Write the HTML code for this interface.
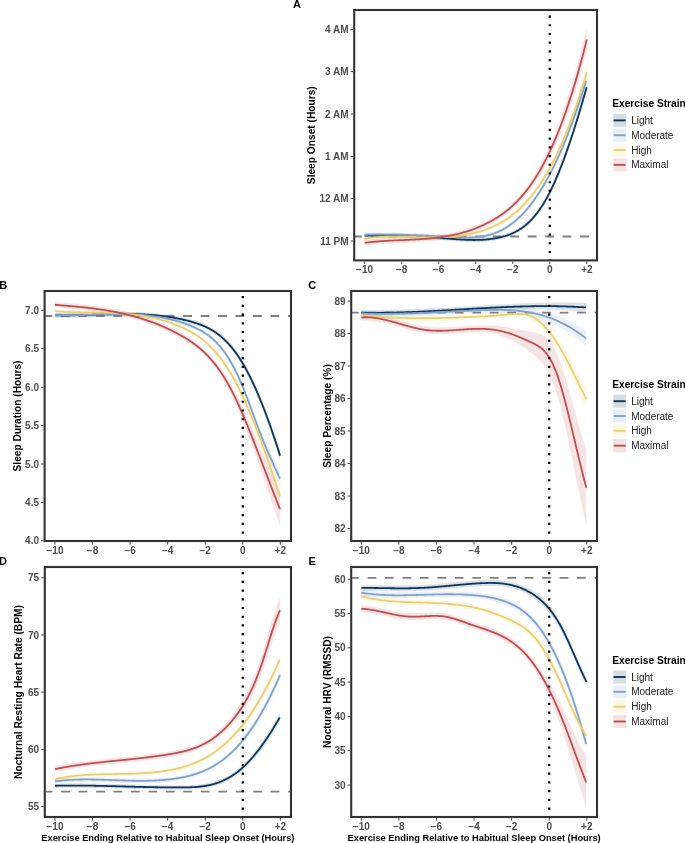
<!DOCTYPE html>
<html><head><meta charset="utf-8"><style>
html,body{margin:0;padding:0;background:#fff;}
body{width:685px;height:843px;overflow:hidden;}
svg{display:block;will-change:transform;}
text{font-family:"Liberation Sans",sans-serif;}
</style></head><body>
<svg width="685" height="843" viewBox="0 0 685 843" font-family="Liberation Sans, sans-serif">
<rect width="685" height="843" fill="#fff"/>
<text x="293.00" y="8.00" font-size="11.00" font-weight="bold" fill="#000" text-anchor="start" >A</text>
<text x="-0.80" y="288.70" font-size="11.00" font-weight="bold" fill="#000" text-anchor="start" >B</text>
<text x="308.20" y="289.00" font-size="11.00" font-weight="bold" fill="#000" text-anchor="start" >C</text>
<text x="-0.90" y="564.60" font-size="11.00" font-weight="bold" fill="#000" text-anchor="start" >D</text>
<text x="308.50" y="564.90" font-size="11.00" font-weight="bold" fill="#000" text-anchor="start" >E</text>
<clipPath id="c354_10"><rect x="354.20" y="10.00" width="242.80" height="250.40"/></clipPath>
<g clip-path="url(#c354_10)">
<path d="M364.60,233.45 L365.34,233.42 L366.09,233.39 L366.83,233.37 L367.57,233.34 L368.31,233.31 L369.06,233.29 L369.80,233.27 L370.54,233.25 L371.29,233.23 L372.03,233.21 L372.77,233.19 L373.51,233.18 L374.26,233.16 L375.00,233.15 L375.74,233.14 L376.48,233.13 L377.23,233.12 L377.97,233.11 L378.71,233.11 L379.46,233.10 L380.20,233.10 L380.94,233.09 L381.68,233.09 L382.43,233.09 L383.17,233.09 L383.91,233.09 L384.66,233.10 L385.40,233.10 L386.14,233.11 L386.88,233.11 L387.63,233.12 L388.37,233.13 L389.11,233.14 L389.86,233.15 L390.60,233.16 L391.34,233.18 L392.08,233.19 L392.83,233.20 L393.57,233.22 L394.31,233.24 L395.06,233.26 L395.80,233.27 L396.54,233.29 L397.28,233.32 L398.03,233.34 L398.77,233.36 L399.51,233.38 L400.25,233.41 L401.00,233.44 L401.74,233.46 L402.48,233.49 L403.23,233.52 L403.97,233.55 L404.71,233.58 L405.45,233.61 L406.20,233.64 L406.94,233.67 L407.68,233.71 L408.43,233.74 L409.17,233.78 L409.91,233.81 L410.65,233.85 L411.40,233.88 L412.14,233.92 L412.88,233.96 L413.63,234.00 L414.37,234.04 L415.11,234.08 L415.85,234.12 L416.60,234.17 L417.34,234.21 L418.08,234.25 L418.83,234.30 L419.57,234.34 L420.31,234.39 L421.05,234.43 L421.80,234.48 L422.54,234.53 L423.28,234.57 L424.02,234.62 L424.77,234.67 L425.51,234.72 L426.25,234.77 L427.00,234.82 L427.74,234.87 L428.48,234.92 L429.22,234.97 L429.97,235.03 L430.71,235.08 L431.45,235.13 L432.20,235.19 L432.94,235.24 L433.68,235.29 L434.42,235.35 L435.17,235.40 L435.91,235.46 L436.65,235.52 L437.40,235.57 L438.14,235.63 L438.88,235.69 L439.62,235.74 L440.37,235.80 L441.11,235.86 L441.85,235.92 L442.59,235.97 L443.34,236.03 L444.08,236.09 L444.82,236.15 L445.57,236.21 L446.31,236.27 L447.05,236.33 L447.79,236.39 L448.54,236.45 L449.28,236.51 L450.02,236.57 L450.77,236.63 L451.51,236.68 L452.25,236.74 L452.99,236.80 L453.74,236.86 L454.48,236.91 L455.22,236.97 L455.97,237.02 L456.71,237.07 L457.45,237.12 L458.19,237.17 L458.94,237.22 L459.68,237.27 L460.42,237.32 L461.17,237.36 L461.91,237.40 L462.65,237.44 L463.39,237.48 L464.14,237.52 L464.88,237.55 L465.62,237.59 L466.36,237.62 L467.11,237.65 L467.85,237.67 L468.59,237.69 L469.34,237.71 L470.08,237.73 L470.82,237.75 L471.56,237.76 L472.31,237.77 L473.05,237.78 L473.79,237.78 L474.54,237.78 L475.28,237.77 L476.02,237.77 L476.76,237.76 L477.51,237.74 L478.25,237.73 L478.99,237.70 L479.74,237.68 L480.48,237.65 L481.22,237.62 L481.96,237.58 L482.71,237.54 L483.45,237.49 L484.19,237.44 L484.94,237.39 L485.68,237.33 L486.42,237.26 L487.16,237.19 L487.91,237.12 L488.65,237.04 L489.39,236.96 L490.13,236.87 L490.88,236.77 L491.62,236.68 L492.36,236.57 L493.11,236.46 L493.85,236.34 L494.59,236.22 L495.33,236.10 L496.08,235.96 L496.82,235.82 L497.56,235.68 L498.31,235.53 L499.05,235.37 L499.79,235.21 L500.53,235.04 L501.28,234.86 L502.02,234.68 L502.76,234.49 L503.51,234.29 L504.25,234.08 L504.99,233.87 L505.73,233.64 L506.48,233.41 L507.22,233.16 L507.96,232.91 L508.71,232.65 L509.45,232.37 L510.19,232.09 L510.93,231.79 L511.68,231.48 L512.42,231.15 L513.16,230.82 L513.90,230.46 L514.65,230.10 L515.39,229.72 L516.13,229.33 L516.88,228.92 L517.62,228.49 L518.36,228.05 L519.10,227.59 L519.85,227.12 L520.59,226.63 L521.33,226.12 L522.08,225.59 L522.82,225.04 L523.56,224.48 L524.30,223.89 L525.05,223.29 L525.79,222.67 L526.53,222.02 L527.28,221.36 L528.02,220.67 L528.76,219.96 L529.50,219.23 L530.25,218.48 L530.99,217.71 L531.73,216.91 L532.47,216.09 L533.22,215.25 L533.96,214.38 L534.70,213.48 L535.45,212.57 L536.19,211.62 L536.93,210.65 L537.67,209.66 L538.42,208.63 L539.16,207.58 L539.90,206.51 L540.65,205.40 L541.39,204.27 L542.13,203.11 L542.87,201.92 L543.62,200.70 L544.36,199.45 L545.10,198.17 L545.85,196.86 L546.59,195.52 L547.33,194.15 L548.07,192.75 L548.82,191.31 L549.56,189.84 L550.30,188.34 L551.05,186.81 L551.79,185.24 L552.53,183.65 L553.27,182.02 L554.02,180.36 L554.76,178.67 L555.50,176.95 L556.24,175.21 L556.99,173.43 L557.73,171.62 L558.47,169.78 L559.22,167.92 L559.96,166.03 L560.70,164.11 L561.44,162.16 L562.19,160.18 L562.93,158.18 L563.67,156.15 L564.42,154.10 L565.16,152.02 L565.90,149.92 L566.64,147.79 L567.39,145.63 L568.13,143.45 L568.87,141.25 L569.62,139.02 L570.36,136.78 L571.10,134.50 L571.84,132.21 L572.59,129.89 L573.33,127.56 L574.07,125.20 L574.82,122.82 L575.56,120.41 L576.30,117.99 L577.04,115.55 L577.79,113.09 L578.53,110.61 L579.27,108.11 L580.01,105.59 L580.76,103.06 L581.50,100.50 L582.24,97.93 L582.99,95.34 L583.73,92.74 L584.47,90.11 L585.21,87.48 L585.96,84.82 L586.70,82.15 L586.70,92.15 L585.96,94.71 L585.21,97.26 L584.47,99.79 L583.73,102.31 L582.99,104.81 L582.24,107.30 L581.50,109.77 L580.76,112.22 L580.01,114.66 L579.27,117.08 L578.53,119.48 L577.79,121.86 L577.04,124.23 L576.30,126.58 L575.56,128.91 L574.82,131.21 L574.07,133.50 L573.33,135.77 L572.59,138.02 L571.84,140.25 L571.10,142.46 L570.36,144.64 L569.62,146.81 L568.87,148.95 L568.13,151.07 L567.39,153.17 L566.64,155.24 L565.90,157.29 L565.16,159.32 L564.42,161.32 L563.67,163.30 L562.93,165.25 L562.19,167.18 L561.44,169.08 L560.70,170.95 L559.96,172.80 L559.22,174.62 L558.47,176.42 L557.73,178.19 L556.99,179.93 L556.24,181.64 L555.50,183.33 L554.76,184.98 L554.02,186.61 L553.27,188.20 L552.53,189.77 L551.79,191.31 L551.05,192.81 L550.30,194.29 L549.56,195.73 L548.82,197.14 L548.07,198.53 L547.33,199.88 L546.59,201.20 L545.85,202.48 L545.10,203.74 L544.36,204.97 L543.62,206.18 L542.87,207.35 L542.13,208.49 L541.39,209.61 L540.65,210.70 L539.90,211.76 L539.16,212.79 L538.42,213.80 L537.67,214.79 L536.93,215.74 L536.19,216.67 L535.45,217.58 L534.70,218.47 L533.96,219.32 L533.22,220.16 L532.47,220.97 L531.73,221.76 L530.99,222.53 L530.25,223.27 L529.50,224.00 L528.76,224.70 L528.02,225.38 L527.28,226.04 L526.53,226.68 L525.79,227.30 L525.05,227.90 L524.30,228.49 L523.56,229.05 L522.82,229.60 L522.08,230.13 L521.33,230.64 L520.59,231.13 L519.85,231.61 L519.10,232.07 L518.36,232.52 L517.62,232.95 L516.88,233.36 L516.13,233.76 L515.39,234.15 L514.65,234.52 L513.90,234.88 L513.16,235.23 L512.42,235.56 L511.68,235.88 L510.93,236.19 L510.19,236.49 L509.45,236.77 L508.71,237.05 L507.96,237.31 L507.22,237.56 L506.48,237.81 L505.73,238.04 L504.99,238.27 L504.25,238.48 L503.51,238.69 L502.76,238.89 L502.02,239.08 L501.28,239.26 L500.53,239.44 L499.79,239.61 L499.05,239.77 L498.31,239.93 L497.56,240.08 L496.82,240.22 L496.08,240.36 L495.33,240.50 L494.59,240.62 L493.85,240.74 L493.11,240.86 L492.36,240.97 L491.62,241.08 L490.88,241.17 L490.13,241.27 L489.39,241.36 L488.65,241.44 L487.91,241.52 L487.16,241.59 L486.42,241.66 L485.68,241.73 L484.94,241.79 L484.19,241.84 L483.45,241.89 L482.71,241.94 L481.96,241.98 L481.22,242.02 L480.48,242.05 L479.74,242.08 L478.99,242.10 L478.25,242.13 L477.51,242.14 L476.76,242.16 L476.02,242.17 L475.28,242.17 L474.54,242.18 L473.79,242.18 L473.05,242.18 L472.31,242.17 L471.56,242.16 L470.82,242.15 L470.08,242.13 L469.34,242.11 L468.59,242.09 L467.85,242.07 L467.11,242.05 L466.36,242.02 L465.62,241.99 L464.88,241.95 L464.14,241.92 L463.39,241.88 L462.65,241.84 L461.91,241.80 L461.17,241.76 L460.42,241.72 L459.68,241.67 L458.94,241.62 L458.19,241.57 L457.45,241.52 L456.71,241.47 L455.97,241.42 L455.22,241.37 L454.48,241.31 L453.74,241.26 L452.99,241.20 L452.25,241.14 L451.51,241.08 L450.77,241.03 L450.02,240.97 L449.28,240.91 L448.54,240.85 L447.79,240.79 L447.05,240.73 L446.31,240.67 L445.57,240.61 L444.82,240.55 L444.08,240.49 L443.34,240.43 L442.59,240.37 L441.85,240.32 L441.11,240.26 L440.37,240.20 L439.62,240.14 L438.88,240.09 L438.14,240.03 L437.40,239.97 L436.65,239.92 L435.91,239.86 L435.17,239.80 L434.42,239.75 L433.68,239.69 L432.94,239.64 L432.20,239.59 L431.45,239.53 L430.71,239.48 L429.97,239.43 L429.22,239.37 L428.48,239.32 L427.74,239.27 L427.00,239.22 L426.25,239.17 L425.51,239.12 L424.77,239.07 L424.02,239.02 L423.28,238.97 L422.54,238.93 L421.80,238.88 L421.05,238.83 L420.31,238.79 L419.57,238.74 L418.83,238.70 L418.08,238.65 L417.34,238.61 L416.60,238.57 L415.85,238.52 L415.11,238.48 L414.37,238.44 L413.63,238.40 L412.88,238.36 L412.14,238.32 L411.40,238.28 L410.65,238.25 L409.91,238.21 L409.17,238.18 L408.43,238.14 L407.68,238.11 L406.94,238.07 L406.20,238.04 L405.45,238.01 L404.71,237.98 L403.97,237.95 L403.23,237.92 L402.48,237.89 L401.74,237.86 L401.00,237.84 L400.25,237.81 L399.51,237.78 L398.77,237.76 L398.03,237.74 L397.28,237.72 L396.54,237.69 L395.80,237.67 L395.06,237.66 L394.31,237.64 L393.57,237.62 L392.83,237.60 L392.08,237.59 L391.34,237.58 L390.60,237.56 L389.86,237.55 L389.11,237.54 L388.37,237.53 L387.63,237.52 L386.88,237.51 L386.14,237.51 L385.40,237.50 L384.66,237.50 L383.91,237.49 L383.17,237.49 L382.43,237.49 L381.68,237.49 L380.94,237.49 L380.20,237.50 L379.46,237.50 L378.71,237.51 L377.97,237.51 L377.23,237.52 L376.48,237.53 L375.74,237.54 L375.00,237.55 L374.26,237.56 L373.51,237.58 L372.77,237.59 L372.03,237.61 L371.29,237.63 L370.54,237.65 L369.80,237.67 L369.06,237.69 L368.31,237.71 L367.57,237.74 L366.83,237.77 L366.09,237.79 L365.34,237.82 L364.60,237.85 Z" fill="#0c365a" fill-opacity="0.15" stroke="none"/>
<path d="M364.60,232.58 L365.34,232.56 L366.08,232.55 L366.82,232.53 L367.57,232.51 L368.31,232.50 L369.05,232.48 L369.79,232.47 L370.53,232.46 L371.27,232.45 L372.01,232.44 L372.76,232.43 L373.50,232.42 L374.24,232.41 L374.98,232.40 L375.72,232.39 L376.46,232.39 L377.21,232.38 L377.95,232.38 L378.69,232.37 L379.43,232.37 L380.17,232.37 L380.91,232.37 L381.65,232.37 L382.40,232.37 L383.14,232.37 L383.88,232.37 L384.62,232.37 L385.36,232.37 L386.10,232.38 L386.84,232.38 L387.59,232.39 L388.33,232.39 L389.07,232.40 L389.81,232.41 L390.55,232.42 L391.29,232.42 L392.03,232.43 L392.78,232.44 L393.52,232.45 L394.26,232.46 L395.00,232.48 L395.74,232.49 L396.48,232.50 L397.22,232.52 L397.97,232.53 L398.71,232.54 L399.45,232.56 L400.19,232.58 L400.93,232.59 L401.67,232.61 L402.42,232.63 L403.16,232.65 L403.90,232.67 L404.64,232.68 L405.38,232.70 L406.12,232.73 L406.86,232.75 L407.61,232.77 L408.35,232.79 L409.09,232.81 L409.83,232.84 L410.57,232.86 L411.31,232.88 L412.05,232.91 L412.80,232.93 L413.54,232.96 L414.28,232.99 L415.02,233.01 L415.76,233.04 L416.50,233.07 L417.24,233.10 L417.99,233.12 L418.73,233.15 L419.47,233.18 L420.21,233.21 L420.95,233.24 L421.69,233.27 L422.43,233.30 L423.18,233.33 L423.92,233.37 L424.66,233.40 L425.40,233.43 L426.14,233.46 L426.88,233.50 L427.63,233.53 L428.37,233.57 L429.11,233.60 L429.85,233.63 L430.59,233.67 L431.33,233.70 L432.07,233.74 L432.82,233.78 L433.56,233.81 L434.30,233.85 L435.04,233.89 L435.78,233.92 L436.52,233.96 L437.26,234.00 L438.01,234.04 L438.75,234.08 L439.49,234.11 L440.23,234.15 L440.97,234.19 L441.71,234.23 L442.45,234.27 L443.20,234.31 L443.94,234.35 L444.68,234.39 L445.42,234.43 L446.16,234.47 L446.90,234.51 L447.64,234.55 L448.39,234.60 L449.13,234.64 L449.87,234.68 L450.61,234.72 L451.35,234.76 L452.09,234.81 L452.84,234.85 L453.58,234.89 L454.32,234.93 L455.06,234.97 L455.80,235.01 L456.54,235.04 L457.28,235.08 L458.03,235.12 L458.77,235.15 L459.51,235.18 L460.25,235.21 L460.99,235.24 L461.73,235.26 L462.47,235.28 L463.22,235.30 L463.96,235.32 L464.70,235.33 L465.44,235.34 L466.18,235.35 L466.92,235.35 L467.66,235.35 L468.41,235.34 L469.15,235.33 L469.89,235.32 L470.63,235.30 L471.37,235.27 L472.11,235.24 L472.85,235.21 L473.60,235.17 L474.34,235.12 L475.08,235.07 L475.82,235.02 L476.56,234.95 L477.30,234.88 L478.05,234.81 L478.79,234.73 L479.53,234.64 L480.27,234.54 L481.01,234.44 L481.75,234.33 L482.49,234.21 L483.24,234.08 L483.98,233.95 L484.72,233.81 L485.46,233.65 L486.20,233.50 L486.94,233.33 L487.68,233.15 L488.43,232.97 L489.17,232.77 L489.91,232.57 L490.65,232.35 L491.39,232.13 L492.13,231.90 L492.87,231.65 L493.62,231.40 L494.36,231.14 L495.10,230.86 L495.84,230.57 L496.58,230.28 L497.32,229.97 L498.06,229.65 L498.81,229.32 L499.55,228.98 L500.29,228.62 L501.03,228.25 L501.77,227.88 L502.51,227.48 L503.26,227.08 L504.00,226.66 L504.74,226.23 L505.48,225.79 L506.22,225.34 L506.96,224.87 L507.70,224.39 L508.45,223.89 L509.19,223.39 L509.93,222.86 L510.67,222.33 L511.41,221.78 L512.15,221.22 L512.89,220.64 L513.64,220.05 L514.38,219.44 L515.12,218.82 L515.86,218.18 L516.60,217.53 L517.34,216.86 L518.08,216.18 L518.83,215.49 L519.57,214.77 L520.31,214.05 L521.05,213.30 L521.79,212.54 L522.53,211.77 L523.27,210.98 L524.02,210.17 L524.76,209.35 L525.50,208.51 L526.24,207.65 L526.98,206.78 L527.72,205.89 L528.47,204.99 L529.21,204.06 L529.95,203.12 L530.69,202.17 L531.43,201.20 L532.17,200.20 L532.91,199.20 L533.66,198.17 L534.40,197.13 L535.14,196.07 L535.88,194.99 L536.62,193.89 L537.36,192.78 L538.10,191.65 L538.85,190.50 L539.59,189.33 L540.33,188.14 L541.07,186.93 L541.81,185.71 L542.55,184.46 L543.29,183.20 L544.04,181.92 L544.78,180.62 L545.52,179.30 L546.26,177.96 L547.00,176.60 L547.74,175.23 L548.48,173.83 L549.23,172.41 L549.97,170.98 L550.71,169.52 L551.45,168.04 L552.19,166.55 L552.93,165.03 L553.68,163.50 L554.42,161.94 L555.16,160.37 L555.90,158.77 L556.64,157.16 L557.38,155.52 L558.12,153.87 L558.87,152.19 L559.61,150.50 L560.35,148.78 L561.09,147.04 L561.83,145.29 L562.57,143.51 L563.31,141.72 L564.06,139.90 L564.80,138.06 L565.54,136.20 L566.28,134.32 L567.02,132.43 L567.76,130.51 L568.50,128.57 L569.25,126.60 L569.99,124.62 L570.73,122.62 L571.47,120.60 L572.21,118.55 L572.95,116.49 L573.69,114.40 L574.44,112.30 L575.18,110.17 L575.92,108.02 L576.66,105.85 L577.40,103.66 L578.14,101.44 L578.89,99.21 L579.63,96.96 L580.37,94.68 L581.11,92.38 L581.85,90.06 L582.59,87.72 L583.33,85.36 L584.08,82.98 L584.82,80.57 L585.56,78.15 L586.30,75.70 L586.30,85.70 L585.56,88.04 L584.82,90.36 L584.08,92.66 L583.33,94.93 L582.59,97.19 L581.85,99.43 L581.11,101.65 L580.37,103.84 L579.63,106.02 L578.89,108.18 L578.14,110.31 L577.40,112.43 L576.66,114.52 L575.92,116.60 L575.18,118.65 L574.44,120.69 L573.69,122.70 L572.95,124.70 L572.21,126.68 L571.47,128.63 L570.73,130.57 L569.99,132.48 L569.25,134.38 L568.50,136.26 L567.76,138.12 L567.02,139.95 L566.28,141.77 L565.54,143.57 L564.80,145.35 L564.06,147.11 L563.31,148.85 L562.57,150.57 L561.83,152.27 L561.09,153.96 L560.35,155.62 L559.61,157.26 L558.87,158.89 L558.12,160.49 L557.38,162.08 L556.64,163.65 L555.90,165.20 L555.16,166.73 L554.42,168.24 L553.68,169.73 L552.93,171.21 L552.19,172.66 L551.45,174.10 L550.71,175.51 L549.97,176.91 L549.23,178.29 L548.48,179.65 L547.74,181.00 L547.00,182.32 L546.26,183.63 L545.52,184.91 L544.78,186.18 L544.04,187.44 L543.29,188.67 L542.55,189.88 L541.81,191.08 L541.07,192.26 L540.33,193.42 L539.59,194.57 L538.85,195.70 L538.10,196.81 L537.36,197.90 L536.62,198.97 L535.88,200.03 L535.14,201.08 L534.40,202.10 L533.66,203.11 L532.91,204.10 L532.17,205.08 L531.43,206.04 L530.69,206.98 L529.95,207.91 L529.21,208.82 L528.47,209.71 L527.72,210.59 L526.98,211.46 L526.24,212.31 L525.50,213.14 L524.76,213.96 L524.02,214.76 L523.27,215.55 L522.53,216.32 L521.79,217.08 L521.05,217.82 L520.31,218.55 L519.57,219.26 L518.83,219.96 L518.08,220.65 L517.34,221.32 L516.60,221.97 L515.86,222.62 L515.12,223.24 L514.38,223.86 L513.64,224.46 L512.89,225.05 L512.15,225.62 L511.41,226.18 L510.67,226.73 L509.93,227.26 L509.19,227.79 L508.45,228.29 L507.70,228.79 L506.96,229.27 L506.22,229.74 L505.48,230.19 L504.74,230.63 L504.00,231.06 L503.26,231.48 L502.51,231.88 L501.77,232.28 L501.03,232.65 L500.29,233.02 L499.55,233.38 L498.81,233.72 L498.06,234.05 L497.32,234.37 L496.58,234.68 L495.84,234.97 L495.10,235.26 L494.36,235.54 L493.62,235.80 L492.87,236.05 L492.13,236.30 L491.39,236.53 L490.65,236.75 L489.91,236.97 L489.17,237.17 L488.43,237.37 L487.68,237.55 L486.94,237.73 L486.20,237.90 L485.46,238.05 L484.72,238.21 L483.98,238.35 L483.24,238.48 L482.49,238.61 L481.75,238.73 L481.01,238.84 L480.27,238.94 L479.53,239.04 L478.79,239.13 L478.05,239.21 L477.30,239.28 L476.56,239.35 L475.82,239.42 L475.08,239.47 L474.34,239.52 L473.60,239.57 L472.85,239.61 L472.11,239.64 L471.37,239.67 L470.63,239.70 L469.89,239.72 L469.15,239.73 L468.41,239.74 L467.66,239.75 L466.92,239.75 L466.18,239.75 L465.44,239.74 L464.70,239.73 L463.96,239.72 L463.22,239.70 L462.47,239.68 L461.73,239.66 L460.99,239.64 L460.25,239.61 L459.51,239.58 L458.77,239.55 L458.03,239.52 L457.28,239.48 L456.54,239.44 L455.80,239.41 L455.06,239.37 L454.32,239.33 L453.58,239.29 L452.84,239.25 L452.09,239.21 L451.35,239.16 L450.61,239.12 L449.87,239.08 L449.13,239.04 L448.39,239.00 L447.64,238.95 L446.90,238.91 L446.16,238.87 L445.42,238.83 L444.68,238.79 L443.94,238.75 L443.20,238.71 L442.45,238.67 L441.71,238.63 L440.97,238.59 L440.23,238.55 L439.49,238.51 L438.75,238.48 L438.01,238.44 L437.26,238.40 L436.52,238.36 L435.78,238.32 L435.04,238.29 L434.30,238.25 L433.56,238.21 L432.82,238.18 L432.07,238.14 L431.33,238.10 L430.59,238.07 L429.85,238.03 L429.11,238.00 L428.37,237.97 L427.63,237.93 L426.88,237.90 L426.14,237.86 L425.40,237.83 L424.66,237.80 L423.92,237.77 L423.18,237.73 L422.43,237.70 L421.69,237.67 L420.95,237.64 L420.21,237.61 L419.47,237.58 L418.73,237.55 L417.99,237.52 L417.24,237.50 L416.50,237.47 L415.76,237.44 L415.02,237.41 L414.28,237.39 L413.54,237.36 L412.80,237.33 L412.05,237.31 L411.31,237.28 L410.57,237.26 L409.83,237.24 L409.09,237.21 L408.35,237.19 L407.61,237.17 L406.86,237.15 L406.12,237.13 L405.38,237.10 L404.64,237.08 L403.90,237.07 L403.16,237.05 L402.42,237.03 L401.67,237.01 L400.93,236.99 L400.19,236.98 L399.45,236.96 L398.71,236.94 L397.97,236.93 L397.22,236.92 L396.48,236.90 L395.74,236.89 L395.00,236.88 L394.26,236.86 L393.52,236.85 L392.78,236.84 L392.03,236.83 L391.29,236.82 L390.55,236.82 L389.81,236.81 L389.07,236.80 L388.33,236.79 L387.59,236.79 L386.84,236.78 L386.10,236.78 L385.36,236.77 L384.62,236.77 L383.88,236.77 L383.14,236.77 L382.40,236.77 L381.65,236.77 L380.91,236.77 L380.17,236.77 L379.43,236.77 L378.69,236.77 L377.95,236.78 L377.21,236.78 L376.46,236.79 L375.72,236.79 L374.98,236.80 L374.24,236.81 L373.50,236.82 L372.76,236.83 L372.01,236.84 L371.27,236.85 L370.53,236.86 L369.79,236.87 L369.05,236.88 L368.31,236.90 L367.57,236.91 L366.82,236.93 L366.08,236.95 L365.34,236.96 L364.60,236.98 Z" fill="#7da2cf" fill-opacity="0.15" stroke="none"/>
<path d="M364.60,236.50 L365.34,236.38 L366.09,236.27 L366.83,236.16 L367.57,236.06 L368.32,235.96 L369.06,235.86 L369.80,235.76 L370.55,235.67 L371.29,235.59 L372.03,235.51 L372.77,235.43 L373.52,235.35 L374.26,235.28 L375.00,235.21 L375.75,235.15 L376.49,235.08 L377.23,235.03 L377.98,234.97 L378.72,234.92 L379.46,234.87 L380.21,234.82 L380.95,234.78 L381.69,234.74 L382.44,234.70 L383.18,234.66 L383.92,234.63 L384.66,234.60 L385.41,234.57 L386.15,234.55 L386.89,234.53 L387.64,234.51 L388.38,234.49 L389.12,234.47 L389.87,234.46 L390.61,234.45 L391.35,234.44 L392.10,234.43 L392.84,234.42 L393.58,234.42 L394.33,234.42 L395.07,234.41 L395.81,234.42 L396.56,234.42 L397.30,234.42 L398.04,234.43 L398.78,234.43 L399.53,234.44 L400.27,234.45 L401.01,234.46 L401.76,234.47 L402.50,234.49 L403.24,234.50 L403.99,234.51 L404.73,234.53 L405.47,234.55 L406.22,234.56 L406.96,234.58 L407.70,234.60 L408.45,234.62 L409.19,234.64 L409.93,234.66 L410.67,234.68 L411.42,234.70 L412.16,234.72 L412.90,234.74 L413.65,234.76 L414.39,234.78 L415.13,234.80 L415.88,234.82 L416.62,234.84 L417.36,234.86 L418.11,234.89 L418.85,234.90 L419.59,234.92 L420.34,234.94 L421.08,234.96 L421.82,234.98 L422.57,235.00 L423.31,235.01 L424.05,235.03 L424.79,235.04 L425.54,235.06 L426.28,235.07 L427.02,235.08 L427.77,235.09 L428.51,235.10 L429.25,235.11 L430.00,235.12 L430.74,235.13 L431.48,235.13 L432.23,235.13 L432.97,235.13 L433.71,235.13 L434.46,235.13 L435.20,235.13 L435.94,235.12 L436.68,235.12 L437.43,235.11 L438.17,235.10 L438.91,235.08 L439.66,235.07 L440.40,235.05 L441.14,235.03 L441.89,235.01 L442.63,234.98 L443.37,234.96 L444.12,234.93 L444.86,234.90 L445.60,234.86 L446.35,234.82 L447.09,234.78 L447.83,234.74 L448.58,234.70 L449.32,234.65 L450.06,234.60 L450.80,234.54 L451.55,234.48 L452.29,234.42 L453.03,234.36 L453.78,234.29 L454.52,234.22 L455.26,234.15 L456.01,234.07 L456.75,233.99 L457.49,233.90 L458.24,233.81 L458.98,233.72 L459.72,233.62 L460.47,233.52 L461.21,233.42 L461.95,233.31 L462.69,233.20 L463.44,233.08 L464.18,232.96 L464.92,232.84 L465.67,232.71 L466.41,232.57 L467.15,232.44 L467.90,232.29 L468.64,232.15 L469.38,232.00 L470.13,231.84 L470.87,231.68 L471.61,231.51 L472.36,231.34 L473.10,231.16 L473.84,230.98 L474.59,230.80 L475.33,230.61 L476.07,230.41 L476.81,230.21 L477.56,230.00 L478.30,229.79 L479.04,229.57 L479.79,229.35 L480.53,229.12 L481.27,228.88 L482.02,228.64 L482.76,228.40 L483.50,228.14 L484.25,227.89 L484.99,227.62 L485.73,227.35 L486.48,227.08 L487.22,226.79 L487.96,226.51 L488.71,226.21 L489.45,225.91 L490.19,225.60 L490.93,225.29 L491.68,224.97 L492.42,224.64 L493.16,224.31 L493.91,223.97 L494.65,223.62 L495.39,223.26 L496.14,222.90 L496.88,222.53 L497.62,222.15 L498.37,221.76 L499.11,221.37 L499.85,220.96 L500.60,220.55 L501.34,220.13 L502.08,219.70 L502.82,219.26 L503.57,218.82 L504.31,218.36 L505.05,217.89 L505.80,217.42 L506.54,216.93 L507.28,216.44 L508.03,215.93 L508.77,215.41 L509.51,214.89 L510.26,214.35 L511.00,213.80 L511.74,213.24 L512.49,212.66 L513.23,212.08 L513.97,211.48 L514.72,210.87 L515.46,210.25 L516.20,209.61 L516.94,208.97 L517.69,208.30 L518.43,207.63 L519.17,206.94 L519.92,206.24 L520.66,205.52 L521.40,204.79 L522.15,204.05 L522.89,203.29 L523.63,202.52 L524.38,201.73 L525.12,200.93 L525.86,200.11 L526.61,199.28 L527.35,198.44 L528.09,197.57 L528.83,196.69 L529.58,195.80 L530.32,194.89 L531.06,193.96 L531.81,193.02 L532.55,192.06 L533.29,191.08 L534.04,190.09 L534.78,189.08 L535.52,188.05 L536.27,187.01 L537.01,185.95 L537.75,184.87 L538.50,183.77 L539.24,182.66 L539.98,181.52 L540.73,180.37 L541.47,179.20 L542.21,178.01 L542.95,176.80 L543.70,175.58 L544.44,174.33 L545.18,173.06 L545.93,171.78 L546.67,170.47 L547.41,169.15 L548.16,167.80 L548.90,166.44 L549.64,165.05 L550.39,163.65 L551.13,162.22 L551.87,160.77 L552.62,159.30 L553.36,157.81 L554.10,156.30 L554.84,154.77 L555.59,153.21 L556.33,151.64 L557.07,150.04 L557.82,148.42 L558.56,146.77 L559.30,145.11 L560.05,143.42 L560.79,141.71 L561.53,139.97 L562.28,138.22 L563.02,136.43 L563.76,134.63 L564.51,132.80 L565.25,130.95 L565.99,129.07 L566.74,127.17 L567.48,125.24 L568.22,123.29 L568.96,121.32 L569.71,119.32 L570.45,117.29 L571.19,115.24 L571.94,113.17 L572.68,111.07 L573.42,108.94 L574.17,106.79 L574.91,104.61 L575.65,102.40 L576.40,100.17 L577.14,97.91 L577.88,95.62 L578.63,93.31 L579.37,90.97 L580.11,88.60 L580.85,86.21 L581.60,83.79 L582.34,81.34 L583.08,78.86 L583.83,76.35 L584.57,73.82 L585.31,71.26 L586.06,68.66 L586.80,66.04 L586.80,78.04 L586.06,80.52 L585.31,82.96 L584.57,85.38 L583.83,87.78 L583.08,90.14 L582.34,92.48 L581.60,94.79 L580.85,97.08 L580.11,99.34 L579.37,101.57 L578.63,103.78 L577.88,105.96 L577.14,108.12 L576.40,110.25 L575.65,112.35 L574.91,114.43 L574.17,116.49 L573.42,118.52 L572.68,120.53 L571.94,122.51 L571.19,124.47 L570.45,126.40 L569.71,128.31 L568.96,130.20 L568.22,132.06 L567.48,133.90 L566.74,135.72 L565.99,137.51 L565.25,139.28 L564.51,141.03 L563.76,142.75 L563.02,144.46 L562.28,146.14 L561.53,147.80 L560.79,149.43 L560.05,151.05 L559.30,152.64 L558.56,154.21 L557.82,155.76 L557.07,157.29 L556.33,158.80 L555.59,160.29 L554.84,161.76 L554.10,163.21 L553.36,164.64 L552.62,166.04 L551.87,167.43 L551.13,168.80 L550.39,170.15 L549.64,171.48 L548.90,172.79 L548.16,174.08 L547.41,175.35 L546.67,176.61 L545.93,177.84 L545.18,179.06 L544.44,180.26 L543.70,181.44 L542.95,182.60 L542.21,183.75 L541.47,184.88 L540.73,185.99 L539.98,187.08 L539.24,188.16 L538.50,189.22 L537.75,190.26 L537.01,191.29 L536.27,192.30 L535.52,193.29 L534.78,194.27 L534.04,195.24 L533.29,196.18 L532.55,197.12 L531.81,198.03 L531.06,198.93 L530.32,199.82 L529.58,200.69 L528.83,201.55 L528.09,202.39 L527.35,203.22 L526.61,204.04 L525.86,204.84 L525.12,205.63 L524.38,206.40 L523.63,207.16 L522.89,207.91 L522.15,208.64 L521.40,209.36 L520.66,210.07 L519.92,210.77 L519.17,211.45 L518.43,212.12 L517.69,212.78 L516.94,213.43 L516.20,214.06 L515.46,214.69 L514.72,215.30 L513.97,215.90 L513.23,216.49 L512.49,217.07 L511.74,217.64 L511.00,218.20 L510.26,218.75 L509.51,219.29 L508.77,219.81 L508.03,220.33 L507.28,220.84 L506.54,221.33 L505.80,221.82 L505.05,222.29 L504.31,222.76 L503.57,223.22 L502.82,223.66 L502.08,224.10 L501.34,224.53 L500.60,224.95 L499.85,225.36 L499.11,225.77 L498.37,226.16 L497.62,226.55 L496.88,226.93 L496.14,227.30 L495.39,227.66 L494.65,228.02 L493.91,228.37 L493.16,228.71 L492.42,229.04 L491.68,229.37 L490.93,229.69 L490.19,230.00 L489.45,230.31 L488.71,230.61 L487.96,230.91 L487.22,231.19 L486.48,231.48 L485.73,231.75 L484.99,232.02 L484.25,232.29 L483.50,232.54 L482.76,232.80 L482.02,233.04 L481.27,233.28 L480.53,233.52 L479.79,233.75 L479.04,233.97 L478.30,234.19 L477.56,234.40 L476.81,234.61 L476.07,234.81 L475.33,235.01 L474.59,235.20 L473.84,235.38 L473.10,235.56 L472.36,235.74 L471.61,235.91 L470.87,236.08 L470.13,236.24 L469.38,236.40 L468.64,236.55 L467.90,236.69 L467.15,236.84 L466.41,236.97 L465.67,237.11 L464.92,237.24 L464.18,237.36 L463.44,237.48 L462.69,237.60 L461.95,237.71 L461.21,237.82 L460.47,237.92 L459.72,238.02 L458.98,238.12 L458.24,238.21 L457.49,238.30 L456.75,238.39 L456.01,238.47 L455.26,238.55 L454.52,238.62 L453.78,238.69 L453.03,238.76 L452.29,238.82 L451.55,238.88 L450.80,238.94 L450.06,239.00 L449.32,239.05 L448.58,239.10 L447.83,239.14 L447.09,239.18 L446.35,239.22 L445.60,239.26 L444.86,239.30 L444.12,239.33 L443.37,239.36 L442.63,239.38 L441.89,239.41 L441.14,239.43 L440.40,239.45 L439.66,239.47 L438.91,239.48 L438.17,239.50 L437.43,239.51 L436.68,239.52 L435.94,239.52 L435.20,239.53 L434.46,239.53 L433.71,239.53 L432.97,239.53 L432.23,239.53 L431.48,239.53 L430.74,239.53 L430.00,239.52 L429.25,239.51 L428.51,239.50 L427.77,239.49 L427.02,239.48 L426.28,239.47 L425.54,239.46 L424.79,239.44 L424.05,239.43 L423.31,239.41 L422.57,239.40 L421.82,239.38 L421.08,239.36 L420.34,239.34 L419.59,239.32 L418.85,239.30 L418.11,239.29 L417.36,239.26 L416.62,239.24 L415.88,239.22 L415.13,239.20 L414.39,239.18 L413.65,239.16 L412.90,239.14 L412.16,239.12 L411.42,239.10 L410.67,239.08 L409.93,239.06 L409.19,239.04 L408.45,239.02 L407.70,239.00 L406.96,238.98 L406.22,238.96 L405.47,238.95 L404.73,238.93 L403.99,238.91 L403.24,238.90 L402.50,238.89 L401.76,238.87 L401.01,238.86 L400.27,238.85 L399.53,238.84 L398.78,238.83 L398.04,238.83 L397.30,238.82 L396.56,238.82 L395.81,238.82 L395.07,238.81 L394.33,238.82 L393.58,238.82 L392.84,238.82 L392.10,238.83 L391.35,238.84 L390.61,238.85 L389.87,238.86 L389.12,238.87 L388.38,238.89 L387.64,238.91 L386.89,238.93 L386.15,238.95 L385.41,238.97 L384.66,239.00 L383.92,239.03 L383.18,239.06 L382.44,239.10 L381.69,239.14 L380.95,239.18 L380.21,239.22 L379.46,239.27 L378.72,239.32 L377.98,239.37 L377.23,239.43 L376.49,239.48 L375.75,239.55 L375.00,239.61 L374.26,239.68 L373.52,239.75 L372.77,239.83 L372.03,239.91 L371.29,239.99 L370.55,240.07 L369.80,240.16 L369.06,240.26 L368.32,240.36 L367.57,240.46 L366.83,240.56 L366.09,240.67 L365.34,240.78 L364.60,240.90 Z" fill="#eccf6c" fill-opacity="0.15" stroke="none"/>
<path d="M364.60,240.02 L365.34,239.92 L366.09,239.83 L366.83,239.74 L367.57,239.65 L368.32,239.56 L369.06,239.48 L369.80,239.40 L370.55,239.32 L371.29,239.24 L372.03,239.17 L372.77,239.10 L373.52,239.03 L374.26,238.96 L375.00,238.89 L375.75,238.82 L376.49,238.76 L377.23,238.70 L377.98,238.64 L378.72,238.58 L379.46,238.53 L380.21,238.47 L380.95,238.42 L381.69,238.37 L382.44,238.32 L383.18,238.27 L383.92,238.22 L384.66,238.17 L385.41,238.13 L386.15,238.08 L386.89,238.04 L387.64,238.00 L388.38,237.96 L389.12,237.92 L389.87,237.88 L390.61,237.84 L391.35,237.80 L392.10,237.77 L392.84,237.73 L393.58,237.69 L394.33,237.66 L395.07,237.62 L395.81,237.59 L396.56,237.56 L397.30,237.52 L398.04,237.49 L398.78,237.46 L399.53,237.42 L400.27,237.39 L401.01,237.36 L401.76,237.33 L402.50,237.29 L403.24,237.26 L403.99,237.23 L404.73,237.20 L405.47,237.16 L406.22,237.13 L406.96,237.10 L407.70,237.06 L408.45,237.03 L409.19,236.99 L409.93,236.96 L410.67,236.92 L411.42,236.89 L412.16,236.85 L412.90,236.81 L413.65,236.77 L414.39,236.73 L415.13,236.69 L415.88,236.65 L416.62,236.61 L417.36,236.57 L418.11,236.52 L418.85,236.48 L419.59,236.43 L420.34,236.38 L421.08,236.33 L421.82,236.28 L422.57,236.23 L423.31,236.17 L424.05,236.12 L424.79,236.06 L425.54,236.00 L426.28,235.94 L427.02,235.88 L427.77,235.82 L428.51,235.75 L429.25,235.68 L430.00,235.62 L430.74,235.54 L431.48,235.47 L432.23,235.40 L432.97,235.32 L433.71,235.24 L434.46,235.16 L435.20,235.07 L435.94,234.98 L436.68,234.90 L437.43,234.80 L438.17,234.71 L438.91,234.61 L439.66,234.51 L440.40,234.41 L441.14,234.31 L441.89,234.20 L442.63,234.09 L443.37,233.98 L444.12,233.86 L444.86,233.74 L445.60,233.62 L446.35,233.49 L447.09,233.37 L447.83,233.23 L448.58,233.10 L449.32,232.96 L450.06,232.82 L450.80,232.68 L451.55,232.53 L452.29,232.38 L453.03,232.22 L453.78,232.06 L454.52,231.90 L455.26,231.73 L456.01,231.56 L456.75,231.39 L457.49,231.21 L458.24,231.03 L458.98,230.84 L459.72,230.65 L460.47,230.46 L461.21,230.26 L461.95,230.06 L462.69,229.85 L463.44,229.64 L464.18,229.43 L464.92,229.21 L465.67,228.99 L466.41,228.76 L467.15,228.53 L467.90,228.29 L468.64,228.05 L469.38,227.80 L470.13,227.55 L470.87,227.29 L471.61,227.03 L472.36,226.77 L473.10,226.49 L473.84,226.22 L474.59,225.94 L475.33,225.65 L476.07,225.36 L476.81,225.06 L477.56,224.76 L478.30,224.45 L479.04,224.14 L479.79,223.82 L480.53,223.50 L481.27,223.17 L482.02,222.84 L482.76,222.50 L483.50,222.15 L484.25,221.80 L484.99,221.44 L485.73,221.08 L486.48,220.71 L487.22,220.33 L487.96,219.95 L488.71,219.57 L489.45,219.17 L490.19,218.77 L490.93,218.37 L491.68,217.96 L492.42,217.54 L493.16,217.11 L493.91,216.68 L494.65,216.24 L495.39,215.80 L496.14,215.34 L496.88,214.88 L497.62,214.41 L498.37,213.93 L499.11,213.45 L499.85,212.95 L500.60,212.45 L501.34,211.94 L502.08,211.41 L502.82,210.88 L503.57,210.33 L504.31,209.77 L505.05,209.21 L505.80,208.62 L506.54,208.03 L507.28,207.43 L508.03,206.81 L508.77,206.18 L509.51,205.54 L510.26,204.89 L511.00,204.22 L511.74,203.54 L512.49,202.84 L513.23,202.13 L513.97,201.41 L514.72,200.67 L515.46,199.92 L516.20,199.15 L516.94,198.37 L517.69,197.58 L518.43,196.76 L519.17,195.94 L519.92,195.09 L520.66,194.24 L521.40,193.36 L522.15,192.47 L522.89,191.56 L523.63,190.64 L524.38,189.69 L525.12,188.73 L525.86,187.76 L526.61,186.76 L527.35,185.75 L528.09,184.72 L528.83,183.67 L529.58,182.60 L530.32,181.52 L531.06,180.41 L531.81,179.29 L532.55,178.14 L533.29,176.98 L534.04,175.79 L534.78,174.59 L535.52,173.37 L536.27,172.12 L537.01,170.86 L537.75,169.57 L538.50,168.26 L539.24,166.93 L539.98,165.58 L540.73,164.21 L541.47,162.82 L542.21,161.40 L542.95,159.96 L543.70,158.50 L544.44,157.01 L545.18,155.51 L545.93,153.97 L546.67,152.42 L547.41,150.84 L548.16,149.24 L548.90,147.61 L549.64,145.96 L550.39,144.28 L551.13,142.58 L551.87,140.86 L552.62,139.11 L553.36,137.33 L554.10,135.53 L554.84,133.70 L555.59,131.84 L556.33,129.96 L557.07,128.06 L557.82,126.12 L558.56,124.16 L559.30,122.17 L560.05,120.16 L560.79,118.11 L561.53,116.04 L562.28,113.94 L563.02,111.81 L563.76,109.66 L564.51,107.47 L565.25,105.26 L565.99,103.01 L566.74,100.74 L567.48,98.44 L568.22,96.10 L568.96,93.74 L569.71,91.35 L570.45,88.93 L571.19,86.47 L571.94,83.99 L572.68,81.47 L573.42,78.92 L574.17,76.34 L574.91,73.73 L575.65,71.09 L576.40,68.41 L577.14,65.71 L577.88,62.97 L578.63,60.19 L579.37,57.39 L580.11,54.55 L580.85,51.67 L581.60,48.77 L582.34,45.83 L583.08,42.85 L583.83,39.84 L584.57,36.80 L585.31,33.72 L586.06,30.61 L586.80,27.46 L586.80,51.46 L586.06,54.29 L585.31,57.10 L584.57,59.87 L583.83,62.60 L583.08,65.31 L582.34,67.99 L581.60,70.63 L580.85,73.24 L580.11,75.82 L579.37,78.37 L578.63,80.89 L577.88,83.38 L577.14,85.84 L576.40,88.27 L575.65,90.67 L574.91,93.04 L574.17,95.38 L573.42,97.69 L572.68,99.97 L571.94,102.22 L571.19,104.45 L570.45,106.65 L569.71,108.82 L568.96,110.96 L568.22,113.07 L567.48,115.16 L566.74,117.22 L565.99,119.25 L565.25,121.25 L564.51,123.23 L563.76,125.19 L563.02,127.11 L562.28,129.01 L561.53,130.89 L560.79,132.74 L560.05,134.56 L559.30,136.36 L558.56,138.14 L557.82,139.89 L557.07,141.61 L556.33,143.31 L555.59,144.99 L554.84,146.65 L554.10,148.28 L553.36,149.88 L552.62,151.47 L551.87,153.03 L551.13,154.57 L550.39,156.08 L549.64,157.58 L548.90,159.05 L548.16,160.50 L547.41,161.93 L546.67,163.34 L545.93,164.73 L545.18,166.09 L544.44,167.44 L543.70,168.76 L542.95,170.07 L542.21,171.35 L541.47,172.62 L540.73,173.86 L539.98,175.09 L539.24,176.29 L538.50,177.48 L537.75,178.65 L537.01,179.80 L536.27,180.93 L535.52,182.05 L534.78,183.14 L534.04,184.22 L533.29,185.29 L532.55,186.33 L531.81,187.36 L531.06,188.37 L530.32,189.36 L529.58,190.34 L528.83,191.30 L528.09,192.25 L527.35,193.18 L526.61,194.09 L525.86,194.99 L525.12,195.88 L524.38,196.74 L523.63,197.60 L522.89,198.44 L522.15,199.27 L521.40,200.08 L520.66,200.88 L519.92,201.66 L519.17,202.44 L518.43,203.19 L517.69,203.94 L516.94,204.67 L516.20,205.39 L515.46,206.10 L514.72,206.80 L513.97,207.49 L513.23,208.16 L512.49,208.82 L511.74,209.47 L511.00,210.11 L510.26,210.74 L509.51,211.36 L508.77,211.97 L508.03,212.57 L507.28,213.16 L506.54,213.74 L505.80,214.31 L505.05,214.87 L504.31,215.42 L503.57,215.96 L502.82,216.50 L502.08,217.02 L501.34,217.54 L500.60,218.05 L499.85,218.55 L499.11,219.05 L498.37,219.53 L497.62,220.01 L496.88,220.48 L496.14,220.94 L495.39,221.40 L494.65,221.84 L493.91,222.28 L493.16,222.71 L492.42,223.14 L491.68,223.56 L490.93,223.97 L490.19,224.37 L489.45,224.77 L488.71,225.17 L487.96,225.55 L487.22,225.93 L486.48,226.31 L485.73,226.68 L484.99,227.04 L484.25,227.40 L483.50,227.75 L482.76,228.10 L482.02,228.44 L481.27,228.77 L480.53,229.10 L479.79,229.42 L479.04,229.74 L478.30,230.05 L477.56,230.36 L476.81,230.66 L476.07,230.96 L475.33,231.25 L474.59,231.54 L473.84,231.82 L473.10,232.09 L472.36,232.37 L471.61,232.63 L470.87,232.89 L470.13,233.15 L469.38,233.40 L468.64,233.65 L467.90,233.89 L467.15,234.13 L466.41,234.36 L465.67,234.59 L464.92,234.81 L464.18,235.03 L463.44,235.24 L462.69,235.45 L461.95,235.66 L461.21,235.86 L460.47,236.06 L459.72,236.25 L458.98,236.44 L458.24,236.63 L457.49,236.81 L456.75,236.99 L456.01,237.16 L455.26,237.33 L454.52,237.50 L453.78,237.66 L453.03,237.82 L452.29,237.98 L451.55,238.13 L450.80,238.28 L450.06,238.42 L449.32,238.56 L448.58,238.70 L447.83,238.83 L447.09,238.97 L446.35,239.09 L445.60,239.22 L444.86,239.34 L444.12,239.46 L443.37,239.58 L442.63,239.69 L441.89,239.80 L441.14,239.91 L440.40,240.01 L439.66,240.11 L438.91,240.21 L438.17,240.31 L437.43,240.40 L436.68,240.50 L435.94,240.58 L435.20,240.67 L434.46,240.76 L433.71,240.84 L432.97,240.92 L432.23,241.00 L431.48,241.07 L430.74,241.14 L430.00,241.22 L429.25,241.28 L428.51,241.35 L427.77,241.42 L427.02,241.48 L426.28,241.54 L425.54,241.60 L424.79,241.66 L424.05,241.72 L423.31,241.77 L422.57,241.83 L421.82,241.88 L421.08,241.93 L420.34,241.98 L419.59,242.03 L418.85,242.08 L418.11,242.12 L417.36,242.17 L416.62,242.21 L415.88,242.25 L415.13,242.29 L414.39,242.33 L413.65,242.37 L412.90,242.41 L412.16,242.45 L411.42,242.49 L410.67,242.52 L409.93,242.56 L409.19,242.59 L408.45,242.63 L407.70,242.66 L406.96,242.70 L406.22,242.73 L405.47,242.76 L404.73,242.80 L403.99,242.83 L403.24,242.86 L402.50,242.89 L401.76,242.93 L401.01,242.96 L400.27,242.99 L399.53,243.02 L398.78,243.06 L398.04,243.09 L397.30,243.12 L396.56,243.16 L395.81,243.19 L395.07,243.22 L394.33,243.26 L393.58,243.29 L392.84,243.33 L392.10,243.37 L391.35,243.40 L390.61,243.44 L389.87,243.48 L389.12,243.52 L388.38,243.56 L387.64,243.60 L386.89,243.64 L386.15,243.68 L385.41,243.73 L384.66,243.77 L383.92,243.82 L383.18,243.87 L382.44,243.92 L381.69,243.97 L380.95,244.02 L380.21,244.07 L379.46,244.13 L378.72,244.18 L377.98,244.24 L377.23,244.30 L376.49,244.36 L375.75,244.42 L375.00,244.49 L374.26,244.56 L373.52,244.63 L372.77,244.70 L372.03,244.77 L371.29,244.84 L370.55,244.92 L369.80,245.00 L369.06,245.08 L368.32,245.16 L367.57,245.25 L366.83,245.34 L366.09,245.43 L365.34,245.52 L364.60,245.62 Z" fill="#c24d4e" fill-opacity="0.15" stroke="none"/>
<line x1="353.10" y1="236.50" x2="599.00" y2="236.50" stroke="#808080" stroke-width="1.9" stroke-dasharray="8.75 8.71"/>
<path d="M364.60,235.65 L365.34,235.62 L366.09,235.59 L366.83,235.57 L367.57,235.54 L368.31,235.51 L369.06,235.49 L369.80,235.47 L370.54,235.45 L371.29,235.43 L372.03,235.41 L372.77,235.39 L373.51,235.38 L374.26,235.36 L375.00,235.35 L375.74,235.34 L376.48,235.33 L377.23,235.32 L377.97,235.31 L378.71,235.31 L379.46,235.30 L380.20,235.30 L380.94,235.29 L381.68,235.29 L382.43,235.29 L383.17,235.29 L383.91,235.29 L384.66,235.30 L385.40,235.30 L386.14,235.31 L386.88,235.31 L387.63,235.32 L388.37,235.33 L389.11,235.34 L389.86,235.35 L390.60,235.36 L391.34,235.38 L392.08,235.39 L392.83,235.40 L393.57,235.42 L394.31,235.44 L395.06,235.46 L395.80,235.47 L396.54,235.49 L397.28,235.52 L398.03,235.54 L398.77,235.56 L399.51,235.58 L400.25,235.61 L401.00,235.64 L401.74,235.66 L402.48,235.69 L403.23,235.72 L403.97,235.75 L404.71,235.78 L405.45,235.81 L406.20,235.84 L406.94,235.87 L407.68,235.91 L408.43,235.94 L409.17,235.98 L409.91,236.01 L410.65,236.05 L411.40,236.08 L412.14,236.12 L412.88,236.16 L413.63,236.20 L414.37,236.24 L415.11,236.28 L415.85,236.32 L416.60,236.37 L417.34,236.41 L418.08,236.45 L418.83,236.50 L419.57,236.54 L420.31,236.59 L421.05,236.63 L421.80,236.68 L422.54,236.73 L423.28,236.77 L424.02,236.82 L424.77,236.87 L425.51,236.92 L426.25,236.97 L427.00,237.02 L427.74,237.07 L428.48,237.12 L429.22,237.17 L429.97,237.23 L430.71,237.28 L431.45,237.33 L432.20,237.39 L432.94,237.44 L433.68,237.49 L434.42,237.55 L435.17,237.60 L435.91,237.66 L436.65,237.72 L437.40,237.77 L438.14,237.83 L438.88,237.89 L439.62,237.94 L440.37,238.00 L441.11,238.06 L441.85,238.12 L442.59,238.17 L443.34,238.23 L444.08,238.29 L444.82,238.35 L445.57,238.41 L446.31,238.47 L447.05,238.53 L447.79,238.59 L448.54,238.65 L449.28,238.71 L450.02,238.77 L450.77,238.83 L451.51,238.88 L452.25,238.94 L452.99,239.00 L453.74,239.06 L454.48,239.11 L455.22,239.17 L455.97,239.22 L456.71,239.27 L457.45,239.32 L458.19,239.37 L458.94,239.42 L459.68,239.47 L460.42,239.52 L461.17,239.56 L461.91,239.60 L462.65,239.64 L463.39,239.68 L464.14,239.72 L464.88,239.75 L465.62,239.79 L466.36,239.82 L467.11,239.85 L467.85,239.87 L468.59,239.89 L469.34,239.91 L470.08,239.93 L470.82,239.95 L471.56,239.96 L472.31,239.97 L473.05,239.98 L473.79,239.98 L474.54,239.98 L475.28,239.97 L476.02,239.97 L476.76,239.96 L477.51,239.94 L478.25,239.93 L478.99,239.90 L479.74,239.88 L480.48,239.85 L481.22,239.82 L481.96,239.78 L482.71,239.74 L483.45,239.69 L484.19,239.64 L484.94,239.59 L485.68,239.53 L486.42,239.46 L487.16,239.39 L487.91,239.32 L488.65,239.24 L489.39,239.16 L490.13,239.07 L490.88,238.97 L491.62,238.88 L492.36,238.77 L493.11,238.66 L493.85,238.54 L494.59,238.42 L495.33,238.30 L496.08,238.16 L496.82,238.02 L497.56,237.88 L498.31,237.73 L499.05,237.57 L499.79,237.41 L500.53,237.24 L501.28,237.06 L502.02,236.88 L502.76,236.69 L503.51,236.49 L504.25,236.28 L504.99,236.07 L505.73,235.84 L506.48,235.61 L507.22,235.36 L507.96,235.11 L508.71,234.85 L509.45,234.57 L510.19,234.29 L510.93,233.99 L511.68,233.68 L512.42,233.36 L513.16,233.02 L513.90,232.67 L514.65,232.31 L515.39,231.93 L516.13,231.54 L516.88,231.14 L517.62,230.72 L518.36,230.28 L519.10,229.83 L519.85,229.36 L520.59,228.88 L521.33,228.38 L522.08,227.86 L522.82,227.32 L523.56,226.76 L524.30,226.19 L525.05,225.60 L525.79,224.98 L526.53,224.35 L527.28,223.70 L528.02,223.03 L528.76,222.33 L529.50,221.62 L530.25,220.88 L530.99,220.12 L531.73,219.34 L532.47,218.53 L533.22,217.70 L533.96,216.85 L534.70,215.97 L535.45,215.07 L536.19,214.15 L536.93,213.20 L537.67,212.22 L538.42,211.22 L539.16,210.19 L539.90,209.13 L540.65,208.05 L541.39,206.94 L542.13,205.80 L542.87,204.63 L543.62,203.44 L544.36,202.21 L545.10,200.96 L545.85,199.67 L546.59,198.36 L547.33,197.01 L548.07,195.64 L548.82,194.23 L549.56,192.79 L550.30,191.32 L551.05,189.81 L551.79,188.28 L552.53,186.71 L553.27,185.11 L554.02,183.48 L554.76,181.83 L555.50,180.14 L556.24,178.42 L556.99,176.68 L557.73,174.90 L558.47,173.10 L559.22,171.27 L559.96,169.41 L560.70,167.53 L561.44,165.62 L562.19,163.68 L562.93,161.71 L563.67,159.72 L564.42,157.71 L565.16,155.67 L565.90,153.60 L566.64,151.51 L567.39,149.40 L568.13,147.26 L568.87,145.10 L569.62,142.92 L570.36,140.71 L571.10,138.48 L571.84,136.23 L572.59,133.96 L573.33,131.66 L574.07,129.35 L574.82,127.02 L575.56,124.66 L576.30,122.29 L577.04,119.89 L577.79,117.48 L578.53,115.04 L579.27,112.59 L580.01,110.13 L580.76,107.64 L581.50,105.14 L582.24,102.61 L582.99,100.08 L583.73,97.52 L584.47,94.95 L585.21,92.37 L585.96,89.77 L586.70,87.15" fill="none" stroke="#0c365a" stroke-width="1.80" stroke-linecap="butt" stroke-linejoin="round"/>
<path d="M364.60,234.78 L365.34,234.76 L366.08,234.75 L366.82,234.73 L367.57,234.71 L368.31,234.70 L369.05,234.68 L369.79,234.67 L370.53,234.66 L371.27,234.65 L372.01,234.64 L372.76,234.63 L373.50,234.62 L374.24,234.61 L374.98,234.60 L375.72,234.59 L376.46,234.59 L377.21,234.58 L377.95,234.58 L378.69,234.57 L379.43,234.57 L380.17,234.57 L380.91,234.57 L381.65,234.57 L382.40,234.57 L383.14,234.57 L383.88,234.57 L384.62,234.57 L385.36,234.57 L386.10,234.58 L386.84,234.58 L387.59,234.59 L388.33,234.59 L389.07,234.60 L389.81,234.61 L390.55,234.62 L391.29,234.62 L392.03,234.63 L392.78,234.64 L393.52,234.65 L394.26,234.66 L395.00,234.68 L395.74,234.69 L396.48,234.70 L397.22,234.72 L397.97,234.73 L398.71,234.74 L399.45,234.76 L400.19,234.78 L400.93,234.79 L401.67,234.81 L402.42,234.83 L403.16,234.85 L403.90,234.87 L404.64,234.88 L405.38,234.90 L406.12,234.93 L406.86,234.95 L407.61,234.97 L408.35,234.99 L409.09,235.01 L409.83,235.04 L410.57,235.06 L411.31,235.08 L412.05,235.11 L412.80,235.13 L413.54,235.16 L414.28,235.19 L415.02,235.21 L415.76,235.24 L416.50,235.27 L417.24,235.30 L417.99,235.32 L418.73,235.35 L419.47,235.38 L420.21,235.41 L420.95,235.44 L421.69,235.47 L422.43,235.50 L423.18,235.53 L423.92,235.57 L424.66,235.60 L425.40,235.63 L426.14,235.66 L426.88,235.70 L427.63,235.73 L428.37,235.77 L429.11,235.80 L429.85,235.83 L430.59,235.87 L431.33,235.90 L432.07,235.94 L432.82,235.98 L433.56,236.01 L434.30,236.05 L435.04,236.09 L435.78,236.12 L436.52,236.16 L437.26,236.20 L438.01,236.24 L438.75,236.28 L439.49,236.31 L440.23,236.35 L440.97,236.39 L441.71,236.43 L442.45,236.47 L443.20,236.51 L443.94,236.55 L444.68,236.59 L445.42,236.63 L446.16,236.67 L446.90,236.71 L447.64,236.75 L448.39,236.80 L449.13,236.84 L449.87,236.88 L450.61,236.92 L451.35,236.96 L452.09,237.01 L452.84,237.05 L453.58,237.09 L454.32,237.13 L455.06,237.17 L455.80,237.21 L456.54,237.24 L457.28,237.28 L458.03,237.32 L458.77,237.35 L459.51,237.38 L460.25,237.41 L460.99,237.44 L461.73,237.46 L462.47,237.48 L463.22,237.50 L463.96,237.52 L464.70,237.53 L465.44,237.54 L466.18,237.55 L466.92,237.55 L467.66,237.55 L468.41,237.54 L469.15,237.53 L469.89,237.52 L470.63,237.50 L471.37,237.47 L472.11,237.44 L472.85,237.41 L473.60,237.37 L474.34,237.32 L475.08,237.27 L475.82,237.22 L476.56,237.15 L477.30,237.08 L478.05,237.01 L478.79,236.93 L479.53,236.84 L480.27,236.74 L481.01,236.64 L481.75,236.53 L482.49,236.41 L483.24,236.28 L483.98,236.15 L484.72,236.01 L485.46,235.85 L486.20,235.70 L486.94,235.53 L487.68,235.35 L488.43,235.17 L489.17,234.97 L489.91,234.77 L490.65,234.55 L491.39,234.33 L492.13,234.10 L492.87,233.85 L493.62,233.60 L494.36,233.34 L495.10,233.06 L495.84,232.77 L496.58,232.48 L497.32,232.17 L498.06,231.85 L498.81,231.52 L499.55,231.18 L500.29,230.82 L501.03,230.45 L501.77,230.08 L502.51,229.68 L503.26,229.28 L504.00,228.86 L504.74,228.43 L505.48,227.99 L506.22,227.54 L506.96,227.07 L507.70,226.59 L508.45,226.09 L509.19,225.59 L509.93,225.06 L510.67,224.53 L511.41,223.98 L512.15,223.42 L512.89,222.84 L513.64,222.25 L514.38,221.65 L515.12,221.03 L515.86,220.40 L516.60,219.75 L517.34,219.09 L518.08,218.41 L518.83,217.72 L519.57,217.02 L520.31,216.30 L521.05,215.56 L521.79,214.81 L522.53,214.04 L523.27,213.26 L524.02,212.47 L524.76,211.65 L525.50,210.82 L526.24,209.98 L526.98,209.12 L527.72,208.24 L528.47,207.35 L529.21,206.44 L529.95,205.52 L530.69,204.57 L531.43,203.62 L532.17,202.64 L532.91,201.65 L533.66,200.64 L534.40,199.61 L535.14,198.57 L535.88,197.51 L536.62,196.43 L537.36,195.34 L538.10,194.23 L538.85,193.10 L539.59,191.95 L540.33,190.78 L541.07,189.60 L541.81,188.40 L542.55,187.17 L543.29,185.94 L544.04,184.68 L544.78,183.40 L545.52,182.11 L546.26,180.79 L547.00,179.46 L547.74,178.11 L548.48,176.74 L549.23,175.35 L549.97,173.94 L550.71,172.52 L551.45,171.07 L552.19,169.60 L552.93,168.12 L553.68,166.61 L554.42,165.09 L555.16,163.55 L555.90,161.98 L556.64,160.40 L557.38,158.80 L558.12,157.18 L558.87,155.54 L559.61,153.88 L560.35,152.20 L561.09,150.50 L561.83,148.78 L562.57,147.04 L563.31,145.28 L564.06,143.50 L564.80,141.71 L565.54,139.89 L566.28,138.05 L567.02,136.19 L567.76,134.31 L568.50,132.41 L569.25,130.49 L569.99,128.55 L570.73,126.59 L571.47,124.61 L572.21,122.61 L572.95,120.59 L573.69,118.55 L574.44,116.49 L575.18,114.41 L575.92,112.31 L576.66,110.19 L577.40,108.04 L578.14,105.88 L578.89,103.69 L579.63,101.49 L580.37,99.26 L581.11,97.01 L581.85,94.75 L582.59,92.46 L583.33,90.15 L584.08,87.82 L584.82,85.46 L585.56,83.09 L586.30,80.70" fill="none" stroke="#7da2cf" stroke-width="1.80" stroke-linecap="butt" stroke-linejoin="round"/>
<path d="M364.60,238.70 L365.34,238.58 L366.09,238.47 L366.83,238.36 L367.57,238.26 L368.32,238.16 L369.06,238.06 L369.80,237.96 L370.55,237.87 L371.29,237.79 L372.03,237.71 L372.77,237.63 L373.52,237.55 L374.26,237.48 L375.00,237.41 L375.75,237.35 L376.49,237.28 L377.23,237.23 L377.98,237.17 L378.72,237.12 L379.46,237.07 L380.21,237.02 L380.95,236.98 L381.69,236.94 L382.44,236.90 L383.18,236.86 L383.92,236.83 L384.66,236.80 L385.41,236.77 L386.15,236.75 L386.89,236.73 L387.64,236.71 L388.38,236.69 L389.12,236.67 L389.87,236.66 L390.61,236.65 L391.35,236.64 L392.10,236.63 L392.84,236.62 L393.58,236.62 L394.33,236.62 L395.07,236.61 L395.81,236.62 L396.56,236.62 L397.30,236.62 L398.04,236.63 L398.78,236.63 L399.53,236.64 L400.27,236.65 L401.01,236.66 L401.76,236.67 L402.50,236.69 L403.24,236.70 L403.99,236.71 L404.73,236.73 L405.47,236.75 L406.22,236.76 L406.96,236.78 L407.70,236.80 L408.45,236.82 L409.19,236.84 L409.93,236.86 L410.67,236.88 L411.42,236.90 L412.16,236.92 L412.90,236.94 L413.65,236.96 L414.39,236.98 L415.13,237.00 L415.88,237.02 L416.62,237.04 L417.36,237.06 L418.11,237.09 L418.85,237.10 L419.59,237.12 L420.34,237.14 L421.08,237.16 L421.82,237.18 L422.57,237.20 L423.31,237.21 L424.05,237.23 L424.79,237.24 L425.54,237.26 L426.28,237.27 L427.02,237.28 L427.77,237.29 L428.51,237.30 L429.25,237.31 L430.00,237.32 L430.74,237.33 L431.48,237.33 L432.23,237.33 L432.97,237.33 L433.71,237.33 L434.46,237.33 L435.20,237.33 L435.94,237.32 L436.68,237.32 L437.43,237.31 L438.17,237.30 L438.91,237.28 L439.66,237.27 L440.40,237.25 L441.14,237.23 L441.89,237.21 L442.63,237.18 L443.37,237.16 L444.12,237.13 L444.86,237.10 L445.60,237.06 L446.35,237.02 L447.09,236.98 L447.83,236.94 L448.58,236.90 L449.32,236.85 L450.06,236.80 L450.80,236.74 L451.55,236.68 L452.29,236.62 L453.03,236.56 L453.78,236.49 L454.52,236.42 L455.26,236.35 L456.01,236.27 L456.75,236.19 L457.49,236.10 L458.24,236.01 L458.98,235.92 L459.72,235.82 L460.47,235.72 L461.21,235.62 L461.95,235.51 L462.69,235.40 L463.44,235.28 L464.18,235.16 L464.92,235.04 L465.67,234.91 L466.41,234.77 L467.15,234.64 L467.90,234.49 L468.64,234.35 L469.38,234.20 L470.13,234.04 L470.87,233.88 L471.61,233.71 L472.36,233.54 L473.10,233.36 L473.84,233.18 L474.59,233.00 L475.33,232.81 L476.07,232.61 L476.81,232.41 L477.56,232.20 L478.30,231.99 L479.04,231.77 L479.79,231.55 L480.53,231.32 L481.27,231.08 L482.02,230.84 L482.76,230.60 L483.50,230.34 L484.25,230.09 L484.99,229.82 L485.73,229.55 L486.48,229.28 L487.22,228.99 L487.96,228.71 L488.71,228.41 L489.45,228.11 L490.19,227.80 L490.93,227.49 L491.68,227.17 L492.42,226.84 L493.16,226.51 L493.91,226.17 L494.65,225.82 L495.39,225.46 L496.14,225.10 L496.88,224.73 L497.62,224.35 L498.37,223.96 L499.11,223.57 L499.85,223.16 L500.60,222.75 L501.34,222.33 L502.08,221.90 L502.82,221.46 L503.57,221.02 L504.31,220.56 L505.05,220.09 L505.80,219.62 L506.54,219.13 L507.28,218.64 L508.03,218.13 L508.77,217.61 L509.51,217.09 L510.26,216.55 L511.00,216.00 L511.74,215.44 L512.49,214.87 L513.23,214.29 L513.97,213.69 L514.72,213.09 L515.46,212.47 L516.20,211.84 L516.94,211.20 L517.69,210.54 L518.43,209.88 L519.17,209.20 L519.92,208.50 L520.66,207.80 L521.40,207.08 L522.15,206.35 L522.89,205.60 L523.63,204.84 L524.38,204.07 L525.12,203.28 L525.86,202.48 L526.61,201.66 L527.35,200.83 L528.09,199.98 L528.83,199.12 L529.58,198.25 L530.32,197.36 L531.06,196.45 L531.81,195.53 L532.55,194.59 L533.29,193.63 L534.04,192.66 L534.78,191.68 L535.52,190.67 L536.27,189.65 L537.01,188.62 L537.75,187.57 L538.50,186.49 L539.24,185.41 L539.98,184.30 L540.73,183.18 L541.47,182.04 L542.21,180.88 L542.95,179.70 L543.70,178.51 L544.44,177.29 L545.18,176.06 L545.93,174.81 L546.67,173.54 L547.41,172.25 L548.16,170.94 L548.90,169.61 L549.64,168.27 L550.39,166.90 L551.13,165.51 L551.87,164.10 L552.62,162.67 L553.36,161.22 L554.10,159.75 L554.84,158.26 L555.59,156.75 L556.33,155.22 L557.07,153.67 L557.82,152.09 L558.56,150.49 L559.30,148.87 L560.05,147.23 L560.79,145.57 L561.53,143.88 L562.28,142.18 L563.02,140.44 L563.76,138.69 L564.51,136.91 L565.25,135.11 L565.99,133.29 L566.74,131.44 L567.48,129.57 L568.22,127.68 L568.96,125.76 L569.71,123.82 L570.45,121.85 L571.19,119.86 L571.94,117.84 L572.68,115.80 L573.42,113.73 L574.17,111.64 L574.91,109.52 L575.65,107.38 L576.40,105.21 L577.14,103.01 L577.88,100.79 L578.63,98.55 L579.37,96.27 L580.11,93.97 L580.85,91.64 L581.60,89.29 L582.34,86.91 L583.08,84.50 L583.83,82.06 L584.57,79.60 L585.31,77.11 L586.06,74.59 L586.80,72.04" fill="none" stroke="#eccf6c" stroke-width="1.80" stroke-linecap="butt" stroke-linejoin="round"/>
<path d="M364.60,242.82 L365.34,242.72 L366.09,242.63 L366.83,242.54 L367.57,242.45 L368.32,242.36 L369.06,242.28 L369.80,242.20 L370.55,242.12 L371.29,242.04 L372.03,241.97 L372.77,241.90 L373.52,241.83 L374.26,241.76 L375.00,241.69 L375.75,241.62 L376.49,241.56 L377.23,241.50 L377.98,241.44 L378.72,241.38 L379.46,241.33 L380.21,241.27 L380.95,241.22 L381.69,241.17 L382.44,241.12 L383.18,241.07 L383.92,241.02 L384.66,240.97 L385.41,240.93 L386.15,240.88 L386.89,240.84 L387.64,240.80 L388.38,240.76 L389.12,240.72 L389.87,240.68 L390.61,240.64 L391.35,240.60 L392.10,240.57 L392.84,240.53 L393.58,240.49 L394.33,240.46 L395.07,240.42 L395.81,240.39 L396.56,240.36 L397.30,240.32 L398.04,240.29 L398.78,240.26 L399.53,240.22 L400.27,240.19 L401.01,240.16 L401.76,240.13 L402.50,240.09 L403.24,240.06 L403.99,240.03 L404.73,240.00 L405.47,239.96 L406.22,239.93 L406.96,239.90 L407.70,239.86 L408.45,239.83 L409.19,239.79 L409.93,239.76 L410.67,239.72 L411.42,239.69 L412.16,239.65 L412.90,239.61 L413.65,239.57 L414.39,239.53 L415.13,239.49 L415.88,239.45 L416.62,239.41 L417.36,239.37 L418.11,239.32 L418.85,239.28 L419.59,239.23 L420.34,239.18 L421.08,239.13 L421.82,239.08 L422.57,239.03 L423.31,238.97 L424.05,238.92 L424.79,238.86 L425.54,238.80 L426.28,238.74 L427.02,238.68 L427.77,238.62 L428.51,238.55 L429.25,238.48 L430.00,238.42 L430.74,238.34 L431.48,238.27 L432.23,238.20 L432.97,238.12 L433.71,238.04 L434.46,237.96 L435.20,237.87 L435.94,237.78 L436.68,237.70 L437.43,237.60 L438.17,237.51 L438.91,237.41 L439.66,237.31 L440.40,237.21 L441.14,237.11 L441.89,237.00 L442.63,236.89 L443.37,236.78 L444.12,236.66 L444.86,236.54 L445.60,236.42 L446.35,236.29 L447.09,236.17 L447.83,236.03 L448.58,235.90 L449.32,235.76 L450.06,235.62 L450.80,235.48 L451.55,235.33 L452.29,235.18 L453.03,235.02 L453.78,234.86 L454.52,234.70 L455.26,234.53 L456.01,234.36 L456.75,234.19 L457.49,234.01 L458.24,233.83 L458.98,233.64 L459.72,233.45 L460.47,233.26 L461.21,233.06 L461.95,232.86 L462.69,232.65 L463.44,232.44 L464.18,232.23 L464.92,232.01 L465.67,231.79 L466.41,231.56 L467.15,231.33 L467.90,231.09 L468.64,230.85 L469.38,230.60 L470.13,230.35 L470.87,230.09 L471.61,229.83 L472.36,229.57 L473.10,229.29 L473.84,229.02 L474.59,228.74 L475.33,228.45 L476.07,228.16 L476.81,227.86 L477.56,227.56 L478.30,227.25 L479.04,226.94 L479.79,226.62 L480.53,226.30 L481.27,225.97 L482.02,225.64 L482.76,225.30 L483.50,224.95 L484.25,224.60 L484.99,224.24 L485.73,223.88 L486.48,223.51 L487.22,223.13 L487.96,222.75 L488.71,222.37 L489.45,221.97 L490.19,221.57 L490.93,221.17 L491.68,220.76 L492.42,220.34 L493.16,219.91 L493.91,219.48 L494.65,219.04 L495.39,218.60 L496.14,218.14 L496.88,217.68 L497.62,217.21 L498.37,216.73 L499.11,216.25 L499.85,215.75 L500.60,215.25 L501.34,214.74 L502.08,214.22 L502.82,213.69 L503.57,213.15 L504.31,212.60 L505.05,212.04 L505.80,211.47 L506.54,210.88 L507.28,210.29 L508.03,209.69 L508.77,209.08 L509.51,208.45 L510.26,207.81 L511.00,207.16 L511.74,206.50 L512.49,205.83 L513.23,205.15 L513.97,204.45 L514.72,203.74 L515.46,203.01 L516.20,202.27 L516.94,201.52 L517.69,200.76 L518.43,199.98 L519.17,199.19 L519.92,198.38 L520.66,197.56 L521.40,196.72 L522.15,195.87 L522.89,195.00 L523.63,194.12 L524.38,193.22 L525.12,192.30 L525.86,191.37 L526.61,190.43 L527.35,189.46 L528.09,188.48 L528.83,187.49 L529.58,186.47 L530.32,185.44 L531.06,184.39 L531.81,183.32 L532.55,182.24 L533.29,181.13 L534.04,180.01 L534.78,178.87 L535.52,177.71 L536.27,176.53 L537.01,175.33 L537.75,174.11 L538.50,172.87 L539.24,171.61 L539.98,170.34 L540.73,169.04 L541.47,167.72 L542.21,166.38 L542.95,165.01 L543.70,163.63 L544.44,162.23 L545.18,160.80 L545.93,159.35 L546.67,157.88 L547.41,156.39 L548.16,154.87 L548.90,153.33 L549.64,151.77 L550.39,150.18 L551.13,148.58 L551.87,146.94 L552.62,145.29 L553.36,143.61 L554.10,141.90 L554.84,140.17 L555.59,138.42 L556.33,136.64 L557.07,134.83 L557.82,133.00 L558.56,131.15 L559.30,129.27 L560.05,127.36 L560.79,125.42 L561.53,123.46 L562.28,121.48 L563.02,119.46 L563.76,117.42 L564.51,115.35 L565.25,113.25 L565.99,111.13 L566.74,108.98 L567.48,106.80 L568.22,104.59 L568.96,102.35 L569.71,100.08 L570.45,97.79 L571.19,95.46 L571.94,93.11 L572.68,90.72 L573.42,88.31 L574.17,85.86 L574.91,83.38 L575.65,80.88 L576.40,78.34 L577.14,75.77 L577.88,73.17 L578.63,70.54 L579.37,67.88 L580.11,65.18 L580.85,62.46 L581.60,59.70 L582.34,56.91 L583.08,54.08 L583.83,51.22 L584.57,48.33 L585.31,45.41 L586.06,42.45 L586.80,39.46" fill="none" stroke="#c24d4e" stroke-width="1.80" stroke-linecap="butt" stroke-linejoin="round"/>
<line x1="549.80" y1="261.79" x2="549.80" y2="5.00" stroke="#000" stroke-width="2.3" stroke-dasharray="2.18 6.54"/>
</g>
<rect x="354.20" y="10.00" width="242.80" height="250.40" fill="none" stroke="#333333" stroke-width="2.1"/>
<line x1="350.60" y1="29.50" x2="353.20" y2="29.50" stroke="#4d4d4d" stroke-width="1.0"/>
<text x="348.60" y="33.10" font-size="10.00" font-weight="bold" fill="#4d4d4d" text-anchor="end" >4 AM</text>
<line x1="350.60" y1="71.60" x2="353.20" y2="71.60" stroke="#4d4d4d" stroke-width="1.0"/>
<text x="348.60" y="75.20" font-size="10.00" font-weight="bold" fill="#4d4d4d" text-anchor="end" >3 AM</text>
<line x1="350.60" y1="114.00" x2="353.20" y2="114.00" stroke="#4d4d4d" stroke-width="1.0"/>
<text x="348.60" y="117.60" font-size="10.00" font-weight="bold" fill="#4d4d4d" text-anchor="end" >2 AM</text>
<line x1="350.60" y1="156.30" x2="353.20" y2="156.30" stroke="#4d4d4d" stroke-width="1.0"/>
<text x="348.60" y="159.90" font-size="10.00" font-weight="bold" fill="#4d4d4d" text-anchor="end" >1 AM</text>
<line x1="350.60" y1="198.70" x2="353.20" y2="198.70" stroke="#4d4d4d" stroke-width="1.0"/>
<text x="348.60" y="202.30" font-size="10.00" font-weight="bold" fill="#4d4d4d" text-anchor="end" >12 AM</text>
<line x1="350.60" y1="241.00" x2="353.20" y2="241.00" stroke="#4d4d4d" stroke-width="1.0"/>
<text x="348.60" y="244.60" font-size="10.00" font-weight="bold" fill="#4d4d4d" text-anchor="end" >11 PM</text>
<line x1="364.60" y1="261.40" x2="364.60" y2="264.10" stroke="#4d4d4d" stroke-width="1.0"/>
<text x="364.60" y="273.30" font-size="10.00" font-weight="bold" fill="#4d4d4d" text-anchor="middle" >−10</text>
<line x1="401.64" y1="261.40" x2="401.64" y2="264.10" stroke="#4d4d4d" stroke-width="1.0"/>
<text x="401.64" y="273.30" font-size="10.00" font-weight="bold" fill="#4d4d4d" text-anchor="middle" >−8</text>
<line x1="438.68" y1="261.40" x2="438.68" y2="264.10" stroke="#4d4d4d" stroke-width="1.0"/>
<text x="438.68" y="273.30" font-size="10.00" font-weight="bold" fill="#4d4d4d" text-anchor="middle" >−6</text>
<line x1="475.72" y1="261.40" x2="475.72" y2="264.10" stroke="#4d4d4d" stroke-width="1.0"/>
<text x="475.72" y="273.30" font-size="10.00" font-weight="bold" fill="#4d4d4d" text-anchor="middle" >−4</text>
<line x1="512.76" y1="261.40" x2="512.76" y2="264.10" stroke="#4d4d4d" stroke-width="1.0"/>
<text x="512.76" y="273.30" font-size="10.00" font-weight="bold" fill="#4d4d4d" text-anchor="middle" >−2</text>
<line x1="549.80" y1="261.40" x2="549.80" y2="264.10" stroke="#4d4d4d" stroke-width="1.0"/>
<text x="549.80" y="273.30" font-size="10.00" font-weight="bold" fill="#4d4d4d" text-anchor="middle" >0</text>
<line x1="586.84" y1="261.40" x2="586.84" y2="264.10" stroke="#4d4d4d" stroke-width="1.0"/>
<text x="586.84" y="273.30" font-size="10.00" font-weight="bold" fill="#4d4d4d" text-anchor="middle" >+2</text>
<text x="0" y="0" font-size="10.2" font-weight="bold" fill="#000" text-anchor="middle" transform="translate(315.00,135.20) rotate(-90)">Sleep Onset (Hours)</text>
<text x="612.20" y="107.40" font-size="10.20" font-weight="bold" fill="#000" text-anchor="start" >Exercise Strain</text>
<rect x="613.2" y="113.90" width="13" height="13" fill="#0c365a" fill-opacity="0.17"/>
<line x1="613.6" y1="120.40" x2="625.6" y2="120.40" stroke="#0c365a" stroke-width="1.9"/>
<text x="631.20" y="124.00" font-size="10.00" font-weight="normal" fill="#1a1a1a" text-anchor="start" >Light</text>
<rect x="613.2" y="128.72" width="13" height="13" fill="#7da2cf" fill-opacity="0.17"/>
<line x1="613.6" y1="135.22" x2="625.6" y2="135.22" stroke="#7da2cf" stroke-width="1.9"/>
<text x="631.20" y="138.82" font-size="10.00" font-weight="normal" fill="#1a1a1a" text-anchor="start" >Moderate</text>
<rect x="613.2" y="143.54" width="13" height="13" fill="#eccf6c" fill-opacity="0.17"/>
<line x1="613.6" y1="150.04" x2="625.6" y2="150.04" stroke="#eccf6c" stroke-width="1.9"/>
<text x="631.20" y="153.64" font-size="10.00" font-weight="normal" fill="#1a1a1a" text-anchor="start" >High</text>
<rect x="613.2" y="158.36" width="13" height="13" fill="#c24d4e" fill-opacity="0.17"/>
<line x1="613.6" y1="164.86" x2="625.6" y2="164.86" stroke="#c24d4e" stroke-width="1.9"/>
<text x="631.20" y="168.46" font-size="10.00" font-weight="normal" fill="#1a1a1a" text-anchor="start" >Maximal</text>
<clipPath id="c44_291"><rect x="44.60" y="291.00" width="246.40" height="250.00"/></clipPath>
<g clip-path="url(#c44_291)">
<path d="M55.00,313.04 L55.75,313.06 L56.51,313.07 L57.26,313.08 L58.01,313.09 L58.76,313.10 L59.52,313.11 L60.27,313.12 L61.02,313.12 L61.78,313.13 L62.53,313.13 L63.28,313.13 L64.03,313.13 L64.79,313.13 L65.54,313.13 L66.29,313.13 L67.05,313.13 L67.80,313.12 L68.55,313.12 L69.30,313.11 L70.06,313.10 L70.81,313.09 L71.56,313.08 L72.32,313.07 L73.07,313.06 L73.82,313.05 L74.57,313.04 L75.33,313.02 L76.08,313.01 L76.83,312.99 L77.59,312.98 L78.34,312.96 L79.09,312.94 L79.84,312.93 L80.60,312.91 L81.35,312.89 L82.10,312.87 L82.86,312.85 L83.61,312.83 L84.36,312.81 L85.11,312.79 L85.87,312.77 L86.62,312.75 L87.37,312.72 L88.13,312.70 L88.88,312.68 L89.63,312.66 L90.38,312.63 L91.14,312.61 L91.89,312.59 L92.64,312.56 L93.39,312.54 L94.15,312.52 L94.90,312.49 L95.65,312.47 L96.41,312.45 L97.16,312.42 L97.91,312.40 L98.66,312.38 L99.42,312.35 L100.17,312.33 L100.92,312.31 L101.68,312.28 L102.43,312.26 L103.18,312.24 L103.93,312.22 L104.69,312.20 L105.44,312.18 L106.19,312.16 L106.95,312.14 L107.70,312.12 L108.45,312.10 L109.20,312.08 L109.96,312.06 L110.71,312.04 L111.46,312.03 L112.22,312.01 L112.97,312.00 L113.72,311.98 L114.47,311.97 L115.23,311.95 L115.98,311.94 L116.73,311.93 L117.49,311.92 L118.24,311.91 L118.99,311.90 L119.74,311.89 L120.50,311.88 L121.25,311.88 L122.00,311.87 L122.76,311.87 L123.51,311.86 L124.26,311.86 L125.01,311.86 L125.77,311.86 L126.52,311.86 L127.27,311.86 L128.03,311.87 L128.78,311.87 L129.53,311.88 L130.28,311.89 L131.04,311.89 L131.79,311.90 L132.54,311.92 L133.30,311.93 L134.05,311.94 L134.80,311.96 L135.55,311.98 L136.31,312.00 L137.06,312.02 L137.81,312.04 L138.57,312.06 L139.32,312.09 L140.07,312.12 L140.82,312.14 L141.58,312.18 L142.33,312.21 L143.08,312.24 L143.84,312.28 L144.59,312.32 L145.34,312.36 L146.09,312.40 L146.85,312.44 L147.60,312.49 L148.35,312.53 L149.11,312.58 L149.86,312.64 L150.61,312.69 L151.36,312.74 L152.12,312.80 L152.87,312.86 L153.62,312.93 L154.38,312.99 L155.13,313.06 L155.88,313.13 L156.63,313.20 L157.39,313.27 L158.14,313.35 L158.89,313.43 L159.65,313.51 L160.40,313.59 L161.15,313.68 L161.90,313.76 L162.66,313.86 L163.41,313.95 L164.16,314.05 L164.92,314.14 L165.67,314.25 L166.42,314.35 L167.17,314.46 L167.93,314.57 L168.68,314.68 L169.43,314.79 L170.18,314.91 L170.94,315.03 L171.69,315.16 L172.44,315.28 L173.20,315.41 L173.95,315.54 L174.70,315.68 L175.45,315.82 L176.21,315.96 L176.96,316.10 L177.71,316.25 L178.47,316.40 L179.22,316.56 L179.97,316.71 L180.72,316.87 L181.48,317.04 L182.23,317.20 L182.98,317.38 L183.74,317.55 L184.49,317.73 L185.24,317.91 L185.99,318.09 L186.75,318.28 L187.50,318.47 L188.25,318.66 L189.01,318.86 L189.76,319.06 L190.51,319.27 L191.26,319.47 L192.02,319.69 L192.77,319.90 L193.52,320.13 L194.28,320.35 L195.03,320.59 L195.78,320.82 L196.53,321.07 L197.29,321.32 L198.04,321.58 L198.79,321.84 L199.55,322.11 L200.30,322.39 L201.05,322.68 L201.80,322.98 L202.56,323.28 L203.31,323.59 L204.06,323.91 L204.82,324.24 L205.57,324.58 L206.32,324.93 L207.07,325.29 L207.83,325.66 L208.58,326.04 L209.33,326.44 L210.09,326.84 L210.84,327.26 L211.59,327.69 L212.34,328.13 L213.10,328.58 L213.85,329.05 L214.60,329.53 L215.36,330.02 L216.11,330.53 L216.86,331.06 L217.61,331.59 L218.37,332.15 L219.12,332.72 L219.87,333.30 L220.63,333.90 L221.38,334.52 L222.13,335.16 L222.88,335.81 L223.64,336.48 L224.39,337.17 L225.14,337.87 L225.90,338.60 L226.65,339.34 L227.40,340.10 L228.15,340.89 L228.91,341.69 L229.66,342.51 L230.41,343.35 L231.17,344.22 L231.92,345.10 L232.67,346.01 L233.42,346.94 L234.18,347.89 L234.93,348.86 L235.68,349.86 L236.44,350.88 L237.19,351.92 L237.94,352.99 L238.69,354.08 L239.45,355.20 L240.20,356.34 L240.95,357.50 L241.71,358.70 L242.46,359.91 L243.21,361.16 L243.96,362.42 L244.72,363.72 L245.47,365.04 L246.22,366.38 L246.97,367.75 L247.73,369.14 L248.48,370.56 L249.23,372.00 L249.99,373.47 L250.74,374.96 L251.49,376.48 L252.24,378.02 L253.00,379.58 L253.75,381.17 L254.50,382.78 L255.26,384.41 L256.01,386.07 L256.76,387.75 L257.51,389.45 L258.27,391.18 L259.02,392.93 L259.77,394.70 L260.53,396.49 L261.28,398.31 L262.03,400.15 L262.78,402.01 L263.54,403.89 L264.29,405.80 L265.04,407.72 L265.80,409.67 L266.55,411.64 L267.30,413.63 L268.05,415.64 L268.81,417.68 L269.56,419.73 L270.31,421.81 L271.07,423.90 L271.82,426.02 L272.57,428.16 L273.32,430.31 L274.08,432.49 L274.83,434.69 L275.58,436.91 L276.34,439.14 L277.09,441.40 L277.84,443.68 L278.59,445.97 L279.35,448.29 L280.10,450.62 L280.10,460.62 L279.35,458.18 L278.59,455.76 L277.84,453.37 L277.09,450.99 L276.34,448.63 L275.58,446.29 L274.83,443.98 L274.08,441.68 L273.32,439.41 L272.57,437.15 L271.82,434.92 L271.07,432.71 L270.31,430.52 L269.56,428.36 L268.81,426.21 L268.05,424.09 L267.30,421.99 L266.55,419.91 L265.80,417.85 L265.04,415.82 L264.29,413.80 L263.54,411.82 L262.78,409.85 L262.03,407.91 L261.28,405.99 L260.53,404.09 L259.77,402.22 L259.02,400.37 L258.27,398.54 L257.51,396.74 L256.76,394.96 L256.01,393.21 L255.26,391.48 L254.50,389.77 L253.75,388.09 L253.00,386.43 L252.24,384.80 L251.49,383.19 L250.74,381.61 L249.99,380.05 L249.23,378.52 L248.48,377.01 L247.73,375.53 L246.97,374.08 L246.22,372.65 L245.47,371.24 L244.72,369.86 L243.96,368.51 L243.21,367.19 L242.46,365.89 L241.71,364.61 L240.95,363.37 L240.20,362.15 L239.45,360.96 L238.69,359.79 L237.94,358.65 L237.19,357.53 L236.44,356.44 L235.68,355.37 L234.93,354.33 L234.18,353.31 L233.42,352.31 L232.67,351.34 L231.92,350.39 L231.17,349.47 L230.41,348.56 L229.66,347.68 L228.91,346.82 L228.15,345.98 L227.40,345.16 L226.65,344.36 L225.90,343.58 L225.14,342.82 L224.39,342.09 L223.64,341.37 L222.88,340.67 L222.13,339.98 L221.38,339.32 L220.63,338.67 L219.87,338.05 L219.12,337.44 L218.37,336.84 L217.61,336.26 L216.86,335.70 L216.11,335.16 L215.36,334.63 L214.60,334.11 L213.85,333.61 L213.10,333.13 L212.34,332.66 L211.59,332.20 L210.84,331.76 L210.09,331.33 L209.33,330.91 L208.58,330.51 L207.83,330.12 L207.07,329.74 L206.32,329.37 L205.57,329.01 L204.82,328.66 L204.06,328.33 L203.31,328.00 L202.56,327.68 L201.80,327.38 L201.05,327.08 L200.30,326.79 L199.55,326.51 L198.79,326.24 L198.04,325.98 L197.29,325.72 L196.53,325.47 L195.78,325.22 L195.03,324.99 L194.28,324.75 L193.52,324.53 L192.77,324.30 L192.02,324.09 L191.26,323.87 L190.51,323.67 L189.76,323.46 L189.01,323.26 L188.25,323.06 L187.50,322.87 L186.75,322.68 L185.99,322.49 L185.24,322.31 L184.49,322.13 L183.74,321.95 L182.98,321.78 L182.23,321.60 L181.48,321.44 L180.72,321.27 L179.97,321.11 L179.22,320.96 L178.47,320.80 L177.71,320.65 L176.96,320.50 L176.21,320.36 L175.45,320.22 L174.70,320.08 L173.95,319.94 L173.20,319.81 L172.44,319.68 L171.69,319.56 L170.94,319.43 L170.18,319.31 L169.43,319.19 L168.68,319.08 L167.93,318.97 L167.17,318.86 L166.42,318.75 L165.67,318.65 L164.92,318.54 L164.16,318.45 L163.41,318.35 L162.66,318.26 L161.90,318.16 L161.15,318.08 L160.40,317.99 L159.65,317.91 L158.89,317.83 L158.14,317.75 L157.39,317.67 L156.63,317.60 L155.88,317.53 L155.13,317.46 L154.38,317.39 L153.62,317.33 L152.87,317.26 L152.12,317.20 L151.36,317.14 L150.61,317.09 L149.86,317.04 L149.11,316.98 L148.35,316.93 L147.60,316.89 L146.85,316.84 L146.09,316.80 L145.34,316.76 L144.59,316.72 L143.84,316.68 L143.08,316.64 L142.33,316.61 L141.58,316.58 L140.82,316.54 L140.07,316.52 L139.32,316.49 L138.57,316.46 L137.81,316.44 L137.06,316.42 L136.31,316.40 L135.55,316.38 L134.80,316.36 L134.05,316.34 L133.30,316.33 L132.54,316.32 L131.79,316.30 L131.04,316.29 L130.28,316.29 L129.53,316.28 L128.78,316.27 L128.03,316.27 L127.27,316.26 L126.52,316.26 L125.77,316.26 L125.01,316.26 L124.26,316.26 L123.51,316.26 L122.76,316.27 L122.00,316.27 L121.25,316.28 L120.50,316.28 L119.74,316.29 L118.99,316.30 L118.24,316.31 L117.49,316.32 L116.73,316.33 L115.98,316.34 L115.23,316.35 L114.47,316.37 L113.72,316.38 L112.97,316.40 L112.22,316.41 L111.46,316.43 L110.71,316.44 L109.96,316.46 L109.20,316.48 L108.45,316.50 L107.70,316.52 L106.95,316.54 L106.19,316.56 L105.44,316.58 L104.69,316.60 L103.93,316.62 L103.18,316.64 L102.43,316.66 L101.68,316.68 L100.92,316.71 L100.17,316.73 L99.42,316.75 L98.66,316.78 L97.91,316.80 L97.16,316.82 L96.41,316.85 L95.65,316.87 L94.90,316.89 L94.15,316.92 L93.39,316.94 L92.64,316.96 L91.89,316.99 L91.14,317.01 L90.38,317.03 L89.63,317.06 L88.88,317.08 L88.13,317.10 L87.37,317.12 L86.62,317.15 L85.87,317.17 L85.11,317.19 L84.36,317.21 L83.61,317.23 L82.86,317.25 L82.10,317.27 L81.35,317.29 L80.60,317.31 L79.84,317.33 L79.09,317.34 L78.34,317.36 L77.59,317.38 L76.83,317.39 L76.08,317.41 L75.33,317.42 L74.57,317.44 L73.82,317.45 L73.07,317.46 L72.32,317.47 L71.56,317.48 L70.81,317.49 L70.06,317.50 L69.30,317.51 L68.55,317.52 L67.80,317.52 L67.05,317.53 L66.29,317.53 L65.54,317.53 L64.79,317.53 L64.03,317.53 L63.28,317.53 L62.53,317.53 L61.78,317.53 L61.02,317.52 L60.27,317.52 L59.52,317.51 L58.76,317.50 L58.01,317.49 L57.26,317.48 L56.51,317.47 L55.75,317.46 L55.00,317.44 Z" fill="#0c365a" fill-opacity="0.15" stroke="none"/>
<path d="M55.00,312.83 L55.75,312.85 L56.51,312.88 L57.26,312.90 L58.01,312.92 L58.76,312.94 L59.52,312.96 L60.27,312.97 L61.02,312.99 L61.78,313.00 L62.53,313.01 L63.28,313.02 L64.03,313.03 L64.79,313.03 L65.54,313.04 L66.29,313.04 L67.05,313.04 L67.80,313.04 L68.55,313.04 L69.30,313.04 L70.06,313.03 L70.81,313.03 L71.56,313.02 L72.32,313.01 L73.07,313.01 L73.82,313.00 L74.57,312.99 L75.33,312.97 L76.08,312.96 L76.83,312.95 L77.59,312.93 L78.34,312.92 L79.09,312.90 L79.84,312.89 L80.60,312.87 L81.35,312.85 L82.10,312.83 L82.86,312.82 L83.61,312.80 L84.36,312.78 L85.11,312.76 L85.87,312.74 L86.62,312.71 L87.37,312.69 L88.13,312.67 L88.88,312.65 L89.63,312.63 L90.38,312.60 L91.14,312.58 L91.89,312.56 L92.64,312.54 L93.39,312.51 L94.15,312.49 L94.90,312.47 L95.65,312.44 L96.41,312.42 L97.16,312.40 L97.91,312.38 L98.66,312.36 L99.42,312.33 L100.17,312.31 L100.92,312.29 L101.68,312.27 L102.43,312.25 L103.18,312.23 L103.93,312.21 L104.69,312.19 L105.44,312.17 L106.19,312.16 L106.95,312.14 L107.70,312.12 L108.45,312.11 L109.20,312.09 L109.96,312.08 L110.71,312.07 L111.46,312.06 L112.22,312.04 L112.97,312.03 L113.72,312.03 L114.47,312.02 L115.23,312.01 L115.98,312.00 L116.73,312.00 L117.49,312.00 L118.24,311.99 L118.99,311.99 L119.74,311.99 L120.50,312.00 L121.25,312.00 L122.00,312.00 L122.76,312.01 L123.51,312.02 L124.26,312.03 L125.01,312.04 L125.77,312.05 L126.52,312.06 L127.27,312.08 L128.03,312.10 L128.78,312.12 L129.53,312.14 L130.28,312.16 L131.04,312.19 L131.79,312.21 L132.54,312.24 L133.30,312.27 L134.05,312.31 L134.80,312.34 L135.55,312.38 L136.31,312.42 L137.06,312.46 L137.81,312.50 L138.57,312.55 L139.32,312.60 L140.07,312.65 L140.82,312.70 L141.58,312.76 L142.33,312.82 L143.08,312.88 L143.84,312.94 L144.59,313.01 L145.34,313.07 L146.09,313.14 L146.85,313.22 L147.60,313.30 L148.35,313.38 L149.11,313.46 L149.86,313.54 L150.61,313.63 L151.36,313.72 L152.12,313.82 L152.87,313.91 L153.62,314.01 L154.38,314.12 L155.13,314.22 L155.88,314.33 L156.63,314.45 L157.39,314.56 L158.14,314.68 L158.89,314.80 L159.65,314.93 L160.40,315.06 L161.15,315.19 L161.90,315.33 L162.66,315.47 L163.41,315.61 L164.16,315.76 L164.92,315.91 L165.67,316.07 L166.42,316.22 L167.17,316.39 L167.93,316.55 L168.68,316.72 L169.43,316.90 L170.18,317.07 L170.94,317.26 L171.69,317.44 L172.44,317.63 L173.20,317.82 L173.95,318.02 L174.70,318.22 L175.45,318.43 L176.21,318.64 L176.96,318.86 L177.71,319.07 L178.47,319.30 L179.22,319.53 L179.97,319.76 L180.72,319.99 L181.48,320.24 L182.23,320.48 L182.98,320.73 L183.74,320.99 L184.49,321.25 L185.24,321.51 L185.99,321.78 L186.75,322.05 L187.50,322.33 L188.25,322.61 L189.01,322.90 L189.76,323.20 L190.51,323.49 L191.26,323.80 L192.02,324.11 L192.77,324.42 L193.52,324.74 L194.28,325.07 L195.03,325.41 L195.78,325.76 L196.53,326.11 L197.29,326.47 L198.04,326.85 L198.79,327.23 L199.55,327.62 L200.30,328.03 L201.05,328.44 L201.80,328.87 L202.56,329.31 L203.31,329.76 L204.06,330.22 L204.82,330.70 L205.57,331.19 L206.32,331.70 L207.07,332.22 L207.83,332.75 L208.58,333.30 L209.33,333.87 L210.09,334.46 L210.84,335.06 L211.59,335.68 L212.34,336.32 L213.10,336.97 L213.85,337.65 L214.60,338.34 L215.36,339.06 L216.11,339.80 L216.86,340.56 L217.61,341.34 L218.37,342.14 L219.12,342.96 L219.87,343.81 L220.63,344.68 L221.38,345.58 L222.13,346.50 L222.88,347.45 L223.64,348.42 L224.39,349.42 L225.14,350.44 L225.90,351.50 L226.65,352.58 L227.40,353.69 L228.15,354.82 L228.91,355.99 L229.66,357.19 L230.41,358.41 L231.17,359.67 L231.92,360.96 L232.67,362.28 L233.42,363.63 L234.18,365.02 L234.93,366.44 L235.68,367.89 L236.44,369.38 L237.19,370.90 L237.94,372.45 L238.69,374.05 L239.45,375.68 L240.20,377.34 L240.95,379.04 L241.71,380.78 L242.46,382.55 L243.21,384.36 L243.96,386.19 L244.72,388.04 L245.47,389.93 L246.22,391.83 L246.97,393.75 L247.73,395.69 L248.48,397.64 L249.23,399.61 L249.99,401.59 L250.74,403.57 L251.49,405.56 L252.24,407.55 L253.00,409.54 L253.75,411.53 L254.50,413.52 L255.26,415.50 L256.01,417.47 L256.76,419.43 L257.51,421.38 L258.27,423.31 L259.02,425.22 L259.77,427.11 L260.53,428.98 L261.28,430.83 L262.03,432.66 L262.78,434.47 L263.54,436.26 L264.29,438.04 L265.04,439.79 L265.80,441.53 L266.55,443.24 L267.30,444.95 L268.05,446.63 L268.81,448.30 L269.56,449.95 L270.31,451.59 L271.07,453.21 L271.82,454.82 L272.57,456.41 L273.32,457.99 L274.08,459.56 L274.83,461.11 L275.58,462.65 L276.34,464.18 L277.09,465.70 L277.84,467.21 L278.59,468.70 L279.35,470.19 L280.10,471.67 L280.10,485.67 L279.35,484.01 L278.59,482.35 L277.84,480.67 L277.09,478.99 L276.34,477.30 L275.58,475.60 L274.83,473.89 L274.08,472.17 L273.32,470.43 L272.57,468.69 L271.82,466.93 L271.07,465.17 L270.31,463.38 L269.56,461.59 L268.81,459.78 L268.05,457.96 L267.30,456.12 L266.55,454.27 L265.80,452.40 L265.04,450.52 L264.29,448.62 L263.54,446.71 L262.78,444.77 L262.03,442.82 L261.28,440.85 L260.53,438.86 L259.77,436.86 L259.02,434.83 L258.27,432.79 L257.51,430.73 L256.76,428.65 L256.01,426.56 L255.26,424.47 L254.50,422.36 L253.75,420.26 L253.00,418.14 L252.24,416.03 L251.49,413.93 L250.74,411.82 L249.99,409.72 L249.23,407.64 L248.48,405.56 L247.73,403.50 L246.97,401.45 L246.22,399.43 L245.47,397.42 L244.72,395.44 L243.96,393.48 L243.21,391.55 L242.46,389.65 L241.71,387.78 L240.95,385.95 L240.20,384.16 L239.45,382.40 L238.69,380.69 L237.94,379.01 L237.19,377.37 L236.44,375.76 L235.68,374.19 L234.93,372.66 L234.18,371.17 L233.42,369.70 L232.67,368.28 L231.92,366.88 L231.17,365.52 L230.41,364.20 L229.66,362.90 L228.91,361.64 L228.15,360.41 L227.40,359.21 L226.65,358.04 L225.90,356.90 L225.14,355.79 L224.39,354.71 L223.64,353.66 L222.88,352.63 L222.13,351.63 L221.38,350.66 L220.63,349.72 L219.87,348.80 L219.12,347.91 L218.37,347.04 L217.61,346.20 L216.86,345.38 L216.11,344.59 L215.36,343.81 L214.60,343.06 L213.85,342.34 L213.10,341.63 L212.34,340.94 L211.59,340.28 L210.84,339.63 L210.09,339.01 L209.33,338.40 L208.58,337.81 L207.83,337.24 L207.07,336.69 L206.32,336.16 L205.57,335.64 L204.82,335.14 L204.06,334.65 L203.31,334.18 L202.56,333.72 L201.80,333.27 L201.05,332.84 L200.30,332.43 L199.55,332.02 L198.79,331.63 L198.04,331.25 L197.29,330.87 L196.53,330.51 L195.78,330.16 L195.03,329.81 L194.28,329.47 L193.52,329.14 L192.77,328.82 L192.02,328.51 L191.26,328.20 L190.51,327.89 L189.76,327.60 L189.01,327.30 L188.25,327.01 L187.50,326.73 L186.75,326.45 L185.99,326.18 L185.24,325.91 L184.49,325.65 L183.74,325.39 L182.98,325.13 L182.23,324.88 L181.48,324.64 L180.72,324.39 L179.97,324.16 L179.22,323.93 L178.47,323.70 L177.71,323.47 L176.96,323.26 L176.21,323.04 L175.45,322.83 L174.70,322.62 L173.95,322.42 L173.20,322.22 L172.44,322.03 L171.69,321.84 L170.94,321.66 L170.18,321.47 L169.43,321.30 L168.68,321.12 L167.93,320.95 L167.17,320.79 L166.42,320.62 L165.67,320.47 L164.92,320.31 L164.16,320.16 L163.41,320.01 L162.66,319.87 L161.90,319.73 L161.15,319.59 L160.40,319.46 L159.65,319.33 L158.89,319.20 L158.14,319.08 L157.39,318.96 L156.63,318.85 L155.88,318.73 L155.13,318.62 L154.38,318.52 L153.62,318.41 L152.87,318.31 L152.12,318.22 L151.36,318.12 L150.61,318.03 L149.86,317.94 L149.11,317.86 L148.35,317.78 L147.60,317.70 L146.85,317.62 L146.09,317.54 L145.34,317.47 L144.59,317.41 L143.84,317.34 L143.08,317.28 L142.33,317.22 L141.58,317.16 L140.82,317.10 L140.07,317.05 L139.32,317.00 L138.57,316.95 L137.81,316.90 L137.06,316.86 L136.31,316.82 L135.55,316.78 L134.80,316.74 L134.05,316.71 L133.30,316.67 L132.54,316.64 L131.79,316.61 L131.04,316.59 L130.28,316.56 L129.53,316.54 L128.78,316.52 L128.03,316.50 L127.27,316.48 L126.52,316.46 L125.77,316.45 L125.01,316.44 L124.26,316.43 L123.51,316.42 L122.76,316.41 L122.00,316.40 L121.25,316.40 L120.50,316.40 L119.74,316.39 L118.99,316.39 L118.24,316.39 L117.49,316.40 L116.73,316.40 L115.98,316.40 L115.23,316.41 L114.47,316.42 L113.72,316.43 L112.97,316.43 L112.22,316.44 L111.46,316.46 L110.71,316.47 L109.96,316.48 L109.20,316.49 L108.45,316.51 L107.70,316.52 L106.95,316.54 L106.19,316.56 L105.44,316.57 L104.69,316.59 L103.93,316.61 L103.18,316.63 L102.43,316.65 L101.68,316.67 L100.92,316.69 L100.17,316.71 L99.42,316.73 L98.66,316.76 L97.91,316.78 L97.16,316.80 L96.41,316.82 L95.65,316.84 L94.90,316.87 L94.15,316.89 L93.39,316.91 L92.64,316.94 L91.89,316.96 L91.14,316.98 L90.38,317.00 L89.63,317.03 L88.88,317.05 L88.13,317.07 L87.37,317.09 L86.62,317.11 L85.87,317.14 L85.11,317.16 L84.36,317.18 L83.61,317.20 L82.86,317.22 L82.10,317.23 L81.35,317.25 L80.60,317.27 L79.84,317.29 L79.09,317.30 L78.34,317.32 L77.59,317.33 L76.83,317.35 L76.08,317.36 L75.33,317.37 L74.57,317.39 L73.82,317.40 L73.07,317.41 L72.32,317.41 L71.56,317.42 L70.81,317.43 L70.06,317.43 L69.30,317.44 L68.55,317.44 L67.80,317.44 L67.05,317.44 L66.29,317.44 L65.54,317.44 L64.79,317.43 L64.03,317.43 L63.28,317.42 L62.53,317.41 L61.78,317.40 L61.02,317.39 L60.27,317.37 L59.52,317.36 L58.76,317.34 L58.01,317.32 L57.26,317.30 L56.51,317.28 L55.75,317.25 L55.00,317.23 Z" fill="#7da2cf" fill-opacity="0.15" stroke="none"/>
<path d="M55.00,309.02 L55.75,309.07 L56.51,309.13 L57.26,309.18 L58.01,309.23 L58.76,309.27 L59.52,309.32 L60.27,309.36 L61.02,309.40 L61.78,309.45 L62.53,309.48 L63.28,309.52 L64.03,309.56 L64.79,309.59 L65.54,309.63 L66.29,309.66 L67.05,309.69 L67.80,309.72 L68.55,309.75 L69.30,309.78 L70.06,309.80 L70.81,309.83 L71.56,309.85 L72.32,309.87 L73.07,309.90 L73.82,309.92 L74.57,309.94 L75.33,309.96 L76.08,309.98 L76.83,310.00 L77.59,310.01 L78.34,310.03 L79.09,310.05 L79.84,310.06 L80.60,310.08 L81.35,310.09 L82.10,310.11 L82.86,310.12 L83.61,310.14 L84.36,310.15 L85.11,310.16 L85.87,310.18 L86.62,310.19 L87.37,310.20 L88.13,310.21 L88.88,310.23 L89.63,310.24 L90.38,310.25 L91.14,310.26 L91.89,310.28 L92.64,310.29 L93.39,310.30 L94.15,310.32 L94.90,310.33 L95.65,310.34 L96.41,310.36 L97.16,310.37 L97.91,310.39 L98.66,310.41 L99.42,310.42 L100.17,310.44 L100.92,310.46 L101.68,310.48 L102.43,310.49 L103.18,310.51 L103.93,310.54 L104.69,310.56 L105.44,310.58 L106.19,310.60 L106.95,310.63 L107.70,310.65 L108.45,310.68 L109.20,310.71 L109.96,310.73 L110.71,310.76 L111.46,310.80 L112.22,310.83 L112.97,310.86 L113.72,310.90 L114.47,310.93 L115.23,310.97 L115.98,311.01 L116.73,311.05 L117.49,311.09 L118.24,311.14 L118.99,311.18 L119.74,311.23 L120.50,311.28 L121.25,311.33 L122.00,311.38 L122.76,311.44 L123.51,311.49 L124.26,311.55 L125.01,311.61 L125.77,311.68 L126.52,311.74 L127.27,311.81 L128.03,311.88 L128.78,311.95 L129.53,312.02 L130.28,312.09 L131.04,312.17 L131.79,312.25 L132.54,312.34 L133.30,312.42 L134.05,312.51 L134.80,312.60 L135.55,312.69 L136.31,312.79 L137.06,312.88 L137.81,312.98 L138.57,313.09 L139.32,313.19 L140.07,313.30 L140.82,313.41 L141.58,313.53 L142.33,313.65 L143.08,313.77 L143.84,313.89 L144.59,314.02 L145.34,314.15 L146.09,314.28 L146.85,314.42 L147.60,314.56 L148.35,314.70 L149.11,314.85 L149.86,315.00 L150.61,315.15 L151.36,315.31 L152.12,315.47 L152.87,315.63 L153.62,315.80 L154.38,315.97 L155.13,316.14 L155.88,316.32 L156.63,316.50 L157.39,316.69 L158.14,316.88 L158.89,317.07 L159.65,317.27 L160.40,317.47 L161.15,317.68 L161.90,317.89 L162.66,318.10 L163.41,318.32 L164.16,318.54 L164.92,318.76 L165.67,319.00 L166.42,319.23 L167.17,319.47 L167.93,319.71 L168.68,319.96 L169.43,320.21 L170.18,320.47 L170.94,320.73 L171.69,321.00 L172.44,321.27 L173.20,321.54 L173.95,321.82 L174.70,322.11 L175.45,322.40 L176.21,322.69 L176.96,322.99 L177.71,323.30 L178.47,323.61 L179.22,323.92 L179.97,324.24 L180.72,324.56 L181.48,324.89 L182.23,325.23 L182.98,325.57 L183.74,325.92 L184.49,326.27 L185.24,326.63 L185.99,327.00 L186.75,327.38 L187.50,327.76 L188.25,328.15 L189.01,328.55 L189.76,328.96 L190.51,329.37 L191.26,329.79 L192.02,330.23 L192.77,330.67 L193.52,331.12 L194.28,331.59 L195.03,332.06 L195.78,332.54 L196.53,333.03 L197.29,333.54 L198.04,334.05 L198.79,334.58 L199.55,335.12 L200.30,335.67 L201.05,336.23 L201.80,336.81 L202.56,337.39 L203.31,337.99 L204.06,338.60 L204.82,339.22 L205.57,339.86 L206.32,340.50 L207.07,341.16 L207.83,341.84 L208.58,342.53 L209.33,343.23 L210.09,343.94 L210.84,344.68 L211.59,345.42 L212.34,346.18 L213.10,346.96 L213.85,347.75 L214.60,348.56 L215.36,349.38 L216.11,350.22 L216.86,351.08 L217.61,351.95 L218.37,352.85 L219.12,353.76 L219.87,354.68 L220.63,355.63 L221.38,356.59 L222.13,357.57 L222.88,358.57 L223.64,359.59 L224.39,360.63 L225.14,361.69 L225.90,362.77 L226.65,363.87 L227.40,364.99 L228.15,366.13 L228.91,367.29 L229.66,368.47 L230.41,369.67 L231.17,370.90 L231.92,372.15 L232.67,373.42 L233.42,374.71 L234.18,376.02 L234.93,377.36 L235.68,378.72 L236.44,380.09 L237.19,381.49 L237.94,382.91 L238.69,384.35 L239.45,385.81 L240.20,387.29 L240.95,388.79 L241.71,390.31 L242.46,391.85 L243.21,393.40 L243.96,394.98 L244.72,396.57 L245.47,398.18 L246.22,399.81 L246.97,401.46 L247.73,403.12 L248.48,404.80 L249.23,406.50 L249.99,408.22 L250.74,409.95 L251.49,411.69 L252.24,413.46 L253.00,415.23 L253.75,417.03 L254.50,418.83 L255.26,420.66 L256.01,422.49 L256.76,424.35 L257.51,426.21 L258.27,428.09 L259.02,429.98 L259.77,431.89 L260.53,433.81 L261.28,435.74 L262.03,437.68 L262.78,439.64 L263.54,441.61 L264.29,443.59 L265.04,445.58 L265.80,447.58 L266.55,449.59 L267.30,451.62 L268.05,453.65 L268.81,455.70 L269.56,457.75 L270.31,459.82 L271.07,461.89 L271.82,463.97 L272.57,466.06 L273.32,468.16 L274.08,470.27 L274.83,472.39 L275.58,474.51 L276.34,476.64 L277.09,478.78 L277.84,480.93 L278.59,483.08 L279.35,485.24 L280.10,487.41 L280.10,505.41 L279.35,502.99 L278.59,500.58 L277.84,498.17 L277.09,495.78 L276.34,493.40 L275.58,491.02 L274.83,488.66 L274.08,486.30 L273.32,483.96 L272.57,481.63 L271.82,479.30 L271.07,476.99 L270.31,474.70 L269.56,472.41 L268.81,470.13 L268.05,467.87 L267.30,465.62 L266.55,463.38 L265.80,461.16 L265.04,458.95 L264.29,456.75 L263.54,454.57 L262.78,452.40 L262.03,450.24 L261.28,448.10 L260.53,445.97 L259.77,443.86 L259.02,441.77 L258.27,439.69 L257.51,437.62 L256.76,435.58 L256.01,433.54 L255.26,431.53 L254.50,429.53 L253.75,427.55 L253.00,425.59 L252.24,423.64 L251.49,421.71 L250.74,419.80 L249.99,417.91 L249.23,416.04 L248.48,414.19 L247.73,412.35 L246.97,410.54 L246.22,408.74 L245.47,406.97 L244.72,405.21 L243.96,403.48 L243.21,401.76 L242.46,400.07 L241.71,398.40 L240.95,396.75 L240.20,395.12 L239.45,393.51 L238.69,391.93 L237.94,390.36 L237.19,388.82 L236.44,387.31 L235.68,385.81 L234.93,384.35 L234.18,382.90 L233.42,381.48 L232.67,380.08 L231.92,378.71 L231.17,377.36 L230.41,376.03 L229.66,374.74 L228.91,373.46 L228.15,372.21 L227.40,370.98 L226.65,369.77 L225.90,368.59 L225.14,367.43 L224.39,366.29 L223.64,365.18 L222.88,364.08 L222.13,363.01 L221.38,361.96 L220.63,360.93 L219.87,359.92 L219.12,358.93 L218.37,357.96 L217.61,357.01 L216.86,356.08 L216.11,355.17 L215.36,354.28 L214.60,353.41 L213.85,352.56 L213.10,351.72 L212.34,350.91 L211.59,350.11 L210.84,349.32 L210.09,348.56 L209.33,347.81 L208.58,347.08 L207.83,346.37 L207.07,345.67 L206.32,344.99 L205.57,344.32 L204.82,343.67 L204.06,343.03 L203.31,342.41 L202.56,341.81 L201.80,341.21 L201.05,340.64 L200.30,340.07 L199.55,339.52 L198.79,338.98 L198.04,338.45 L197.29,337.94 L196.53,337.43 L195.78,336.94 L195.03,336.46 L194.28,335.99 L193.52,335.52 L192.77,335.07 L192.02,334.63 L191.26,334.19 L190.51,333.77 L189.76,333.36 L189.01,332.95 L188.25,332.55 L187.50,332.16 L186.75,331.78 L185.99,331.40 L185.24,331.03 L184.49,330.67 L183.74,330.32 L182.98,329.97 L182.23,329.63 L181.48,329.29 L180.72,328.96 L179.97,328.64 L179.22,328.32 L178.47,328.01 L177.71,327.70 L176.96,327.39 L176.21,327.09 L175.45,326.80 L174.70,326.51 L173.95,326.22 L173.20,325.94 L172.44,325.67 L171.69,325.40 L170.94,325.13 L170.18,324.87 L169.43,324.61 L168.68,324.36 L167.93,324.11 L167.17,323.87 L166.42,323.63 L165.67,323.40 L164.92,323.16 L164.16,322.94 L163.41,322.72 L162.66,322.50 L161.90,322.29 L161.15,322.08 L160.40,321.87 L159.65,321.67 L158.89,321.47 L158.14,321.28 L157.39,321.09 L156.63,320.90 L155.88,320.72 L155.13,320.54 L154.38,320.37 L153.62,320.20 L152.87,320.03 L152.12,319.87 L151.36,319.71 L150.61,319.55 L149.86,319.40 L149.11,319.25 L148.35,319.10 L147.60,318.96 L146.85,318.82 L146.09,318.68 L145.34,318.55 L144.59,318.42 L143.84,318.29 L143.08,318.17 L142.33,318.05 L141.58,317.93 L140.82,317.81 L140.07,317.70 L139.32,317.59 L138.57,317.49 L137.81,317.38 L137.06,317.28 L136.31,317.19 L135.55,317.09 L134.80,317.00 L134.05,316.91 L133.30,316.82 L132.54,316.74 L131.79,316.65 L131.04,316.57 L130.28,316.49 L129.53,316.42 L128.78,316.35 L128.03,316.28 L127.27,316.21 L126.52,316.14 L125.77,316.08 L125.01,316.01 L124.26,315.95 L123.51,315.89 L122.76,315.84 L122.00,315.78 L121.25,315.73 L120.50,315.68 L119.74,315.63 L118.99,315.58 L118.24,315.54 L117.49,315.49 L116.73,315.45 L115.98,315.41 L115.23,315.37 L114.47,315.33 L113.72,315.30 L112.97,315.26 L112.22,315.23 L111.46,315.20 L110.71,315.16 L109.96,315.13 L109.20,315.11 L108.45,315.08 L107.70,315.05 L106.95,315.03 L106.19,315.00 L105.44,314.98 L104.69,314.96 L103.93,314.94 L103.18,314.91 L102.43,314.89 L101.68,314.88 L100.92,314.86 L100.17,314.84 L99.42,314.82 L98.66,314.81 L97.91,314.79 L97.16,314.77 L96.41,314.76 L95.65,314.74 L94.90,314.73 L94.15,314.72 L93.39,314.70 L92.64,314.69 L91.89,314.68 L91.14,314.66 L90.38,314.65 L89.63,314.64 L88.88,314.63 L88.13,314.61 L87.37,314.60 L86.62,314.59 L85.87,314.58 L85.11,314.56 L84.36,314.55 L83.61,314.54 L82.86,314.52 L82.10,314.51 L81.35,314.49 L80.60,314.48 L79.84,314.46 L79.09,314.45 L78.34,314.43 L77.59,314.41 L76.83,314.40 L76.08,314.38 L75.33,314.36 L74.57,314.34 L73.82,314.32 L73.07,314.30 L72.32,314.27 L71.56,314.25 L70.81,314.23 L70.06,314.20 L69.30,314.18 L68.55,314.15 L67.80,314.12 L67.05,314.09 L66.29,314.06 L65.54,314.03 L64.79,313.99 L64.03,313.96 L63.28,313.92 L62.53,313.88 L61.78,313.85 L61.02,313.80 L60.27,313.76 L59.52,313.72 L58.76,313.67 L58.01,313.63 L57.26,313.58 L56.51,313.53 L55.75,313.47 L55.00,313.42 Z" fill="#eccf6c" fill-opacity="0.15" stroke="none"/>
<path d="M55.00,302.03 L55.75,302.09 L56.51,302.14 L57.26,302.20 L58.01,302.26 L58.76,302.32 L59.52,302.38 L60.27,302.44 L61.02,302.50 L61.78,302.56 L62.53,302.62 L63.28,302.68 L64.03,302.74 L64.79,302.80 L65.54,302.86 L66.29,302.92 L67.05,302.98 L67.80,303.05 L68.55,303.11 L69.30,303.18 L70.06,303.24 L70.81,303.31 L71.56,303.37 L72.32,303.44 L73.07,303.51 L73.82,303.58 L74.57,303.64 L75.33,303.71 L76.08,303.79 L76.83,303.86 L77.59,303.93 L78.34,304.00 L79.09,304.08 L79.84,304.15 L80.60,304.23 L81.35,304.30 L82.10,304.38 L82.86,304.46 L83.61,304.54 L84.36,304.62 L85.11,304.70 L85.87,304.79 L86.62,304.87 L87.37,304.96 L88.13,305.04 L88.88,305.13 L89.63,305.22 L90.38,305.31 L91.14,305.40 L91.89,305.50 L92.64,305.59 L93.39,305.69 L94.15,305.78 L94.90,305.88 L95.65,305.98 L96.41,306.08 L97.16,306.19 L97.91,306.29 L98.66,306.40 L99.42,306.51 L100.17,306.61 L100.92,306.73 L101.68,306.84 L102.43,306.95 L103.18,307.07 L103.93,307.18 L104.69,307.30 L105.44,307.42 L106.19,307.55 L106.95,307.67 L107.70,307.80 L108.45,307.93 L109.20,308.06 L109.96,308.19 L110.71,308.32 L111.46,308.46 L112.22,308.60 L112.97,308.74 L113.72,308.88 L114.47,309.02 L115.23,309.17 L115.98,309.31 L116.73,309.46 L117.49,309.62 L118.24,309.77 L118.99,309.93 L119.74,310.09 L120.50,310.25 L121.25,310.41 L122.00,310.58 L122.76,310.74 L123.51,310.91 L124.26,311.09 L125.01,311.26 L125.77,311.44 L126.52,311.62 L127.27,311.80 L128.03,311.99 L128.78,312.17 L129.53,312.36 L130.28,312.56 L131.04,312.75 L131.79,312.95 L132.54,313.15 L133.30,313.35 L134.05,313.56 L134.80,313.77 L135.55,313.98 L136.31,314.19 L137.06,314.41 L137.81,314.63 L138.57,314.85 L139.32,315.07 L140.07,315.30 L140.82,315.53 L141.58,315.77 L142.33,316.00 L143.08,316.24 L143.84,316.48 L144.59,316.73 L145.34,316.98 L146.09,317.23 L146.85,317.48 L147.60,317.74 L148.35,318.00 L149.11,318.27 L149.86,318.54 L150.61,318.81 L151.36,319.08 L152.12,319.36 L152.87,319.64 L153.62,319.92 L154.38,320.21 L155.13,320.50 L155.88,320.79 L156.63,321.09 L157.39,321.39 L158.14,321.69 L158.89,322.00 L159.65,322.31 L160.40,322.63 L161.15,322.95 L161.90,323.27 L162.66,323.59 L163.41,323.92 L164.16,324.25 L164.92,324.59 L165.67,324.93 L166.42,325.27 L167.17,325.62 L167.93,325.97 L168.68,326.33 L169.43,326.69 L170.18,327.05 L170.94,327.42 L171.69,327.79 L172.44,328.16 L173.20,328.54 L173.95,328.92 L174.70,329.31 L175.45,329.70 L176.21,330.09 L176.96,330.49 L177.71,330.90 L178.47,331.30 L179.22,331.71 L179.97,332.13 L180.72,332.55 L181.48,332.97 L182.23,333.40 L182.98,333.83 L183.74,334.27 L184.49,334.72 L185.24,335.17 L185.99,335.63 L186.75,336.09 L187.50,336.56 L188.25,337.04 L189.01,337.53 L189.76,338.02 L190.51,338.52 L191.26,339.04 L192.02,339.56 L192.77,340.09 L193.52,340.63 L194.28,341.17 L195.03,341.73 L195.78,342.30 L196.53,342.88 L197.29,343.48 L198.04,344.08 L198.79,344.70 L199.55,345.32 L200.30,345.96 L201.05,346.61 L201.80,347.27 L202.56,347.95 L203.31,348.63 L204.06,349.32 L204.82,350.03 L205.57,350.75 L206.32,351.48 L207.07,352.23 L207.83,352.98 L208.58,353.75 L209.33,354.54 L210.09,355.34 L210.84,356.15 L211.59,356.98 L212.34,357.82 L213.10,358.68 L213.85,359.55 L214.60,360.44 L215.36,361.35 L216.11,362.27 L216.86,363.21 L217.61,364.17 L218.37,365.15 L219.12,366.14 L219.87,367.15 L220.63,368.18 L221.38,369.23 L222.13,370.30 L222.88,371.38 L223.64,372.49 L224.39,373.62 L225.14,374.77 L225.90,375.93 L226.65,377.12 L227.40,378.34 L228.15,379.57 L228.91,380.82 L229.66,382.10 L230.41,383.40 L231.17,384.72 L231.92,386.07 L232.67,387.44 L233.42,388.82 L234.18,390.23 L234.93,391.66 L235.68,393.11 L236.44,394.57 L237.19,396.06 L237.94,397.56 L238.69,399.08 L239.45,400.62 L240.20,402.17 L240.95,403.74 L241.71,405.32 L242.46,406.91 L243.21,408.52 L243.96,410.15 L244.72,411.78 L245.47,413.43 L246.22,415.09 L246.97,416.76 L247.73,418.44 L248.48,420.13 L249.23,421.83 L249.99,423.53 L250.74,425.25 L251.49,426.97 L252.24,428.70 L253.00,430.44 L253.75,432.18 L254.50,433.92 L255.26,435.67 L256.01,437.43 L256.76,439.19 L257.51,440.95 L258.27,442.71 L259.02,444.48 L259.77,446.24 L260.53,448.01 L261.28,449.78 L262.03,451.54 L262.78,453.31 L263.54,455.07 L264.29,456.83 L265.04,458.59 L265.80,460.34 L266.55,462.09 L267.30,463.84 L268.05,465.58 L268.81,467.31 L269.56,469.04 L270.31,470.76 L271.07,472.48 L271.82,474.18 L272.57,475.88 L273.32,477.57 L274.08,479.25 L274.83,480.92 L275.58,482.57 L276.34,484.22 L277.09,485.85 L277.84,487.48 L278.59,489.08 L279.35,490.68 L280.10,492.26 L280.10,526.26 L279.35,524.15 L278.59,522.03 L277.84,519.90 L277.09,517.76 L276.34,515.61 L275.58,513.46 L274.83,511.30 L274.08,509.14 L273.32,506.97 L272.57,504.79 L271.82,502.62 L271.07,500.43 L270.31,498.25 L269.56,496.06 L268.81,493.87 L268.05,491.68 L267.30,489.49 L266.55,487.30 L265.80,485.11 L265.04,482.91 L264.29,480.73 L263.54,478.54 L262.78,476.36 L262.03,474.17 L261.28,472.00 L260.53,469.83 L259.77,467.66 L259.02,465.50 L258.27,463.34 L257.51,461.19 L256.76,459.05 L256.01,456.92 L255.26,454.79 L254.50,452.67 L253.75,450.57 L253.00,448.47 L252.24,446.38 L251.49,444.31 L250.74,442.24 L249.99,440.19 L249.23,438.16 L248.48,436.13 L247.73,434.12 L246.97,432.13 L246.22,430.15 L245.47,428.18 L244.72,426.23 L243.96,424.30 L243.21,422.39 L242.46,420.49 L241.71,418.62 L240.95,416.76 L240.20,414.92 L239.45,413.10 L238.69,411.31 L237.94,409.53 L237.19,407.78 L236.44,406.05 L235.68,404.34 L234.93,402.66 L234.18,401.00 L233.42,399.37 L232.67,397.76 L231.92,396.18 L231.17,394.62 L230.41,393.10 L229.66,391.59 L228.91,390.12 L228.15,388.68 L227.40,387.26 L226.65,385.87 L225.90,384.50 L225.14,383.16 L224.39,381.85 L223.64,380.56 L222.88,379.30 L222.13,378.06 L221.38,376.85 L220.63,375.66 L219.87,374.50 L219.12,373.36 L218.37,372.24 L217.61,371.14 L216.86,370.07 L216.11,369.02 L215.36,367.99 L214.60,366.99 L213.85,366.00 L213.10,365.04 L212.34,364.10 L211.59,363.17 L210.84,362.27 L210.09,361.39 L209.33,360.52 L208.58,359.68 L207.83,358.85 L207.07,358.05 L206.32,357.26 L205.57,356.49 L204.82,355.73 L204.06,355.00 L203.31,354.28 L202.56,353.57 L201.80,352.89 L201.05,352.22 L200.30,351.56 L199.55,350.92 L198.79,350.30 L198.04,349.68 L197.29,349.08 L196.53,348.48 L195.78,347.90 L195.03,347.33 L194.28,346.77 L193.52,346.23 L192.77,345.69 L192.02,345.16 L191.26,344.64 L190.51,344.12 L189.76,343.62 L189.01,343.13 L188.25,342.64 L187.50,342.16 L186.75,341.69 L185.99,341.23 L185.24,340.77 L184.49,340.32 L183.74,339.87 L182.98,339.43 L182.23,339.00 L181.48,338.57 L180.72,338.15 L179.97,337.73 L179.22,337.31 L178.47,336.90 L177.71,336.50 L176.96,336.09 L176.21,335.69 L175.45,335.30 L174.70,334.91 L173.95,334.52 L173.20,334.14 L172.44,333.76 L171.69,333.39 L170.94,333.02 L170.18,332.65 L169.43,332.29 L168.68,331.93 L167.93,331.57 L167.17,331.22 L166.42,330.87 L165.67,330.53 L164.92,330.19 L164.16,329.85 L163.41,329.52 L162.66,329.19 L161.90,328.87 L161.15,328.55 L160.40,328.23 L159.65,327.91 L158.89,327.60 L158.14,327.29 L157.39,326.99 L156.63,326.69 L155.88,326.39 L155.13,326.10 L154.38,325.81 L153.62,325.52 L152.87,325.24 L152.12,324.96 L151.36,324.68 L150.61,324.41 L149.86,324.14 L149.11,323.87 L148.35,323.60 L147.60,323.34 L146.85,323.08 L146.09,322.83 L145.34,322.58 L144.59,322.33 L143.84,322.08 L143.08,321.84 L142.33,321.60 L141.58,321.37 L140.82,321.13 L140.07,320.90 L139.32,320.67 L138.57,320.45 L137.81,320.23 L137.06,320.01 L136.31,319.79 L135.55,319.58 L134.80,319.37 L134.05,319.16 L133.30,318.95 L132.54,318.75 L131.79,318.55 L131.04,318.35 L130.28,318.16 L129.53,317.96 L128.78,317.77 L128.03,317.59 L127.27,317.40 L126.52,317.22 L125.77,317.04 L125.01,316.86 L124.26,316.69 L123.51,316.51 L122.76,316.34 L122.00,316.18 L121.25,316.01 L120.50,315.85 L119.74,315.69 L118.99,315.53 L118.24,315.37 L117.49,315.22 L116.73,315.06 L115.98,314.91 L115.23,314.77 L114.47,314.62 L113.72,314.48 L112.97,314.34 L112.22,314.20 L111.46,314.06 L110.71,313.92 L109.96,313.79 L109.20,313.66 L108.45,313.53 L107.70,313.40 L106.95,313.27 L106.19,313.15 L105.44,313.02 L104.69,312.90 L103.93,312.78 L103.18,312.67 L102.43,312.55 L101.68,312.44 L100.92,312.33 L100.17,312.21 L99.42,312.11 L98.66,312.00 L97.91,311.89 L97.16,311.79 L96.41,311.68 L95.65,311.58 L94.90,311.48 L94.15,311.38 L93.39,311.29 L92.64,311.19 L91.89,311.10 L91.14,311.00 L90.38,310.91 L89.63,310.82 L88.88,310.73 L88.13,310.64 L87.37,310.56 L86.62,310.47 L85.87,310.39 L85.11,310.30 L84.36,310.22 L83.61,310.14 L82.86,310.06 L82.10,309.98 L81.35,309.90 L80.60,309.83 L79.84,309.75 L79.09,309.68 L78.34,309.60 L77.59,309.53 L76.83,309.46 L76.08,309.39 L75.33,309.31 L74.57,309.24 L73.82,309.18 L73.07,309.11 L72.32,309.04 L71.56,308.97 L70.81,308.91 L70.06,308.84 L69.30,308.78 L68.55,308.71 L67.80,308.65 L67.05,308.58 L66.29,308.52 L65.54,308.46 L64.79,308.40 L64.03,308.34 L63.28,308.28 L62.53,308.22 L61.78,308.16 L61.02,308.10 L60.27,308.04 L59.52,307.98 L58.76,307.92 L58.01,307.86 L57.26,307.80 L56.51,307.74 L55.75,307.69 L55.00,307.63 Z" fill="#c24d4e" fill-opacity="0.15" stroke="none"/>
<line x1="43.50" y1="316.00" x2="293.00" y2="316.00" stroke="#808080" stroke-width="1.9" stroke-dasharray="8.75 8.71"/>
<path d="M55.00,315.24 L55.75,315.26 L56.51,315.27 L57.26,315.28 L58.01,315.29 L58.76,315.30 L59.52,315.31 L60.27,315.32 L61.02,315.32 L61.78,315.33 L62.53,315.33 L63.28,315.33 L64.03,315.33 L64.79,315.33 L65.54,315.33 L66.29,315.33 L67.05,315.33 L67.80,315.32 L68.55,315.32 L69.30,315.31 L70.06,315.30 L70.81,315.29 L71.56,315.28 L72.32,315.27 L73.07,315.26 L73.82,315.25 L74.57,315.24 L75.33,315.22 L76.08,315.21 L76.83,315.19 L77.59,315.18 L78.34,315.16 L79.09,315.14 L79.84,315.13 L80.60,315.11 L81.35,315.09 L82.10,315.07 L82.86,315.05 L83.61,315.03 L84.36,315.01 L85.11,314.99 L85.87,314.97 L86.62,314.95 L87.37,314.92 L88.13,314.90 L88.88,314.88 L89.63,314.86 L90.38,314.83 L91.14,314.81 L91.89,314.79 L92.64,314.76 L93.39,314.74 L94.15,314.72 L94.90,314.69 L95.65,314.67 L96.41,314.65 L97.16,314.62 L97.91,314.60 L98.66,314.58 L99.42,314.55 L100.17,314.53 L100.92,314.51 L101.68,314.48 L102.43,314.46 L103.18,314.44 L103.93,314.42 L104.69,314.40 L105.44,314.38 L106.19,314.36 L106.95,314.34 L107.70,314.32 L108.45,314.30 L109.20,314.28 L109.96,314.26 L110.71,314.24 L111.46,314.23 L112.22,314.21 L112.97,314.20 L113.72,314.18 L114.47,314.17 L115.23,314.15 L115.98,314.14 L116.73,314.13 L117.49,314.12 L118.24,314.11 L118.99,314.10 L119.74,314.09 L120.50,314.08 L121.25,314.08 L122.00,314.07 L122.76,314.07 L123.51,314.06 L124.26,314.06 L125.01,314.06 L125.77,314.06 L126.52,314.06 L127.27,314.06 L128.03,314.07 L128.78,314.07 L129.53,314.08 L130.28,314.09 L131.04,314.09 L131.79,314.10 L132.54,314.12 L133.30,314.13 L134.05,314.14 L134.80,314.16 L135.55,314.18 L136.31,314.20 L137.06,314.22 L137.81,314.24 L138.57,314.26 L139.32,314.29 L140.07,314.32 L140.82,314.34 L141.58,314.38 L142.33,314.41 L143.08,314.44 L143.84,314.48 L144.59,314.52 L145.34,314.56 L146.09,314.60 L146.85,314.64 L147.60,314.69 L148.35,314.73 L149.11,314.78 L149.86,314.84 L150.61,314.89 L151.36,314.94 L152.12,315.00 L152.87,315.06 L153.62,315.13 L154.38,315.19 L155.13,315.26 L155.88,315.33 L156.63,315.40 L157.39,315.47 L158.14,315.55 L158.89,315.63 L159.65,315.71 L160.40,315.79 L161.15,315.88 L161.90,315.96 L162.66,316.06 L163.41,316.15 L164.16,316.25 L164.92,316.34 L165.67,316.45 L166.42,316.55 L167.17,316.66 L167.93,316.77 L168.68,316.88 L169.43,316.99 L170.18,317.11 L170.94,317.23 L171.69,317.36 L172.44,317.48 L173.20,317.61 L173.95,317.74 L174.70,317.88 L175.45,318.02 L176.21,318.16 L176.96,318.30 L177.71,318.45 L178.47,318.60 L179.22,318.76 L179.97,318.91 L180.72,319.07 L181.48,319.24 L182.23,319.40 L182.98,319.58 L183.74,319.75 L184.49,319.93 L185.24,320.11 L185.99,320.29 L186.75,320.48 L187.50,320.67 L188.25,320.86 L189.01,321.06 L189.76,321.26 L190.51,321.47 L191.26,321.67 L192.02,321.89 L192.77,322.10 L193.52,322.33 L194.28,322.55 L195.03,322.79 L195.78,323.02 L196.53,323.27 L197.29,323.52 L198.04,323.78 L198.79,324.04 L199.55,324.31 L200.30,324.59 L201.05,324.88 L201.80,325.18 L202.56,325.48 L203.31,325.80 L204.06,326.12 L204.82,326.45 L205.57,326.80 L206.32,327.15 L207.07,327.51 L207.83,327.89 L208.58,328.28 L209.33,328.67 L210.09,329.08 L210.84,329.51 L211.59,329.94 L212.34,330.39 L213.10,330.85 L213.85,331.33 L214.60,331.82 L215.36,332.33 L216.11,332.85 L216.86,333.38 L217.61,333.93 L218.37,334.49 L219.12,335.08 L219.87,335.67 L220.63,336.29 L221.38,336.92 L222.13,337.57 L222.88,338.24 L223.64,338.92 L224.39,339.63 L225.14,340.35 L225.90,341.09 L226.65,341.85 L227.40,342.63 L228.15,343.43 L228.91,344.25 L229.66,345.09 L230.41,345.96 L231.17,346.84 L231.92,347.75 L232.67,348.68 L233.42,349.63 L234.18,350.60 L234.93,351.60 L235.68,352.61 L236.44,353.66 L237.19,354.73 L237.94,355.82 L238.69,356.93 L239.45,358.08 L240.20,359.24 L240.95,360.44 L241.71,361.66 L242.46,362.90 L243.21,364.17 L243.96,365.47 L244.72,366.79 L245.47,368.14 L246.22,369.51 L246.97,370.91 L247.73,372.34 L248.48,373.79 L249.23,375.26 L249.99,376.76 L250.74,378.29 L251.49,379.83 L252.24,381.41 L253.00,383.01 L253.75,384.63 L254.50,386.27 L255.26,387.94 L256.01,389.64 L256.76,391.35 L257.51,393.09 L258.27,394.86 L259.02,396.65 L259.77,398.46 L260.53,400.29 L261.28,402.15 L262.03,404.03 L262.78,405.93 L263.54,407.85 L264.29,409.80 L265.04,411.77 L265.80,413.76 L266.55,415.77 L267.30,417.81 L268.05,419.87 L268.81,421.94 L269.56,424.04 L270.31,426.17 L271.07,428.31 L271.82,430.47 L272.57,432.66 L273.32,434.86 L274.08,437.09 L274.83,439.33 L275.58,441.60 L276.34,443.89 L277.09,446.19 L277.84,448.52 L278.59,450.87 L279.35,453.23 L280.10,455.62" fill="none" stroke="#0c365a" stroke-width="1.80" stroke-linecap="butt" stroke-linejoin="round"/>
<path d="M55.00,315.03 L55.75,315.05 L56.51,315.08 L57.26,315.10 L58.01,315.12 L58.76,315.14 L59.52,315.16 L60.27,315.17 L61.02,315.19 L61.78,315.20 L62.53,315.21 L63.28,315.22 L64.03,315.23 L64.79,315.23 L65.54,315.24 L66.29,315.24 L67.05,315.24 L67.80,315.24 L68.55,315.24 L69.30,315.24 L70.06,315.23 L70.81,315.23 L71.56,315.22 L72.32,315.21 L73.07,315.21 L73.82,315.20 L74.57,315.19 L75.33,315.17 L76.08,315.16 L76.83,315.15 L77.59,315.13 L78.34,315.12 L79.09,315.10 L79.84,315.09 L80.60,315.07 L81.35,315.05 L82.10,315.03 L82.86,315.02 L83.61,315.00 L84.36,314.98 L85.11,314.96 L85.87,314.94 L86.62,314.91 L87.37,314.89 L88.13,314.87 L88.88,314.85 L89.63,314.83 L90.38,314.80 L91.14,314.78 L91.89,314.76 L92.64,314.74 L93.39,314.71 L94.15,314.69 L94.90,314.67 L95.65,314.64 L96.41,314.62 L97.16,314.60 L97.91,314.58 L98.66,314.56 L99.42,314.53 L100.17,314.51 L100.92,314.49 L101.68,314.47 L102.43,314.45 L103.18,314.43 L103.93,314.41 L104.69,314.39 L105.44,314.37 L106.19,314.36 L106.95,314.34 L107.70,314.32 L108.45,314.31 L109.20,314.29 L109.96,314.28 L110.71,314.27 L111.46,314.26 L112.22,314.24 L112.97,314.23 L113.72,314.23 L114.47,314.22 L115.23,314.21 L115.98,314.20 L116.73,314.20 L117.49,314.20 L118.24,314.19 L118.99,314.19 L119.74,314.19 L120.50,314.20 L121.25,314.20 L122.00,314.20 L122.76,314.21 L123.51,314.22 L124.26,314.23 L125.01,314.24 L125.77,314.25 L126.52,314.26 L127.27,314.28 L128.03,314.30 L128.78,314.32 L129.53,314.34 L130.28,314.36 L131.04,314.39 L131.79,314.41 L132.54,314.44 L133.30,314.47 L134.05,314.51 L134.80,314.54 L135.55,314.58 L136.31,314.62 L137.06,314.66 L137.81,314.70 L138.57,314.75 L139.32,314.80 L140.07,314.85 L140.82,314.90 L141.58,314.96 L142.33,315.02 L143.08,315.08 L143.84,315.14 L144.59,315.21 L145.34,315.27 L146.09,315.34 L146.85,315.42 L147.60,315.50 L148.35,315.58 L149.11,315.66 L149.86,315.74 L150.61,315.83 L151.36,315.92 L152.12,316.02 L152.87,316.11 L153.62,316.21 L154.38,316.32 L155.13,316.42 L155.88,316.53 L156.63,316.65 L157.39,316.76 L158.14,316.88 L158.89,317.00 L159.65,317.13 L160.40,317.26 L161.15,317.39 L161.90,317.53 L162.66,317.67 L163.41,317.81 L164.16,317.96 L164.92,318.11 L165.67,318.27 L166.42,318.42 L167.17,318.59 L167.93,318.75 L168.68,318.92 L169.43,319.10 L170.18,319.27 L170.94,319.46 L171.69,319.64 L172.44,319.83 L173.20,320.02 L173.95,320.22 L174.70,320.42 L175.45,320.63 L176.21,320.84 L176.96,321.06 L177.71,321.27 L178.47,321.50 L179.22,321.73 L179.97,321.96 L180.72,322.19 L181.48,322.44 L182.23,322.68 L182.98,322.93 L183.74,323.19 L184.49,323.45 L185.24,323.71 L185.99,323.98 L186.75,324.25 L187.50,324.53 L188.25,324.81 L189.01,325.10 L189.76,325.40 L190.51,325.69 L191.26,326.00 L192.02,326.31 L192.77,326.62 L193.52,326.94 L194.28,327.27 L195.03,327.61 L195.78,327.96 L196.53,328.31 L197.29,328.67 L198.04,329.05 L198.79,329.43 L199.55,329.82 L200.30,330.23 L201.05,330.64 L201.80,331.07 L202.56,331.51 L203.31,331.97 L204.06,332.44 L204.82,332.92 L205.57,333.41 L206.32,333.93 L207.07,334.45 L207.83,335.00 L208.58,335.56 L209.33,336.14 L210.09,336.73 L210.84,337.35 L211.59,337.98 L212.34,338.63 L213.10,339.30 L213.85,339.99 L214.60,340.70 L215.36,341.44 L216.11,342.19 L216.86,342.97 L217.61,343.77 L218.37,344.59 L219.12,345.44 L219.87,346.31 L220.63,347.20 L221.38,348.12 L222.13,349.07 L222.88,350.04 L223.64,351.04 L224.39,352.06 L225.14,353.12 L225.90,354.20 L226.65,355.31 L227.40,356.45 L228.15,357.62 L228.91,358.82 L229.66,360.04 L230.41,361.31 L231.17,362.60 L231.92,363.92 L232.67,365.28 L233.42,366.67 L234.18,368.09 L234.93,369.55 L235.68,371.04 L236.44,372.57 L237.19,374.13 L237.94,375.73 L238.69,377.37 L239.45,379.04 L240.20,380.75 L240.95,382.50 L241.71,384.28 L242.46,386.10 L243.21,387.95 L243.96,389.83 L244.72,391.74 L245.47,393.67 L246.22,395.63 L246.97,397.60 L247.73,399.59 L248.48,401.60 L249.23,403.62 L249.99,405.66 L250.74,407.70 L251.49,409.74 L252.24,411.79 L253.00,413.84 L253.75,415.89 L254.50,417.94 L255.26,419.98 L256.01,422.02 L256.76,424.04 L257.51,426.05 L258.27,428.05 L259.02,430.03 L259.77,431.98 L260.53,433.92 L261.28,435.84 L262.03,437.74 L262.78,439.62 L263.54,441.49 L264.29,443.33 L265.04,445.16 L265.80,446.97 L266.55,448.76 L267.30,450.53 L268.05,452.29 L268.81,454.04 L269.56,455.77 L270.31,457.49 L271.07,459.19 L271.82,460.88 L272.57,462.55 L273.32,464.21 L274.08,465.86 L274.83,467.50 L275.58,469.13 L276.34,470.74 L277.09,472.35 L277.84,473.94 L278.59,475.52 L279.35,477.10 L280.10,478.67" fill="none" stroke="#7da2cf" stroke-width="1.80" stroke-linecap="butt" stroke-linejoin="round"/>
<path d="M55.00,311.22 L55.75,311.27 L56.51,311.33 L57.26,311.38 L58.01,311.43 L58.76,311.47 L59.52,311.52 L60.27,311.56 L61.02,311.60 L61.78,311.65 L62.53,311.68 L63.28,311.72 L64.03,311.76 L64.79,311.79 L65.54,311.83 L66.29,311.86 L67.05,311.89 L67.80,311.92 L68.55,311.95 L69.30,311.98 L70.06,312.00 L70.81,312.03 L71.56,312.05 L72.32,312.07 L73.07,312.10 L73.82,312.12 L74.57,312.14 L75.33,312.16 L76.08,312.18 L76.83,312.20 L77.59,312.21 L78.34,312.23 L79.09,312.25 L79.84,312.26 L80.60,312.28 L81.35,312.29 L82.10,312.31 L82.86,312.32 L83.61,312.34 L84.36,312.35 L85.11,312.36 L85.87,312.38 L86.62,312.39 L87.37,312.40 L88.13,312.41 L88.88,312.43 L89.63,312.44 L90.38,312.45 L91.14,312.46 L91.89,312.48 L92.64,312.49 L93.39,312.50 L94.15,312.52 L94.90,312.53 L95.65,312.54 L96.41,312.56 L97.16,312.57 L97.91,312.59 L98.66,312.61 L99.42,312.62 L100.17,312.64 L100.92,312.66 L101.68,312.68 L102.43,312.69 L103.18,312.71 L103.93,312.74 L104.69,312.76 L105.44,312.78 L106.19,312.80 L106.95,312.83 L107.70,312.85 L108.45,312.88 L109.20,312.91 L109.96,312.93 L110.71,312.96 L111.46,313.00 L112.22,313.03 L112.97,313.06 L113.72,313.10 L114.47,313.13 L115.23,313.17 L115.98,313.21 L116.73,313.25 L117.49,313.29 L118.24,313.34 L118.99,313.38 L119.74,313.43 L120.50,313.48 L121.25,313.53 L122.00,313.58 L122.76,313.64 L123.51,313.69 L124.26,313.75 L125.01,313.81 L125.77,313.88 L126.52,313.94 L127.27,314.01 L128.03,314.08 L128.78,314.15 L129.53,314.22 L130.28,314.29 L131.04,314.37 L131.79,314.45 L132.54,314.54 L133.30,314.62 L134.05,314.71 L134.80,314.80 L135.55,314.89 L136.31,314.99 L137.06,315.08 L137.81,315.18 L138.57,315.29 L139.32,315.39 L140.07,315.50 L140.82,315.61 L141.58,315.73 L142.33,315.85 L143.08,315.97 L143.84,316.09 L144.59,316.22 L145.34,316.35 L146.09,316.48 L146.85,316.62 L147.60,316.76 L148.35,316.90 L149.11,317.05 L149.86,317.20 L150.61,317.35 L151.36,317.51 L152.12,317.67 L152.87,317.83 L153.62,318.00 L154.38,318.17 L155.13,318.34 L155.88,318.52 L156.63,318.70 L157.39,318.89 L158.14,319.08 L158.89,319.27 L159.65,319.47 L160.40,319.67 L161.15,319.88 L161.90,320.09 L162.66,320.30 L163.41,320.52 L164.16,320.74 L164.92,320.96 L165.67,321.20 L166.42,321.43 L167.17,321.67 L167.93,321.91 L168.68,322.16 L169.43,322.41 L170.18,322.67 L170.94,322.93 L171.69,323.20 L172.44,323.47 L173.20,323.74 L173.95,324.02 L174.70,324.31 L175.45,324.60 L176.21,324.89 L176.96,325.19 L177.71,325.50 L178.47,325.81 L179.22,326.12 L179.97,326.44 L180.72,326.76 L181.48,327.09 L182.23,327.43 L182.98,327.77 L183.74,328.12 L184.49,328.47 L185.24,328.83 L185.99,329.20 L186.75,329.58 L187.50,329.96 L188.25,330.35 L189.01,330.75 L189.76,331.16 L190.51,331.57 L191.26,331.99 L192.02,332.43 L192.77,332.87 L193.52,333.32 L194.28,333.79 L195.03,334.26 L195.78,334.74 L196.53,335.23 L197.29,335.74 L198.04,336.25 L198.79,336.78 L199.55,337.32 L200.30,337.87 L201.05,338.43 L201.80,339.01 L202.56,339.60 L203.31,340.20 L204.06,340.82 L204.82,341.45 L205.57,342.09 L206.32,342.75 L207.07,343.42 L207.83,344.10 L208.58,344.80 L209.33,345.52 L210.09,346.25 L210.84,347.00 L211.59,347.76 L212.34,348.54 L213.10,349.34 L213.85,350.15 L214.60,350.98 L215.36,351.83 L216.11,352.70 L216.86,353.58 L217.61,354.48 L218.37,355.40 L219.12,356.34 L219.87,357.30 L220.63,358.28 L221.38,359.27 L222.13,360.29 L222.88,361.33 L223.64,362.38 L224.39,363.46 L225.14,364.56 L225.90,365.68 L226.65,366.82 L227.40,367.98 L228.15,369.17 L228.91,370.37 L229.66,371.60 L230.41,372.85 L231.17,374.13 L231.92,375.43 L232.67,376.75 L233.42,378.09 L234.18,379.46 L234.93,380.85 L235.68,382.27 L236.44,383.70 L237.19,385.16 L237.94,386.64 L238.69,388.14 L239.45,389.66 L240.20,391.20 L240.95,392.77 L241.71,394.35 L242.46,395.96 L243.21,397.58 L243.96,399.23 L244.72,400.89 L245.47,402.57 L246.22,404.28 L246.97,406.00 L247.73,407.74 L248.48,409.50 L249.23,411.27 L249.99,413.06 L250.74,414.88 L251.49,416.70 L252.24,418.55 L253.00,420.41 L253.75,422.29 L254.50,424.18 L255.26,426.09 L256.01,428.02 L256.76,429.96 L257.51,431.92 L258.27,433.89 L259.02,435.88 L259.77,437.88 L260.53,439.89 L261.28,441.92 L262.03,443.96 L262.78,446.02 L263.54,448.09 L264.29,450.17 L265.04,452.26 L265.80,454.37 L266.55,456.49 L267.30,458.62 L268.05,460.76 L268.81,462.91 L269.56,465.08 L270.31,467.26 L271.07,469.44 L271.82,471.64 L272.57,473.84 L273.32,476.06 L274.08,478.29 L274.83,480.52 L275.58,482.77 L276.34,485.02 L277.09,487.28 L277.84,489.55 L278.59,491.83 L279.35,494.11 L280.10,496.41" fill="none" stroke="#eccf6c" stroke-width="1.80" stroke-linecap="butt" stroke-linejoin="round"/>
<path d="M55.00,304.83 L55.75,304.89 L56.51,304.94 L57.26,305.00 L58.01,305.06 L58.76,305.12 L59.52,305.18 L60.27,305.24 L61.02,305.30 L61.78,305.36 L62.53,305.42 L63.28,305.48 L64.03,305.54 L64.79,305.60 L65.54,305.66 L66.29,305.72 L67.05,305.78 L67.80,305.85 L68.55,305.91 L69.30,305.98 L70.06,306.04 L70.81,306.11 L71.56,306.17 L72.32,306.24 L73.07,306.31 L73.82,306.38 L74.57,306.44 L75.33,306.51 L76.08,306.59 L76.83,306.66 L77.59,306.73 L78.34,306.80 L79.09,306.88 L79.84,306.95 L80.60,307.03 L81.35,307.10 L82.10,307.18 L82.86,307.26 L83.61,307.34 L84.36,307.42 L85.11,307.50 L85.87,307.59 L86.62,307.67 L87.37,307.76 L88.13,307.84 L88.88,307.93 L89.63,308.02 L90.38,308.11 L91.14,308.20 L91.89,308.30 L92.64,308.39 L93.39,308.49 L94.15,308.58 L94.90,308.68 L95.65,308.78 L96.41,308.88 L97.16,308.99 L97.91,309.09 L98.66,309.20 L99.42,309.31 L100.17,309.41 L100.92,309.53 L101.68,309.64 L102.43,309.75 L103.18,309.87 L103.93,309.98 L104.69,310.10 L105.44,310.22 L106.19,310.35 L106.95,310.47 L107.70,310.60 L108.45,310.73 L109.20,310.86 L109.96,310.99 L110.71,311.12 L111.46,311.26 L112.22,311.40 L112.97,311.54 L113.72,311.68 L114.47,311.82 L115.23,311.97 L115.98,312.11 L116.73,312.26 L117.49,312.42 L118.24,312.57 L118.99,312.73 L119.74,312.89 L120.50,313.05 L121.25,313.21 L122.00,313.38 L122.76,313.54 L123.51,313.71 L124.26,313.89 L125.01,314.06 L125.77,314.24 L126.52,314.42 L127.27,314.60 L128.03,314.79 L128.78,314.97 L129.53,315.16 L130.28,315.36 L131.04,315.55 L131.79,315.75 L132.54,315.95 L133.30,316.15 L134.05,316.36 L134.80,316.57 L135.55,316.78 L136.31,316.99 L137.06,317.21 L137.81,317.43 L138.57,317.65 L139.32,317.87 L140.07,318.10 L140.82,318.33 L141.58,318.57 L142.33,318.80 L143.08,319.04 L143.84,319.28 L144.59,319.53 L145.34,319.78 L146.09,320.03 L146.85,320.28 L147.60,320.54 L148.35,320.80 L149.11,321.07 L149.86,321.34 L150.61,321.61 L151.36,321.88 L152.12,322.16 L152.87,322.44 L153.62,322.72 L154.38,323.01 L155.13,323.30 L155.88,323.59 L156.63,323.89 L157.39,324.19 L158.14,324.49 L158.89,324.80 L159.65,325.11 L160.40,325.43 L161.15,325.75 L161.90,326.07 L162.66,326.39 L163.41,326.72 L164.16,327.05 L164.92,327.39 L165.67,327.73 L166.42,328.07 L167.17,328.42 L167.93,328.77 L168.68,329.13 L169.43,329.49 L170.18,329.85 L170.94,330.22 L171.69,330.59 L172.44,330.96 L173.20,331.34 L173.95,331.72 L174.70,332.11 L175.45,332.50 L176.21,332.89 L176.96,333.29 L177.71,333.70 L178.47,334.10 L179.22,334.51 L179.97,334.93 L180.72,335.35 L181.48,335.77 L182.23,336.20 L182.98,336.63 L183.74,337.07 L184.49,337.52 L185.24,337.97 L185.99,338.43 L186.75,338.89 L187.50,339.36 L188.25,339.84 L189.01,340.33 L189.76,340.82 L190.51,341.32 L191.26,341.84 L192.02,342.36 L192.77,342.89 L193.52,343.43 L194.28,343.97 L195.03,344.53 L195.78,345.10 L196.53,345.68 L197.29,346.28 L198.04,346.88 L198.79,347.50 L199.55,348.12 L200.30,348.76 L201.05,349.42 L201.80,350.08 L202.56,350.76 L203.31,351.45 L204.06,352.16 L204.82,352.88 L205.57,353.62 L206.32,354.37 L207.07,355.14 L207.83,355.92 L208.58,356.72 L209.33,357.53 L210.09,358.36 L210.84,359.21 L211.59,360.08 L212.34,360.96 L213.10,361.86 L213.85,362.78 L214.60,363.72 L215.36,364.67 L216.11,365.65 L216.86,366.64 L217.61,367.66 L218.37,368.69 L219.12,369.75 L219.87,370.82 L220.63,371.92 L221.38,373.04 L222.13,374.18 L222.88,375.34 L223.64,376.53 L224.39,377.73 L225.14,378.96 L225.90,380.22 L226.65,381.50 L227.40,382.80 L228.15,384.12 L228.91,385.47 L229.66,386.85 L230.41,388.25 L231.17,389.67 L231.92,391.12 L232.67,392.60 L233.42,394.10 L234.18,395.62 L234.93,397.16 L235.68,398.73 L236.44,400.31 L237.19,401.92 L237.94,403.55 L238.69,405.19 L239.45,406.86 L240.20,408.55 L240.95,410.25 L241.71,411.97 L242.46,413.70 L243.21,415.46 L243.96,417.22 L244.72,419.01 L245.47,420.81 L246.22,422.62 L246.97,424.44 L247.73,426.28 L248.48,428.13 L249.23,429.99 L249.99,431.86 L250.74,433.75 L251.49,435.64 L252.24,437.54 L253.00,439.45 L253.75,441.37 L254.50,443.30 L255.26,445.23 L256.01,447.17 L256.76,449.12 L257.51,451.07 L258.27,453.03 L259.02,454.99 L259.77,456.95 L260.53,458.92 L261.28,460.89 L262.03,462.86 L262.78,464.83 L263.54,466.80 L264.29,468.78 L265.04,470.75 L265.80,472.72 L266.55,474.69 L267.30,476.66 L268.05,478.63 L268.81,480.59 L269.56,482.55 L270.31,484.51 L271.07,486.46 L271.82,488.40 L272.57,490.34 L273.32,492.27 L274.08,494.19 L274.83,496.11 L275.58,498.02 L276.34,499.92 L277.09,501.81 L277.84,503.69 L278.59,505.56 L279.35,507.41 L280.10,509.26" fill="none" stroke="#c24d4e" stroke-width="1.80" stroke-linecap="butt" stroke-linejoin="round"/>
<line x1="242.80" y1="542.39" x2="242.80" y2="286.00" stroke="#000" stroke-width="2.3" stroke-dasharray="2.18 6.54"/>
</g>
<rect x="44.60" y="291.00" width="246.40" height="250.00" fill="none" stroke="#333333" stroke-width="2.1"/>
<line x1="41.00" y1="310.30" x2="43.60" y2="310.30" stroke="#4d4d4d" stroke-width="1.0"/>
<text x="39.00" y="313.90" font-size="10.00" font-weight="bold" fill="#4d4d4d" text-anchor="end" >7.0</text>
<line x1="41.00" y1="348.70" x2="43.60" y2="348.70" stroke="#4d4d4d" stroke-width="1.0"/>
<text x="39.00" y="352.30" font-size="10.00" font-weight="bold" fill="#4d4d4d" text-anchor="end" >6.5</text>
<line x1="41.00" y1="387.20" x2="43.60" y2="387.20" stroke="#4d4d4d" stroke-width="1.0"/>
<text x="39.00" y="390.80" font-size="10.00" font-weight="bold" fill="#4d4d4d" text-anchor="end" >6.0</text>
<line x1="41.00" y1="425.60" x2="43.60" y2="425.60" stroke="#4d4d4d" stroke-width="1.0"/>
<text x="39.00" y="429.20" font-size="10.00" font-weight="bold" fill="#4d4d4d" text-anchor="end" >5.5</text>
<line x1="41.00" y1="464.00" x2="43.60" y2="464.00" stroke="#4d4d4d" stroke-width="1.0"/>
<text x="39.00" y="467.60" font-size="10.00" font-weight="bold" fill="#4d4d4d" text-anchor="end" >5.0</text>
<line x1="41.00" y1="502.40" x2="43.60" y2="502.40" stroke="#4d4d4d" stroke-width="1.0"/>
<text x="39.00" y="506.00" font-size="10.00" font-weight="bold" fill="#4d4d4d" text-anchor="end" >4.5</text>
<line x1="41.00" y1="540.80" x2="43.60" y2="540.80" stroke="#4d4d4d" stroke-width="1.0"/>
<text x="39.00" y="544.40" font-size="10.00" font-weight="bold" fill="#4d4d4d" text-anchor="end" >4.0</text>
<line x1="55.00" y1="542.00" x2="55.00" y2="544.70" stroke="#4d4d4d" stroke-width="1.0"/>
<text x="55.00" y="553.90" font-size="10.00" font-weight="bold" fill="#4d4d4d" text-anchor="middle" >−10</text>
<line x1="92.56" y1="542.00" x2="92.56" y2="544.70" stroke="#4d4d4d" stroke-width="1.0"/>
<text x="92.56" y="553.90" font-size="10.00" font-weight="bold" fill="#4d4d4d" text-anchor="middle" >−8</text>
<line x1="130.12" y1="542.00" x2="130.12" y2="544.70" stroke="#4d4d4d" stroke-width="1.0"/>
<text x="130.12" y="553.90" font-size="10.00" font-weight="bold" fill="#4d4d4d" text-anchor="middle" >−6</text>
<line x1="167.68" y1="542.00" x2="167.68" y2="544.70" stroke="#4d4d4d" stroke-width="1.0"/>
<text x="167.68" y="553.90" font-size="10.00" font-weight="bold" fill="#4d4d4d" text-anchor="middle" >−4</text>
<line x1="205.24" y1="542.00" x2="205.24" y2="544.70" stroke="#4d4d4d" stroke-width="1.0"/>
<text x="205.24" y="553.90" font-size="10.00" font-weight="bold" fill="#4d4d4d" text-anchor="middle" >−2</text>
<line x1="242.80" y1="542.00" x2="242.80" y2="544.70" stroke="#4d4d4d" stroke-width="1.0"/>
<text x="242.80" y="553.90" font-size="10.00" font-weight="bold" fill="#4d4d4d" text-anchor="middle" >0</text>
<line x1="280.36" y1="542.00" x2="280.36" y2="544.70" stroke="#4d4d4d" stroke-width="1.0"/>
<text x="280.36" y="553.90" font-size="10.00" font-weight="bold" fill="#4d4d4d" text-anchor="middle" >+2</text>
<text x="0" y="0" font-size="10.2" font-weight="bold" fill="#000" text-anchor="middle" transform="translate(21.20,416.00) rotate(-90)">Sleep Duration (Hours)</text>
<clipPath id="c351_291"><rect x="351.20" y="291.00" width="245.80" height="250.00"/></clipPath>
<g clip-path="url(#c351_291)">
<path d="M361.30,309.89 L362.05,309.90 L362.80,309.92 L363.55,309.93 L364.30,309.94 L365.06,309.95 L365.81,309.96 L366.56,309.97 L367.31,309.98 L368.06,309.99 L368.81,310.00 L369.56,310.00 L370.31,310.01 L371.07,310.01 L371.82,310.02 L372.57,310.02 L373.32,310.02 L374.07,310.02 L374.82,310.02 L375.57,310.02 L376.32,310.02 L377.07,310.02 L377.83,310.02 L378.58,310.02 L379.33,310.01 L380.08,310.01 L380.83,310.00 L381.58,310.00 L382.33,309.99 L383.08,309.98 L383.84,309.97 L384.59,309.96 L385.34,309.95 L386.09,309.94 L386.84,309.93 L387.59,309.92 L388.34,309.91 L389.09,309.90 L389.84,309.88 L390.60,309.87 L391.35,309.85 L392.10,309.84 L392.85,309.82 L393.60,309.80 L394.35,309.79 L395.10,309.77 L395.85,309.75 L396.61,309.73 L397.36,309.71 L398.11,309.69 L398.86,309.67 L399.61,309.65 L400.36,309.63 L401.11,309.60 L401.86,309.58 L402.61,309.56 L403.37,309.53 L404.12,309.51 L404.87,309.48 L405.62,309.46 L406.37,309.43 L407.12,309.40 L407.87,309.37 L408.62,309.35 L409.37,309.32 L410.13,309.29 L410.88,309.26 L411.63,309.23 L412.38,309.20 L413.13,309.17 L413.88,309.14 L414.63,309.11 L415.38,309.08 L416.14,309.04 L416.89,309.01 L417.64,308.98 L418.39,308.95 L419.14,308.91 L419.89,308.88 L420.64,308.84 L421.39,308.81 L422.14,308.77 L422.90,308.74 L423.65,308.70 L424.40,308.67 L425.15,308.63 L425.90,308.59 L426.65,308.55 L427.40,308.52 L428.15,308.48 L428.91,308.44 L429.66,308.40 L430.41,308.36 L431.16,308.32 L431.91,308.29 L432.66,308.25 L433.41,308.21 L434.16,308.17 L434.91,308.13 L435.67,308.09 L436.42,308.04 L437.17,308.00 L437.92,307.96 L438.67,307.92 L439.42,307.88 L440.17,307.84 L440.92,307.80 L441.68,307.75 L442.43,307.71 L443.18,307.67 L443.93,307.63 L444.68,307.58 L445.43,307.54 L446.18,307.50 L446.93,307.46 L447.68,307.41 L448.44,307.37 L449.19,307.33 L449.94,307.28 L450.69,307.24 L451.44,307.19 L452.19,307.15 L452.94,307.11 L453.69,307.06 L454.45,307.02 L455.20,306.97 L455.95,306.93 L456.70,306.89 L457.45,306.84 L458.20,306.80 L458.95,306.75 L459.70,306.71 L460.45,306.67 L461.21,306.62 L461.96,306.58 L462.71,306.53 L463.46,306.49 L464.21,306.44 L464.96,306.40 L465.71,306.36 L466.46,306.31 L467.22,306.27 L467.97,306.22 L468.72,306.18 L469.47,306.14 L470.22,306.09 L470.97,306.05 L471.72,306.01 L472.47,305.96 L473.22,305.92 L473.98,305.88 L474.73,305.83 L475.48,305.79 L476.23,305.75 L476.98,305.71 L477.73,305.66 L478.48,305.62 L479.23,305.58 L479.98,305.54 L480.74,305.49 L481.49,305.45 L482.24,305.41 L482.99,305.37 L483.74,305.33 L484.49,305.29 L485.24,305.24 L485.99,305.20 L486.75,305.16 L487.50,305.12 L488.25,305.08 L489.00,305.04 L489.75,305.00 L490.50,304.96 L491.25,304.91 L492.00,304.87 L492.75,304.83 L493.51,304.79 L494.26,304.75 L495.01,304.71 L495.76,304.67 L496.51,304.63 L497.26,304.59 L498.01,304.55 L498.76,304.51 L499.52,304.47 L500.27,304.43 L501.02,304.39 L501.77,304.36 L502.52,304.32 L503.27,304.28 L504.02,304.24 L504.77,304.20 L505.52,304.17 L506.28,304.13 L507.03,304.09 L507.78,304.05 L508.53,304.02 L509.28,303.98 L510.03,303.95 L510.78,303.91 L511.53,303.87 L512.29,303.84 L513.04,303.80 L513.79,303.77 L514.54,303.74 L515.29,303.70 L516.04,303.67 L516.79,303.64 L517.54,303.60 L518.29,303.57 L519.05,303.54 L519.80,303.51 L520.55,303.47 L521.30,303.44 L522.05,303.41 L522.80,303.38 L523.55,303.35 L524.30,303.32 L525.06,303.29 L525.81,303.27 L526.56,303.24 L527.31,303.21 L528.06,303.18 L528.81,303.16 L529.56,303.13 L530.31,303.10 L531.06,303.08 L531.82,303.05 L532.57,303.03 L533.32,303.01 L534.07,302.98 L534.82,302.96 L535.57,302.94 L536.32,302.91 L537.07,302.89 L537.83,302.87 L538.58,302.85 L539.33,302.83 L540.08,302.81 L540.83,302.79 L541.58,302.78 L542.33,302.76 L543.08,302.74 L543.83,302.73 L544.59,302.71 L545.34,302.70 L546.09,302.68 L546.84,302.67 L547.59,302.65 L548.34,302.64 L549.09,302.63 L549.84,302.62 L550.59,302.61 L551.35,302.60 L552.10,302.59 L552.85,302.58 L553.60,302.57 L554.35,302.56 L555.10,302.56 L555.85,302.55 L556.60,302.55 L557.36,302.54 L558.11,302.54 L558.86,302.53 L559.61,302.53 L560.36,302.53 L561.11,302.53 L561.86,302.53 L562.61,302.53 L563.36,302.53 L564.12,302.53 L564.87,302.54 L565.62,302.54 L566.37,302.55 L567.12,302.55 L567.87,302.56 L568.62,302.56 L569.37,302.57 L570.13,302.58 L570.88,302.59 L571.63,302.60 L572.38,302.61 L573.13,302.62 L573.88,302.64 L574.63,302.65 L575.38,302.67 L576.13,302.68 L576.89,302.70 L577.64,302.72 L578.39,302.73 L579.14,302.75 L579.89,302.77 L580.64,302.79 L581.39,302.82 L582.14,302.84 L582.90,302.86 L583.65,302.89 L584.40,302.91 L585.15,302.94 L585.90,302.97 L585.90,311.97 L585.15,311.89 L584.40,311.82 L583.65,311.74 L582.90,311.67 L582.14,311.60 L581.39,311.53 L580.64,311.46 L579.89,311.40 L579.14,311.33 L578.39,311.27 L577.64,311.21 L576.89,311.14 L576.13,311.08 L575.38,311.02 L574.63,310.97 L573.88,310.91 L573.13,310.85 L572.38,310.80 L571.63,310.75 L570.88,310.69 L570.13,310.64 L569.37,310.59 L568.62,310.55 L567.87,310.50 L567.12,310.45 L566.37,310.41 L565.62,310.36 L564.87,310.32 L564.12,310.28 L563.36,310.24 L562.61,310.20 L561.86,310.16 L561.11,310.12 L560.36,310.09 L559.61,310.05 L558.86,310.02 L558.11,309.99 L557.36,309.96 L556.60,309.93 L555.85,309.90 L555.10,309.87 L554.35,309.84 L553.60,309.81 L552.85,309.79 L552.10,309.76 L551.35,309.74 L550.59,309.72 L549.84,309.70 L549.09,309.68 L548.34,309.66 L547.59,309.64 L546.84,309.62 L546.09,309.60 L545.34,309.59 L544.59,309.57 L543.83,309.56 L543.08,309.55 L542.33,309.54 L541.58,309.53 L540.83,309.52 L540.08,309.51 L539.33,309.50 L538.58,309.49 L537.83,309.49 L537.07,309.48 L536.32,309.48 L535.57,309.47 L534.82,309.47 L534.07,309.47 L533.32,309.47 L532.57,309.47 L531.82,309.47 L531.06,309.47 L530.31,309.47 L529.56,309.47 L528.81,309.48 L528.06,309.48 L527.31,309.49 L526.56,309.50 L525.81,309.50 L525.06,309.51 L524.30,309.52 L523.55,309.53 L522.80,309.54 L522.05,309.55 L521.30,309.56 L520.55,309.57 L519.80,309.59 L519.05,309.60 L518.29,309.61 L517.54,309.63 L516.79,309.65 L516.04,309.66 L515.29,309.68 L514.54,309.70 L513.79,309.72 L513.04,309.74 L512.29,309.76 L511.53,309.78 L510.78,309.80 L510.03,309.82 L509.28,309.84 L508.53,309.86 L507.78,309.89 L507.03,309.91 L506.28,309.94 L505.52,309.96 L504.77,309.99 L504.02,310.02 L503.27,310.04 L502.52,310.07 L501.77,310.10 L501.02,310.13 L500.27,310.16 L499.52,310.19 L498.76,310.22 L498.01,310.25 L497.26,310.28 L496.51,310.31 L495.76,310.35 L495.01,310.38 L494.26,310.41 L493.51,310.45 L492.75,310.48 L492.00,310.52 L491.25,310.55 L490.50,310.59 L489.75,310.63 L489.00,310.66 L488.25,310.70 L487.50,310.74 L486.75,310.78 L485.99,310.81 L485.24,310.85 L484.49,310.89 L483.74,310.93 L482.99,310.97 L482.24,311.01 L481.49,311.05 L480.74,311.09 L479.98,311.14 L479.23,311.18 L478.48,311.22 L477.73,311.26 L476.98,311.31 L476.23,311.35 L475.48,311.39 L474.73,311.43 L473.98,311.48 L473.22,311.52 L472.47,311.56 L471.72,311.61 L470.97,311.65 L470.22,311.69 L469.47,311.74 L468.72,311.78 L467.97,311.82 L467.22,311.87 L466.46,311.91 L465.71,311.96 L464.96,312.00 L464.21,312.04 L463.46,312.09 L462.71,312.13 L461.96,312.18 L461.21,312.22 L460.45,312.27 L459.70,312.31 L458.95,312.35 L458.20,312.40 L457.45,312.44 L456.70,312.49 L455.95,312.53 L455.20,312.57 L454.45,312.62 L453.69,312.66 L452.94,312.71 L452.19,312.75 L451.44,312.79 L450.69,312.84 L449.94,312.88 L449.19,312.93 L448.44,312.97 L447.68,313.01 L446.93,313.06 L446.18,313.10 L445.43,313.14 L444.68,313.18 L443.93,313.23 L443.18,313.27 L442.43,313.31 L441.68,313.35 L440.92,313.40 L440.17,313.44 L439.42,313.48 L438.67,313.52 L437.92,313.56 L437.17,313.60 L436.42,313.64 L435.67,313.69 L434.91,313.73 L434.16,313.77 L433.41,313.81 L432.66,313.85 L431.91,313.89 L431.16,313.92 L430.41,313.96 L429.66,314.00 L428.91,314.04 L428.15,314.08 L427.40,314.12 L426.65,314.15 L425.90,314.19 L425.15,314.23 L424.40,314.27 L423.65,314.30 L422.90,314.34 L422.14,314.37 L421.39,314.41 L420.64,314.44 L419.89,314.48 L419.14,314.51 L418.39,314.55 L417.64,314.58 L416.89,314.61 L416.14,314.64 L415.38,314.68 L414.63,314.71 L413.88,314.74 L413.13,314.77 L412.38,314.80 L411.63,314.83 L410.88,314.86 L410.13,314.89 L409.37,314.92 L408.62,314.95 L407.87,314.97 L407.12,315.00 L406.37,315.03 L405.62,315.06 L404.87,315.08 L404.12,315.11 L403.37,315.13 L402.61,315.16 L401.86,315.18 L401.11,315.20 L400.36,315.23 L399.61,315.25 L398.86,315.27 L398.11,315.29 L397.36,315.31 L396.61,315.33 L395.85,315.35 L395.10,315.37 L394.35,315.39 L393.60,315.40 L392.85,315.42 L392.10,315.44 L391.35,315.45 L390.60,315.47 L389.84,315.48 L389.09,315.50 L388.34,315.51 L387.59,315.52 L386.84,315.53 L386.09,315.54 L385.34,315.55 L384.59,315.56 L383.84,315.57 L383.08,315.58 L382.33,315.59 L381.58,315.60 L380.83,315.60 L380.08,315.61 L379.33,315.61 L378.58,315.62 L377.83,315.62 L377.07,315.62 L376.32,315.62 L375.57,315.62 L374.82,315.62 L374.07,315.62 L373.32,315.62 L372.57,315.62 L371.82,315.62 L371.07,315.61 L370.31,315.61 L369.56,315.60 L368.81,315.60 L368.06,315.59 L367.31,315.58 L366.56,315.57 L365.81,315.56 L365.06,315.55 L364.30,315.54 L363.55,315.53 L362.80,315.52 L362.05,315.50 L361.30,315.49 Z" fill="#0c365a" fill-opacity="0.15" stroke="none"/>
<path d="M361.30,310.60 L362.05,310.63 L362.80,310.66 L363.55,310.68 L364.30,310.71 L365.06,310.73 L365.81,310.75 L366.56,310.78 L367.31,310.80 L368.06,310.82 L368.81,310.83 L369.56,310.85 L370.31,310.87 L371.07,310.88 L371.82,310.90 L372.57,310.91 L373.32,310.92 L374.07,310.94 L374.82,310.95 L375.57,310.96 L376.32,310.96 L377.07,310.97 L377.83,310.98 L378.58,310.98 L379.33,310.99 L380.08,310.99 L380.83,311.00 L381.58,311.00 L382.33,311.00 L383.08,311.00 L383.84,311.00 L384.59,311.00 L385.34,311.00 L386.09,311.00 L386.84,310.99 L387.59,310.99 L388.34,310.98 L389.09,310.98 L389.84,310.97 L390.60,310.96 L391.35,310.95 L392.10,310.95 L392.85,310.94 L393.60,310.93 L394.35,310.91 L395.10,310.90 L395.85,310.89 L396.61,310.88 L397.36,310.86 L398.11,310.85 L398.86,310.83 L399.61,310.82 L400.36,310.80 L401.11,310.79 L401.86,310.77 L402.61,310.75 L403.37,310.73 L404.12,310.71 L404.87,310.69 L405.62,310.67 L406.37,310.65 L407.12,310.63 L407.87,310.61 L408.62,310.58 L409.37,310.56 L410.13,310.54 L410.88,310.51 L411.63,310.49 L412.38,310.46 L413.13,310.44 L413.88,310.41 L414.63,310.39 L415.38,310.36 L416.14,310.33 L416.89,310.30 L417.64,310.28 L418.39,310.25 L419.14,310.22 L419.89,310.19 L420.64,310.16 L421.39,310.13 L422.14,310.10 L422.90,310.07 L423.65,310.04 L424.40,310.01 L425.15,309.97 L425.90,309.94 L426.65,309.91 L427.40,309.88 L428.15,309.84 L428.91,309.81 L429.66,309.78 L430.41,309.74 L431.16,309.71 L431.91,309.68 L432.66,309.64 L433.41,309.61 L434.16,309.57 L434.91,309.54 L435.67,309.50 L436.42,309.47 L437.17,309.43 L437.92,309.40 L438.67,309.36 L439.42,309.33 L440.17,309.29 L440.92,309.26 L441.68,309.22 L442.43,309.18 L443.18,309.15 L443.93,309.11 L444.68,309.08 L445.43,309.04 L446.18,309.00 L446.93,308.97 L447.68,308.93 L448.44,308.89 L449.19,308.86 L449.94,308.82 L450.69,308.78 L451.44,308.75 L452.19,308.71 L452.94,308.68 L453.69,308.64 L454.45,308.60 L455.20,308.57 L455.95,308.53 L456.70,308.50 L457.45,308.46 L458.20,308.42 L458.95,308.39 L459.70,308.35 L460.45,308.32 L461.21,308.28 L461.96,308.25 L462.71,308.21 L463.46,308.18 L464.21,308.15 L464.96,308.11 L465.71,308.08 L466.46,308.04 L467.22,308.01 L467.97,307.98 L468.72,307.94 L469.47,307.91 L470.22,307.88 L470.97,307.85 L471.72,307.82 L472.47,307.78 L473.22,307.75 L473.98,307.72 L474.73,307.69 L475.48,307.66 L476.23,307.63 L476.98,307.60 L477.73,307.57 L478.48,307.54 L479.23,307.52 L479.98,307.49 L480.74,307.46 L481.49,307.43 L482.24,307.41 L482.99,307.38 L483.74,307.35 L484.49,307.32 L485.24,307.30 L485.99,307.27 L486.75,307.25 L487.50,307.22 L488.25,307.20 L489.00,307.17 L489.75,307.15 L490.50,307.13 L491.25,307.11 L492.00,307.09 L492.75,307.07 L493.51,307.05 L494.26,307.03 L495.01,307.02 L495.76,307.00 L496.51,306.99 L497.26,306.97 L498.01,306.96 L498.76,306.95 L499.52,306.95 L500.27,306.94 L501.02,306.94 L501.77,306.93 L502.52,306.93 L503.27,306.93 L504.02,306.93 L504.77,306.94 L505.52,306.95 L506.28,306.95 L507.03,306.96 L507.78,306.98 L508.53,306.99 L509.28,307.01 L510.03,307.03 L510.78,307.05 L511.53,307.08 L512.29,307.10 L513.04,307.13 L513.79,307.17 L514.54,307.20 L515.29,307.24 L516.04,307.28 L516.79,307.32 L517.54,307.37 L518.29,307.42 L519.05,307.47 L519.80,307.53 L520.55,307.59 L521.30,307.65 L522.05,307.72 L522.80,307.79 L523.55,307.86 L524.30,307.94 L525.06,308.02 L525.81,308.10 L526.56,308.19 L527.31,308.28 L528.06,308.37 L528.81,308.47 L529.56,308.57 L530.31,308.68 L531.06,308.79 L531.82,308.91 L532.57,309.02 L533.32,309.15 L534.07,309.27 L534.82,309.40 L535.57,309.54 L536.32,309.68 L537.07,309.82 L537.83,309.97 L538.58,310.12 L539.33,310.28 L540.08,310.44 L540.83,310.61 L541.58,310.78 L542.33,310.96 L543.08,311.14 L543.83,311.32 L544.59,311.51 L545.34,311.71 L546.09,311.91 L546.84,312.11 L547.59,312.32 L548.34,312.54 L549.09,312.76 L549.84,312.98 L550.59,313.22 L551.35,313.45 L552.10,313.69 L552.85,313.94 L553.60,314.19 L554.35,314.45 L555.10,314.71 L555.85,314.98 L556.60,315.25 L557.36,315.53 L558.11,315.82 L558.86,316.11 L559.61,316.41 L560.36,316.71 L561.11,317.02 L561.86,317.33 L562.61,317.65 L563.36,317.98 L564.12,318.31 L564.87,318.65 L565.62,319.00 L566.37,319.35 L567.12,319.71 L567.87,320.07 L568.62,320.44 L569.37,320.82 L570.13,321.20 L570.88,321.59 L571.63,321.99 L572.38,322.39 L573.13,322.80 L573.88,323.21 L574.63,323.64 L575.38,324.07 L576.13,324.50 L576.89,324.95 L577.64,325.40 L578.39,325.85 L579.14,326.32 L579.89,326.79 L580.64,327.27 L581.39,327.75 L582.14,328.25 L582.90,328.75 L583.65,329.25 L584.40,329.77 L585.15,330.29 L585.90,330.82 L585.90,345.82 L585.15,345.16 L584.40,344.50 L583.65,343.86 L582.90,343.22 L582.14,342.59 L581.39,341.97 L580.64,341.36 L579.89,340.75 L579.14,340.16 L578.39,339.57 L577.64,338.99 L576.89,338.41 L576.13,337.85 L575.38,337.29 L574.63,336.74 L573.88,336.20 L573.13,335.67 L572.38,335.14 L571.63,334.62 L570.88,334.11 L570.13,333.61 L569.37,333.11 L568.62,332.62 L567.87,332.14 L567.12,331.67 L566.37,331.20 L565.62,330.74 L564.87,330.29 L564.12,329.84 L563.36,329.41 L562.61,328.97 L561.86,328.55 L561.11,328.13 L560.36,327.72 L559.61,327.32 L558.86,326.92 L558.11,326.53 L557.36,326.15 L556.60,325.77 L555.85,325.40 L555.10,325.04 L554.35,324.68 L553.60,324.33 L552.85,323.99 L552.10,323.65 L551.35,323.32 L550.59,322.99 L549.84,322.67 L549.09,322.36 L548.34,322.05 L547.59,321.75 L546.84,321.46 L546.09,321.17 L545.34,320.89 L544.59,320.61 L543.83,320.34 L543.08,320.07 L542.33,319.81 L541.58,319.56 L540.83,319.31 L540.08,319.07 L539.33,318.83 L538.58,318.60 L537.83,318.37 L537.07,318.15 L536.32,317.94 L535.57,317.73 L534.82,317.52 L534.07,317.32 L533.32,317.13 L532.57,316.94 L531.82,316.76 L531.06,316.58 L530.31,316.40 L529.56,316.23 L528.81,316.07 L528.06,315.91 L527.31,315.75 L526.56,315.60 L525.81,315.46 L525.06,315.32 L524.30,315.18 L523.55,315.05 L522.80,314.92 L522.05,314.80 L521.30,314.68 L520.55,314.57 L519.80,314.46 L519.05,314.35 L518.29,314.25 L517.54,314.15 L516.79,314.06 L516.04,313.97 L515.29,313.88 L514.54,313.80 L513.79,313.72 L513.04,313.65 L512.29,313.58 L511.53,313.51 L510.78,313.45 L510.03,313.39 L509.28,313.33 L508.53,313.27 L507.78,313.22 L507.03,313.18 L506.28,313.13 L505.52,313.09 L504.77,313.05 L504.02,313.02 L503.27,312.99 L502.52,312.96 L501.77,312.93 L501.02,312.91 L500.27,312.88 L499.52,312.87 L498.76,312.85 L498.01,312.84 L497.26,312.82 L496.51,312.82 L495.76,312.81 L495.01,312.80 L494.26,312.80 L493.51,312.80 L492.75,312.80 L492.00,312.81 L491.25,312.81 L490.50,312.82 L489.75,312.83 L489.00,312.84 L488.25,312.85 L487.50,312.87 L486.75,312.88 L485.99,312.90 L485.24,312.92 L484.49,312.94 L483.74,312.96 L482.99,312.99 L482.24,313.01 L481.49,313.03 L480.74,313.06 L479.98,313.09 L479.23,313.12 L478.48,313.14 L477.73,313.17 L476.98,313.20 L476.23,313.23 L475.48,313.26 L474.73,313.29 L473.98,313.32 L473.22,313.35 L472.47,313.38 L471.72,313.42 L470.97,313.45 L470.22,313.48 L469.47,313.51 L468.72,313.54 L467.97,313.58 L467.22,313.61 L466.46,313.64 L465.71,313.68 L464.96,313.71 L464.21,313.75 L463.46,313.78 L462.71,313.81 L461.96,313.85 L461.21,313.88 L460.45,313.92 L459.70,313.95 L458.95,313.99 L458.20,314.02 L457.45,314.06 L456.70,314.10 L455.95,314.13 L455.20,314.17 L454.45,314.20 L453.69,314.24 L452.94,314.28 L452.19,314.31 L451.44,314.35 L450.69,314.38 L449.94,314.42 L449.19,314.46 L448.44,314.49 L447.68,314.53 L446.93,314.57 L446.18,314.60 L445.43,314.64 L444.68,314.68 L443.93,314.71 L443.18,314.75 L442.43,314.78 L441.68,314.82 L440.92,314.86 L440.17,314.89 L439.42,314.93 L438.67,314.96 L437.92,315.00 L437.17,315.03 L436.42,315.07 L435.67,315.10 L434.91,315.14 L434.16,315.17 L433.41,315.21 L432.66,315.24 L431.91,315.28 L431.16,315.31 L430.41,315.34 L429.66,315.38 L428.91,315.41 L428.15,315.44 L427.40,315.48 L426.65,315.51 L425.90,315.54 L425.15,315.57 L424.40,315.61 L423.65,315.64 L422.90,315.67 L422.14,315.70 L421.39,315.73 L420.64,315.76 L419.89,315.79 L419.14,315.82 L418.39,315.85 L417.64,315.88 L416.89,315.90 L416.14,315.93 L415.38,315.96 L414.63,315.99 L413.88,316.01 L413.13,316.04 L412.38,316.06 L411.63,316.09 L410.88,316.11 L410.13,316.14 L409.37,316.16 L408.62,316.18 L407.87,316.21 L407.12,316.23 L406.37,316.25 L405.62,316.27 L404.87,316.29 L404.12,316.31 L403.37,316.33 L402.61,316.35 L401.86,316.37 L401.11,316.39 L400.36,316.40 L399.61,316.42 L398.86,316.43 L398.11,316.45 L397.36,316.46 L396.61,316.48 L395.85,316.49 L395.10,316.50 L394.35,316.51 L393.60,316.53 L392.85,316.54 L392.10,316.55 L391.35,316.55 L390.60,316.56 L389.84,316.57 L389.09,316.58 L388.34,316.58 L387.59,316.59 L386.84,316.59 L386.09,316.60 L385.34,316.60 L384.59,316.60 L383.84,316.60 L383.08,316.60 L382.33,316.60 L381.58,316.60 L380.83,316.60 L380.08,316.59 L379.33,316.59 L378.58,316.58 L377.83,316.58 L377.07,316.57 L376.32,316.56 L375.57,316.56 L374.82,316.55 L374.07,316.54 L373.32,316.52 L372.57,316.51 L371.82,316.50 L371.07,316.48 L370.31,316.47 L369.56,316.45 L368.81,316.43 L368.06,316.42 L367.31,316.40 L366.56,316.38 L365.81,316.35 L365.06,316.33 L364.30,316.31 L363.55,316.28 L362.80,316.26 L362.05,316.23 L361.30,316.20 Z" fill="#7da2cf" fill-opacity="0.15" stroke="none"/>
<path d="M361.30,312.40 L362.05,312.48 L362.81,312.55 L363.56,312.63 L364.31,312.70 L365.06,312.78 L365.82,312.85 L366.57,312.92 L367.32,312.99 L368.08,313.06 L368.83,313.12 L369.58,313.19 L370.33,313.26 L371.09,313.32 L371.84,313.38 L372.59,313.44 L373.35,313.51 L374.10,313.57 L374.85,313.62 L375.60,313.68 L376.36,313.74 L377.11,313.79 L377.86,313.85 L378.62,313.90 L379.37,313.95 L380.12,314.00 L380.87,314.05 L381.63,314.10 L382.38,314.15 L383.13,314.20 L383.89,314.25 L384.64,314.29 L385.39,314.33 L386.14,314.38 L386.90,314.42 L387.65,314.46 L388.40,314.50 L389.16,314.54 L389.91,314.58 L390.66,314.62 L391.41,314.65 L392.17,314.69 L392.92,314.72 L393.67,314.76 L394.43,314.79 L395.18,314.82 L395.93,314.85 L396.68,314.88 L397.44,314.91 L398.19,314.94 L398.94,314.96 L399.69,314.99 L400.45,315.01 L401.20,315.04 L401.95,315.06 L402.71,315.08 L403.46,315.11 L404.21,315.13 L404.96,315.15 L405.72,315.17 L406.47,315.18 L407.22,315.20 L407.98,315.22 L408.73,315.23 L409.48,315.25 L410.23,315.26 L410.99,315.28 L411.74,315.29 L412.49,315.30 L413.25,315.31 L414.00,315.32 L414.75,315.33 L415.50,315.34 L416.26,315.35 L417.01,315.35 L417.76,315.36 L418.52,315.36 L419.27,315.37 L420.02,315.37 L420.77,315.38 L421.53,315.38 L422.28,315.38 L423.03,315.38 L423.79,315.38 L424.54,315.38 L425.29,315.38 L426.04,315.38 L426.80,315.37 L427.55,315.37 L428.30,315.37 L429.06,315.36 L429.81,315.36 L430.56,315.35 L431.31,315.34 L432.07,315.33 L432.82,315.33 L433.57,315.32 L434.33,315.31 L435.08,315.30 L435.83,315.29 L436.58,315.28 L437.34,315.26 L438.09,315.25 L438.84,315.24 L439.60,315.22 L440.35,315.21 L441.10,315.19 L441.85,315.18 L442.61,315.16 L443.36,315.15 L444.11,315.13 L444.87,315.11 L445.62,315.09 L446.37,315.07 L447.12,315.05 L447.88,315.03 L448.63,315.01 L449.38,314.99 L450.14,314.97 L450.89,314.95 L451.64,314.92 L452.39,314.90 L453.15,314.88 L453.90,314.85 L454.65,314.83 L455.41,314.80 L456.16,314.77 L456.91,314.75 L457.66,314.72 L458.42,314.69 L459.17,314.67 L459.92,314.64 L460.68,314.61 L461.43,314.58 L462.18,314.55 L462.93,314.52 L463.69,314.49 L464.44,314.46 L465.19,314.43 L465.95,314.39 L466.70,314.36 L467.45,314.33 L468.20,314.29 L468.96,314.26 L469.71,314.23 L470.46,314.19 L471.22,314.16 L471.97,314.12 L472.72,314.09 L473.47,314.05 L474.23,314.02 L474.98,313.98 L475.73,313.94 L476.48,313.90 L477.24,313.87 L477.99,313.83 L478.74,313.79 L479.50,313.75 L480.25,313.71 L481.00,313.67 L481.75,313.63 L482.51,313.59 L483.26,313.55 L484.01,313.50 L484.77,313.45 L485.52,313.41 L486.27,313.36 L487.02,313.31 L487.78,313.26 L488.53,313.20 L489.28,313.15 L490.04,313.09 L490.79,313.04 L491.54,312.98 L492.29,312.92 L493.05,312.85 L493.80,312.79 L494.55,312.72 L495.31,312.65 L496.06,312.58 L496.81,312.51 L497.56,312.44 L498.32,312.36 L499.07,312.28 L499.82,312.21 L500.58,312.12 L501.33,312.04 L502.08,311.95 L502.83,311.86 L503.59,311.77 L504.34,311.68 L505.09,311.59 L505.85,311.49 L506.60,311.39 L507.35,311.29 L508.10,311.18 L508.86,311.08 L509.61,310.98 L510.36,310.87 L511.12,310.77 L511.87,310.67 L512.62,310.58 L513.37,310.49 L514.13,310.41 L514.88,310.33 L515.63,310.26 L516.39,310.19 L517.14,310.14 L517.89,310.09 L518.64,310.06 L519.40,310.04 L520.15,310.03 L520.90,310.03 L521.66,310.04 L522.41,310.08 L523.16,310.12 L523.91,310.19 L524.67,310.27 L525.42,310.36 L526.17,310.48 L526.93,310.62 L527.68,310.78 L528.43,310.96 L529.18,311.16 L529.94,311.38 L530.69,311.63 L531.44,311.91 L532.20,312.21 L532.95,312.53 L533.70,312.89 L534.45,313.27 L535.21,313.68 L535.96,314.12 L536.71,314.58 L537.47,315.07 L538.22,315.58 L538.97,316.12 L539.72,316.69 L540.48,317.28 L541.23,317.90 L541.98,318.54 L542.74,319.21 L543.49,319.91 L544.24,320.62 L544.99,321.36 L545.75,322.13 L546.50,322.92 L547.25,323.73 L548.01,324.57 L548.76,325.43 L549.51,326.31 L550.26,327.22 L551.02,328.14 L551.77,329.09 L552.52,330.07 L553.27,331.06 L554.03,332.07 L554.78,333.11 L555.53,334.17 L556.29,335.25 L557.04,336.35 L557.79,337.47 L558.54,338.61 L559.30,339.77 L560.05,340.95 L560.80,342.15 L561.56,343.36 L562.31,344.60 L563.06,345.86 L563.81,347.13 L564.57,348.42 L565.32,349.73 L566.07,351.05 L566.83,352.38 L567.58,353.73 L568.33,355.09 L569.08,356.46 L569.84,357.84 L570.59,359.24 L571.34,360.64 L572.10,362.05 L572.85,363.46 L573.60,364.89 L574.35,366.31 L575.11,367.75 L575.86,369.19 L576.61,370.63 L577.37,372.07 L578.12,373.51 L578.87,374.96 L579.62,376.40 L580.38,377.85 L581.13,379.29 L581.88,380.73 L582.64,382.16 L583.39,383.60 L584.14,385.02 L584.89,386.44 L585.65,387.85 L586.40,389.26 L586.40,409.26 L585.65,407.65 L584.89,406.04 L584.14,404.42 L583.39,402.79 L582.64,401.16 L581.88,399.53 L581.13,397.90 L580.38,396.26 L579.62,394.63 L578.87,392.99 L578.12,391.36 L577.37,389.73 L576.61,388.10 L575.86,386.47 L575.11,384.85 L574.35,383.24 L573.60,381.63 L572.85,380.03 L572.10,378.43 L571.34,376.85 L570.59,375.27 L569.84,373.71 L569.08,372.16 L568.33,370.61 L567.58,369.09 L566.83,367.57 L566.07,366.07 L565.32,364.59 L564.57,363.12 L563.81,361.67 L563.06,360.23 L562.31,358.82 L561.56,357.42 L560.80,356.05 L560.05,354.70 L559.30,353.36 L558.54,352.05 L557.79,350.76 L557.04,349.50 L556.29,348.25 L555.53,347.03 L554.78,345.82 L554.03,344.64 L553.27,343.49 L552.52,342.36 L551.77,341.25 L551.02,340.16 L550.26,339.10 L549.51,338.06 L548.76,337.04 L548.01,336.05 L547.25,335.09 L546.50,334.14 L545.75,333.23 L544.99,332.34 L544.24,331.47 L543.49,330.63 L542.74,329.82 L541.98,329.03 L541.23,328.27 L540.48,327.54 L539.72,326.83 L538.97,326.15 L538.22,325.49 L537.47,324.87 L536.71,324.27 L535.96,323.70 L535.21,323.16 L534.45,322.64 L533.70,322.16 L532.95,321.70 L532.20,321.27 L531.44,320.87 L530.69,320.50 L529.94,320.16 L529.18,319.84 L528.43,319.54 L527.68,319.27 L526.93,319.02 L526.17,318.79 L525.42,318.59 L524.67,318.40 L523.91,318.24 L523.16,318.09 L522.41,317.96 L521.66,317.85 L520.90,317.76 L520.15,317.68 L519.40,317.61 L518.64,317.56 L517.89,317.52 L517.14,317.49 L516.39,317.48 L515.63,317.47 L514.88,317.48 L514.13,317.49 L513.37,317.51 L512.62,317.53 L511.87,317.57 L511.12,317.60 L510.36,317.65 L509.61,317.69 L508.86,317.74 L508.10,317.79 L507.35,317.84 L506.60,317.89 L505.85,317.94 L505.09,317.99 L504.34,318.04 L503.59,318.08 L502.83,318.13 L502.08,318.17 L501.33,318.22 L500.58,318.26 L499.82,318.30 L499.07,318.35 L498.32,318.39 L497.56,318.43 L496.81,318.47 L496.06,318.51 L495.31,318.55 L494.55,318.59 L493.80,318.63 L493.05,318.67 L492.29,318.71 L491.54,318.75 L490.79,318.78 L490.04,318.82 L489.28,318.86 L488.53,318.90 L487.78,318.93 L487.02,318.97 L486.27,319.01 L485.52,319.05 L484.77,319.08 L484.01,319.12 L483.26,319.16 L482.51,319.20 L481.75,319.24 L481.00,319.27 L480.25,319.31 L479.50,319.35 L478.74,319.39 L477.99,319.43 L477.24,319.47 L476.48,319.50 L475.73,319.54 L474.98,319.58 L474.23,319.62 L473.47,319.65 L472.72,319.69 L471.97,319.72 L471.22,319.76 L470.46,319.79 L469.71,319.83 L468.96,319.86 L468.20,319.89 L467.45,319.93 L466.70,319.96 L465.95,319.99 L465.19,320.03 L464.44,320.06 L463.69,320.09 L462.93,320.12 L462.18,320.15 L461.43,320.18 L460.68,320.21 L459.92,320.24 L459.17,320.27 L458.42,320.29 L457.66,320.32 L456.91,320.35 L456.16,320.37 L455.41,320.40 L454.65,320.43 L453.90,320.45 L453.15,320.48 L452.39,320.50 L451.64,320.52 L450.89,320.55 L450.14,320.57 L449.38,320.59 L448.63,320.61 L447.88,320.63 L447.12,320.65 L446.37,320.67 L445.62,320.69 L444.87,320.71 L444.11,320.73 L443.36,320.75 L442.61,320.76 L441.85,320.78 L441.10,320.79 L440.35,320.81 L439.60,320.82 L438.84,320.84 L438.09,320.85 L437.34,320.86 L436.58,320.88 L435.83,320.89 L435.08,320.90 L434.33,320.91 L433.57,320.92 L432.82,320.93 L432.07,320.93 L431.31,320.94 L430.56,320.95 L429.81,320.96 L429.06,320.96 L428.30,320.97 L427.55,320.97 L426.80,320.97 L426.04,320.98 L425.29,320.98 L424.54,320.98 L423.79,320.98 L423.03,320.98 L422.28,320.98 L421.53,320.98 L420.77,320.98 L420.02,320.97 L419.27,320.97 L418.52,320.96 L417.76,320.96 L417.01,320.95 L416.26,320.95 L415.50,320.94 L414.75,320.93 L414.00,320.92 L413.25,320.91 L412.49,320.90 L411.74,320.89 L410.99,320.88 L410.23,320.86 L409.48,320.85 L408.73,320.83 L407.98,320.82 L407.22,320.80 L406.47,320.78 L405.72,320.77 L404.96,320.75 L404.21,320.73 L403.46,320.71 L402.71,320.68 L401.95,320.66 L401.20,320.64 L400.45,320.61 L399.69,320.59 L398.94,320.56 L398.19,320.54 L397.44,320.51 L396.68,320.48 L395.93,320.45 L395.18,320.42 L394.43,320.39 L393.67,320.36 L392.92,320.32 L392.17,320.29 L391.41,320.25 L390.66,320.22 L389.91,320.18 L389.16,320.14 L388.40,320.10 L387.65,320.06 L386.90,320.02 L386.14,319.98 L385.39,319.93 L384.64,319.89 L383.89,319.85 L383.13,319.80 L382.38,319.75 L381.63,319.70 L380.87,319.65 L380.12,319.60 L379.37,319.55 L378.62,319.50 L377.86,319.45 L377.11,319.39 L376.36,319.34 L375.60,319.28 L374.85,319.22 L374.10,319.17 L373.35,319.11 L372.59,319.04 L371.84,318.98 L371.09,318.92 L370.33,318.86 L369.58,318.79 L368.83,318.72 L368.08,318.66 L367.32,318.59 L366.57,318.52 L365.82,318.45 L365.06,318.38 L364.31,318.30 L363.56,318.23 L362.81,318.15 L362.05,318.08 L361.30,318.00 Z" fill="#eccf6c" fill-opacity="0.15" stroke="none"/>
<path d="M361.30,313.93 L362.05,313.88 L362.81,313.83 L363.56,313.80 L364.31,313.77 L365.06,313.76 L365.82,313.75 L366.57,313.75 L367.32,313.77 L368.07,313.79 L368.83,313.82 L369.58,313.86 L370.33,313.91 L371.08,313.97 L371.84,314.04 L372.59,314.11 L373.34,314.19 L374.09,314.28 L374.85,314.37 L375.60,314.48 L376.35,314.59 L377.10,314.70 L377.86,314.83 L378.61,314.96 L379.36,315.09 L380.11,315.23 L380.87,315.38 L381.62,315.53 L382.37,315.69 L383.12,315.85 L383.88,316.02 L384.63,316.19 L385.38,316.37 L386.13,316.55 L386.89,316.73 L387.64,316.92 L388.39,317.11 L389.14,317.31 L389.90,317.50 L390.65,317.70 L391.40,317.91 L392.15,318.11 L392.91,318.32 L393.66,318.53 L394.41,318.74 L395.16,318.96 L395.92,319.17 L396.67,319.39 L397.42,319.60 L398.17,319.82 L398.93,320.04 L399.68,320.26 L400.43,320.48 L401.18,320.70 L401.94,320.91 L402.69,321.13 L403.44,321.35 L404.19,321.57 L404.95,321.78 L405.70,322.00 L406.45,322.21 L407.20,322.42 L407.96,322.63 L408.71,322.83 L409.46,323.04 L410.21,323.24 L410.97,323.44 L411.72,323.63 L412.47,323.83 L413.22,324.01 L413.98,324.20 L414.73,324.38 L415.48,324.56 L416.23,324.73 L416.99,324.90 L417.74,325.06 L418.49,325.22 L419.24,325.38 L420.00,325.53 L420.75,325.67 L421.50,325.81 L422.25,325.94 L423.01,326.06 L423.76,326.18 L424.51,326.29 L425.26,326.40 L426.02,326.50 L426.77,326.59 L427.52,326.67 L428.27,326.75 L429.03,326.82 L429.78,326.89 L430.53,326.95 L431.28,327.01 L432.04,327.05 L432.79,327.10 L433.54,327.14 L434.29,327.17 L435.05,327.20 L435.80,327.22 L436.55,327.24 L437.30,327.25 L438.06,327.26 L438.81,327.26 L439.56,327.26 L440.31,327.26 L441.07,327.25 L441.82,327.24 L442.57,327.23 L443.32,327.21 L444.08,327.19 L444.83,327.16 L445.58,327.14 L446.33,327.11 L447.09,327.07 L447.84,327.04 L448.59,327.00 L449.34,326.96 L450.10,326.92 L450.85,326.87 L451.60,326.83 L452.35,326.78 L453.11,326.73 L453.86,326.68 L454.61,326.63 L455.36,326.58 L456.12,326.53 L456.87,326.47 L457.62,326.42 L458.37,326.37 L459.13,326.31 L459.88,326.26 L460.63,326.20 L461.38,326.15 L462.14,326.10 L462.89,326.04 L463.64,325.99 L464.39,325.94 L465.15,325.89 L465.90,325.84 L466.65,325.79 L467.40,325.74 L468.16,325.70 L468.91,325.66 L469.66,325.61 L470.41,325.57 L471.17,325.54 L471.92,325.50 L472.67,325.47 L473.42,325.44 L474.18,325.41 L474.93,325.38 L475.68,325.35 L476.43,325.33 L477.19,325.31 L477.94,325.29 L478.69,325.27 L479.44,325.26 L480.20,325.24 L480.95,325.23 L481.70,325.23 L482.45,325.22 L483.21,325.22 L483.96,325.22 L484.71,325.23 L485.46,325.24 L486.22,325.25 L486.97,325.26 L487.72,325.28 L488.47,325.30 L489.23,325.33 L489.98,325.36 L490.73,325.39 L491.48,325.43 L492.24,325.47 L492.99,325.51 L493.74,325.56 L494.49,325.62 L495.25,325.68 L496.00,325.74 L496.75,325.81 L497.50,325.88 L498.26,325.96 L499.01,326.04 L499.76,326.13 L500.51,326.23 L501.27,326.32 L502.02,326.42 L502.77,326.53 L503.52,326.64 L504.28,326.75 L505.03,326.87 L505.78,326.99 L506.53,327.11 L507.29,327.23 L508.04,327.36 L508.79,327.49 L509.54,327.63 L510.30,327.77 L511.05,327.90 L511.80,328.05 L512.55,328.19 L513.31,328.33 L514.06,328.48 L514.81,328.63 L515.56,328.78 L516.32,328.93 L517.07,329.08 L517.82,329.23 L518.57,329.39 L519.33,329.54 L520.08,329.69 L520.83,329.85 L521.58,330.00 L522.34,330.16 L523.09,330.31 L523.84,330.47 L524.59,330.62 L525.35,330.77 L526.10,330.92 L526.85,331.08 L527.60,331.23 L528.36,331.37 L529.11,331.52 L529.86,331.67 L530.61,331.81 L531.37,331.95 L532.12,332.09 L532.87,332.23 L533.62,332.37 L534.38,332.52 L535.13,332.67 L535.88,332.84 L536.63,333.02 L537.39,333.21 L538.14,333.43 L538.89,333.66 L539.64,333.93 L540.40,334.22 L541.15,334.55 L541.90,334.91 L542.65,335.30 L543.41,335.74 L544.16,336.23 L544.91,336.76 L545.66,337.34 L546.42,337.97 L547.17,338.66 L547.92,339.41 L548.67,340.22 L549.43,341.09 L550.18,342.04 L550.93,343.05 L551.68,344.14 L552.44,345.31 L553.19,346.56 L553.94,347.89 L554.69,349.31 L555.45,350.81 L556.20,352.41 L556.95,354.10 L557.70,355.87 L558.46,357.73 L559.21,359.67 L559.96,361.68 L560.71,363.76 L561.47,365.91 L562.22,368.12 L562.97,370.39 L563.72,372.72 L564.48,375.10 L565.23,377.53 L565.98,380.00 L566.73,382.51 L567.49,385.07 L568.24,387.65 L568.99,390.26 L569.74,392.90 L570.50,395.56 L571.25,398.24 L572.00,400.93 L572.75,403.64 L573.51,406.35 L574.26,409.06 L575.01,411.77 L575.76,414.48 L576.52,417.18 L577.27,419.87 L578.02,422.54 L578.77,425.19 L579.53,427.82 L580.28,430.42 L581.03,432.99 L581.78,435.52 L582.54,438.02 L583.29,440.47 L584.04,442.88 L584.79,445.23 L585.55,447.53 L586.30,449.78 L586.30,525.78 L585.55,522.42 L584.79,519.02 L584.04,515.58 L583.29,512.09 L582.54,508.57 L581.78,505.02 L581.03,501.44 L580.28,497.83 L579.53,494.21 L578.77,490.56 L578.02,486.91 L577.27,483.24 L576.52,479.57 L575.76,475.90 L575.01,472.23 L574.26,468.57 L573.51,464.91 L572.75,461.27 L572.00,457.64 L571.25,454.04 L570.50,450.46 L569.74,446.90 L568.99,443.38 L568.24,439.90 L567.49,436.45 L566.73,433.05 L565.98,429.70 L565.23,426.39 L564.48,423.14 L563.72,419.95 L562.97,416.82 L562.22,413.75 L561.47,410.76 L560.71,407.83 L559.96,404.99 L559.21,402.22 L558.46,399.54 L557.70,396.95 L556.95,394.45 L556.20,392.04 L555.45,389.74 L554.69,387.53 L553.94,385.43 L553.19,383.42 L552.44,381.50 L551.68,379.67 L550.93,377.93 L550.18,376.27 L549.43,374.69 L548.67,373.19 L547.92,371.76 L547.17,370.41 L546.42,369.12 L545.66,367.89 L544.91,366.73 L544.16,365.63 L543.41,364.58 L542.65,363.59 L541.90,362.64 L541.15,361.75 L540.40,360.89 L539.64,360.08 L538.89,359.30 L538.14,358.56 L537.39,357.85 L536.63,357.16 L535.88,356.50 L535.13,355.87 L534.38,355.25 L533.62,354.65 L532.87,354.06 L532.12,353.48 L531.37,352.91 L530.61,352.34 L529.86,351.78 L529.11,351.23 L528.36,350.68 L527.60,350.14 L526.85,349.60 L526.10,349.07 L525.35,348.55 L524.59,348.04 L523.84,347.53 L523.09,347.03 L522.34,346.53 L521.58,346.04 L520.83,345.56 L520.08,345.09 L519.33,344.62 L518.57,344.16 L517.82,343.71 L517.07,343.27 L516.32,342.83 L515.56,342.41 L514.81,341.99 L514.06,341.58 L513.31,341.17 L512.55,340.78 L511.80,340.39 L511.05,340.01 L510.30,339.64 L509.54,339.28 L508.79,338.93 L508.04,338.58 L507.29,338.25 L506.53,337.92 L505.78,337.61 L505.03,337.30 L504.28,337.00 L503.52,336.72 L502.77,336.44 L502.02,336.17 L501.27,335.91 L500.51,335.66 L499.76,335.42 L499.01,335.19 L498.26,334.97 L497.50,334.76 L496.75,334.56 L496.00,334.37 L495.25,334.19 L494.49,334.02 L493.74,333.86 L492.99,333.71 L492.24,333.57 L491.48,333.44 L490.73,333.31 L489.98,333.20 L489.23,333.09 L488.47,333.00 L487.72,332.91 L486.97,332.82 L486.22,332.75 L485.46,332.68 L484.71,332.62 L483.96,332.57 L483.21,332.52 L482.45,332.48 L481.70,332.45 L480.95,332.42 L480.20,332.40 L479.44,332.39 L478.69,332.38 L477.94,332.37 L477.19,332.37 L476.43,332.38 L475.68,332.39 L474.93,332.40 L474.18,332.42 L473.42,332.45 L472.67,332.47 L471.92,332.50 L471.17,332.54 L470.41,332.57 L469.66,332.61 L468.91,332.66 L468.16,332.70 L467.40,332.74 L466.65,332.79 L465.90,332.84 L465.15,332.89 L464.39,332.94 L463.64,332.99 L462.89,333.04 L462.14,333.10 L461.38,333.15 L460.63,333.20 L459.88,333.26 L459.13,333.31 L458.37,333.37 L457.62,333.42 L456.87,333.47 L456.12,333.53 L455.36,333.58 L454.61,333.63 L453.86,333.68 L453.11,333.73 L452.35,333.78 L451.60,333.83 L450.85,333.87 L450.10,333.92 L449.34,333.96 L448.59,334.00 L447.84,334.04 L447.09,334.07 L446.33,334.11 L445.58,334.14 L444.83,334.16 L444.08,334.19 L443.32,334.21 L442.57,334.23 L441.82,334.24 L441.07,334.25 L440.31,334.26 L439.56,334.26 L438.81,334.26 L438.06,334.26 L437.30,334.25 L436.55,334.24 L435.80,334.22 L435.05,334.20 L434.29,334.17 L433.54,334.14 L432.79,334.10 L432.04,334.05 L431.28,334.01 L430.53,333.95 L429.78,333.89 L429.03,333.82 L428.27,333.75 L427.52,333.67 L426.77,333.59 L426.02,333.50 L425.26,333.40 L424.51,333.29 L423.76,333.18 L423.01,333.06 L422.25,332.94 L421.50,332.81 L420.75,332.67 L420.00,332.53 L419.24,332.38 L418.49,332.22 L417.74,332.06 L416.99,331.90 L416.23,331.73 L415.48,331.56 L414.73,331.38 L413.98,331.20 L413.22,331.01 L412.47,330.83 L411.72,330.63 L410.97,330.44 L410.21,330.24 L409.46,330.04 L408.71,329.83 L407.96,329.63 L407.20,329.42 L406.45,329.21 L405.70,329.00 L404.95,328.78 L404.19,328.57 L403.44,328.35 L402.69,328.13 L401.94,327.91 L401.18,327.70 L400.43,327.48 L399.68,327.26 L398.93,327.04 L398.17,326.82 L397.42,326.60 L396.67,326.39 L395.92,326.17 L395.16,325.96 L394.41,325.74 L393.66,325.53 L392.91,325.32 L392.15,325.11 L391.40,324.91 L390.65,324.70 L389.90,324.50 L389.14,324.31 L388.39,324.11 L387.64,323.92 L386.89,323.73 L386.13,323.55 L385.38,323.37 L384.63,323.19 L383.88,323.02 L383.12,322.85 L382.37,322.69 L381.62,322.53 L380.87,322.38 L380.11,322.23 L379.36,322.09 L378.61,321.96 L377.86,321.83 L377.10,321.70 L376.35,321.59 L375.60,321.48 L374.85,321.37 L374.09,321.28 L373.34,321.19 L372.59,321.11 L371.84,321.04 L371.08,320.97 L370.33,320.91 L369.58,320.86 L368.83,320.82 L368.07,320.79 L367.32,320.77 L366.57,320.75 L365.82,320.75 L365.06,320.76 L364.31,320.77 L363.56,320.80 L362.81,320.83 L362.05,320.88 L361.30,320.93 Z" fill="#c24d4e" fill-opacity="0.15" stroke="none"/>
<line x1="350.10" y1="312.60" x2="599.00" y2="312.60" stroke="#808080" stroke-width="1.9" stroke-dasharray="8.75 8.71"/>
<path d="M361.30,312.69 L362.05,312.70 L362.80,312.72 L363.55,312.73 L364.30,312.74 L365.06,312.75 L365.81,312.76 L366.56,312.77 L367.31,312.78 L368.06,312.79 L368.81,312.80 L369.56,312.80 L370.31,312.81 L371.07,312.81 L371.82,312.82 L372.57,312.82 L373.32,312.82 L374.07,312.82 L374.82,312.82 L375.57,312.82 L376.32,312.82 L377.07,312.82 L377.83,312.82 L378.58,312.82 L379.33,312.81 L380.08,312.81 L380.83,312.80 L381.58,312.80 L382.33,312.79 L383.08,312.78 L383.84,312.77 L384.59,312.76 L385.34,312.75 L386.09,312.74 L386.84,312.73 L387.59,312.72 L388.34,312.71 L389.09,312.70 L389.84,312.68 L390.60,312.67 L391.35,312.65 L392.10,312.64 L392.85,312.62 L393.60,312.60 L394.35,312.59 L395.10,312.57 L395.85,312.55 L396.61,312.53 L397.36,312.51 L398.11,312.49 L398.86,312.47 L399.61,312.45 L400.36,312.43 L401.11,312.40 L401.86,312.38 L402.61,312.36 L403.37,312.33 L404.12,312.31 L404.87,312.28 L405.62,312.26 L406.37,312.23 L407.12,312.20 L407.87,312.17 L408.62,312.15 L409.37,312.12 L410.13,312.09 L410.88,312.06 L411.63,312.03 L412.38,312.00 L413.13,311.97 L413.88,311.94 L414.63,311.91 L415.38,311.88 L416.14,311.84 L416.89,311.81 L417.64,311.78 L418.39,311.75 L419.14,311.71 L419.89,311.68 L420.64,311.64 L421.39,311.61 L422.14,311.57 L422.90,311.54 L423.65,311.50 L424.40,311.47 L425.15,311.43 L425.90,311.39 L426.65,311.35 L427.40,311.32 L428.15,311.28 L428.91,311.24 L429.66,311.20 L430.41,311.16 L431.16,311.12 L431.91,311.09 L432.66,311.05 L433.41,311.01 L434.16,310.97 L434.91,310.93 L435.67,310.89 L436.42,310.84 L437.17,310.80 L437.92,310.76 L438.67,310.72 L439.42,310.68 L440.17,310.64 L440.92,310.60 L441.68,310.55 L442.43,310.51 L443.18,310.47 L443.93,310.43 L444.68,310.38 L445.43,310.34 L446.18,310.30 L446.93,310.26 L447.68,310.21 L448.44,310.17 L449.19,310.13 L449.94,310.08 L450.69,310.04 L451.44,309.99 L452.19,309.95 L452.94,309.91 L453.69,309.86 L454.45,309.82 L455.20,309.77 L455.95,309.73 L456.70,309.69 L457.45,309.64 L458.20,309.60 L458.95,309.55 L459.70,309.51 L460.45,309.47 L461.21,309.42 L461.96,309.38 L462.71,309.33 L463.46,309.29 L464.21,309.24 L464.96,309.20 L465.71,309.16 L466.46,309.11 L467.22,309.07 L467.97,309.02 L468.72,308.98 L469.47,308.94 L470.22,308.89 L470.97,308.85 L471.72,308.81 L472.47,308.76 L473.22,308.72 L473.98,308.68 L474.73,308.63 L475.48,308.59 L476.23,308.55 L476.98,308.51 L477.73,308.46 L478.48,308.42 L479.23,308.38 L479.98,308.34 L480.74,308.29 L481.49,308.25 L482.24,308.21 L482.99,308.17 L483.74,308.13 L484.49,308.09 L485.24,308.05 L485.99,308.01 L486.75,307.97 L487.50,307.93 L488.25,307.89 L489.00,307.85 L489.75,307.81 L490.50,307.77 L491.25,307.73 L492.00,307.70 L492.75,307.66 L493.51,307.62 L494.26,307.58 L495.01,307.55 L495.76,307.51 L496.51,307.47 L497.26,307.44 L498.01,307.40 L498.76,307.37 L499.52,307.33 L500.27,307.30 L501.02,307.26 L501.77,307.23 L502.52,307.19 L503.27,307.16 L504.02,307.13 L504.77,307.10 L505.52,307.06 L506.28,307.03 L507.03,307.00 L507.78,306.97 L508.53,306.94 L509.28,306.91 L510.03,306.88 L510.78,306.85 L511.53,306.83 L512.29,306.80 L513.04,306.77 L513.79,306.74 L514.54,306.72 L515.29,306.69 L516.04,306.67 L516.79,306.64 L517.54,306.62 L518.29,306.59 L519.05,306.57 L519.80,306.55 L520.55,306.52 L521.30,306.50 L522.05,306.48 L522.80,306.46 L523.55,306.44 L524.30,306.42 L525.06,306.40 L525.81,306.38 L526.56,306.37 L527.31,306.35 L528.06,306.33 L528.81,306.32 L529.56,306.30 L530.31,306.29 L531.06,306.27 L531.82,306.26 L532.57,306.25 L533.32,306.24 L534.07,306.23 L534.82,306.21 L535.57,306.20 L536.32,306.20 L537.07,306.19 L537.83,306.18 L538.58,306.17 L539.33,306.17 L540.08,306.16 L540.83,306.16 L541.58,306.15 L542.33,306.15 L543.08,306.15 L543.83,306.14 L544.59,306.14 L545.34,306.14 L546.09,306.14 L546.84,306.14 L547.59,306.15 L548.34,306.15 L549.09,306.15 L549.84,306.16 L550.59,306.16 L551.35,306.17 L552.10,306.18 L552.85,306.18 L553.60,306.19 L554.35,306.20 L555.10,306.21 L555.85,306.22 L556.60,306.24 L557.36,306.25 L558.11,306.26 L558.86,306.28 L559.61,306.29 L560.36,306.31 L561.11,306.33 L561.86,306.35 L562.61,306.37 L563.36,306.39 L564.12,306.41 L564.87,306.43 L565.62,306.45 L566.37,306.48 L567.12,306.50 L567.87,306.53 L568.62,306.56 L569.37,306.58 L570.13,306.61 L570.88,306.64 L571.63,306.67 L572.38,306.71 L573.13,306.74 L573.88,306.77 L574.63,306.81 L575.38,306.85 L576.13,306.88 L576.89,306.92 L577.64,306.96 L578.39,307.00 L579.14,307.04 L579.89,307.09 L580.64,307.13 L581.39,307.17 L582.14,307.22 L582.90,307.27 L583.65,307.32 L584.40,307.37 L585.15,307.42 L585.90,307.47" fill="none" stroke="#0c365a" stroke-width="1.80" stroke-linecap="butt" stroke-linejoin="round"/>
<path d="M361.30,313.40 L362.05,313.43 L362.80,313.46 L363.55,313.48 L364.30,313.51 L365.06,313.53 L365.81,313.55 L366.56,313.58 L367.31,313.60 L368.06,313.62 L368.81,313.63 L369.56,313.65 L370.31,313.67 L371.07,313.68 L371.82,313.70 L372.57,313.71 L373.32,313.72 L374.07,313.74 L374.82,313.75 L375.57,313.76 L376.32,313.76 L377.07,313.77 L377.83,313.78 L378.58,313.78 L379.33,313.79 L380.08,313.79 L380.83,313.80 L381.58,313.80 L382.33,313.80 L383.08,313.80 L383.84,313.80 L384.59,313.80 L385.34,313.80 L386.09,313.80 L386.84,313.79 L387.59,313.79 L388.34,313.78 L389.09,313.78 L389.84,313.77 L390.60,313.76 L391.35,313.75 L392.10,313.75 L392.85,313.74 L393.60,313.73 L394.35,313.71 L395.10,313.70 L395.85,313.69 L396.61,313.68 L397.36,313.66 L398.11,313.65 L398.86,313.63 L399.61,313.62 L400.36,313.60 L401.11,313.59 L401.86,313.57 L402.61,313.55 L403.37,313.53 L404.12,313.51 L404.87,313.49 L405.62,313.47 L406.37,313.45 L407.12,313.43 L407.87,313.41 L408.62,313.38 L409.37,313.36 L410.13,313.34 L410.88,313.31 L411.63,313.29 L412.38,313.26 L413.13,313.24 L413.88,313.21 L414.63,313.19 L415.38,313.16 L416.14,313.13 L416.89,313.10 L417.64,313.08 L418.39,313.05 L419.14,313.02 L419.89,312.99 L420.64,312.96 L421.39,312.93 L422.14,312.90 L422.90,312.87 L423.65,312.84 L424.40,312.81 L425.15,312.77 L425.90,312.74 L426.65,312.71 L427.40,312.68 L428.15,312.64 L428.91,312.61 L429.66,312.58 L430.41,312.54 L431.16,312.51 L431.91,312.48 L432.66,312.44 L433.41,312.41 L434.16,312.37 L434.91,312.34 L435.67,312.30 L436.42,312.27 L437.17,312.23 L437.92,312.20 L438.67,312.16 L439.42,312.13 L440.17,312.09 L440.92,312.06 L441.68,312.02 L442.43,311.98 L443.18,311.95 L443.93,311.91 L444.68,311.88 L445.43,311.84 L446.18,311.80 L446.93,311.77 L447.68,311.73 L448.44,311.69 L449.19,311.66 L449.94,311.62 L450.69,311.58 L451.44,311.55 L452.19,311.51 L452.94,311.48 L453.69,311.44 L454.45,311.40 L455.20,311.37 L455.95,311.33 L456.70,311.30 L457.45,311.26 L458.20,311.22 L458.95,311.19 L459.70,311.15 L460.45,311.12 L461.21,311.08 L461.96,311.05 L462.71,311.01 L463.46,310.98 L464.21,310.95 L464.96,310.91 L465.71,310.88 L466.46,310.84 L467.22,310.81 L467.97,310.78 L468.72,310.74 L469.47,310.71 L470.22,310.68 L470.97,310.65 L471.72,310.62 L472.47,310.58 L473.22,310.55 L473.98,310.52 L474.73,310.49 L475.48,310.46 L476.23,310.43 L476.98,310.40 L477.73,310.37 L478.48,310.34 L479.23,310.32 L479.98,310.29 L480.74,310.26 L481.49,310.23 L482.24,310.21 L482.99,310.18 L483.74,310.16 L484.49,310.13 L485.24,310.11 L485.99,310.09 L486.75,310.07 L487.50,310.05 L488.25,310.03 L489.00,310.01 L489.75,309.99 L490.50,309.97 L491.25,309.96 L492.00,309.95 L492.75,309.94 L493.51,309.93 L494.26,309.92 L495.01,309.91 L495.76,309.90 L496.51,309.90 L497.26,309.90 L498.01,309.90 L498.76,309.90 L499.52,309.91 L500.27,309.91 L501.02,309.92 L501.77,309.93 L502.52,309.94 L503.27,309.96 L504.02,309.98 L504.77,310.00 L505.52,310.02 L506.28,310.04 L507.03,310.07 L507.78,310.10 L508.53,310.13 L509.28,310.17 L510.03,310.21 L510.78,310.25 L511.53,310.29 L512.29,310.34 L513.04,310.39 L513.79,310.44 L514.54,310.50 L515.29,310.56 L516.04,310.62 L516.79,310.69 L517.54,310.76 L518.29,310.84 L519.05,310.91 L519.80,310.99 L520.55,311.08 L521.30,311.17 L522.05,311.26 L522.80,311.35 L523.55,311.45 L524.30,311.56 L525.06,311.67 L525.81,311.78 L526.56,311.90 L527.31,312.02 L528.06,312.14 L528.81,312.27 L529.56,312.40 L530.31,312.54 L531.06,312.68 L531.82,312.83 L532.57,312.98 L533.32,313.14 L534.07,313.30 L534.82,313.46 L535.57,313.63 L536.32,313.81 L537.07,313.99 L537.83,314.17 L538.58,314.36 L539.33,314.56 L540.08,314.76 L540.83,314.96 L541.58,315.17 L542.33,315.39 L543.08,315.61 L543.83,315.83 L544.59,316.06 L545.34,316.30 L546.09,316.54 L546.84,316.79 L547.59,317.04 L548.34,317.30 L549.09,317.56 L549.84,317.83 L550.59,318.10 L551.35,318.38 L552.10,318.67 L552.85,318.96 L553.60,319.26 L554.35,319.57 L555.10,319.88 L555.85,320.19 L556.60,320.51 L557.36,320.84 L558.11,321.18 L558.86,321.52 L559.61,321.86 L560.36,322.22 L561.11,322.58 L561.86,322.94 L562.61,323.31 L563.36,323.69 L564.12,324.08 L564.87,324.47 L565.62,324.87 L566.37,325.27 L567.12,325.69 L567.87,326.11 L568.62,326.53 L569.37,326.96 L570.13,327.40 L570.88,327.85 L571.63,328.30 L572.38,328.76 L573.13,329.23 L573.88,329.71 L574.63,330.19 L575.38,330.68 L576.13,331.18 L576.89,331.68 L577.64,332.19 L578.39,332.71 L579.14,333.24 L579.89,333.77 L580.64,334.31 L581.39,334.86 L582.14,335.42 L582.90,335.98 L583.65,336.56 L584.40,337.14 L585.15,337.72 L585.90,338.32" fill="none" stroke="#7da2cf" stroke-width="1.80" stroke-linecap="butt" stroke-linejoin="round"/>
<path d="M361.30,315.20 L362.05,315.28 L362.81,315.35 L363.56,315.43 L364.31,315.50 L365.06,315.58 L365.82,315.65 L366.57,315.72 L367.32,315.79 L368.08,315.86 L368.83,315.92 L369.58,315.99 L370.33,316.06 L371.09,316.12 L371.84,316.18 L372.59,316.24 L373.35,316.31 L374.10,316.37 L374.85,316.42 L375.60,316.48 L376.36,316.54 L377.11,316.59 L377.86,316.65 L378.62,316.70 L379.37,316.75 L380.12,316.80 L380.87,316.85 L381.63,316.90 L382.38,316.95 L383.13,317.00 L383.89,317.05 L384.64,317.09 L385.39,317.13 L386.14,317.18 L386.90,317.22 L387.65,317.26 L388.40,317.30 L389.16,317.34 L389.91,317.38 L390.66,317.42 L391.41,317.45 L392.17,317.49 L392.92,317.52 L393.67,317.56 L394.43,317.59 L395.18,317.62 L395.93,317.65 L396.68,317.68 L397.44,317.71 L398.19,317.74 L398.94,317.76 L399.69,317.79 L400.45,317.81 L401.20,317.84 L401.95,317.86 L402.71,317.88 L403.46,317.91 L404.21,317.93 L404.96,317.95 L405.72,317.97 L406.47,317.98 L407.22,318.00 L407.98,318.02 L408.73,318.03 L409.48,318.05 L410.23,318.06 L410.99,318.08 L411.74,318.09 L412.49,318.10 L413.25,318.11 L414.00,318.12 L414.75,318.13 L415.50,318.14 L416.26,318.15 L417.01,318.15 L417.76,318.16 L418.52,318.16 L419.27,318.17 L420.02,318.17 L420.77,318.18 L421.53,318.18 L422.28,318.18 L423.03,318.18 L423.79,318.18 L424.54,318.18 L425.29,318.18 L426.04,318.18 L426.80,318.17 L427.55,318.17 L428.30,318.17 L429.06,318.16 L429.81,318.16 L430.56,318.15 L431.31,318.14 L432.07,318.13 L432.82,318.13 L433.57,318.12 L434.33,318.11 L435.08,318.10 L435.83,318.09 L436.58,318.08 L437.34,318.06 L438.09,318.05 L438.84,318.04 L439.60,318.02 L440.35,318.01 L441.10,317.99 L441.85,317.98 L442.61,317.96 L443.36,317.95 L444.11,317.93 L444.87,317.91 L445.62,317.89 L446.37,317.87 L447.12,317.85 L447.88,317.83 L448.63,317.81 L449.38,317.79 L450.14,317.77 L450.89,317.75 L451.64,317.72 L452.39,317.70 L453.15,317.68 L453.90,317.65 L454.65,317.63 L455.41,317.60 L456.16,317.57 L456.91,317.55 L457.66,317.52 L458.42,317.49 L459.17,317.47 L459.92,317.44 L460.68,317.41 L461.43,317.38 L462.18,317.35 L462.93,317.32 L463.69,317.29 L464.44,317.26 L465.19,317.23 L465.95,317.19 L466.70,317.16 L467.45,317.13 L468.20,317.09 L468.96,317.06 L469.71,317.03 L470.46,316.99 L471.22,316.96 L471.97,316.92 L472.72,316.89 L473.47,316.85 L474.23,316.82 L474.98,316.78 L475.73,316.74 L476.48,316.70 L477.24,316.67 L477.99,316.63 L478.74,316.59 L479.50,316.55 L480.25,316.51 L481.00,316.47 L481.75,316.43 L482.51,316.39 L483.26,316.35 L484.01,316.31 L484.77,316.27 L485.52,316.23 L486.27,316.18 L487.02,316.14 L487.78,316.10 L488.53,316.05 L489.28,316.00 L490.04,315.96 L490.79,315.91 L491.54,315.86 L492.29,315.81 L493.05,315.76 L493.80,315.71 L494.55,315.66 L495.31,315.60 L496.06,315.55 L496.81,315.49 L497.56,315.43 L498.32,315.38 L499.07,315.32 L499.82,315.26 L500.58,315.19 L501.33,315.13 L502.08,315.06 L502.83,315.00 L503.59,314.93 L504.34,314.86 L505.09,314.79 L505.85,314.71 L506.60,314.64 L507.35,314.56 L508.10,314.49 L508.86,314.41 L509.61,314.33 L510.36,314.26 L511.12,314.19 L511.87,314.12 L512.62,314.06 L513.37,314.00 L514.13,313.95 L514.88,313.90 L515.63,313.86 L516.39,313.84 L517.14,313.82 L517.89,313.81 L518.64,313.81 L519.40,313.82 L520.15,313.85 L520.90,313.89 L521.66,313.95 L522.41,314.02 L523.16,314.11 L523.91,314.21 L524.67,314.33 L525.42,314.48 L526.17,314.64 L526.93,314.82 L527.68,315.02 L528.43,315.25 L529.18,315.50 L529.94,315.77 L530.69,316.07 L531.44,316.39 L532.20,316.74 L532.95,317.12 L533.70,317.52 L534.45,317.96 L535.21,318.42 L535.96,318.91 L536.71,319.42 L537.47,319.97 L538.22,320.54 L538.97,321.13 L539.72,321.76 L540.48,322.41 L541.23,323.09 L541.98,323.79 L542.74,324.52 L543.49,325.27 L544.24,326.05 L544.99,326.85 L545.75,327.68 L546.50,328.53 L547.25,329.41 L548.01,330.31 L548.76,331.24 L549.51,332.18 L550.26,333.16 L551.02,334.15 L551.77,335.17 L552.52,336.21 L553.27,337.27 L554.03,338.36 L554.78,339.47 L555.53,340.60 L556.29,341.75 L557.04,342.92 L557.79,344.11 L558.54,345.33 L559.30,346.57 L560.05,347.82 L560.80,349.10 L561.56,350.39 L562.31,351.71 L563.06,353.05 L563.81,354.40 L564.57,355.77 L565.32,357.16 L566.07,358.56 L566.83,359.98 L567.58,361.41 L568.33,362.85 L569.08,364.31 L569.84,365.78 L570.59,367.25 L571.34,368.74 L572.10,370.24 L572.85,371.75 L573.60,373.26 L574.35,374.78 L575.11,376.30 L575.86,377.83 L576.61,379.36 L577.37,380.90 L578.12,382.44 L578.87,383.98 L579.62,385.52 L580.38,387.06 L581.13,388.59 L581.88,390.13 L582.64,391.66 L583.39,393.19 L584.14,394.72 L584.89,396.24 L585.65,397.75 L586.40,399.26" fill="none" stroke="#eccf6c" stroke-width="1.80" stroke-linecap="butt" stroke-linejoin="round"/>
<path d="M361.30,317.43 L362.05,317.38 L362.81,317.33 L363.56,317.30 L364.31,317.27 L365.06,317.26 L365.82,317.25 L366.57,317.25 L367.32,317.27 L368.07,317.29 L368.83,317.32 L369.58,317.36 L370.33,317.41 L371.08,317.47 L371.84,317.54 L372.59,317.61 L373.34,317.69 L374.09,317.78 L374.85,317.87 L375.60,317.98 L376.35,318.09 L377.10,318.20 L377.86,318.33 L378.61,318.46 L379.36,318.59 L380.11,318.73 L380.87,318.88 L381.62,319.03 L382.37,319.19 L383.12,319.35 L383.88,319.52 L384.63,319.69 L385.38,319.87 L386.13,320.05 L386.89,320.23 L387.64,320.42 L388.39,320.61 L389.14,320.81 L389.90,321.00 L390.65,321.20 L391.40,321.41 L392.15,321.61 L392.91,321.82 L393.66,322.03 L394.41,322.24 L395.16,322.46 L395.92,322.67 L396.67,322.89 L397.42,323.10 L398.17,323.32 L398.93,323.54 L399.68,323.76 L400.43,323.98 L401.18,324.20 L401.94,324.41 L402.69,324.63 L403.44,324.85 L404.19,325.07 L404.95,325.28 L405.70,325.50 L406.45,325.71 L407.20,325.92 L407.96,326.13 L408.71,326.33 L409.46,326.54 L410.21,326.74 L410.97,326.94 L411.72,327.13 L412.47,327.33 L413.22,327.51 L413.98,327.70 L414.73,327.88 L415.48,328.06 L416.23,328.23 L416.99,328.40 L417.74,328.56 L418.49,328.72 L419.24,328.88 L420.00,329.03 L420.75,329.17 L421.50,329.31 L422.25,329.44 L423.01,329.56 L423.76,329.68 L424.51,329.79 L425.26,329.90 L426.02,330.00 L426.77,330.09 L427.52,330.17 L428.27,330.25 L429.03,330.32 L429.78,330.39 L430.53,330.45 L431.28,330.51 L432.04,330.55 L432.79,330.60 L433.54,330.64 L434.29,330.67 L435.05,330.70 L435.80,330.72 L436.55,330.74 L437.30,330.75 L438.06,330.76 L438.81,330.76 L439.56,330.76 L440.31,330.76 L441.07,330.75 L441.82,330.74 L442.57,330.73 L443.32,330.71 L444.08,330.69 L444.83,330.66 L445.58,330.64 L446.33,330.61 L447.09,330.57 L447.84,330.54 L448.59,330.50 L449.34,330.46 L450.10,330.42 L450.85,330.37 L451.60,330.33 L452.35,330.28 L453.11,330.23 L453.86,330.18 L454.61,330.13 L455.36,330.08 L456.12,330.03 L456.87,329.97 L457.62,329.92 L458.37,329.87 L459.13,329.81 L459.88,329.76 L460.63,329.70 L461.38,329.65 L462.14,329.60 L462.89,329.54 L463.64,329.49 L464.39,329.44 L465.15,329.39 L465.90,329.34 L466.65,329.29 L467.40,329.24 L468.16,329.20 L468.91,329.16 L469.66,329.11 L470.41,329.07 L471.17,329.04 L471.92,329.00 L472.67,328.97 L473.42,328.94 L474.18,328.91 L474.93,328.89 L475.68,328.87 L476.43,328.85 L477.19,328.84 L477.94,328.83 L478.69,328.82 L479.44,328.82 L480.20,328.82 L480.95,328.83 L481.70,328.84 L482.45,328.85 L483.21,328.87 L483.96,328.90 L484.71,328.92 L485.46,328.96 L486.22,329.00 L486.97,329.04 L487.72,329.09 L488.47,329.15 L489.23,329.21 L489.98,329.28 L490.73,329.35 L491.48,329.43 L492.24,329.52 L492.99,329.61 L493.74,329.71 L494.49,329.82 L495.25,329.93 L496.00,330.06 L496.75,330.18 L497.50,330.32 L498.26,330.47 L499.01,330.62 L499.76,330.78 L500.51,330.94 L501.27,331.12 L502.02,331.30 L502.77,331.48 L503.52,331.68 L504.28,331.88 L505.03,332.08 L505.78,332.30 L506.53,332.52 L507.29,332.74 L508.04,332.97 L508.79,333.21 L509.54,333.45 L510.30,333.70 L511.05,333.96 L511.80,334.22 L512.55,334.48 L513.31,334.75 L514.06,335.03 L514.81,335.31 L515.56,335.59 L516.32,335.88 L517.07,336.17 L517.82,336.47 L518.57,336.77 L519.33,337.08 L520.08,337.39 L520.83,337.71 L521.58,338.02 L522.34,338.34 L523.09,338.67 L523.84,339.00 L524.59,339.33 L525.35,339.66 L526.10,340.00 L526.85,340.34 L527.60,340.68 L528.36,341.03 L529.11,341.37 L529.86,341.72 L530.61,342.08 L531.37,342.43 L532.12,342.79 L532.87,343.15 L533.62,343.51 L534.38,343.88 L535.13,344.27 L535.88,344.67 L536.63,345.09 L537.39,345.53 L538.14,345.99 L538.89,346.48 L539.64,347.00 L540.40,347.56 L541.15,348.15 L541.90,348.77 L542.65,349.45 L543.41,350.16 L544.16,350.93 L544.91,351.74 L545.66,352.61 L546.42,353.54 L547.17,354.53 L547.92,355.58 L548.67,356.70 L549.43,357.89 L550.18,359.15 L550.93,360.49 L551.68,361.91 L552.44,363.40 L553.19,364.99 L553.94,366.66 L554.69,368.42 L555.45,370.28 L556.20,372.23 L556.95,374.27 L557.70,376.41 L558.46,378.64 L559.21,380.95 L559.96,383.33 L560.71,385.80 L561.47,388.33 L562.22,390.94 L562.97,393.60 L563.72,396.33 L564.48,399.12 L565.23,401.96 L565.98,404.85 L566.73,407.78 L567.49,410.76 L568.24,413.77 L568.99,416.82 L569.74,419.90 L570.50,423.01 L571.25,426.14 L572.00,429.29 L572.75,432.45 L573.51,435.63 L574.26,438.81 L575.01,442.00 L575.76,445.19 L576.52,448.38 L577.27,451.56 L578.02,454.72 L578.77,457.88 L579.53,461.01 L580.28,464.12 L581.03,467.21 L581.78,470.27 L582.54,473.29 L583.29,476.28 L584.04,479.23 L584.79,482.13 L585.55,484.98 L586.30,487.78" fill="none" stroke="#c24d4e" stroke-width="1.80" stroke-linecap="butt" stroke-linejoin="round"/>
<line x1="549.20" y1="542.39" x2="549.20" y2="286.00" stroke="#000" stroke-width="2.3" stroke-dasharray="2.18 6.54"/>
</g>
<rect x="351.20" y="291.00" width="245.80" height="250.00" fill="none" stroke="#333333" stroke-width="2.1"/>
<line x1="347.60" y1="301.00" x2="350.20" y2="301.00" stroke="#4d4d4d" stroke-width="1.0"/>
<text x="345.60" y="304.60" font-size="10.00" font-weight="bold" fill="#4d4d4d" text-anchor="end" >89</text>
<line x1="347.60" y1="333.50" x2="350.20" y2="333.50" stroke="#4d4d4d" stroke-width="1.0"/>
<text x="345.60" y="337.10" font-size="10.00" font-weight="bold" fill="#4d4d4d" text-anchor="end" >88</text>
<line x1="347.60" y1="366.00" x2="350.20" y2="366.00" stroke="#4d4d4d" stroke-width="1.0"/>
<text x="345.60" y="369.60" font-size="10.00" font-weight="bold" fill="#4d4d4d" text-anchor="end" >87</text>
<line x1="347.60" y1="398.50" x2="350.20" y2="398.50" stroke="#4d4d4d" stroke-width="1.0"/>
<text x="345.60" y="402.10" font-size="10.00" font-weight="bold" fill="#4d4d4d" text-anchor="end" >86</text>
<line x1="347.60" y1="431.00" x2="350.20" y2="431.00" stroke="#4d4d4d" stroke-width="1.0"/>
<text x="345.60" y="434.60" font-size="10.00" font-weight="bold" fill="#4d4d4d" text-anchor="end" >85</text>
<line x1="347.60" y1="463.50" x2="350.20" y2="463.50" stroke="#4d4d4d" stroke-width="1.0"/>
<text x="345.60" y="467.10" font-size="10.00" font-weight="bold" fill="#4d4d4d" text-anchor="end" >84</text>
<line x1="347.60" y1="496.00" x2="350.20" y2="496.00" stroke="#4d4d4d" stroke-width="1.0"/>
<text x="345.60" y="499.60" font-size="10.00" font-weight="bold" fill="#4d4d4d" text-anchor="end" >83</text>
<line x1="347.60" y1="528.50" x2="350.20" y2="528.50" stroke="#4d4d4d" stroke-width="1.0"/>
<text x="345.60" y="532.10" font-size="10.00" font-weight="bold" fill="#4d4d4d" text-anchor="end" >82</text>
<line x1="361.30" y1="542.00" x2="361.30" y2="544.70" stroke="#4d4d4d" stroke-width="1.0"/>
<text x="361.30" y="553.90" font-size="10.00" font-weight="bold" fill="#4d4d4d" text-anchor="middle" >−10</text>
<line x1="398.88" y1="542.00" x2="398.88" y2="544.70" stroke="#4d4d4d" stroke-width="1.0"/>
<text x="398.88" y="553.90" font-size="10.00" font-weight="bold" fill="#4d4d4d" text-anchor="middle" >−8</text>
<line x1="436.46" y1="542.00" x2="436.46" y2="544.70" stroke="#4d4d4d" stroke-width="1.0"/>
<text x="436.46" y="553.90" font-size="10.00" font-weight="bold" fill="#4d4d4d" text-anchor="middle" >−6</text>
<line x1="474.04" y1="542.00" x2="474.04" y2="544.70" stroke="#4d4d4d" stroke-width="1.0"/>
<text x="474.04" y="553.90" font-size="10.00" font-weight="bold" fill="#4d4d4d" text-anchor="middle" >−4</text>
<line x1="511.62" y1="542.00" x2="511.62" y2="544.70" stroke="#4d4d4d" stroke-width="1.0"/>
<text x="511.62" y="553.90" font-size="10.00" font-weight="bold" fill="#4d4d4d" text-anchor="middle" >−2</text>
<line x1="549.20" y1="542.00" x2="549.20" y2="544.70" stroke="#4d4d4d" stroke-width="1.0"/>
<text x="549.20" y="553.90" font-size="10.00" font-weight="bold" fill="#4d4d4d" text-anchor="middle" >0</text>
<line x1="586.78" y1="542.00" x2="586.78" y2="544.70" stroke="#4d4d4d" stroke-width="1.0"/>
<text x="586.78" y="553.90" font-size="10.00" font-weight="bold" fill="#4d4d4d" text-anchor="middle" >+2</text>
<text x="0" y="0" font-size="10.2" font-weight="bold" fill="#000" text-anchor="middle" transform="translate(331.20,416.00) rotate(-90)">Sleep Percentage (%)</text>
<text x="612.20" y="388.20" font-size="10.20" font-weight="bold" fill="#000" text-anchor="start" >Exercise Strain</text>
<rect x="613.2" y="394.70" width="13" height="13" fill="#0c365a" fill-opacity="0.17"/>
<line x1="613.6" y1="401.20" x2="625.6" y2="401.20" stroke="#0c365a" stroke-width="1.9"/>
<text x="631.20" y="404.80" font-size="10.00" font-weight="normal" fill="#1a1a1a" text-anchor="start" >Light</text>
<rect x="613.2" y="409.52" width="13" height="13" fill="#7da2cf" fill-opacity="0.17"/>
<line x1="613.6" y1="416.02" x2="625.6" y2="416.02" stroke="#7da2cf" stroke-width="1.9"/>
<text x="631.20" y="419.62" font-size="10.00" font-weight="normal" fill="#1a1a1a" text-anchor="start" >Moderate</text>
<rect x="613.2" y="424.34" width="13" height="13" fill="#eccf6c" fill-opacity="0.17"/>
<line x1="613.6" y1="430.84" x2="625.6" y2="430.84" stroke="#eccf6c" stroke-width="1.9"/>
<text x="631.20" y="434.44" font-size="10.00" font-weight="normal" fill="#1a1a1a" text-anchor="start" >High</text>
<rect x="613.2" y="439.16" width="13" height="13" fill="#c24d4e" fill-opacity="0.17"/>
<line x1="613.6" y1="445.66" x2="625.6" y2="445.66" stroke="#c24d4e" stroke-width="1.9"/>
<text x="631.20" y="449.26" font-size="10.00" font-weight="normal" fill="#1a1a1a" text-anchor="start" >Maximal</text>
<clipPath id="c44_567"><rect x="44.80" y="567.00" width="246.20" height="250.00"/></clipPath>
<g clip-path="url(#c44_567)">
<path d="M55.00,783.56 L55.75,783.54 L56.50,783.53 L57.26,783.51 L58.01,783.50 L58.76,783.48 L59.51,783.47 L60.26,783.46 L61.01,783.44 L61.77,783.43 L62.52,783.42 L63.27,783.41 L64.02,783.40 L64.77,783.39 L65.53,783.39 L66.28,783.38 L67.03,783.37 L67.78,783.37 L68.53,783.36 L69.28,783.36 L70.04,783.35 L70.79,783.35 L71.54,783.35 L72.29,783.35 L73.04,783.35 L73.80,783.35 L74.55,783.35 L75.30,783.35 L76.05,783.35 L76.80,783.35 L77.56,783.35 L78.31,783.36 L79.06,783.36 L79.81,783.36 L80.56,783.37 L81.31,783.37 L82.07,783.38 L82.82,783.39 L83.57,783.39 L84.32,783.40 L85.07,783.41 L85.83,783.42 L86.58,783.43 L87.33,783.43 L88.08,783.44 L88.83,783.45 L89.58,783.47 L90.34,783.48 L91.09,783.49 L91.84,783.50 L92.59,783.51 L93.34,783.52 L94.10,783.54 L94.85,783.55 L95.60,783.56 L96.35,783.58 L97.10,783.59 L97.85,783.61 L98.61,783.62 L99.36,783.64 L100.11,783.65 L100.86,783.67 L101.61,783.69 L102.37,783.70 L103.12,783.72 L103.87,783.74 L104.62,783.75 L105.37,783.77 L106.13,783.79 L106.88,783.81 L107.63,783.83 L108.38,783.84 L109.13,783.86 L109.88,783.88 L110.64,783.90 L111.39,783.92 L112.14,783.94 L112.89,783.96 L113.64,783.98 L114.40,784.00 L115.15,784.02 L115.90,784.04 L116.65,784.06 L117.40,784.08 L118.15,784.10 L118.91,784.12 L119.66,784.14 L120.41,784.16 L121.16,784.18 L121.91,784.20 L122.67,784.22 L123.42,784.25 L124.17,784.27 L124.92,784.29 L125.67,784.31 L126.42,784.33 L127.18,784.35 L127.93,784.37 L128.68,784.39 L129.43,784.41 L130.18,784.43 L130.94,784.45 L131.69,784.47 L132.44,784.50 L133.19,784.52 L133.94,784.54 L134.69,784.56 L135.45,784.58 L136.20,784.60 L136.95,784.62 L137.70,784.64 L138.45,784.66 L139.21,784.68 L139.96,784.69 L140.71,784.71 L141.46,784.73 L142.21,784.75 L142.97,784.77 L143.72,784.79 L144.47,784.81 L145.22,784.82 L145.97,784.84 L146.72,784.86 L147.48,784.88 L148.23,784.89 L148.98,784.91 L149.73,784.93 L150.48,784.94 L151.24,784.96 L151.99,784.97 L152.74,784.99 L153.49,785.00 L154.24,785.02 L154.99,785.03 L155.75,785.05 L156.50,785.06 L157.25,785.07 L158.00,785.08 L158.75,785.10 L159.51,785.11 L160.26,785.12 L161.01,785.13 L161.76,785.14 L162.51,785.15 L163.26,785.16 L164.02,785.17 L164.77,785.18 L165.52,785.19 L166.27,785.20 L167.02,785.20 L167.78,785.21 L168.53,785.22 L169.28,785.22 L170.03,785.23 L170.78,785.23 L171.54,785.24 L172.29,785.24 L173.04,785.24 L173.79,785.25 L174.54,785.25 L175.29,785.25 L176.05,785.25 L176.80,785.25 L177.55,785.25 L178.30,785.25 L179.05,785.25 L179.81,785.25 L180.56,785.24 L181.31,785.24 L182.06,785.23 L182.81,785.23 L183.56,785.22 L184.32,785.21 L185.07,785.20 L185.82,785.19 L186.57,785.18 L187.32,785.16 L188.08,785.15 L188.83,785.13 L189.58,785.10 L190.33,785.08 L191.08,785.05 L191.83,785.02 L192.59,784.98 L193.34,784.94 L194.09,784.90 L194.84,784.85 L195.59,784.80 L196.35,784.75 L197.10,784.69 L197.85,784.62 L198.60,784.55 L199.35,784.48 L200.11,784.40 L200.86,784.31 L201.61,784.22 L202.36,784.12 L203.11,784.02 L203.86,783.91 L204.62,783.79 L205.37,783.67 L206.12,783.53 L206.87,783.40 L207.62,783.25 L208.38,783.09 L209.13,782.93 L209.88,782.76 L210.63,782.58 L211.38,782.40 L212.13,782.20 L212.89,782.00 L213.64,781.78 L214.39,781.56 L215.14,781.33 L215.89,781.08 L216.65,780.83 L217.40,780.57 L218.15,780.30 L218.90,780.02 L219.65,779.72 L220.40,779.42 L221.16,779.11 L221.91,778.78 L222.66,778.44 L223.41,778.10 L224.16,777.74 L224.92,777.37 L225.67,776.98 L226.42,776.59 L227.17,776.18 L227.92,775.76 L228.67,775.33 L229.43,774.88 L230.18,774.42 L230.93,773.95 L231.68,773.46 L232.43,772.96 L233.19,772.45 L233.94,771.92 L234.69,771.38 L235.44,770.82 L236.19,770.25 L236.95,769.67 L237.70,769.07 L238.45,768.45 L239.20,767.82 L239.95,767.17 L240.70,766.51 L241.46,765.83 L242.21,765.14 L242.96,764.43 L243.71,763.71 L244.46,762.98 L245.22,762.22 L245.97,761.46 L246.72,760.68 L247.47,759.88 L248.22,759.07 L248.97,758.24 L249.73,757.41 L250.48,756.55 L251.23,755.68 L251.98,754.80 L252.73,753.91 L253.49,753.00 L254.24,752.07 L254.99,751.13 L255.74,750.18 L256.49,749.22 L257.24,748.24 L258.00,747.24 L258.75,746.24 L259.50,745.22 L260.25,744.18 L261.00,743.14 L261.76,742.08 L262.51,741.01 L263.26,739.92 L264.01,738.82 L264.76,737.71 L265.52,736.58 L266.27,735.45 L267.02,734.30 L267.77,733.13 L268.52,731.96 L269.27,730.77 L270.03,729.57 L270.78,728.36 L271.53,727.13 L272.28,725.90 L273.03,724.65 L273.79,723.38 L274.54,722.11 L275.29,720.83 L276.04,719.53 L276.79,718.22 L277.54,716.90 L278.30,715.57 L279.05,714.22 L279.80,712.87 L279.80,721.87 L279.05,723.14 L278.30,724.40 L277.54,725.64 L276.79,726.88 L276.04,728.11 L275.29,729.32 L274.54,730.52 L273.79,731.72 L273.03,732.90 L272.28,734.07 L271.53,735.23 L270.78,736.38 L270.03,737.51 L269.27,738.64 L268.52,739.75 L267.77,740.85 L267.02,741.94 L266.27,743.02 L265.52,744.08 L264.76,745.14 L264.01,746.18 L263.26,747.21 L262.51,748.23 L261.76,749.23 L261.00,750.23 L260.25,751.21 L259.50,752.18 L258.75,753.13 L258.00,754.07 L257.24,755.00 L256.49,755.92 L255.74,756.83 L254.99,757.72 L254.24,758.60 L253.49,759.46 L252.73,760.31 L251.98,761.15 L251.23,761.98 L250.48,762.79 L249.73,763.59 L248.97,764.38 L248.22,765.15 L247.47,765.91 L246.72,766.65 L245.97,767.38 L245.22,768.10 L244.46,768.80 L243.71,769.49 L242.96,770.17 L242.21,770.83 L241.46,771.47 L240.70,772.11 L239.95,772.73 L239.20,773.33 L238.45,773.92 L237.70,774.49 L236.95,775.05 L236.19,775.60 L235.44,776.13 L234.69,776.65 L233.94,777.15 L233.19,777.64 L232.43,778.12 L231.68,778.59 L230.93,779.04 L230.18,779.48 L229.43,779.90 L228.67,780.32 L227.92,780.72 L227.17,781.11 L226.42,781.49 L225.67,781.86 L224.92,782.21 L224.16,782.56 L223.41,782.89 L222.66,783.22 L221.91,783.53 L221.16,783.83 L220.40,784.12 L219.65,784.40 L218.90,784.67 L218.15,784.94 L217.40,785.19 L216.65,785.43 L215.89,785.67 L215.14,785.89 L214.39,786.11 L213.64,786.32 L212.89,786.52 L212.13,786.71 L211.38,786.89 L210.63,787.06 L209.88,787.23 L209.13,787.39 L208.38,787.55 L207.62,787.69 L206.87,787.83 L206.12,787.96 L205.37,788.09 L204.62,788.21 L203.86,788.32 L203.11,788.43 L202.36,788.53 L201.61,788.62 L200.86,788.71 L200.11,788.80 L199.35,788.88 L198.60,788.95 L197.85,789.02 L197.10,789.09 L196.35,789.15 L195.59,789.20 L194.84,789.25 L194.09,789.30 L193.34,789.34 L192.59,789.38 L191.83,789.42 L191.08,789.45 L190.33,789.48 L189.58,789.50 L188.83,789.53 L188.08,789.55 L187.32,789.56 L186.57,789.58 L185.82,789.59 L185.07,789.60 L184.32,789.61 L183.56,789.62 L182.81,789.63 L182.06,789.63 L181.31,789.64 L180.56,789.64 L179.81,789.65 L179.05,789.65 L178.30,789.65 L177.55,789.65 L176.80,789.65 L176.05,789.65 L175.29,789.65 L174.54,789.65 L173.79,789.65 L173.04,789.64 L172.29,789.64 L171.54,789.64 L170.78,789.63 L170.03,789.63 L169.28,789.62 L168.53,789.62 L167.78,789.61 L167.02,789.60 L166.27,789.60 L165.52,789.59 L164.77,789.58 L164.02,789.57 L163.26,789.56 L162.51,789.55 L161.76,789.54 L161.01,789.53 L160.26,789.52 L159.51,789.51 L158.75,789.50 L158.00,789.48 L157.25,789.47 L156.50,789.46 L155.75,789.45 L154.99,789.43 L154.24,789.42 L153.49,789.40 L152.74,789.39 L151.99,789.37 L151.24,789.36 L150.48,789.34 L149.73,789.33 L148.98,789.31 L148.23,789.29 L147.48,789.28 L146.72,789.26 L145.97,789.24 L145.22,789.22 L144.47,789.21 L143.72,789.19 L142.97,789.17 L142.21,789.15 L141.46,789.13 L140.71,789.11 L139.96,789.09 L139.21,789.08 L138.45,789.06 L137.70,789.04 L136.95,789.02 L136.20,789.00 L135.45,788.98 L134.69,788.96 L133.94,788.94 L133.19,788.92 L132.44,788.90 L131.69,788.87 L130.94,788.85 L130.18,788.83 L129.43,788.81 L128.68,788.79 L127.93,788.77 L127.18,788.75 L126.42,788.73 L125.67,788.71 L124.92,788.69 L124.17,788.67 L123.42,788.65 L122.67,788.62 L121.91,788.60 L121.16,788.58 L120.41,788.56 L119.66,788.54 L118.91,788.52 L118.15,788.50 L117.40,788.48 L116.65,788.46 L115.90,788.44 L115.15,788.42 L114.40,788.40 L113.64,788.38 L112.89,788.36 L112.14,788.34 L111.39,788.32 L110.64,788.30 L109.88,788.28 L109.13,788.26 L108.38,788.24 L107.63,788.23 L106.88,788.21 L106.13,788.19 L105.37,788.17 L104.62,788.15 L103.87,788.14 L103.12,788.12 L102.37,788.10 L101.61,788.09 L100.86,788.07 L100.11,788.05 L99.36,788.04 L98.61,788.02 L97.85,788.01 L97.10,787.99 L96.35,787.98 L95.60,787.96 L94.85,787.95 L94.10,787.94 L93.34,787.92 L92.59,787.91 L91.84,787.90 L91.09,787.89 L90.34,787.88 L89.58,787.87 L88.83,787.85 L88.08,787.84 L87.33,787.83 L86.58,787.83 L85.83,787.82 L85.07,787.81 L84.32,787.80 L83.57,787.79 L82.82,787.79 L82.07,787.78 L81.31,787.77 L80.56,787.77 L79.81,787.76 L79.06,787.76 L78.31,787.76 L77.56,787.75 L76.80,787.75 L76.05,787.75 L75.30,787.75 L74.55,787.75 L73.80,787.75 L73.04,787.75 L72.29,787.75 L71.54,787.75 L70.79,787.75 L70.04,787.75 L69.28,787.76 L68.53,787.76 L67.78,787.77 L67.03,787.77 L66.28,787.78 L65.53,787.79 L64.77,787.79 L64.02,787.80 L63.27,787.81 L62.52,787.82 L61.77,787.83 L61.01,787.84 L60.26,787.86 L59.51,787.87 L58.76,787.88 L58.01,787.90 L57.26,787.91 L56.50,787.93 L55.75,787.94 L55.00,787.96 Z" fill="#0c365a" fill-opacity="0.15" stroke="none"/>
<path d="M55.00,779.19 L55.75,779.09 L56.51,778.99 L57.26,778.89 L58.01,778.80 L58.76,778.71 L59.52,778.62 L60.27,778.54 L61.02,778.46 L61.78,778.38 L62.53,778.31 L63.28,778.24 L64.03,778.17 L64.79,778.10 L65.54,778.04 L66.29,777.98 L67.05,777.92 L67.80,777.87 L68.55,777.82 L69.30,777.77 L70.06,777.72 L70.81,777.67 L71.56,777.63 L72.32,777.59 L73.07,777.56 L73.82,777.52 L74.57,777.49 L75.33,777.46 L76.08,777.43 L76.83,777.41 L77.59,777.38 L78.34,777.36 L79.09,777.34 L79.84,777.32 L80.60,777.31 L81.35,777.30 L82.10,777.28 L82.86,777.27 L83.61,777.27 L84.36,777.26 L85.11,777.26 L85.87,777.25 L86.62,777.25 L87.37,777.25 L88.13,777.25 L88.88,777.26 L89.63,777.26 L90.38,777.27 L91.14,777.28 L91.89,777.28 L92.64,777.30 L93.39,777.31 L94.15,777.32 L94.90,777.33 L95.65,777.35 L96.41,777.36 L97.16,777.38 L97.91,777.40 L98.66,777.42 L99.42,777.44 L100.17,777.46 L100.92,777.48 L101.68,777.50 L102.43,777.52 L103.18,777.55 L103.93,777.57 L104.69,777.60 L105.44,777.62 L106.19,777.65 L106.95,777.67 L107.70,777.70 L108.45,777.73 L109.20,777.75 L109.96,777.78 L110.71,777.81 L111.46,777.84 L112.22,777.87 L112.97,777.89 L113.72,777.92 L114.47,777.95 L115.23,777.98 L115.98,778.01 L116.73,778.04 L117.49,778.06 L118.24,778.09 L118.99,778.12 L119.74,778.15 L120.50,778.17 L121.25,778.20 L122.00,778.23 L122.76,778.25 L123.51,778.28 L124.26,778.30 L125.01,778.33 L125.77,778.35 L126.52,778.37 L127.27,778.39 L128.03,778.42 L128.78,778.44 L129.53,778.46 L130.28,778.48 L131.04,778.49 L131.79,778.51 L132.54,778.53 L133.30,778.54 L134.05,778.55 L134.80,778.57 L135.55,778.58 L136.31,778.59 L137.06,778.60 L137.81,778.61 L138.57,778.61 L139.32,778.62 L140.07,778.62 L140.82,778.62 L141.58,778.62 L142.33,778.62 L143.08,778.62 L143.84,778.61 L144.59,778.61 L145.34,778.60 L146.09,778.59 L146.85,778.58 L147.60,778.57 L148.35,778.55 L149.11,778.53 L149.86,778.51 L150.61,778.49 L151.36,778.47 L152.12,778.44 L152.87,778.42 L153.62,778.39 L154.38,778.35 L155.13,778.32 L155.88,778.28 L156.63,778.24 L157.39,778.20 L158.14,778.16 L158.89,778.11 L159.65,778.06 L160.40,778.01 L161.15,777.96 L161.90,777.90 L162.66,777.84 L163.41,777.78 L164.16,777.71 L164.92,777.64 L165.67,777.57 L166.42,777.50 L167.17,777.42 L167.93,777.34 L168.68,777.26 L169.43,777.17 L170.18,777.08 L170.94,776.99 L171.69,776.89 L172.44,776.79 L173.20,776.69 L173.95,776.58 L174.70,776.47 L175.45,776.36 L176.21,776.24 L176.96,776.12 L177.71,776.00 L178.47,775.87 L179.22,775.74 L179.97,775.61 L180.72,775.47 L181.48,775.33 L182.23,775.18 L182.98,775.03 L183.74,774.87 L184.49,774.72 L185.24,774.55 L185.99,774.38 L186.75,774.21 L187.50,774.03 L188.25,773.85 L189.01,773.66 L189.76,773.47 L190.51,773.27 L191.26,773.07 L192.02,772.86 L192.77,772.64 L193.52,772.42 L194.28,772.19 L195.03,771.95 L195.78,771.71 L196.53,771.47 L197.29,771.21 L198.04,770.95 L198.79,770.68 L199.55,770.41 L200.30,770.13 L201.05,769.84 L201.80,769.54 L202.56,769.23 L203.31,768.92 L204.06,768.60 L204.82,768.27 L205.57,767.93 L206.32,767.58 L207.07,767.22 L207.83,766.85 L208.58,766.48 L209.33,766.09 L210.09,765.70 L210.84,765.29 L211.59,764.88 L212.34,764.46 L213.10,764.02 L213.85,763.58 L214.60,763.13 L215.36,762.66 L216.11,762.19 L216.86,761.70 L217.61,761.20 L218.37,760.70 L219.12,760.18 L219.87,759.65 L220.63,759.11 L221.38,758.55 L222.13,757.99 L222.88,757.41 L223.64,756.82 L224.39,756.22 L225.14,755.61 L225.90,754.99 L226.65,754.35 L227.40,753.70 L228.15,753.04 L228.91,752.36 L229.66,751.67 L230.41,750.97 L231.17,750.26 L231.92,749.53 L232.67,748.79 L233.42,748.03 L234.18,747.27 L234.93,746.48 L235.68,745.69 L236.44,744.87 L237.19,744.05 L237.94,743.21 L238.69,742.35 L239.45,741.48 L240.20,740.60 L240.95,739.70 L241.71,738.79 L242.46,737.86 L243.21,736.91 L243.96,735.95 L244.72,734.98 L245.47,733.99 L246.22,732.98 L246.97,731.96 L247.73,730.92 L248.48,729.87 L249.23,728.80 L249.99,727.71 L250.74,726.61 L251.49,725.49 L252.24,724.35 L253.00,723.20 L253.75,722.03 L254.50,720.85 L255.26,719.65 L256.01,718.43 L256.76,717.19 L257.51,715.94 L258.27,714.67 L259.02,713.38 L259.77,712.08 L260.53,710.75 L261.28,709.41 L262.03,708.06 L262.78,706.68 L263.54,705.29 L264.29,703.88 L265.04,702.45 L265.80,701.00 L266.55,699.53 L267.30,698.05 L268.05,696.54 L268.81,695.02 L269.56,693.48 L270.31,691.92 L271.07,690.35 L271.82,688.75 L272.57,687.13 L273.32,685.50 L274.08,683.84 L274.83,682.17 L275.58,680.48 L276.34,678.76 L277.09,677.03 L277.84,675.28 L278.59,673.51 L279.35,671.72 L280.10,669.90 L280.10,679.90 L279.35,681.61 L278.59,683.30 L277.84,684.97 L277.09,686.62 L276.34,688.25 L275.58,689.86 L274.83,691.46 L274.08,693.03 L273.32,694.59 L272.57,696.13 L271.82,697.65 L271.07,699.15 L270.31,700.64 L269.56,702.11 L268.81,703.56 L268.05,704.99 L267.30,706.40 L266.55,707.80 L265.80,709.18 L265.04,710.54 L264.29,711.88 L263.54,713.21 L262.78,714.52 L262.03,715.81 L261.28,717.09 L260.53,718.35 L259.77,719.59 L259.02,720.82 L258.27,722.03 L257.51,723.23 L256.76,724.40 L256.01,725.57 L255.26,726.71 L254.50,727.84 L253.75,728.95 L253.00,730.05 L252.24,731.14 L251.49,732.20 L250.74,733.25 L249.99,734.29 L249.23,735.31 L248.48,736.32 L247.73,737.31 L246.97,738.28 L246.22,739.24 L245.47,740.19 L244.72,741.12 L243.96,742.04 L243.21,742.94 L242.46,743.83 L241.71,744.71 L240.95,745.56 L240.20,746.41 L239.45,747.24 L238.69,748.06 L237.94,748.87 L237.19,749.66 L236.44,750.43 L235.68,751.20 L234.93,751.95 L234.18,752.68 L233.42,753.41 L232.67,754.12 L231.92,754.82 L231.17,755.51 L230.41,756.18 L229.66,756.84 L228.91,757.49 L228.15,758.13 L227.40,758.76 L226.65,759.37 L225.90,759.97 L225.14,760.56 L224.39,761.14 L223.64,761.71 L222.88,762.27 L222.13,762.82 L221.38,763.35 L220.63,763.88 L219.87,764.39 L219.12,764.90 L218.37,765.39 L217.61,765.87 L216.86,766.35 L216.11,766.81 L215.36,767.27 L214.60,767.71 L213.85,768.15 L213.10,768.57 L212.34,768.99 L211.59,769.40 L210.84,769.80 L210.09,770.19 L209.33,770.57 L208.58,770.94 L207.83,771.31 L207.07,771.66 L206.32,772.01 L205.57,772.35 L204.82,772.69 L204.06,773.01 L203.31,773.33 L202.56,773.64 L201.80,773.94 L201.05,774.24 L200.30,774.53 L199.55,774.81 L198.79,775.08 L198.04,775.35 L197.29,775.61 L196.53,775.87 L195.78,776.11 L195.03,776.35 L194.28,776.59 L193.52,776.82 L192.77,777.04 L192.02,777.26 L191.26,777.47 L190.51,777.67 L189.76,777.87 L189.01,778.06 L188.25,778.25 L187.50,778.43 L186.75,778.61 L185.99,778.78 L185.24,778.95 L184.49,779.12 L183.74,779.27 L182.98,779.43 L182.23,779.58 L181.48,779.73 L180.72,779.87 L179.97,780.01 L179.22,780.14 L178.47,780.27 L177.71,780.40 L176.96,780.52 L176.21,780.64 L175.45,780.76 L174.70,780.87 L173.95,780.98 L173.20,781.09 L172.44,781.19 L171.69,781.29 L170.94,781.39 L170.18,781.48 L169.43,781.57 L168.68,781.66 L167.93,781.74 L167.17,781.82 L166.42,781.90 L165.67,781.97 L164.92,782.04 L164.16,782.11 L163.41,782.18 L162.66,782.24 L161.90,782.30 L161.15,782.36 L160.40,782.41 L159.65,782.46 L158.89,782.51 L158.14,782.56 L157.39,782.60 L156.63,782.64 L155.88,782.68 L155.13,782.72 L154.38,782.75 L153.62,782.79 L152.87,782.82 L152.12,782.84 L151.36,782.87 L150.61,782.89 L149.86,782.91 L149.11,782.93 L148.35,782.95 L147.60,782.97 L146.85,782.98 L146.09,782.99 L145.34,783.00 L144.59,783.01 L143.84,783.01 L143.08,783.02 L142.33,783.02 L141.58,783.02 L140.82,783.02 L140.07,783.02 L139.32,783.02 L138.57,783.01 L137.81,783.01 L137.06,783.00 L136.31,782.99 L135.55,782.98 L134.80,782.97 L134.05,782.95 L133.30,782.94 L132.54,782.93 L131.79,782.91 L131.04,782.89 L130.28,782.88 L129.53,782.86 L128.78,782.84 L128.03,782.82 L127.27,782.79 L126.52,782.77 L125.77,782.75 L125.01,782.73 L124.26,782.70 L123.51,782.68 L122.76,782.65 L122.00,782.63 L121.25,782.60 L120.50,782.57 L119.74,782.55 L118.99,782.52 L118.24,782.49 L117.49,782.46 L116.73,782.44 L115.98,782.41 L115.23,782.38 L114.47,782.35 L113.72,782.32 L112.97,782.29 L112.22,782.27 L111.46,782.24 L110.71,782.21 L109.96,782.18 L109.20,782.15 L108.45,782.13 L107.70,782.10 L106.95,782.07 L106.19,782.05 L105.44,782.02 L104.69,782.00 L103.93,781.97 L103.18,781.95 L102.43,781.92 L101.68,781.90 L100.92,781.88 L100.17,781.86 L99.42,781.84 L98.66,781.82 L97.91,781.80 L97.16,781.78 L96.41,781.76 L95.65,781.75 L94.90,781.73 L94.15,781.72 L93.39,781.71 L92.64,781.70 L91.89,781.68 L91.14,781.68 L90.38,781.67 L89.63,781.66 L88.88,781.66 L88.13,781.65 L87.37,781.65 L86.62,781.65 L85.87,781.65 L85.11,781.66 L84.36,781.66 L83.61,781.67 L82.86,781.67 L82.10,781.68 L81.35,781.70 L80.60,781.71 L79.84,781.72 L79.09,781.74 L78.34,781.76 L77.59,781.78 L76.83,781.81 L76.08,781.83 L75.33,781.86 L74.57,781.89 L73.82,781.92 L73.07,781.96 L72.32,781.99 L71.56,782.03 L70.81,782.07 L70.06,782.12 L69.30,782.17 L68.55,782.22 L67.80,782.27 L67.05,782.32 L66.29,782.38 L65.54,782.44 L64.79,782.50 L64.03,782.57 L63.28,782.64 L62.53,782.71 L61.78,782.78 L61.02,782.86 L60.27,782.94 L59.52,783.02 L58.76,783.11 L58.01,783.20 L57.26,783.29 L56.51,783.39 L55.75,783.49 L55.00,783.59 Z" fill="#7da2cf" fill-opacity="0.15" stroke="none"/>
<path d="M55.00,777.00 L55.75,776.83 L56.50,776.67 L57.26,776.51 L58.01,776.35 L58.76,776.20 L59.51,776.05 L60.26,775.90 L61.01,775.76 L61.77,775.62 L62.52,775.49 L63.27,775.36 L64.02,775.23 L64.77,775.10 L65.53,774.98 L66.28,774.86 L67.03,774.75 L67.78,774.64 L68.53,774.53 L69.28,774.42 L70.04,774.32 L70.79,774.22 L71.54,774.12 L72.29,774.03 L73.04,773.94 L73.80,773.85 L74.55,773.76 L75.30,773.68 L76.05,773.60 L76.80,773.52 L77.56,773.45 L78.31,773.37 L79.06,773.30 L79.81,773.24 L80.56,773.17 L81.31,773.11 L82.07,773.04 L82.82,772.99 L83.57,772.93 L84.32,772.87 L85.07,772.82 L85.83,772.77 L86.58,772.72 L87.33,772.67 L88.08,772.63 L88.83,772.59 L89.58,772.54 L90.34,772.50 L91.09,772.47 L91.84,772.43 L92.59,772.39 L93.34,772.36 L94.10,772.33 L94.85,772.30 L95.60,772.27 L96.35,772.24 L97.10,772.21 L97.85,772.19 L98.61,772.16 L99.36,772.14 L100.11,772.12 L100.86,772.10 L101.61,772.08 L102.37,772.06 L103.12,772.04 L103.87,772.02 L104.62,772.00 L105.37,771.99 L106.13,771.97 L106.88,771.96 L107.63,771.94 L108.38,771.93 L109.13,771.92 L109.88,771.90 L110.64,771.89 L111.39,771.88 L112.14,771.87 L112.89,771.85 L113.64,771.84 L114.40,771.83 L115.15,771.82 L115.90,771.81 L116.65,771.80 L117.40,771.78 L118.15,771.77 L118.91,771.76 L119.66,771.75 L120.41,771.74 L121.16,771.72 L121.91,771.71 L122.67,771.70 L123.42,771.68 L124.17,771.67 L124.92,771.66 L125.67,771.64 L126.42,771.62 L127.18,771.61 L127.93,771.59 L128.68,771.57 L129.43,771.55 L130.18,771.53 L130.94,771.51 L131.69,771.49 L132.44,771.47 L133.19,771.44 L133.94,771.42 L134.69,771.39 L135.45,771.36 L136.20,771.33 L136.95,771.30 L137.70,771.27 L138.45,771.24 L139.21,771.20 L139.96,771.17 L140.71,771.13 L141.46,771.09 L142.21,771.05 L142.97,771.01 L143.72,770.96 L144.47,770.92 L145.22,770.87 L145.97,770.82 L146.72,770.77 L147.48,770.71 L148.23,770.66 L148.98,770.60 L149.73,770.54 L150.48,770.47 L151.24,770.41 L151.99,770.34 L152.74,770.27 L153.49,770.20 L154.24,770.13 L154.99,770.05 L155.75,769.97 L156.50,769.89 L157.25,769.80 L158.00,769.71 L158.75,769.62 L159.51,769.53 L160.26,769.44 L161.01,769.34 L161.76,769.23 L162.51,769.13 L163.26,769.02 L164.02,768.91 L164.77,768.80 L165.52,768.68 L166.27,768.56 L167.02,768.44 L167.78,768.31 L168.53,768.18 L169.28,768.04 L170.03,767.91 L170.78,767.77 L171.54,767.62 L172.29,767.47 L173.04,767.32 L173.79,767.16 L174.54,767.00 L175.29,766.84 L176.05,766.67 L176.80,766.50 L177.55,766.32 L178.30,766.14 L179.05,765.95 L179.81,765.76 L180.56,765.57 L181.31,765.37 L182.06,765.16 L182.81,764.95 L183.56,764.73 L184.32,764.51 L185.07,764.28 L185.82,764.05 L186.57,763.81 L187.32,763.57 L188.08,763.32 L188.83,763.06 L189.58,762.80 L190.33,762.53 L191.08,762.26 L191.83,761.98 L192.59,761.69 L193.34,761.40 L194.09,761.10 L194.84,760.79 L195.59,760.48 L196.35,760.16 L197.10,759.83 L197.85,759.49 L198.60,759.15 L199.35,758.80 L200.11,758.44 L200.86,758.08 L201.61,757.70 L202.36,757.32 L203.11,756.93 L203.86,756.53 L204.62,756.12 L205.37,755.71 L206.12,755.28 L206.87,754.84 L207.62,754.40 L208.38,753.95 L209.13,753.48 L209.88,753.01 L210.63,752.53 L211.38,752.04 L212.13,751.54 L212.89,751.02 L213.64,750.50 L214.39,749.97 L215.14,749.43 L215.89,748.88 L216.65,748.32 L217.40,747.74 L218.15,747.16 L218.90,746.56 L219.65,745.96 L220.40,745.34 L221.16,744.72 L221.91,744.08 L222.66,743.43 L223.41,742.77 L224.16,742.10 L224.92,741.41 L225.67,740.72 L226.42,740.01 L227.17,739.29 L227.92,738.56 L228.67,737.82 L229.43,737.06 L230.18,736.30 L230.93,735.52 L231.68,734.73 L232.43,733.92 L233.19,733.10 L233.94,732.27 L234.69,731.43 L235.44,730.58 L236.19,729.71 L236.95,728.83 L237.70,727.93 L238.45,727.02 L239.20,726.10 L239.95,725.17 L240.70,724.22 L241.46,723.25 L242.21,722.28 L242.96,721.29 L243.71,720.28 L244.46,719.26 L245.22,718.23 L245.97,717.18 L246.72,716.12 L247.47,715.04 L248.22,713.95 L248.97,712.85 L249.73,711.73 L250.48,710.59 L251.23,709.44 L251.98,708.27 L252.73,707.09 L253.49,705.89 L254.24,704.68 L254.99,703.45 L255.74,702.21 L256.49,700.95 L257.24,699.67 L258.00,698.38 L258.75,697.08 L259.50,695.75 L260.25,694.41 L261.00,693.06 L261.76,691.68 L262.51,690.29 L263.26,688.89 L264.01,687.46 L264.76,686.02 L265.52,684.57 L266.27,683.09 L267.02,681.60 L267.77,680.09 L268.52,678.57 L269.27,677.02 L270.03,675.46 L270.78,673.88 L271.53,672.28 L272.28,670.67 L273.03,669.04 L273.79,667.39 L274.54,665.72 L275.29,664.03 L276.04,662.32 L276.79,660.60 L277.54,658.85 L278.30,657.09 L279.05,655.31 L279.80,653.51 L279.80,665.51 L279.05,667.17 L278.30,668.81 L277.54,670.43 L276.79,672.04 L276.04,673.62 L275.29,675.19 L274.54,676.75 L273.79,678.28 L273.03,679.80 L272.28,681.31 L271.53,682.79 L270.78,684.26 L270.03,685.71 L269.27,687.15 L268.52,688.57 L267.77,689.97 L267.02,691.36 L266.27,692.73 L265.52,694.09 L264.76,695.43 L264.01,696.75 L263.26,698.06 L262.51,699.36 L261.76,700.63 L261.00,701.90 L260.25,703.14 L259.50,704.38 L258.75,705.60 L258.00,706.80 L257.24,707.99 L256.49,709.16 L255.74,710.32 L254.99,711.46 L254.24,712.59 L253.49,713.71 L252.73,714.81 L251.98,715.90 L251.23,716.97 L250.48,718.03 L249.73,719.08 L248.97,720.11 L248.22,721.13 L247.47,722.13 L246.72,723.13 L245.97,724.10 L245.22,725.07 L244.46,726.02 L243.71,726.96 L242.96,727.89 L242.21,728.80 L241.46,729.71 L240.70,730.59 L239.95,731.47 L239.20,732.34 L238.45,733.19 L237.70,734.03 L236.95,734.86 L236.19,735.67 L235.44,736.48 L234.69,737.27 L233.94,738.05 L233.19,738.82 L232.43,739.58 L231.68,740.32 L230.93,741.06 L230.18,741.78 L229.43,742.50 L228.67,743.20 L227.92,743.89 L227.17,744.57 L226.42,745.24 L225.67,745.90 L224.92,746.55 L224.16,747.19 L223.41,747.82 L222.66,748.44 L221.91,749.05 L221.16,749.65 L220.40,750.24 L219.65,750.82 L218.90,751.39 L218.15,751.95 L217.40,752.50 L216.65,753.05 L215.89,753.58 L215.14,754.10 L214.39,754.62 L213.64,755.12 L212.89,755.62 L212.13,756.11 L211.38,756.59 L210.63,757.06 L209.88,757.53 L209.13,757.98 L208.38,758.43 L207.62,758.87 L206.87,759.30 L206.12,759.72 L205.37,760.14 L204.62,760.55 L203.86,760.95 L203.11,761.34 L202.36,761.73 L201.61,762.11 L200.86,762.48 L200.11,762.84 L199.35,763.20 L198.60,763.55 L197.85,763.89 L197.10,764.23 L196.35,764.56 L195.59,764.88 L194.84,765.19 L194.09,765.50 L193.34,765.80 L192.59,766.09 L191.83,766.38 L191.08,766.66 L190.33,766.93 L189.58,767.20 L188.83,767.46 L188.08,767.72 L187.32,767.97 L186.57,768.21 L185.82,768.45 L185.07,768.68 L184.32,768.91 L183.56,769.13 L182.81,769.35 L182.06,769.56 L181.31,769.77 L180.56,769.97 L179.81,770.16 L179.05,770.35 L178.30,770.54 L177.55,770.72 L176.80,770.90 L176.05,771.07 L175.29,771.24 L174.54,771.40 L173.79,771.56 L173.04,771.72 L172.29,771.87 L171.54,772.02 L170.78,772.17 L170.03,772.31 L169.28,772.44 L168.53,772.58 L167.78,772.71 L167.02,772.84 L166.27,772.96 L165.52,773.08 L164.77,773.20 L164.02,773.31 L163.26,773.42 L162.51,773.53 L161.76,773.63 L161.01,773.74 L160.26,773.84 L159.51,773.93 L158.75,774.02 L158.00,774.11 L157.25,774.20 L156.50,774.29 L155.75,774.37 L154.99,774.45 L154.24,774.53 L153.49,774.60 L152.74,774.67 L151.99,774.74 L151.24,774.81 L150.48,774.87 L149.73,774.94 L148.98,775.00 L148.23,775.06 L147.48,775.11 L146.72,775.17 L145.97,775.22 L145.22,775.27 L144.47,775.32 L143.72,775.36 L142.97,775.41 L142.21,775.45 L141.46,775.49 L140.71,775.53 L139.96,775.57 L139.21,775.60 L138.45,775.64 L137.70,775.67 L136.95,775.70 L136.20,775.73 L135.45,775.76 L134.69,775.79 L133.94,775.82 L133.19,775.84 L132.44,775.87 L131.69,775.89 L130.94,775.91 L130.18,775.93 L129.43,775.95 L128.68,775.97 L127.93,775.99 L127.18,776.01 L126.42,776.02 L125.67,776.04 L124.92,776.06 L124.17,776.07 L123.42,776.08 L122.67,776.10 L121.91,776.11 L121.16,776.12 L120.41,776.14 L119.66,776.15 L118.91,776.16 L118.15,776.17 L117.40,776.18 L116.65,776.20 L115.90,776.21 L115.15,776.22 L114.40,776.23 L113.64,776.24 L112.89,776.25 L112.14,776.27 L111.39,776.28 L110.64,776.29 L109.88,776.30 L109.13,776.32 L108.38,776.33 L107.63,776.34 L106.88,776.36 L106.13,776.37 L105.37,776.39 L104.62,776.40 L103.87,776.42 L103.12,776.44 L102.37,776.46 L101.61,776.48 L100.86,776.50 L100.11,776.52 L99.36,776.54 L98.61,776.56 L97.85,776.59 L97.10,776.61 L96.35,776.64 L95.60,776.67 L94.85,776.70 L94.10,776.73 L93.34,776.76 L92.59,776.79 L91.84,776.83 L91.09,776.87 L90.34,776.90 L89.58,776.94 L88.83,776.99 L88.08,777.03 L87.33,777.07 L86.58,777.12 L85.83,777.17 L85.07,777.22 L84.32,777.27 L83.57,777.33 L82.82,777.39 L82.07,777.44 L81.31,777.51 L80.56,777.57 L79.81,777.64 L79.06,777.70 L78.31,777.77 L77.56,777.85 L76.80,777.92 L76.05,778.00 L75.30,778.08 L74.55,778.16 L73.80,778.25 L73.04,778.34 L72.29,778.43 L71.54,778.52 L70.79,778.62 L70.04,778.72 L69.28,778.82 L68.53,778.93 L67.78,779.04 L67.03,779.15 L66.28,779.26 L65.53,779.38 L64.77,779.50 L64.02,779.63 L63.27,779.76 L62.52,779.89 L61.77,780.02 L61.01,780.16 L60.26,780.30 L59.51,780.45 L58.76,780.60 L58.01,780.75 L57.26,780.91 L56.50,781.07 L55.75,781.23 L55.00,781.40 Z" fill="#eccf6c" fill-opacity="0.15" stroke="none"/>
<path d="M55.00,766.29 L55.75,766.14 L56.51,765.98 L57.26,765.83 L58.01,765.68 L58.76,765.54 L59.52,765.39 L60.27,765.25 L61.02,765.10 L61.78,764.96 L62.53,764.82 L63.28,764.69 L64.03,764.55 L64.79,764.42 L65.54,764.29 L66.29,764.16 L67.05,764.03 L67.80,763.90 L68.55,763.77 L69.30,763.65 L70.06,763.53 L70.81,763.41 L71.56,763.29 L72.32,763.17 L73.07,763.05 L73.82,762.93 L74.57,762.82 L75.33,762.71 L76.08,762.59 L76.83,762.48 L77.59,762.37 L78.34,762.26 L79.09,762.16 L79.84,762.05 L80.60,761.95 L81.35,761.84 L82.10,761.74 L82.86,761.64 L83.61,761.54 L84.36,761.44 L85.11,761.34 L85.87,761.24 L86.62,761.15 L87.37,761.05 L88.13,760.96 L88.88,760.87 L89.63,760.77 L90.38,760.68 L91.14,760.59 L91.89,760.50 L92.64,760.41 L93.39,760.32 L94.15,760.23 L94.90,760.15 L95.65,760.06 L96.41,759.97 L97.16,759.89 L97.91,759.81 L98.66,759.72 L99.42,759.64 L100.17,759.56 L100.92,759.47 L101.68,759.39 L102.43,759.31 L103.18,759.23 L103.93,759.15 L104.69,759.07 L105.44,758.99 L106.19,758.91 L106.95,758.84 L107.70,758.76 L108.45,758.68 L109.20,758.60 L109.96,758.52 L110.71,758.45 L111.46,758.37 L112.22,758.29 L112.97,758.22 L113.72,758.14 L114.47,758.07 L115.23,757.99 L115.98,757.92 L116.73,757.84 L117.49,757.76 L118.24,757.69 L118.99,757.61 L119.74,757.54 L120.50,757.46 L121.25,757.39 L122.00,757.31 L122.76,757.23 L123.51,757.16 L124.26,757.08 L125.01,757.01 L125.77,756.93 L126.52,756.85 L127.27,756.78 L128.03,756.70 L128.78,756.62 L129.53,756.54 L130.28,756.47 L131.04,756.39 L131.79,756.31 L132.54,756.23 L133.30,756.15 L134.05,756.07 L134.80,755.99 L135.55,755.91 L136.31,755.83 L137.06,755.75 L137.81,755.66 L138.57,755.58 L139.32,755.50 L140.07,755.41 L140.82,755.33 L141.58,755.24 L142.33,755.16 L143.08,755.07 L143.84,754.98 L144.59,754.89 L145.34,754.80 L146.09,754.71 L146.85,754.62 L147.60,754.53 L148.35,754.44 L149.11,754.35 L149.86,754.25 L150.61,754.16 L151.36,754.06 L152.12,753.96 L152.87,753.87 L153.62,753.77 L154.38,753.67 L155.13,753.57 L155.88,753.46 L156.63,753.36 L157.39,753.26 L158.14,753.15 L158.89,753.04 L159.65,752.93 L160.40,752.83 L161.15,752.71 L161.90,752.60 L162.66,752.49 L163.41,752.38 L164.16,752.26 L164.92,752.14 L165.67,752.02 L166.42,751.90 L167.17,751.78 L167.93,751.66 L168.68,751.54 L169.43,751.41 L170.18,751.28 L170.94,751.16 L171.69,751.03 L172.44,750.89 L173.20,750.76 L173.95,750.62 L174.70,750.48 L175.45,750.34 L176.21,750.20 L176.96,750.05 L177.71,749.90 L178.47,749.74 L179.22,749.59 L179.97,749.43 L180.72,749.26 L181.48,749.09 L182.23,748.92 L182.98,748.74 L183.74,748.55 L184.49,748.37 L185.24,748.17 L185.99,747.97 L186.75,747.77 L187.50,747.56 L188.25,747.34 L189.01,747.12 L189.76,746.89 L190.51,746.66 L191.26,746.42 L192.02,746.17 L192.77,745.91 L193.52,745.65 L194.28,745.38 L195.03,745.10 L195.78,744.81 L196.53,744.52 L197.29,744.22 L198.04,743.91 L198.79,743.59 L199.55,743.26 L200.30,742.92 L201.05,742.58 L201.80,742.22 L202.56,741.85 L203.31,741.46 L204.06,741.07 L204.82,740.66 L205.57,740.25 L206.32,739.81 L207.07,739.37 L207.83,738.92 L208.58,738.45 L209.33,737.97 L210.09,737.47 L210.84,736.96 L211.59,736.44 L212.34,735.90 L213.10,735.35 L213.85,734.79 L214.60,734.21 L215.36,733.62 L216.11,733.01 L216.86,732.38 L217.61,731.74 L218.37,731.09 L219.12,730.42 L219.87,729.73 L220.63,729.03 L221.38,728.31 L222.13,727.58 L222.88,726.83 L223.64,726.06 L224.39,725.27 L225.14,724.47 L225.90,723.65 L226.65,722.81 L227.40,721.96 L228.15,721.09 L228.91,720.20 L229.66,719.29 L230.41,718.36 L231.17,717.41 L231.92,716.45 L232.67,715.46 L233.42,714.46 L234.18,713.43 L234.93,712.39 L235.68,711.33 L236.44,710.24 L237.19,709.14 L237.94,708.01 L238.69,706.87 L239.45,705.69 L240.20,704.50 L240.95,703.27 L241.71,702.02 L242.46,700.74 L243.21,699.44 L243.96,698.10 L244.72,696.73 L245.47,695.33 L246.22,693.90 L246.97,692.43 L247.73,690.92 L248.48,689.39 L249.23,687.81 L249.99,686.19 L250.74,684.54 L251.49,682.85 L252.24,681.11 L253.00,679.33 L253.75,677.51 L254.50,675.64 L255.26,673.73 L256.01,671.78 L256.76,669.77 L257.51,667.72 L258.27,665.61 L259.02,663.46 L259.77,661.25 L260.53,658.99 L261.28,656.68 L262.03,654.31 L262.78,651.89 L263.54,649.43 L264.29,646.93 L265.04,644.40 L265.80,641.84 L266.55,639.26 L267.30,636.67 L268.05,634.08 L268.81,631.48 L269.56,628.90 L270.31,626.33 L271.07,623.78 L271.82,621.25 L272.57,618.77 L273.32,616.32 L274.08,613.92 L274.83,611.57 L275.58,609.28 L276.34,607.06 L277.09,604.92 L277.84,602.85 L278.59,600.87 L279.35,598.98 L280.10,597.20 L280.10,623.20 L279.35,624.60 L278.59,626.11 L277.84,627.72 L277.09,629.41 L276.34,631.19 L275.58,633.05 L274.83,634.97 L274.08,636.96 L273.32,639.01 L272.57,641.11 L271.82,643.25 L271.07,645.44 L270.31,647.65 L269.56,649.88 L268.81,652.14 L268.05,654.40 L267.30,656.67 L266.55,658.94 L265.80,661.20 L265.04,663.45 L264.29,665.67 L263.54,667.87 L262.78,670.03 L262.03,672.15 L261.28,674.22 L260.53,676.24 L259.77,678.21 L259.02,680.13 L258.27,682.01 L257.51,683.83 L256.76,685.61 L256.01,687.35 L255.26,689.04 L254.50,690.69 L253.75,692.30 L253.00,693.86 L252.24,695.39 L251.49,696.88 L250.74,698.33 L249.99,699.74 L249.23,701.12 L248.48,702.46 L247.73,703.77 L246.97,705.04 L246.22,706.29 L245.47,707.50 L244.72,708.69 L243.96,709.84 L243.21,710.97 L242.46,712.07 L241.71,713.15 L240.95,714.20 L240.20,715.23 L239.45,716.24 L238.69,717.23 L237.94,718.19 L237.19,719.14 L236.44,720.06 L235.68,720.98 L234.93,721.87 L234.18,722.75 L233.42,723.61 L232.67,724.46 L231.92,725.29 L231.17,726.10 L230.41,726.90 L229.66,727.68 L228.91,728.45 L228.15,729.21 L227.40,729.95 L226.65,730.67 L225.90,731.38 L225.14,732.08 L224.39,732.77 L223.64,733.44 L222.88,734.09 L222.13,734.74 L221.38,735.37 L220.63,735.98 L219.87,736.59 L219.12,737.18 L218.37,737.76 L217.61,738.33 L216.86,738.89 L216.11,739.43 L215.36,739.97 L214.60,740.49 L213.85,741.00 L213.10,741.50 L212.34,741.99 L211.59,742.47 L210.84,742.94 L210.09,743.39 L209.33,743.84 L208.58,744.28 L207.83,744.71 L207.07,745.13 L206.32,745.54 L205.57,745.94 L204.82,746.34 L204.06,746.72 L203.31,747.10 L202.56,747.47 L201.80,747.83 L201.05,748.18 L200.30,748.52 L199.55,748.86 L198.79,749.19 L198.04,749.51 L197.29,749.82 L196.53,750.12 L195.78,750.41 L195.03,750.70 L194.28,750.98 L193.52,751.25 L192.77,751.51 L192.02,751.77 L191.26,752.02 L190.51,752.26 L189.76,752.49 L189.01,752.72 L188.25,752.94 L187.50,753.16 L186.75,753.37 L185.99,753.57 L185.24,753.77 L184.49,753.97 L183.74,754.15 L182.98,754.34 L182.23,754.52 L181.48,754.69 L180.72,754.86 L179.97,755.03 L179.22,755.19 L178.47,755.34 L177.71,755.50 L176.96,755.65 L176.21,755.80 L175.45,755.94 L174.70,756.08 L173.95,756.22 L173.20,756.36 L172.44,756.49 L171.69,756.63 L170.94,756.76 L170.18,756.88 L169.43,757.01 L168.68,757.14 L167.93,757.26 L167.17,757.38 L166.42,757.50 L165.67,757.62 L164.92,757.74 L164.16,757.86 L163.41,757.98 L162.66,758.09 L161.90,758.20 L161.15,758.31 L160.40,758.43 L159.65,758.53 L158.89,758.64 L158.14,758.75 L157.39,758.86 L156.63,758.96 L155.88,759.06 L155.13,759.17 L154.38,759.27 L153.62,759.37 L152.87,759.47 L152.12,759.56 L151.36,759.66 L150.61,759.76 L149.86,759.85 L149.11,759.95 L148.35,760.04 L147.60,760.13 L146.85,760.22 L146.09,760.31 L145.34,760.40 L144.59,760.49 L143.84,760.58 L143.08,760.67 L142.33,760.76 L141.58,760.84 L140.82,760.93 L140.07,761.01 L139.32,761.10 L138.57,761.18 L137.81,761.26 L137.06,761.35 L136.31,761.43 L135.55,761.51 L134.80,761.59 L134.05,761.67 L133.30,761.75 L132.54,761.83 L131.79,761.91 L131.04,761.99 L130.28,762.07 L129.53,762.14 L128.78,762.22 L128.03,762.30 L127.27,762.38 L126.52,762.45 L125.77,762.53 L125.01,762.61 L124.26,762.68 L123.51,762.76 L122.76,762.83 L122.00,762.91 L121.25,762.99 L120.50,763.06 L119.74,763.14 L118.99,763.21 L118.24,763.29 L117.49,763.36 L116.73,763.44 L115.98,763.52 L115.23,763.59 L114.47,763.67 L113.72,763.74 L112.97,763.82 L112.22,763.89 L111.46,763.97 L110.71,764.05 L109.96,764.12 L109.20,764.20 L108.45,764.28 L107.70,764.36 L106.95,764.44 L106.19,764.51 L105.44,764.59 L104.69,764.67 L103.93,764.75 L103.18,764.83 L102.43,764.91 L101.68,764.99 L100.92,765.07 L100.17,765.16 L99.42,765.24 L98.66,765.32 L97.91,765.41 L97.16,765.49 L96.41,765.57 L95.65,765.66 L94.90,765.75 L94.15,765.83 L93.39,765.92 L92.64,766.01 L91.89,766.10 L91.14,766.19 L90.38,766.28 L89.63,766.37 L88.88,766.47 L88.13,766.56 L87.37,766.65 L86.62,766.75 L85.87,766.84 L85.11,766.94 L84.36,767.04 L83.61,767.14 L82.86,767.24 L82.10,767.34 L81.35,767.44 L80.60,767.55 L79.84,767.65 L79.09,767.76 L78.34,767.86 L77.59,767.97 L76.83,768.08 L76.08,768.19 L75.33,768.31 L74.57,768.42 L73.82,768.53 L73.07,768.65 L72.32,768.77 L71.56,768.89 L70.81,769.01 L70.06,769.13 L69.30,769.25 L68.55,769.37 L67.80,769.50 L67.05,769.63 L66.29,769.76 L65.54,769.89 L64.79,770.02 L64.03,770.15 L63.28,770.29 L62.53,770.42 L61.78,770.56 L61.02,770.70 L60.27,770.85 L59.52,770.99 L58.76,771.14 L58.01,771.28 L57.26,771.43 L56.51,771.58 L55.75,771.74 L55.00,771.89 Z" fill="#c24d4e" fill-opacity="0.15" stroke="none"/>
<line x1="43.70" y1="791.60" x2="293.00" y2="791.60" stroke="#808080" stroke-width="1.9" stroke-dasharray="8.75 8.71"/>
<path d="M55.00,785.76 L55.75,785.74 L56.50,785.73 L57.26,785.71 L58.01,785.70 L58.76,785.68 L59.51,785.67 L60.26,785.66 L61.01,785.64 L61.77,785.63 L62.52,785.62 L63.27,785.61 L64.02,785.60 L64.77,785.59 L65.53,785.59 L66.28,785.58 L67.03,785.57 L67.78,785.57 L68.53,785.56 L69.28,785.56 L70.04,785.55 L70.79,785.55 L71.54,785.55 L72.29,785.55 L73.04,785.55 L73.80,785.55 L74.55,785.55 L75.30,785.55 L76.05,785.55 L76.80,785.55 L77.56,785.55 L78.31,785.56 L79.06,785.56 L79.81,785.56 L80.56,785.57 L81.31,785.57 L82.07,785.58 L82.82,785.59 L83.57,785.59 L84.32,785.60 L85.07,785.61 L85.83,785.62 L86.58,785.63 L87.33,785.63 L88.08,785.64 L88.83,785.65 L89.58,785.67 L90.34,785.68 L91.09,785.69 L91.84,785.70 L92.59,785.71 L93.34,785.72 L94.10,785.74 L94.85,785.75 L95.60,785.76 L96.35,785.78 L97.10,785.79 L97.85,785.81 L98.61,785.82 L99.36,785.84 L100.11,785.85 L100.86,785.87 L101.61,785.89 L102.37,785.90 L103.12,785.92 L103.87,785.94 L104.62,785.95 L105.37,785.97 L106.13,785.99 L106.88,786.01 L107.63,786.03 L108.38,786.04 L109.13,786.06 L109.88,786.08 L110.64,786.10 L111.39,786.12 L112.14,786.14 L112.89,786.16 L113.64,786.18 L114.40,786.20 L115.15,786.22 L115.90,786.24 L116.65,786.26 L117.40,786.28 L118.15,786.30 L118.91,786.32 L119.66,786.34 L120.41,786.36 L121.16,786.38 L121.91,786.40 L122.67,786.42 L123.42,786.45 L124.17,786.47 L124.92,786.49 L125.67,786.51 L126.42,786.53 L127.18,786.55 L127.93,786.57 L128.68,786.59 L129.43,786.61 L130.18,786.63 L130.94,786.65 L131.69,786.67 L132.44,786.70 L133.19,786.72 L133.94,786.74 L134.69,786.76 L135.45,786.78 L136.20,786.80 L136.95,786.82 L137.70,786.84 L138.45,786.86 L139.21,786.88 L139.96,786.89 L140.71,786.91 L141.46,786.93 L142.21,786.95 L142.97,786.97 L143.72,786.99 L144.47,787.01 L145.22,787.02 L145.97,787.04 L146.72,787.06 L147.48,787.08 L148.23,787.09 L148.98,787.11 L149.73,787.13 L150.48,787.14 L151.24,787.16 L151.99,787.17 L152.74,787.19 L153.49,787.20 L154.24,787.22 L154.99,787.23 L155.75,787.25 L156.50,787.26 L157.25,787.27 L158.00,787.28 L158.75,787.30 L159.51,787.31 L160.26,787.32 L161.01,787.33 L161.76,787.34 L162.51,787.35 L163.26,787.36 L164.02,787.37 L164.77,787.38 L165.52,787.39 L166.27,787.40 L167.02,787.40 L167.78,787.41 L168.53,787.42 L169.28,787.42 L170.03,787.43 L170.78,787.43 L171.54,787.44 L172.29,787.44 L173.04,787.44 L173.79,787.45 L174.54,787.45 L175.29,787.45 L176.05,787.45 L176.80,787.45 L177.55,787.45 L178.30,787.45 L179.05,787.45 L179.81,787.45 L180.56,787.44 L181.31,787.44 L182.06,787.43 L182.81,787.43 L183.56,787.42 L184.32,787.41 L185.07,787.40 L185.82,787.39 L186.57,787.38 L187.32,787.36 L188.08,787.35 L188.83,787.33 L189.58,787.30 L190.33,787.28 L191.08,787.25 L191.83,787.22 L192.59,787.18 L193.34,787.14 L194.09,787.10 L194.84,787.05 L195.59,787.00 L196.35,786.95 L197.10,786.89 L197.85,786.82 L198.60,786.75 L199.35,786.68 L200.11,786.60 L200.86,786.51 L201.61,786.42 L202.36,786.33 L203.11,786.22 L203.86,786.11 L204.62,786.00 L205.37,785.88 L206.12,785.75 L206.87,785.61 L207.62,785.47 L208.38,785.32 L209.13,785.16 L209.88,785.00 L210.63,784.82 L211.38,784.64 L212.13,784.45 L212.89,784.26 L213.64,784.05 L214.39,783.83 L215.14,783.61 L215.89,783.38 L216.65,783.13 L217.40,782.88 L218.15,782.62 L218.90,782.35 L219.65,782.06 L220.40,781.77 L221.16,781.47 L221.91,781.15 L222.66,780.83 L223.41,780.49 L224.16,780.15 L224.92,779.79 L225.67,779.42 L226.42,779.04 L227.17,778.65 L227.92,778.24 L228.67,777.82 L229.43,777.39 L230.18,776.95 L230.93,776.49 L231.68,776.02 L232.43,775.54 L233.19,775.05 L233.94,774.54 L234.69,774.01 L235.44,773.48 L236.19,772.92 L236.95,772.36 L237.70,771.78 L238.45,771.18 L239.20,770.57 L239.95,769.95 L240.70,769.31 L241.46,768.65 L242.21,767.98 L242.96,767.30 L243.71,766.60 L244.46,765.89 L245.22,765.16 L245.97,764.42 L246.72,763.66 L247.47,762.89 L248.22,762.11 L248.97,761.31 L249.73,760.50 L250.48,759.67 L251.23,758.83 L251.98,757.98 L252.73,757.11 L253.49,756.23 L254.24,755.33 L254.99,754.43 L255.74,753.50 L256.49,752.57 L257.24,751.62 L258.00,750.66 L258.75,749.68 L259.50,748.70 L260.25,747.70 L261.00,746.68 L261.76,745.66 L262.51,744.62 L263.26,743.56 L264.01,742.50 L264.76,741.42 L265.52,740.33 L266.27,739.23 L267.02,738.12 L267.77,736.99 L268.52,735.85 L269.27,734.70 L270.03,733.54 L270.78,732.37 L271.53,731.18 L272.28,729.98 L273.03,728.77 L273.79,727.55 L274.54,726.32 L275.29,725.07 L276.04,723.82 L276.79,722.55 L277.54,721.27 L278.30,719.98 L279.05,718.68 L279.80,717.37" fill="none" stroke="#0c365a" stroke-width="1.80" stroke-linecap="butt" stroke-linejoin="round"/>
<path d="M55.00,781.39 L55.75,781.29 L56.51,781.19 L57.26,781.09 L58.01,781.00 L58.76,780.91 L59.52,780.82 L60.27,780.74 L61.02,780.66 L61.78,780.58 L62.53,780.51 L63.28,780.44 L64.03,780.37 L64.79,780.30 L65.54,780.24 L66.29,780.18 L67.05,780.12 L67.80,780.07 L68.55,780.02 L69.30,779.97 L70.06,779.92 L70.81,779.87 L71.56,779.83 L72.32,779.79 L73.07,779.76 L73.82,779.72 L74.57,779.69 L75.33,779.66 L76.08,779.63 L76.83,779.61 L77.59,779.58 L78.34,779.56 L79.09,779.54 L79.84,779.52 L80.60,779.51 L81.35,779.50 L82.10,779.48 L82.86,779.47 L83.61,779.47 L84.36,779.46 L85.11,779.46 L85.87,779.45 L86.62,779.45 L87.37,779.45 L88.13,779.45 L88.88,779.46 L89.63,779.46 L90.38,779.47 L91.14,779.48 L91.89,779.48 L92.64,779.50 L93.39,779.51 L94.15,779.52 L94.90,779.53 L95.65,779.55 L96.41,779.56 L97.16,779.58 L97.91,779.60 L98.66,779.62 L99.42,779.64 L100.17,779.66 L100.92,779.68 L101.68,779.70 L102.43,779.72 L103.18,779.75 L103.93,779.77 L104.69,779.80 L105.44,779.82 L106.19,779.85 L106.95,779.87 L107.70,779.90 L108.45,779.93 L109.20,779.95 L109.96,779.98 L110.71,780.01 L111.46,780.04 L112.22,780.07 L112.97,780.09 L113.72,780.12 L114.47,780.15 L115.23,780.18 L115.98,780.21 L116.73,780.24 L117.49,780.26 L118.24,780.29 L118.99,780.32 L119.74,780.35 L120.50,780.37 L121.25,780.40 L122.00,780.43 L122.76,780.45 L123.51,780.48 L124.26,780.50 L125.01,780.53 L125.77,780.55 L126.52,780.57 L127.27,780.59 L128.03,780.62 L128.78,780.64 L129.53,780.66 L130.28,780.68 L131.04,780.69 L131.79,780.71 L132.54,780.73 L133.30,780.74 L134.05,780.75 L134.80,780.77 L135.55,780.78 L136.31,780.79 L137.06,780.80 L137.81,780.81 L138.57,780.81 L139.32,780.82 L140.07,780.82 L140.82,780.82 L141.58,780.82 L142.33,780.82 L143.08,780.82 L143.84,780.81 L144.59,780.81 L145.34,780.80 L146.09,780.79 L146.85,780.78 L147.60,780.77 L148.35,780.75 L149.11,780.73 L149.86,780.71 L150.61,780.69 L151.36,780.67 L152.12,780.64 L152.87,780.62 L153.62,780.59 L154.38,780.55 L155.13,780.52 L155.88,780.48 L156.63,780.44 L157.39,780.40 L158.14,780.36 L158.89,780.31 L159.65,780.26 L160.40,780.21 L161.15,780.16 L161.90,780.10 L162.66,780.04 L163.41,779.98 L164.16,779.91 L164.92,779.84 L165.67,779.77 L166.42,779.70 L167.17,779.62 L167.93,779.54 L168.68,779.46 L169.43,779.37 L170.18,779.28 L170.94,779.19 L171.69,779.09 L172.44,778.99 L173.20,778.89 L173.95,778.78 L174.70,778.67 L175.45,778.56 L176.21,778.44 L176.96,778.32 L177.71,778.20 L178.47,778.07 L179.22,777.94 L179.97,777.81 L180.72,777.67 L181.48,777.53 L182.23,777.38 L182.98,777.23 L183.74,777.07 L184.49,776.92 L185.24,776.75 L185.99,776.58 L186.75,776.41 L187.50,776.23 L188.25,776.05 L189.01,775.86 L189.76,775.67 L190.51,775.47 L191.26,775.27 L192.02,775.06 L192.77,774.84 L193.52,774.62 L194.28,774.39 L195.03,774.15 L195.78,773.91 L196.53,773.67 L197.29,773.41 L198.04,773.15 L198.79,772.88 L199.55,772.61 L200.30,772.33 L201.05,772.04 L201.80,771.74 L202.56,771.44 L203.31,771.12 L204.06,770.80 L204.82,770.48 L205.57,770.14 L206.32,769.80 L207.07,769.44 L207.83,769.08 L208.58,768.71 L209.33,768.33 L210.09,767.94 L210.84,767.55 L211.59,767.14 L212.34,766.72 L213.10,766.30 L213.85,765.86 L214.60,765.42 L215.36,764.96 L216.11,764.50 L216.86,764.02 L217.61,763.54 L218.37,763.04 L219.12,762.54 L219.87,762.02 L220.63,761.49 L221.38,760.95 L222.13,760.40 L222.88,759.84 L223.64,759.27 L224.39,758.68 L225.14,758.09 L225.90,757.48 L226.65,756.86 L227.40,756.23 L228.15,755.58 L228.91,754.93 L229.66,754.26 L230.41,753.58 L231.17,752.88 L231.92,752.18 L232.67,751.46 L233.42,750.72 L234.18,749.98 L234.93,749.21 L235.68,748.44 L236.44,747.65 L237.19,746.85 L237.94,746.04 L238.69,745.21 L239.45,744.36 L240.20,743.51 L240.95,742.63 L241.71,741.75 L242.46,740.84 L243.21,739.93 L243.96,739.00 L244.72,738.05 L245.47,737.09 L246.22,736.11 L246.97,735.12 L247.73,734.11 L248.48,733.09 L249.23,732.05 L249.99,731.00 L250.74,729.93 L251.49,728.85 L252.24,727.74 L253.00,726.63 L253.75,725.49 L254.50,724.34 L255.26,723.18 L256.01,722.00 L256.76,720.80 L257.51,719.58 L258.27,718.35 L259.02,717.10 L259.77,715.83 L260.53,714.55 L261.28,713.25 L262.03,711.93 L262.78,710.60 L263.54,709.25 L264.29,707.88 L265.04,706.49 L265.80,705.09 L266.55,703.66 L267.30,702.22 L268.05,700.77 L268.81,699.29 L269.56,697.79 L270.31,696.28 L271.07,694.75 L271.82,693.20 L272.57,691.63 L273.32,690.04 L274.08,688.44 L274.83,686.81 L275.58,685.17 L276.34,683.51 L277.09,681.83 L277.84,680.12 L278.59,678.40 L279.35,676.66 L280.10,674.90" fill="none" stroke="#7da2cf" stroke-width="1.80" stroke-linecap="butt" stroke-linejoin="round"/>
<path d="M55.00,779.20 L55.75,779.03 L56.50,778.87 L57.26,778.71 L58.01,778.55 L58.76,778.40 L59.51,778.25 L60.26,778.10 L61.01,777.96 L61.77,777.82 L62.52,777.69 L63.27,777.56 L64.02,777.43 L64.77,777.30 L65.53,777.18 L66.28,777.06 L67.03,776.95 L67.78,776.84 L68.53,776.73 L69.28,776.62 L70.04,776.52 L70.79,776.42 L71.54,776.32 L72.29,776.23 L73.04,776.14 L73.80,776.05 L74.55,775.96 L75.30,775.88 L76.05,775.80 L76.80,775.72 L77.56,775.65 L78.31,775.57 L79.06,775.50 L79.81,775.44 L80.56,775.37 L81.31,775.31 L82.07,775.24 L82.82,775.19 L83.57,775.13 L84.32,775.07 L85.07,775.02 L85.83,774.97 L86.58,774.92 L87.33,774.87 L88.08,774.83 L88.83,774.79 L89.58,774.74 L90.34,774.70 L91.09,774.67 L91.84,774.63 L92.59,774.59 L93.34,774.56 L94.10,774.53 L94.85,774.50 L95.60,774.47 L96.35,774.44 L97.10,774.41 L97.85,774.39 L98.61,774.36 L99.36,774.34 L100.11,774.32 L100.86,774.30 L101.61,774.28 L102.37,774.26 L103.12,774.24 L103.87,774.22 L104.62,774.20 L105.37,774.19 L106.13,774.17 L106.88,774.16 L107.63,774.14 L108.38,774.13 L109.13,774.12 L109.88,774.10 L110.64,774.09 L111.39,774.08 L112.14,774.07 L112.89,774.05 L113.64,774.04 L114.40,774.03 L115.15,774.02 L115.90,774.01 L116.65,774.00 L117.40,773.98 L118.15,773.97 L118.91,773.96 L119.66,773.95 L120.41,773.94 L121.16,773.92 L121.91,773.91 L122.67,773.90 L123.42,773.88 L124.17,773.87 L124.92,773.86 L125.67,773.84 L126.42,773.82 L127.18,773.81 L127.93,773.79 L128.68,773.77 L129.43,773.75 L130.18,773.73 L130.94,773.71 L131.69,773.69 L132.44,773.67 L133.19,773.64 L133.94,773.62 L134.69,773.59 L135.45,773.56 L136.20,773.53 L136.95,773.50 L137.70,773.47 L138.45,773.44 L139.21,773.40 L139.96,773.37 L140.71,773.33 L141.46,773.29 L142.21,773.25 L142.97,773.21 L143.72,773.16 L144.47,773.12 L145.22,773.07 L145.97,773.02 L146.72,772.97 L147.48,772.91 L148.23,772.86 L148.98,772.80 L149.73,772.74 L150.48,772.67 L151.24,772.61 L151.99,772.54 L152.74,772.47 L153.49,772.40 L154.24,772.33 L154.99,772.25 L155.75,772.17 L156.50,772.09 L157.25,772.00 L158.00,771.91 L158.75,771.82 L159.51,771.73 L160.26,771.64 L161.01,771.54 L161.76,771.43 L162.51,771.33 L163.26,771.22 L164.02,771.11 L164.77,771.00 L165.52,770.88 L166.27,770.76 L167.02,770.64 L167.78,770.51 L168.53,770.38 L169.28,770.24 L170.03,770.11 L170.78,769.97 L171.54,769.82 L172.29,769.67 L173.04,769.52 L173.79,769.36 L174.54,769.20 L175.29,769.04 L176.05,768.87 L176.80,768.70 L177.55,768.52 L178.30,768.34 L179.05,768.15 L179.81,767.96 L180.56,767.77 L181.31,767.57 L182.06,767.36 L182.81,767.15 L183.56,766.93 L184.32,766.71 L185.07,766.48 L185.82,766.25 L186.57,766.01 L187.32,765.77 L188.08,765.52 L188.83,765.26 L189.58,765.00 L190.33,764.73 L191.08,764.46 L191.83,764.18 L192.59,763.89 L193.34,763.60 L194.09,763.30 L194.84,762.99 L195.59,762.68 L196.35,762.36 L197.10,762.03 L197.85,761.69 L198.60,761.35 L199.35,761.00 L200.11,760.64 L200.86,760.28 L201.61,759.90 L202.36,759.52 L203.11,759.14 L203.86,758.74 L204.62,758.34 L205.37,757.92 L206.12,757.50 L206.87,757.07 L207.62,756.63 L208.38,756.19 L209.13,755.73 L209.88,755.27 L210.63,754.80 L211.38,754.31 L212.13,753.82 L212.89,753.32 L213.64,752.81 L214.39,752.29 L215.14,751.77 L215.89,751.23 L216.65,750.68 L217.40,750.12 L218.15,749.56 L218.90,748.98 L219.65,748.39 L220.40,747.79 L221.16,747.18 L221.91,746.56 L222.66,745.94 L223.41,745.30 L224.16,744.65 L224.92,743.98 L225.67,743.31 L226.42,742.63 L227.17,741.93 L227.92,741.23 L228.67,740.51 L229.43,739.78 L230.18,739.04 L230.93,738.29 L231.68,737.52 L232.43,736.75 L233.19,735.96 L233.94,735.16 L234.69,734.35 L235.44,733.53 L236.19,732.69 L236.95,731.84 L237.70,730.98 L238.45,730.11 L239.20,729.22 L239.95,728.32 L240.70,727.41 L241.46,726.48 L242.21,725.54 L242.96,724.59 L243.71,723.62 L244.46,722.64 L245.22,721.65 L245.97,720.64 L246.72,719.62 L247.47,718.59 L248.22,717.54 L248.97,716.48 L249.73,715.40 L250.48,714.31 L251.23,713.20 L251.98,712.08 L252.73,710.95 L253.49,709.80 L254.24,708.64 L254.99,707.46 L255.74,706.26 L256.49,705.05 L257.24,703.83 L258.00,702.59 L258.75,701.34 L259.50,700.06 L260.25,698.78 L261.00,697.48 L261.76,696.16 L262.51,694.82 L263.26,693.47 L264.01,692.11 L264.76,690.73 L265.52,689.33 L266.27,687.91 L267.02,686.48 L267.77,685.03 L268.52,683.57 L269.27,682.09 L270.03,680.59 L270.78,679.07 L271.53,677.54 L272.28,675.99 L273.03,674.42 L273.79,672.83 L274.54,671.23 L275.29,669.61 L276.04,667.97 L276.79,666.32 L277.54,664.64 L278.30,662.95 L279.05,661.24 L279.80,659.51" fill="none" stroke="#eccf6c" stroke-width="1.80" stroke-linecap="butt" stroke-linejoin="round"/>
<path d="M55.00,769.09 L55.75,768.94 L56.51,768.78 L57.26,768.63 L58.01,768.48 L58.76,768.34 L59.52,768.19 L60.27,768.05 L61.02,767.90 L61.78,767.76 L62.53,767.62 L63.28,767.49 L64.03,767.35 L64.79,767.22 L65.54,767.09 L66.29,766.96 L67.05,766.83 L67.80,766.70 L68.55,766.57 L69.30,766.45 L70.06,766.33 L70.81,766.21 L71.56,766.09 L72.32,765.97 L73.07,765.85 L73.82,765.73 L74.57,765.62 L75.33,765.51 L76.08,765.39 L76.83,765.28 L77.59,765.17 L78.34,765.06 L79.09,764.96 L79.84,764.85 L80.60,764.75 L81.35,764.64 L82.10,764.54 L82.86,764.44 L83.61,764.34 L84.36,764.24 L85.11,764.14 L85.87,764.04 L86.62,763.95 L87.37,763.85 L88.13,763.76 L88.88,763.67 L89.63,763.57 L90.38,763.48 L91.14,763.39 L91.89,763.30 L92.64,763.21 L93.39,763.12 L94.15,763.03 L94.90,762.95 L95.65,762.86 L96.41,762.77 L97.16,762.69 L97.91,762.61 L98.66,762.52 L99.42,762.44 L100.17,762.36 L100.92,762.27 L101.68,762.19 L102.43,762.11 L103.18,762.03 L103.93,761.95 L104.69,761.87 L105.44,761.79 L106.19,761.71 L106.95,761.64 L107.70,761.56 L108.45,761.48 L109.20,761.40 L109.96,761.32 L110.71,761.25 L111.46,761.17 L112.22,761.09 L112.97,761.02 L113.72,760.94 L114.47,760.87 L115.23,760.79 L115.98,760.72 L116.73,760.64 L117.49,760.56 L118.24,760.49 L118.99,760.41 L119.74,760.34 L120.50,760.26 L121.25,760.19 L122.00,760.11 L122.76,760.03 L123.51,759.96 L124.26,759.88 L125.01,759.81 L125.77,759.73 L126.52,759.65 L127.27,759.58 L128.03,759.50 L128.78,759.42 L129.53,759.34 L130.28,759.27 L131.04,759.19 L131.79,759.11 L132.54,759.03 L133.30,758.95 L134.05,758.87 L134.80,758.79 L135.55,758.71 L136.31,758.63 L137.06,758.55 L137.81,758.46 L138.57,758.38 L139.32,758.30 L140.07,758.21 L140.82,758.13 L141.58,758.04 L142.33,757.96 L143.08,757.87 L143.84,757.78 L144.59,757.69 L145.34,757.60 L146.09,757.51 L146.85,757.42 L147.60,757.33 L148.35,757.24 L149.11,757.15 L149.86,757.05 L150.61,756.96 L151.36,756.86 L152.12,756.76 L152.87,756.67 L153.62,756.57 L154.38,756.47 L155.13,756.37 L155.88,756.26 L156.63,756.16 L157.39,756.06 L158.14,755.95 L158.89,755.84 L159.65,755.73 L160.40,755.63 L161.15,755.51 L161.90,755.40 L162.66,755.29 L163.41,755.18 L164.16,755.06 L164.92,754.94 L165.67,754.82 L166.42,754.70 L167.17,754.58 L167.93,754.46 L168.68,754.34 L169.43,754.21 L170.18,754.08 L170.94,753.96 L171.69,753.83 L172.44,753.69 L173.20,753.56 L173.95,753.42 L174.70,753.28 L175.45,753.14 L176.21,753.00 L176.96,752.85 L177.71,752.70 L178.47,752.54 L179.22,752.39 L179.97,752.23 L180.72,752.06 L181.48,751.89 L182.23,751.72 L182.98,751.54 L183.74,751.35 L184.49,751.17 L185.24,750.97 L185.99,750.77 L186.75,750.57 L187.50,750.36 L188.25,750.14 L189.01,749.92 L189.76,749.69 L190.51,749.46 L191.26,749.22 L192.02,748.97 L192.77,748.71 L193.52,748.45 L194.28,748.18 L195.03,747.90 L195.78,747.61 L196.53,747.32 L197.29,747.02 L198.04,746.71 L198.79,746.39 L199.55,746.06 L200.30,745.72 L201.05,745.38 L201.80,745.02 L202.56,744.66 L203.31,744.28 L204.06,743.90 L204.82,743.50 L205.57,743.09 L206.32,742.68 L207.07,742.25 L207.83,741.81 L208.58,741.36 L209.33,740.90 L210.09,740.43 L210.84,739.95 L211.59,739.45 L212.34,738.95 L213.10,738.43 L213.85,737.89 L214.60,737.35 L215.36,736.79 L216.11,736.22 L216.86,735.63 L217.61,735.04 L218.37,734.43 L219.12,733.80 L219.87,733.16 L220.63,732.51 L221.38,731.84 L222.13,731.16 L222.88,730.46 L223.64,729.75 L224.39,729.02 L225.14,728.28 L225.90,727.52 L226.65,726.74 L227.40,725.95 L228.15,725.15 L228.91,724.32 L229.66,723.49 L230.41,722.63 L231.17,721.76 L231.92,720.87 L232.67,719.96 L233.42,719.03 L234.18,718.09 L234.93,717.13 L235.68,716.15 L236.44,715.15 L237.19,714.14 L237.94,713.10 L238.69,712.05 L239.45,710.97 L240.20,709.86 L240.95,708.74 L241.71,707.59 L242.46,706.41 L243.21,705.20 L243.96,703.97 L244.72,702.71 L245.47,701.42 L246.22,700.09 L246.97,698.74 L247.73,697.35 L248.48,695.92 L249.23,694.46 L249.99,692.97 L250.74,691.43 L251.49,689.86 L252.24,688.25 L253.00,686.60 L253.75,684.90 L254.50,683.17 L255.26,681.39 L256.01,679.56 L256.76,677.69 L257.51,675.77 L258.27,673.81 L259.02,671.79 L259.77,669.73 L260.53,667.62 L261.28,665.45 L262.03,663.23 L262.78,660.96 L263.54,658.65 L264.29,656.30 L265.04,653.92 L265.80,651.52 L266.55,649.10 L267.30,646.67 L268.05,644.24 L268.81,641.81 L269.56,639.39 L270.31,636.99 L271.07,634.61 L271.82,632.25 L272.57,629.94 L273.32,627.67 L274.08,625.44 L274.83,623.27 L275.58,621.17 L276.34,619.13 L277.09,617.16 L277.84,615.28 L278.59,613.49 L279.35,611.79 L280.10,610.20" fill="none" stroke="#c24d4e" stroke-width="1.80" stroke-linecap="butt" stroke-linejoin="round"/>
<line x1="242.80" y1="818.39" x2="242.80" y2="562.00" stroke="#000" stroke-width="2.3" stroke-dasharray="2.18 6.54"/>
</g>
<rect x="44.80" y="567.00" width="246.20" height="250.00" fill="none" stroke="#333333" stroke-width="2.1"/>
<line x1="41.20" y1="577.80" x2="43.80" y2="577.80" stroke="#4d4d4d" stroke-width="1.0"/>
<text x="39.20" y="581.40" font-size="10.00" font-weight="bold" fill="#4d4d4d" text-anchor="end" >75</text>
<line x1="41.20" y1="635.00" x2="43.80" y2="635.00" stroke="#4d4d4d" stroke-width="1.0"/>
<text x="39.20" y="638.60" font-size="10.00" font-weight="bold" fill="#4d4d4d" text-anchor="end" >70</text>
<line x1="41.20" y1="692.10" x2="43.80" y2="692.10" stroke="#4d4d4d" stroke-width="1.0"/>
<text x="39.20" y="695.70" font-size="10.00" font-weight="bold" fill="#4d4d4d" text-anchor="end" >65</text>
<line x1="41.20" y1="749.30" x2="43.80" y2="749.30" stroke="#4d4d4d" stroke-width="1.0"/>
<text x="39.20" y="752.90" font-size="10.00" font-weight="bold" fill="#4d4d4d" text-anchor="end" >60</text>
<line x1="41.20" y1="806.40" x2="43.80" y2="806.40" stroke="#4d4d4d" stroke-width="1.0"/>
<text x="39.20" y="810.00" font-size="10.00" font-weight="bold" fill="#4d4d4d" text-anchor="end" >55</text>
<line x1="55.00" y1="818.00" x2="55.00" y2="820.70" stroke="#4d4d4d" stroke-width="1.0"/>
<text x="55.00" y="829.90" font-size="10.00" font-weight="bold" fill="#4d4d4d" text-anchor="middle" >−10</text>
<line x1="92.56" y1="818.00" x2="92.56" y2="820.70" stroke="#4d4d4d" stroke-width="1.0"/>
<text x="92.56" y="829.90" font-size="10.00" font-weight="bold" fill="#4d4d4d" text-anchor="middle" >−8</text>
<line x1="130.12" y1="818.00" x2="130.12" y2="820.70" stroke="#4d4d4d" stroke-width="1.0"/>
<text x="130.12" y="829.90" font-size="10.00" font-weight="bold" fill="#4d4d4d" text-anchor="middle" >−6</text>
<line x1="167.68" y1="818.00" x2="167.68" y2="820.70" stroke="#4d4d4d" stroke-width="1.0"/>
<text x="167.68" y="829.90" font-size="10.00" font-weight="bold" fill="#4d4d4d" text-anchor="middle" >−4</text>
<line x1="205.24" y1="818.00" x2="205.24" y2="820.70" stroke="#4d4d4d" stroke-width="1.0"/>
<text x="205.24" y="829.90" font-size="10.00" font-weight="bold" fill="#4d4d4d" text-anchor="middle" >−2</text>
<line x1="242.80" y1="818.00" x2="242.80" y2="820.70" stroke="#4d4d4d" stroke-width="1.0"/>
<text x="242.80" y="829.90" font-size="10.00" font-weight="bold" fill="#4d4d4d" text-anchor="middle" >0</text>
<line x1="280.36" y1="818.00" x2="280.36" y2="820.70" stroke="#4d4d4d" stroke-width="1.0"/>
<text x="280.36" y="829.90" font-size="10.00" font-weight="bold" fill="#4d4d4d" text-anchor="middle" >+2</text>
<text x="0" y="0" font-size="10.2" font-weight="bold" fill="#000" text-anchor="middle" transform="translate(21.90,692.00) rotate(-90)">Nocturnal Resting Heart Rate (BPM)</text>
<text x="167.90" y="841.00" font-size="9.30" font-weight="bold" fill="#000" text-anchor="middle" >Exercise Ending Relative to Habitual Sleep Onset (Hours)</text>
<clipPath id="c351_567"><rect x="351.20" y="567.00" width="245.80" height="250.00"/></clipPath>
<g clip-path="url(#c351_567)">
<path d="M361.30,584.88 L362.05,584.88 L362.81,584.88 L363.56,584.88 L364.31,584.88 L365.07,584.88 L365.82,584.89 L366.57,584.89 L367.33,584.90 L368.08,584.90 L368.83,584.91 L369.58,584.91 L370.34,584.92 L371.09,584.93 L371.84,584.94 L372.60,584.95 L373.35,584.96 L374.10,584.97 L374.86,584.98 L375.61,584.99 L376.36,585.00 L377.12,585.01 L377.87,585.02 L378.62,585.04 L379.38,585.05 L380.13,585.06 L380.88,585.07 L381.64,585.09 L382.39,585.10 L383.14,585.11 L383.90,585.12 L384.65,585.14 L385.40,585.15 L386.15,585.16 L386.91,585.17 L387.66,585.18 L388.41,585.19 L389.17,585.21 L389.92,585.22 L390.67,585.23 L391.43,585.24 L392.18,585.25 L392.93,585.25 L393.69,585.26 L394.44,585.27 L395.19,585.28 L395.95,585.29 L396.70,585.29 L397.45,585.30 L398.21,585.30 L398.96,585.31 L399.71,585.31 L400.47,585.31 L401.22,585.31 L401.97,585.31 L402.72,585.31 L403.48,585.31 L404.23,585.31 L404.98,585.31 L405.74,585.30 L406.49,585.29 L407.24,585.29 L408.00,585.28 L408.75,585.27 L409.50,585.26 L410.26,585.25 L411.01,585.24 L411.76,585.22 L412.52,585.21 L413.27,585.19 L414.02,585.17 L414.78,585.15 L415.53,585.13 L416.28,585.10 L417.04,585.08 L417.79,585.05 L418.54,585.02 L419.29,584.99 L420.05,584.96 L420.80,584.93 L421.55,584.89 L422.31,584.86 L423.06,584.82 L423.81,584.78 L424.57,584.73 L425.32,584.69 L426.07,584.65 L426.83,584.60 L427.58,584.55 L428.33,584.50 L429.09,584.45 L429.84,584.40 L430.59,584.35 L431.35,584.29 L432.10,584.24 L432.85,584.18 L433.61,584.12 L434.36,584.06 L435.11,584.00 L435.86,583.94 L436.62,583.88 L437.37,583.82 L438.12,583.76 L438.88,583.69 L439.63,583.63 L440.38,583.56 L441.14,583.50 L441.89,583.43 L442.64,583.36 L443.40,583.30 L444.15,583.23 L444.90,583.16 L445.66,583.09 L446.41,583.02 L447.16,582.95 L447.92,582.88 L448.67,582.81 L449.42,582.74 L450.17,582.67 L450.93,582.60 L451.68,582.53 L452.43,582.46 L453.19,582.39 L453.94,582.32 L454.69,582.25 L455.45,582.18 L456.20,582.11 L456.95,582.04 L457.71,581.97 L458.46,581.90 L459.21,581.84 L459.97,581.77 L460.72,581.70 L461.47,581.63 L462.23,581.57 L462.98,581.50 L463.73,581.44 L464.49,581.37 L465.24,581.31 L465.99,581.24 L466.74,581.18 L467.50,581.12 L468.25,581.06 L469.00,581.00 L469.76,580.94 L470.51,580.88 L471.26,580.83 L472.02,580.77 L472.77,580.72 L473.52,580.66 L474.28,580.61 L475.03,580.56 L475.78,580.51 L476.54,580.47 L477.29,580.42 L478.04,580.37 L478.80,580.33 L479.55,580.29 L480.30,580.25 L481.06,580.21 L481.81,580.17 L482.56,580.14 L483.31,580.10 L484.07,580.07 L484.82,580.05 L485.57,580.02 L486.33,580.00 L487.08,579.98 L487.83,579.96 L488.59,579.95 L489.34,579.94 L490.09,579.93 L490.85,579.93 L491.60,579.93 L492.35,579.93 L493.11,579.94 L493.86,579.96 L494.61,579.97 L495.37,580.00 L496.12,580.03 L496.87,580.06 L497.63,580.10 L498.38,580.14 L499.13,580.19 L499.88,580.24 L500.64,580.30 L501.39,580.37 L502.14,580.44 L502.90,580.52 L503.65,580.61 L504.40,580.70 L505.16,580.80 L505.91,580.91 L506.66,581.02 L507.42,581.14 L508.17,581.27 L508.92,581.41 L509.68,581.55 L510.43,581.70 L511.18,581.86 L511.94,582.03 L512.69,582.21 L513.44,582.39 L514.19,582.59 L514.95,582.79 L515.70,583.00 L516.45,583.23 L517.21,583.46 L517.96,583.70 L518.71,583.95 L519.47,584.21 L520.22,584.48 L520.97,584.76 L521.73,585.05 L522.48,585.36 L523.23,585.67 L523.99,585.99 L524.74,586.33 L525.49,586.68 L526.25,587.03 L527.00,587.40 L527.75,587.78 L528.51,588.18 L529.26,588.58 L530.01,589.00 L530.76,589.43 L531.52,589.87 L532.27,590.33 L533.02,590.80 L533.78,591.28 L534.53,591.77 L535.28,592.28 L536.04,592.80 L536.79,593.34 L537.54,593.90 L538.30,594.47 L539.05,595.05 L539.80,595.66 L540.56,596.28 L541.31,596.92 L542.06,597.58 L542.82,598.26 L543.57,598.96 L544.32,599.69 L545.08,600.43 L545.83,601.20 L546.58,601.99 L547.33,602.80 L548.09,603.64 L548.84,604.51 L549.59,605.39 L550.35,606.31 L551.10,607.25 L551.85,608.22 L552.61,609.22 L553.36,610.25 L554.11,611.30 L554.87,612.39 L555.62,613.51 L556.37,614.66 L557.13,615.84 L557.88,617.05 L558.63,618.30 L559.39,619.58 L560.14,620.89 L560.89,622.24 L561.65,623.62 L562.40,625.04 L563.15,626.50 L563.90,627.98 L564.66,629.49 L565.41,631.03 L566.16,632.59 L566.92,634.18 L567.67,635.79 L568.42,637.41 L569.18,639.05 L569.93,640.71 L570.68,642.38 L571.44,644.06 L572.19,645.75 L572.94,647.45 L573.70,649.15 L574.45,650.86 L575.20,652.56 L575.96,654.27 L576.71,655.97 L577.46,657.66 L578.22,659.35 L578.97,661.03 L579.72,662.70 L580.47,664.36 L581.23,666.00 L581.98,667.62 L582.73,669.23 L583.49,670.81 L584.24,672.37 L584.99,673.91 L585.75,675.41 L586.50,676.89 L586.50,686.89 L585.75,685.36 L584.99,683.79 L584.24,682.20 L583.49,680.59 L582.73,678.95 L581.98,677.29 L581.23,675.61 L580.47,673.92 L579.72,672.21 L578.97,670.49 L578.22,668.75 L577.46,667.01 L576.71,665.27 L575.96,663.51 L575.20,661.76 L574.45,660.00 L573.70,658.25 L572.94,656.50 L572.19,654.75 L571.44,653.01 L570.68,651.28 L569.93,649.56 L569.18,647.86 L568.42,646.17 L567.67,644.50 L566.92,642.84 L566.16,641.21 L565.41,639.60 L564.66,638.02 L563.90,636.46 L563.15,634.93 L562.40,633.44 L561.65,631.97 L560.89,630.55 L560.14,629.15 L559.39,627.80 L558.63,626.48 L557.88,625.19 L557.13,623.93 L556.37,622.71 L555.62,621.52 L554.87,620.37 L554.11,619.24 L553.36,618.15 L552.61,617.08 L551.85,616.04 L551.10,615.04 L550.35,614.06 L549.59,613.10 L548.84,612.18 L548.09,611.28 L547.33,610.40 L546.58,609.55 L545.83,608.73 L545.08,607.92 L544.32,607.15 L543.57,606.39 L542.82,605.65 L542.06,604.94 L541.31,604.25 L540.56,603.57 L539.80,602.92 L539.05,602.28 L538.30,601.66 L537.54,601.06 L536.79,600.48 L536.04,599.91 L535.28,599.36 L534.53,598.82 L533.78,598.30 L533.02,597.79 L532.27,597.29 L531.52,596.81 L530.76,596.34 L530.01,595.88 L529.26,595.44 L528.51,595.01 L527.75,594.59 L527.00,594.18 L526.25,593.79 L525.49,593.41 L524.74,593.04 L523.99,592.68 L523.23,592.33 L522.48,591.99 L521.73,591.67 L520.97,591.36 L520.22,591.05 L519.47,590.76 L518.71,590.48 L517.96,590.21 L517.21,589.95 L516.45,589.70 L515.70,589.45 L514.95,589.22 L514.19,589.00 L513.44,588.79 L512.69,588.59 L511.94,588.39 L511.18,588.21 L510.43,588.03 L509.68,587.86 L508.92,587.70 L508.17,587.55 L507.42,587.41 L506.66,587.27 L505.91,587.14 L505.16,587.02 L504.40,586.91 L503.65,586.81 L502.90,586.71 L502.14,586.62 L501.39,586.53 L500.64,586.46 L499.88,586.38 L499.13,586.32 L498.38,586.26 L497.63,586.21 L496.87,586.16 L496.12,586.12 L495.37,586.08 L494.61,586.05 L493.86,586.02 L493.11,586.00 L492.35,585.99 L491.60,585.98 L490.85,585.97 L490.09,585.97 L489.34,585.97 L488.59,585.97 L487.83,585.98 L487.08,585.99 L486.33,586.01 L485.57,586.03 L484.82,586.05 L484.07,586.08 L483.31,586.11 L482.56,586.14 L481.81,586.17 L481.06,586.21 L480.30,586.25 L479.55,586.29 L478.80,586.33 L478.04,586.37 L477.29,586.42 L476.54,586.47 L475.78,586.51 L475.03,586.56 L474.28,586.61 L473.52,586.66 L472.77,586.72 L472.02,586.77 L471.26,586.83 L470.51,586.88 L469.76,586.94 L469.00,587.00 L468.25,587.06 L467.50,587.12 L466.74,587.18 L465.99,587.24 L465.24,587.31 L464.49,587.37 L463.73,587.44 L462.98,587.50 L462.23,587.57 L461.47,587.63 L460.72,587.70 L459.97,587.77 L459.21,587.84 L458.46,587.90 L457.71,587.97 L456.95,588.04 L456.20,588.11 L455.45,588.18 L454.69,588.25 L453.94,588.32 L453.19,588.39 L452.43,588.46 L451.68,588.53 L450.93,588.60 L450.17,588.67 L449.42,588.74 L448.67,588.81 L447.92,588.88 L447.16,588.95 L446.41,589.02 L445.66,589.09 L444.90,589.16 L444.15,589.23 L443.40,589.30 L442.64,589.36 L441.89,589.43 L441.14,589.50 L440.38,589.56 L439.63,589.63 L438.88,589.69 L438.12,589.76 L437.37,589.82 L436.62,589.88 L435.86,589.94 L435.11,590.00 L434.36,590.06 L433.61,590.12 L432.85,590.18 L432.10,590.24 L431.35,590.29 L430.59,590.35 L429.84,590.40 L429.09,590.45 L428.33,590.50 L427.58,590.55 L426.83,590.60 L426.07,590.65 L425.32,590.69 L424.57,590.73 L423.81,590.78 L423.06,590.82 L422.31,590.86 L421.55,590.89 L420.80,590.93 L420.05,590.96 L419.29,590.99 L418.54,591.02 L417.79,591.05 L417.04,591.08 L416.28,591.10 L415.53,591.13 L414.78,591.15 L414.02,591.17 L413.27,591.19 L412.52,591.21 L411.76,591.22 L411.01,591.24 L410.26,591.25 L409.50,591.26 L408.75,591.27 L408.00,591.28 L407.24,591.29 L406.49,591.29 L405.74,591.30 L404.98,591.31 L404.23,591.31 L403.48,591.31 L402.72,591.31 L401.97,591.31 L401.22,591.31 L400.47,591.31 L399.71,591.31 L398.96,591.31 L398.21,591.30 L397.45,591.30 L396.70,591.29 L395.95,591.29 L395.19,591.28 L394.44,591.27 L393.69,591.26 L392.93,591.25 L392.18,591.25 L391.43,591.24 L390.67,591.23 L389.92,591.22 L389.17,591.21 L388.41,591.19 L387.66,591.18 L386.91,591.17 L386.15,591.16 L385.40,591.15 L384.65,591.14 L383.90,591.12 L383.14,591.11 L382.39,591.10 L381.64,591.09 L380.88,591.07 L380.13,591.06 L379.38,591.05 L378.62,591.04 L377.87,591.02 L377.12,591.01 L376.36,591.00 L375.61,590.99 L374.86,590.98 L374.10,590.97 L373.35,590.96 L372.60,590.95 L371.84,590.94 L371.09,590.93 L370.34,590.92 L369.58,590.91 L368.83,590.91 L368.08,590.90 L367.33,590.90 L366.57,590.89 L365.82,590.89 L365.07,590.88 L364.31,590.88 L363.56,590.88 L362.81,590.88 L362.05,590.88 L361.30,590.88 Z" fill="#0c365a" fill-opacity="0.15" stroke="none"/>
<path d="M361.30,589.76 L362.05,589.88 L362.80,589.99 L363.56,590.10 L364.31,590.21 L365.06,590.31 L365.81,590.42 L366.57,590.51 L367.32,590.61 L368.07,590.70 L368.82,590.79 L369.57,590.87 L370.33,590.96 L371.08,591.04 L371.83,591.11 L372.58,591.19 L373.33,591.26 L374.09,591.33 L374.84,591.39 L375.59,591.46 L376.34,591.52 L377.10,591.58 L377.85,591.63 L378.60,591.68 L379.35,591.73 L380.10,591.78 L380.86,591.83 L381.61,591.87 L382.36,591.91 L383.11,591.95 L383.87,591.98 L384.62,592.02 L385.37,592.05 L386.12,592.08 L386.87,592.11 L387.63,592.13 L388.38,592.16 L389.13,592.18 L389.88,592.20 L390.63,592.22 L391.39,592.23 L392.14,592.25 L392.89,592.26 L393.64,592.27 L394.40,592.28 L395.15,592.29 L395.90,592.29 L396.65,592.30 L397.40,592.30 L398.16,592.30 L398.91,592.30 L399.66,592.30 L400.41,592.30 L401.17,592.30 L401.92,592.29 L402.67,592.28 L403.42,592.28 L404.17,592.27 L404.93,592.26 L405.68,592.25 L406.43,592.24 L407.18,592.22 L407.93,592.21 L408.69,592.19 L409.44,592.18 L410.19,592.16 L410.94,592.15 L411.70,592.13 L412.45,592.11 L413.20,592.09 L413.95,592.07 L414.70,592.05 L415.46,592.03 L416.21,592.01 L416.96,591.99 L417.71,591.97 L418.47,591.94 L419.22,591.92 L419.97,591.90 L420.72,591.88 L421.47,591.85 L422.23,591.83 L422.98,591.81 L423.73,591.78 L424.48,591.76 L425.23,591.74 L425.99,591.71 L426.74,591.69 L427.49,591.67 L428.24,591.64 L429.00,591.62 L429.75,591.60 L430.50,591.58 L431.25,591.55 L432.00,591.53 L432.76,591.51 L433.51,591.49 L434.26,591.47 L435.01,591.45 L435.77,591.43 L436.52,591.42 L437.27,591.40 L438.02,591.38 L438.77,591.37 L439.53,591.35 L440.28,591.34 L441.03,591.32 L441.78,591.31 L442.53,591.30 L443.29,591.29 L444.04,591.28 L444.79,591.27 L445.54,591.26 L446.30,591.26 L447.05,591.25 L447.80,591.25 L448.55,591.25 L449.30,591.25 L450.06,591.25 L450.81,591.25 L451.56,591.25 L452.31,591.26 L453.07,591.26 L453.82,591.27 L454.57,591.28 L455.32,591.29 L456.07,591.30 L456.83,591.32 L457.58,591.34 L458.33,591.35 L459.08,591.37 L459.83,591.40 L460.59,591.42 L461.34,591.45 L462.09,591.48 L462.84,591.51 L463.60,591.54 L464.35,591.57 L465.10,591.61 L465.85,591.65 L466.60,591.69 L467.36,591.73 L468.11,591.78 L468.86,591.83 L469.61,591.88 L470.37,591.93 L471.12,591.99 L471.87,592.05 L472.62,592.11 L473.37,592.17 L474.13,592.24 L474.88,592.31 L475.63,592.38 L476.38,592.45 L477.13,592.53 L477.89,592.61 L478.64,592.69 L479.39,592.78 L480.14,592.87 L480.90,592.96 L481.65,593.06 L482.40,593.16 L483.15,593.26 L483.90,593.36 L484.66,593.47 L485.41,593.58 L486.16,593.70 L486.91,593.82 L487.67,593.94 L488.42,594.07 L489.17,594.20 L489.92,594.34 L490.67,594.48 L491.43,594.63 L492.18,594.78 L492.93,594.93 L493.68,595.10 L494.43,595.26 L495.19,595.44 L495.94,595.61 L496.69,595.80 L497.44,595.99 L498.20,596.18 L498.95,596.39 L499.70,596.59 L500.45,596.81 L501.20,597.03 L501.96,597.26 L502.71,597.50 L503.46,597.74 L504.21,597.99 L504.97,598.25 L505.72,598.51 L506.47,598.79 L507.22,599.07 L507.97,599.36 L508.73,599.66 L509.48,599.96 L510.23,600.28 L510.98,600.61 L511.73,600.94 L512.49,601.29 L513.24,601.65 L513.99,602.02 L514.74,602.40 L515.50,602.79 L516.25,603.20 L517.00,603.62 L517.75,604.05 L518.50,604.49 L519.26,604.95 L520.01,605.43 L520.76,605.92 L521.51,606.42 L522.27,606.94 L523.02,607.47 L523.77,608.03 L524.52,608.59 L525.27,609.18 L526.03,609.78 L526.78,610.40 L527.53,611.04 L528.28,611.70 L529.03,612.37 L529.79,613.07 L530.54,613.78 L531.29,614.52 L532.04,615.28 L532.80,616.05 L533.55,616.85 L534.30,617.67 L535.05,618.51 L535.80,619.38 L536.56,620.26 L537.31,621.17 L538.06,622.10 L538.81,623.06 L539.57,624.03 L540.32,625.04 L541.07,626.06 L541.82,627.11 L542.57,628.18 L543.33,629.28 L544.08,630.40 L544.83,631.55 L545.58,632.72 L546.33,633.92 L547.09,635.14 L547.84,636.39 L548.59,637.66 L549.34,638.96 L550.10,640.29 L550.85,641.64 L551.60,643.02 L552.35,644.43 L553.10,645.87 L553.86,647.33 L554.61,648.82 L555.36,650.34 L556.11,651.88 L556.87,653.46 L557.62,655.06 L558.37,656.69 L559.12,658.35 L559.87,660.04 L560.63,661.76 L561.38,663.51 L562.13,665.28 L562.88,667.09 L563.63,668.92 L564.39,670.78 L565.14,672.68 L565.89,674.60 L566.64,676.55 L567.40,678.53 L568.15,680.55 L568.90,682.59 L569.65,684.66 L570.40,686.76 L571.16,688.90 L571.91,691.06 L572.66,693.25 L573.41,695.48 L574.17,697.73 L574.92,700.02 L575.67,702.33 L576.42,704.68 L577.17,707.06 L577.93,709.47 L578.68,711.91 L579.43,714.38 L580.18,716.89 L580.93,719.42 L581.69,721.99 L582.44,724.59 L583.19,727.22 L583.94,729.89 L584.70,732.58 L585.45,735.31 L586.20,738.07 L586.20,750.07 L585.45,747.22 L584.70,744.41 L583.94,741.63 L583.19,738.89 L582.44,736.17 L581.69,733.49 L580.93,730.84 L580.18,728.23 L579.43,725.64 L578.68,723.09 L577.93,720.57 L577.17,718.08 L576.42,715.63 L575.67,713.20 L574.92,710.81 L574.17,708.45 L573.41,706.12 L572.66,703.82 L571.91,701.55 L571.16,699.32 L570.40,697.11 L569.65,694.94 L568.90,692.79 L568.15,690.68 L567.40,688.60 L566.64,686.55 L565.89,684.52 L565.14,682.53 L564.39,680.57 L563.63,678.64 L562.88,676.74 L562.13,674.87 L561.38,673.03 L560.63,671.22 L559.87,669.43 L559.12,667.68 L558.37,665.96 L557.62,664.27 L556.87,662.60 L556.11,660.97 L555.36,659.36 L554.61,657.78 L553.86,656.23 L553.10,654.71 L552.35,653.22 L551.60,651.75 L550.85,650.31 L550.10,648.90 L549.34,647.52 L548.59,646.17 L547.84,644.84 L547.09,643.53 L546.33,642.26 L545.58,641.01 L544.83,639.78 L544.08,638.59 L543.33,637.41 L542.57,636.27 L541.82,635.14 L541.07,634.04 L540.32,632.97 L539.57,631.92 L538.81,630.90 L538.06,629.89 L537.31,628.92 L536.56,627.96 L535.80,627.03 L535.05,626.12 L534.30,625.24 L533.55,624.38 L532.80,623.54 L532.04,622.72 L531.29,621.92 L530.54,621.14 L529.79,620.39 L529.03,619.65 L528.28,618.94 L527.53,618.24 L526.78,617.57 L526.03,616.91 L525.27,616.27 L524.52,615.65 L523.77,615.05 L523.02,614.46 L522.27,613.89 L521.51,613.34 L520.76,612.80 L520.01,612.28 L519.26,611.77 L518.50,611.28 L517.75,610.81 L517.00,610.35 L516.25,609.90 L515.50,609.46 L514.74,609.04 L513.99,608.63 L513.24,608.24 L512.49,607.85 L511.73,607.48 L510.98,607.12 L510.23,606.77 L509.48,606.43 L508.73,606.10 L507.97,605.78 L507.22,605.46 L506.47,605.16 L505.72,604.87 L504.97,604.58 L504.21,604.30 L503.46,604.03 L502.71,603.77 L501.96,603.52 L501.20,603.27 L500.45,603.03 L499.70,602.80 L498.95,602.58 L498.20,602.36 L497.44,602.15 L496.69,601.95 L495.94,601.75 L495.19,601.56 L494.43,601.37 L493.68,601.20 L492.93,601.02 L492.18,600.86 L491.43,600.70 L490.67,600.54 L489.92,600.39 L489.17,600.25 L488.42,600.11 L487.67,599.97 L486.91,599.84 L486.16,599.72 L485.41,599.60 L484.66,599.48 L483.90,599.37 L483.15,599.26 L482.40,599.16 L481.65,599.06 L480.90,598.96 L480.14,598.87 L479.39,598.78 L478.64,598.69 L477.89,598.61 L477.13,598.53 L476.38,598.45 L475.63,598.38 L474.88,598.31 L474.13,598.24 L473.37,598.17 L472.62,598.11 L471.87,598.05 L471.12,597.99 L470.37,597.93 L469.61,597.88 L468.86,597.83 L468.11,597.78 L467.36,597.73 L466.60,597.69 L465.85,597.65 L465.10,597.61 L464.35,597.57 L463.60,597.54 L462.84,597.51 L462.09,597.48 L461.34,597.45 L460.59,597.42 L459.83,597.40 L459.08,597.37 L458.33,597.35 L457.58,597.34 L456.83,597.32 L456.07,597.30 L455.32,597.29 L454.57,597.28 L453.82,597.27 L453.07,597.26 L452.31,597.26 L451.56,597.25 L450.81,597.25 L450.06,597.25 L449.30,597.25 L448.55,597.25 L447.80,597.25 L447.05,597.25 L446.30,597.26 L445.54,597.26 L444.79,597.27 L444.04,597.28 L443.29,597.29 L442.53,597.30 L441.78,597.31 L441.03,597.32 L440.28,597.34 L439.53,597.35 L438.77,597.37 L438.02,597.38 L437.27,597.40 L436.52,597.42 L435.77,597.43 L435.01,597.45 L434.26,597.47 L433.51,597.49 L432.76,597.51 L432.00,597.53 L431.25,597.55 L430.50,597.58 L429.75,597.60 L429.00,597.62 L428.24,597.64 L427.49,597.67 L426.74,597.69 L425.99,597.71 L425.23,597.74 L424.48,597.76 L423.73,597.78 L422.98,597.81 L422.23,597.83 L421.47,597.85 L420.72,597.88 L419.97,597.90 L419.22,597.92 L418.47,597.94 L417.71,597.97 L416.96,597.99 L416.21,598.01 L415.46,598.03 L414.70,598.05 L413.95,598.07 L413.20,598.09 L412.45,598.11 L411.70,598.13 L410.94,598.15 L410.19,598.16 L409.44,598.18 L408.69,598.19 L407.93,598.21 L407.18,598.22 L406.43,598.24 L405.68,598.25 L404.93,598.26 L404.17,598.27 L403.42,598.28 L402.67,598.28 L401.92,598.29 L401.17,598.30 L400.41,598.30 L399.66,598.30 L398.91,598.30 L398.16,598.30 L397.40,598.30 L396.65,598.30 L395.90,598.29 L395.15,598.29 L394.40,598.28 L393.64,598.27 L392.89,598.26 L392.14,598.25 L391.39,598.23 L390.63,598.22 L389.88,598.20 L389.13,598.18 L388.38,598.16 L387.63,598.13 L386.87,598.11 L386.12,598.08 L385.37,598.05 L384.62,598.02 L383.87,597.98 L383.11,597.95 L382.36,597.91 L381.61,597.87 L380.86,597.83 L380.10,597.78 L379.35,597.73 L378.60,597.68 L377.85,597.63 L377.10,597.58 L376.34,597.52 L375.59,597.46 L374.84,597.39 L374.09,597.33 L373.33,597.26 L372.58,597.19 L371.83,597.11 L371.08,597.04 L370.33,596.96 L369.57,596.87 L368.82,596.79 L368.07,596.70 L367.32,596.61 L366.57,596.51 L365.81,596.42 L365.06,596.31 L364.31,596.21 L363.56,596.10 L362.80,595.99 L362.05,595.88 L361.30,595.76 Z" fill="#7da2cf" fill-opacity="0.15" stroke="none"/>
<path d="M361.30,593.32 L362.05,593.51 L362.81,593.69 L363.56,593.88 L364.31,594.06 L365.07,594.23 L365.82,594.40 L366.57,594.57 L367.33,594.73 L368.08,594.89 L368.83,595.04 L369.58,595.20 L370.34,595.34 L371.09,595.49 L371.84,595.63 L372.60,595.76 L373.35,595.89 L374.10,596.02 L374.86,596.15 L375.61,596.27 L376.36,596.39 L377.12,596.51 L377.87,596.62 L378.62,596.73 L379.38,596.83 L380.13,596.94 L380.88,597.04 L381.64,597.13 L382.39,597.23 L383.14,597.32 L383.90,597.41 L384.65,597.50 L385.40,597.58 L386.15,597.66 L386.91,597.74 L387.66,597.81 L388.41,597.89 L389.17,597.96 L389.92,598.03 L390.67,598.09 L391.43,598.16 L392.18,598.22 L392.93,598.28 L393.69,598.34 L394.44,598.39 L395.19,598.45 L395.95,598.50 L396.70,598.55 L397.45,598.60 L398.21,598.65 L398.96,598.69 L399.71,598.73 L400.47,598.78 L401.22,598.82 L401.97,598.86 L402.72,598.89 L403.48,598.93 L404.23,598.97 L404.98,599.00 L405.74,599.03 L406.49,599.07 L407.24,599.10 L408.00,599.13 L408.75,599.16 L409.50,599.18 L410.26,599.21 L411.01,599.24 L411.76,599.26 L412.52,599.29 L413.27,599.31 L414.02,599.34 L414.78,599.36 L415.53,599.38 L416.28,599.41 L417.04,599.43 L417.79,599.45 L418.54,599.47 L419.29,599.50 L420.05,599.52 L420.80,599.54 L421.55,599.56 L422.31,599.58 L423.06,599.61 L423.81,599.63 L424.57,599.65 L425.32,599.68 L426.07,599.70 L426.83,599.72 L427.58,599.75 L428.33,599.77 L429.09,599.80 L429.84,599.82 L430.59,599.85 L431.35,599.88 L432.10,599.91 L432.85,599.94 L433.61,599.97 L434.36,600.00 L435.11,600.03 L435.86,600.06 L436.62,600.10 L437.37,600.13 L438.12,600.17 L438.88,600.21 L439.63,600.25 L440.38,600.29 L441.14,600.33 L441.89,600.38 L442.64,600.42 L443.40,600.47 L444.15,600.52 L444.90,600.57 L445.66,600.62 L446.41,600.68 L447.16,600.73 L447.92,600.79 L448.67,600.85 L449.42,600.92 L450.17,600.98 L450.93,601.05 L451.68,601.12 L452.43,601.19 L453.19,601.26 L453.94,601.34 L454.69,601.42 L455.45,601.50 L456.20,601.59 L456.95,601.67 L457.71,601.76 L458.46,601.86 L459.21,601.95 L459.97,602.05 L460.72,602.15 L461.47,602.25 L462.23,602.36 L462.98,602.47 L463.73,602.59 L464.49,602.70 L465.24,602.82 L465.99,602.95 L466.74,603.07 L467.50,603.20 L468.25,603.34 L469.00,603.47 L469.76,603.61 L470.51,603.76 L471.26,603.91 L472.02,604.06 L472.77,604.22 L473.52,604.38 L474.28,604.54 L475.03,604.71 L475.78,604.88 L476.54,605.06 L477.29,605.24 L478.04,605.42 L478.80,605.61 L479.55,605.80 L480.30,606.00 L481.06,606.20 L481.81,606.41 L482.56,606.62 L483.31,606.83 L484.07,607.05 L484.82,607.27 L485.57,607.49 L486.33,607.72 L487.08,607.95 L487.83,608.18 L488.59,608.42 L489.34,608.67 L490.09,608.91 L490.85,609.16 L491.60,609.41 L492.35,609.67 L493.11,609.93 L493.86,610.19 L494.61,610.46 L495.37,610.73 L496.12,611.01 L496.87,611.28 L497.63,611.56 L498.38,611.85 L499.13,612.13 L499.88,612.42 L500.64,612.72 L501.39,613.01 L502.14,613.31 L502.90,613.62 L503.65,613.92 L504.40,614.23 L505.16,614.54 L505.91,614.86 L506.66,615.17 L507.42,615.50 L508.17,615.82 L508.92,616.15 L509.68,616.48 L510.43,616.82 L511.18,617.16 L511.94,617.51 L512.69,617.87 L513.44,618.23 L514.19,618.60 L514.95,618.97 L515.70,619.36 L516.45,619.75 L517.21,620.16 L517.96,620.57 L518.71,620.99 L519.47,621.43 L520.22,621.87 L520.97,622.33 L521.73,622.79 L522.48,623.28 L523.23,623.77 L523.99,624.27 L524.74,624.80 L525.49,625.33 L526.25,625.88 L527.00,626.45 L527.75,627.04 L528.51,627.64 L529.26,628.27 L530.01,628.92 L530.76,629.60 L531.52,630.30 L532.27,631.03 L533.02,631.79 L533.78,632.58 L534.53,633.40 L535.28,634.25 L536.04,635.14 L536.79,636.05 L537.54,636.99 L538.30,637.97 L539.05,638.97 L539.80,640.01 L540.56,641.07 L541.31,642.16 L542.06,643.27 L542.82,644.42 L543.57,645.59 L544.32,646.78 L545.08,648.00 L545.83,649.25 L546.58,650.52 L547.33,651.82 L548.09,653.13 L548.84,654.48 L549.59,655.84 L550.35,657.23 L551.10,658.64 L551.85,660.07 L552.61,661.52 L553.36,662.99 L554.11,664.48 L554.87,665.99 L555.62,667.52 L556.37,669.07 L557.13,670.63 L557.88,672.22 L558.63,673.82 L559.39,675.44 L560.14,677.07 L560.89,678.72 L561.65,680.38 L562.40,682.05 L563.15,683.73 L563.90,685.42 L564.66,687.12 L565.41,688.81 L566.16,690.51 L566.92,692.21 L567.67,693.91 L568.42,695.60 L569.18,697.28 L569.93,698.96 L570.68,700.62 L571.44,702.28 L572.19,703.91 L572.94,705.54 L573.70,707.14 L574.45,708.72 L575.20,710.29 L575.96,711.82 L576.71,713.33 L577.46,714.82 L578.22,716.27 L578.97,717.69 L579.72,719.08 L580.47,720.43 L581.23,721.74 L581.98,723.01 L582.73,724.24 L583.49,725.43 L584.24,726.57 L584.99,727.66 L585.75,728.70 L586.50,729.69 L586.50,741.69 L585.75,740.62 L584.99,739.49 L584.24,738.31 L583.49,737.09 L582.73,735.82 L581.98,734.51 L581.23,733.16 L580.47,731.77 L579.72,730.34 L578.97,728.87 L578.22,727.37 L577.46,725.84 L576.71,724.28 L575.96,722.69 L575.20,721.08 L574.45,719.44 L573.70,717.78 L572.94,716.11 L572.19,714.41 L571.44,712.70 L570.68,710.97 L569.93,709.24 L569.18,707.49 L568.42,705.73 L567.67,703.97 L566.92,702.21 L566.16,700.44 L565.41,698.67 L564.66,696.91 L563.90,695.15 L563.15,693.39 L562.40,691.64 L561.65,689.90 L560.89,688.18 L560.14,686.47 L559.39,684.77 L558.63,683.09 L557.88,681.43 L557.13,679.78 L556.37,678.15 L555.62,676.55 L554.87,674.96 L554.11,673.39 L553.36,671.84 L552.61,670.31 L551.85,668.80 L551.10,667.31 L550.35,665.85 L549.59,664.40 L548.84,662.98 L548.09,661.59 L547.33,660.21 L546.58,658.87 L545.83,657.54 L545.08,656.24 L544.32,654.97 L543.57,653.72 L542.82,652.50 L542.06,651.31 L541.31,650.14 L540.56,649.01 L539.80,647.90 L539.05,646.82 L538.30,645.77 L537.54,644.75 L536.79,643.76 L536.04,642.80 L535.28,641.87 L534.53,640.97 L533.78,640.11 L533.02,639.28 L532.27,638.48 L531.52,637.71 L530.76,636.96 L530.01,636.25 L529.26,635.55 L528.51,634.89 L527.75,634.24 L527.00,633.62 L526.25,633.01 L525.49,632.43 L524.74,631.85 L523.99,631.30 L523.23,630.76 L522.48,630.23 L521.73,629.72 L520.97,629.22 L520.22,628.73 L519.47,628.25 L518.71,627.79 L517.96,627.33 L517.21,626.89 L516.45,626.46 L515.70,626.03 L514.95,625.62 L514.19,625.22 L513.44,624.82 L512.69,624.43 L511.94,624.05 L511.18,623.68 L510.43,623.31 L509.68,622.95 L508.92,622.59 L508.17,622.24 L507.42,621.89 L506.66,621.55 L505.91,621.21 L505.16,620.88 L504.40,620.54 L503.65,620.22 L502.90,619.89 L502.14,619.57 L501.39,619.26 L500.64,618.94 L499.88,618.63 L499.13,618.33 L498.38,618.03 L497.63,617.73 L496.87,617.43 L496.12,617.14 L495.37,616.86 L494.61,616.57 L493.86,616.30 L493.11,616.02 L492.35,615.75 L491.60,615.49 L490.85,615.22 L490.09,614.97 L489.34,614.71 L488.59,614.46 L487.83,614.22 L487.08,613.98 L486.33,613.74 L485.57,613.51 L484.82,613.28 L484.07,613.05 L483.31,612.83 L482.56,612.62 L481.81,612.41 L481.06,612.20 L480.30,612.00 L479.55,611.80 L478.80,611.61 L478.04,611.42 L477.29,611.24 L476.54,611.06 L475.78,610.88 L475.03,610.71 L474.28,610.54 L473.52,610.38 L472.77,610.22 L472.02,610.06 L471.26,609.91 L470.51,609.76 L469.76,609.61 L469.00,609.47 L468.25,609.34 L467.50,609.20 L466.74,609.07 L465.99,608.95 L465.24,608.82 L464.49,608.70 L463.73,608.59 L462.98,608.47 L462.23,608.36 L461.47,608.25 L460.72,608.15 L459.97,608.05 L459.21,607.95 L458.46,607.86 L457.71,607.76 L456.95,607.67 L456.20,607.59 L455.45,607.50 L454.69,607.42 L453.94,607.34 L453.19,607.26 L452.43,607.19 L451.68,607.12 L450.93,607.05 L450.17,606.98 L449.42,606.92 L448.67,606.85 L447.92,606.79 L447.16,606.73 L446.41,606.68 L445.66,606.62 L444.90,606.57 L444.15,606.52 L443.40,606.47 L442.64,606.42 L441.89,606.38 L441.14,606.33 L440.38,606.29 L439.63,606.25 L438.88,606.21 L438.12,606.17 L437.37,606.13 L436.62,606.10 L435.86,606.06 L435.11,606.03 L434.36,606.00 L433.61,605.97 L432.85,605.94 L432.10,605.91 L431.35,605.88 L430.59,605.85 L429.84,605.82 L429.09,605.80 L428.33,605.77 L427.58,605.75 L426.83,605.72 L426.07,605.70 L425.32,605.68 L424.57,605.65 L423.81,605.63 L423.06,605.61 L422.31,605.58 L421.55,605.56 L420.80,605.54 L420.05,605.52 L419.29,605.50 L418.54,605.47 L417.79,605.45 L417.04,605.43 L416.28,605.41 L415.53,605.38 L414.78,605.36 L414.02,605.34 L413.27,605.31 L412.52,605.29 L411.76,605.26 L411.01,605.24 L410.26,605.21 L409.50,605.18 L408.75,605.16 L408.00,605.13 L407.24,605.10 L406.49,605.07 L405.74,605.03 L404.98,605.00 L404.23,604.97 L403.48,604.93 L402.72,604.89 L401.97,604.86 L401.22,604.82 L400.47,604.78 L399.71,604.73 L398.96,604.69 L398.21,604.65 L397.45,604.60 L396.70,604.55 L395.95,604.50 L395.19,604.45 L394.44,604.39 L393.69,604.34 L392.93,604.28 L392.18,604.22 L391.43,604.16 L390.67,604.09 L389.92,604.03 L389.17,603.96 L388.41,603.89 L387.66,603.81 L386.91,603.74 L386.15,603.66 L385.40,603.58 L384.65,603.50 L383.90,603.41 L383.14,603.32 L382.39,603.23 L381.64,603.13 L380.88,603.04 L380.13,602.94 L379.38,602.83 L378.62,602.73 L377.87,602.62 L377.12,602.51 L376.36,602.39 L375.61,602.27 L374.86,602.15 L374.10,602.02 L373.35,601.89 L372.60,601.76 L371.84,601.63 L371.09,601.49 L370.34,601.34 L369.58,601.20 L368.83,601.04 L368.08,600.89 L367.33,600.73 L366.57,600.57 L365.82,600.40 L365.07,600.23 L364.31,600.06 L363.56,599.88 L362.81,599.69 L362.05,599.51 L361.30,599.32 Z" fill="#eccf6c" fill-opacity="0.15" stroke="none"/>
<path d="M361.30,605.34 L362.05,605.38 L362.80,605.43 L363.56,605.49 L364.31,605.55 L365.06,605.62 L365.81,605.70 L366.57,605.78 L367.32,605.87 L368.07,605.97 L368.82,606.07 L369.57,606.18 L370.33,606.29 L371.08,606.41 L371.83,606.53 L372.58,606.66 L373.33,606.79 L374.09,606.92 L374.84,607.06 L375.59,607.21 L376.34,607.35 L377.10,607.50 L377.85,607.65 L378.60,607.80 L379.35,607.96 L380.10,608.12 L380.86,608.28 L381.61,608.44 L382.36,608.60 L383.11,608.77 L383.87,608.93 L384.62,609.10 L385.37,609.26 L386.12,609.43 L386.87,609.59 L387.63,609.76 L388.38,609.92 L389.13,610.09 L389.88,610.25 L390.63,610.41 L391.39,610.57 L392.14,610.72 L392.89,610.88 L393.64,611.03 L394.40,611.18 L395.15,611.33 L395.90,611.47 L396.65,611.61 L397.40,611.75 L398.16,611.88 L398.91,612.01 L399.66,612.13 L400.41,612.25 L401.17,612.36 L401.92,612.47 L402.67,612.57 L403.42,612.67 L404.17,612.76 L404.93,612.85 L405.68,612.93 L406.43,613.00 L407.18,613.07 L407.93,613.12 L408.69,613.18 L409.44,613.22 L410.19,613.25 L410.94,613.28 L411.70,613.30 L412.45,613.31 L413.20,613.32 L413.95,613.32 L414.70,613.31 L415.46,613.30 L416.21,613.28 L416.96,613.26 L417.71,613.24 L418.47,613.21 L419.22,613.18 L419.97,613.14 L420.72,613.10 L421.47,613.06 L422.23,613.02 L422.98,612.98 L423.73,612.94 L424.48,612.90 L425.23,612.85 L425.99,612.81 L426.74,612.77 L427.49,612.73 L428.24,612.69 L429.00,612.65 L429.75,612.62 L430.50,612.59 L431.25,612.57 L432.00,612.54 L432.76,612.53 L433.51,612.51 L434.26,612.50 L435.01,612.50 L435.77,612.51 L436.52,612.52 L437.27,612.54 L438.02,612.56 L438.77,612.59 L439.53,612.64 L440.28,612.69 L441.03,612.75 L441.78,612.81 L442.53,612.89 L443.29,612.98 L444.04,613.08 L444.79,613.19 L445.54,613.32 L446.30,613.45 L447.05,613.59 L447.80,613.74 L448.55,613.90 L449.30,614.08 L450.06,614.25 L450.81,614.44 L451.56,614.64 L452.31,614.84 L453.07,615.05 L453.82,615.26 L454.57,615.48 L455.32,615.71 L456.07,615.95 L456.83,616.18 L457.58,616.43 L458.33,616.68 L459.08,616.93 L459.83,617.18 L460.59,617.44 L461.34,617.71 L462.09,617.97 L462.84,618.24 L463.60,618.51 L464.35,618.78 L465.10,619.05 L465.85,619.32 L466.60,619.60 L467.36,619.87 L468.11,620.14 L468.86,620.42 L469.61,620.69 L470.37,620.96 L471.12,621.23 L471.87,621.50 L472.62,621.76 L473.37,622.02 L474.13,622.28 L474.88,622.54 L475.63,622.79 L476.38,623.04 L477.13,623.29 L477.89,623.54 L478.64,623.79 L479.39,624.04 L480.14,624.29 L480.90,624.53 L481.65,624.78 L482.40,625.03 L483.15,625.28 L483.90,625.53 L484.66,625.78 L485.41,626.03 L486.16,626.29 L486.91,626.55 L487.67,626.81 L488.42,627.07 L489.17,627.34 L489.92,627.61 L490.67,627.89 L491.43,628.17 L492.18,628.45 L492.93,628.74 L493.68,629.04 L494.43,629.34 L495.19,629.65 L495.94,629.96 L496.69,630.28 L497.44,630.61 L498.20,630.94 L498.95,631.28 L499.70,631.63 L500.45,631.99 L501.20,632.35 L501.96,632.73 L502.71,633.11 L503.46,633.50 L504.21,633.91 L504.97,634.32 L505.72,634.74 L506.47,635.18 L507.22,635.62 L507.97,636.08 L508.73,636.54 L509.48,637.02 L510.23,637.52 L510.98,638.02 L511.73,638.54 L512.49,639.07 L513.24,639.61 L513.99,640.17 L514.74,640.74 L515.50,641.33 L516.25,641.93 L517.00,642.54 L517.75,643.17 L518.50,643.82 L519.26,644.48 L520.01,645.16 L520.76,645.86 L521.51,646.56 L522.27,647.29 L523.02,648.02 L523.77,648.77 L524.52,649.53 L525.27,650.31 L526.03,651.10 L526.78,651.91 L527.53,652.73 L528.28,653.56 L529.03,654.41 L529.79,655.28 L530.54,656.16 L531.29,657.05 L532.04,657.96 L532.80,658.89 L533.55,659.83 L534.30,660.78 L535.05,661.75 L535.80,662.74 L536.56,663.74 L537.31,664.75 L538.06,665.78 L538.81,666.83 L539.57,667.89 L540.32,668.97 L541.07,670.06 L541.82,671.17 L542.57,672.30 L543.33,673.44 L544.08,674.59 L544.83,675.76 L545.58,676.95 L546.33,678.15 L547.09,679.37 L547.84,680.60 L548.59,681.86 L549.34,683.12 L550.10,684.40 L550.85,685.70 L551.60,687.02 L552.35,688.35 L553.10,689.70 L553.86,691.06 L554.61,692.44 L555.36,693.84 L556.11,695.25 L556.87,696.68 L557.62,698.13 L558.37,699.60 L559.12,701.08 L559.87,702.57 L560.63,704.09 L561.38,705.62 L562.13,707.16 L562.88,708.72 L563.63,710.29 L564.39,711.87 L565.14,713.46 L565.89,715.06 L566.64,716.66 L567.40,718.27 L568.15,719.88 L568.90,721.50 L569.65,723.12 L570.40,724.73 L571.16,726.35 L571.91,727.96 L572.66,729.57 L573.41,731.17 L574.17,732.77 L574.92,734.36 L575.67,735.94 L576.42,737.51 L577.17,739.06 L577.93,740.61 L578.68,742.14 L579.43,743.65 L580.18,745.15 L580.93,746.63 L581.69,748.09 L582.44,749.52 L583.19,750.94 L583.94,752.33 L584.70,753.70 L585.45,755.04 L586.20,756.35 L586.20,808.35 L585.45,805.92 L584.70,803.47 L583.94,801.01 L583.19,798.54 L582.44,796.07 L581.69,793.58 L580.93,791.09 L580.18,788.60 L579.43,786.10 L578.68,783.60 L577.93,781.10 L577.17,778.60 L576.42,776.11 L575.67,773.61 L574.92,771.12 L574.17,768.64 L573.41,766.16 L572.66,763.69 L571.91,761.23 L571.16,758.78 L570.40,756.35 L569.65,753.92 L568.90,751.51 L568.15,749.12 L567.40,746.74 L566.64,744.38 L565.89,742.04 L565.14,739.73 L564.39,737.43 L563.63,735.16 L562.88,732.91 L562.13,730.69 L561.38,728.49 L560.63,726.33 L559.87,724.19 L559.12,722.09 L558.37,720.01 L557.62,717.97 L556.87,715.95 L556.11,713.97 L555.36,712.02 L554.61,710.09 L553.86,708.20 L553.10,706.34 L552.35,704.51 L551.60,702.70 L550.85,700.93 L550.10,699.18 L549.34,697.47 L548.59,695.78 L547.84,694.13 L547.09,692.50 L546.33,690.90 L545.58,689.33 L544.83,687.79 L544.08,686.28 L543.33,684.79 L542.57,683.33 L541.82,681.91 L541.07,680.51 L540.32,679.13 L539.57,677.79 L538.81,676.47 L538.06,675.18 L537.31,673.92 L536.56,672.68 L535.80,671.47 L535.05,670.29 L534.30,669.13 L533.55,668.00 L532.80,666.90 L532.04,665.82 L531.29,664.77 L530.54,663.75 L529.79,662.75 L529.03,661.78 L528.28,660.83 L527.53,659.91 L526.78,659.01 L526.03,658.13 L525.27,657.28 L524.52,656.46 L523.77,655.65 L523.02,654.87 L522.27,654.11 L521.51,653.37 L520.76,652.66 L520.01,651.96 L519.26,651.28 L518.50,650.62 L517.75,649.97 L517.00,649.34 L516.25,648.73 L515.50,648.13 L514.74,647.54 L513.99,646.97 L513.24,646.41 L512.49,645.87 L511.73,645.34 L510.98,644.82 L510.23,644.32 L509.48,643.82 L508.73,643.34 L507.97,642.88 L507.22,642.42 L506.47,641.98 L505.72,641.54 L504.97,641.12 L504.21,640.71 L503.46,640.30 L502.71,639.91 L501.96,639.53 L501.20,639.15 L500.45,638.79 L499.70,638.43 L498.95,638.08 L498.20,637.74 L497.44,637.41 L496.69,637.08 L495.94,636.76 L495.19,636.45 L494.43,636.14 L493.68,635.84 L492.93,635.54 L492.18,635.25 L491.43,634.97 L490.67,634.69 L489.92,634.41 L489.17,634.14 L488.42,633.87 L487.67,633.61 L486.91,633.35 L486.16,633.09 L485.41,632.83 L484.66,632.58 L483.90,632.33 L483.15,632.08 L482.40,631.83 L481.65,631.58 L480.90,631.33 L480.14,631.09 L479.39,630.84 L478.64,630.59 L477.89,630.34 L477.13,630.09 L476.38,629.84 L475.63,629.59 L474.88,629.34 L474.13,629.08 L473.37,628.82 L472.62,628.56 L471.87,628.30 L471.12,628.03 L470.37,627.76 L469.61,627.49 L468.86,627.22 L468.11,626.94 L467.36,626.67 L466.60,626.40 L465.85,626.12 L465.10,625.85 L464.35,625.58 L463.60,625.31 L462.84,625.04 L462.09,624.77 L461.34,624.51 L460.59,624.24 L459.83,623.98 L459.08,623.73 L458.33,623.48 L457.58,623.23 L456.83,622.98 L456.07,622.75 L455.32,622.51 L454.57,622.28 L453.82,622.06 L453.07,621.85 L452.31,621.64 L451.56,621.44 L450.81,621.24 L450.06,621.05 L449.30,620.88 L448.55,620.70 L447.80,620.54 L447.05,620.39 L446.30,620.25 L445.54,620.12 L444.79,619.99 L444.04,619.88 L443.29,619.78 L442.53,619.69 L441.78,619.61 L441.03,619.55 L440.28,619.49 L439.53,619.44 L438.77,619.39 L438.02,619.36 L437.27,619.34 L436.52,619.32 L435.77,619.31 L435.01,619.30 L434.26,619.30 L433.51,619.31 L432.76,619.33 L432.00,619.34 L431.25,619.37 L430.50,619.39 L429.75,619.42 L429.00,619.45 L428.24,619.49 L427.49,619.53 L426.74,619.57 L425.99,619.61 L425.23,619.65 L424.48,619.70 L423.73,619.74 L422.98,619.78 L422.23,619.82 L421.47,619.86 L420.72,619.90 L419.97,619.94 L419.22,619.98 L418.47,620.01 L417.71,620.04 L416.96,620.06 L416.21,620.08 L415.46,620.10 L414.70,620.11 L413.95,620.12 L413.20,620.12 L412.45,620.11 L411.70,620.10 L410.94,620.08 L410.19,620.05 L409.44,620.02 L408.69,619.98 L407.93,619.92 L407.18,619.87 L406.43,619.80 L405.68,619.73 L404.93,619.65 L404.17,619.56 L403.42,619.47 L402.67,619.37 L401.92,619.27 L401.17,619.16 L400.41,619.05 L399.66,618.93 L398.91,618.81 L398.16,618.68 L397.40,618.55 L396.65,618.41 L395.90,618.27 L395.15,618.13 L394.40,617.98 L393.64,617.83 L392.89,617.68 L392.14,617.52 L391.39,617.37 L390.63,617.21 L389.88,617.05 L389.13,616.89 L388.38,616.72 L387.63,616.56 L386.87,616.39 L386.12,616.23 L385.37,616.06 L384.62,615.90 L383.87,615.73 L383.11,615.57 L382.36,615.40 L381.61,615.24 L380.86,615.08 L380.10,614.92 L379.35,614.76 L378.60,614.60 L377.85,614.45 L377.10,614.30 L376.34,614.15 L375.59,614.01 L374.84,613.86 L374.09,613.72 L373.33,613.59 L372.58,613.46 L371.83,613.33 L371.08,613.21 L370.33,613.09 L369.57,612.98 L368.82,612.87 L368.07,612.77 L367.32,612.67 L366.57,612.58 L365.81,612.50 L365.06,612.42 L364.31,612.35 L363.56,612.29 L362.80,612.23 L362.05,612.18 L361.30,612.14 Z" fill="#c24d4e" fill-opacity="0.15" stroke="none"/>
<line x1="350.10" y1="577.90" x2="599.00" y2="577.90" stroke="#808080" stroke-width="1.9" stroke-dasharray="8.75 8.71"/>
<path d="M361.30,587.88 L362.05,587.88 L362.81,587.88 L363.56,587.88 L364.31,587.88 L365.07,587.88 L365.82,587.89 L366.57,587.89 L367.33,587.90 L368.08,587.90 L368.83,587.91 L369.58,587.91 L370.34,587.92 L371.09,587.93 L371.84,587.94 L372.60,587.95 L373.35,587.96 L374.10,587.97 L374.86,587.98 L375.61,587.99 L376.36,588.00 L377.12,588.01 L377.87,588.02 L378.62,588.04 L379.38,588.05 L380.13,588.06 L380.88,588.07 L381.64,588.09 L382.39,588.10 L383.14,588.11 L383.90,588.12 L384.65,588.14 L385.40,588.15 L386.15,588.16 L386.91,588.17 L387.66,588.18 L388.41,588.19 L389.17,588.21 L389.92,588.22 L390.67,588.23 L391.43,588.24 L392.18,588.25 L392.93,588.25 L393.69,588.26 L394.44,588.27 L395.19,588.28 L395.95,588.29 L396.70,588.29 L397.45,588.30 L398.21,588.30 L398.96,588.31 L399.71,588.31 L400.47,588.31 L401.22,588.31 L401.97,588.31 L402.72,588.31 L403.48,588.31 L404.23,588.31 L404.98,588.31 L405.74,588.30 L406.49,588.29 L407.24,588.29 L408.00,588.28 L408.75,588.27 L409.50,588.26 L410.26,588.25 L411.01,588.24 L411.76,588.22 L412.52,588.21 L413.27,588.19 L414.02,588.17 L414.78,588.15 L415.53,588.13 L416.28,588.10 L417.04,588.08 L417.79,588.05 L418.54,588.02 L419.29,587.99 L420.05,587.96 L420.80,587.93 L421.55,587.89 L422.31,587.86 L423.06,587.82 L423.81,587.78 L424.57,587.73 L425.32,587.69 L426.07,587.65 L426.83,587.60 L427.58,587.55 L428.33,587.50 L429.09,587.45 L429.84,587.40 L430.59,587.35 L431.35,587.29 L432.10,587.24 L432.85,587.18 L433.61,587.12 L434.36,587.06 L435.11,587.00 L435.86,586.94 L436.62,586.88 L437.37,586.82 L438.12,586.76 L438.88,586.69 L439.63,586.63 L440.38,586.56 L441.14,586.50 L441.89,586.43 L442.64,586.36 L443.40,586.30 L444.15,586.23 L444.90,586.16 L445.66,586.09 L446.41,586.02 L447.16,585.95 L447.92,585.88 L448.67,585.81 L449.42,585.74 L450.17,585.67 L450.93,585.60 L451.68,585.53 L452.43,585.46 L453.19,585.39 L453.94,585.32 L454.69,585.25 L455.45,585.18 L456.20,585.11 L456.95,585.04 L457.71,584.97 L458.46,584.90 L459.21,584.84 L459.97,584.77 L460.72,584.70 L461.47,584.63 L462.23,584.57 L462.98,584.50 L463.73,584.44 L464.49,584.37 L465.24,584.31 L465.99,584.24 L466.74,584.18 L467.50,584.12 L468.25,584.06 L469.00,584.00 L469.76,583.94 L470.51,583.88 L471.26,583.83 L472.02,583.77 L472.77,583.72 L473.52,583.66 L474.28,583.61 L475.03,583.56 L475.78,583.51 L476.54,583.47 L477.29,583.42 L478.04,583.37 L478.80,583.33 L479.55,583.29 L480.30,583.25 L481.06,583.21 L481.81,583.17 L482.56,583.14 L483.31,583.11 L484.07,583.08 L484.82,583.05 L485.57,583.03 L486.33,583.00 L487.08,582.99 L487.83,582.97 L488.59,582.96 L489.34,582.95 L490.09,582.95 L490.85,582.95 L491.60,582.95 L492.35,582.96 L493.11,582.97 L493.86,582.99 L494.61,583.01 L495.37,583.04 L496.12,583.07 L496.87,583.11 L497.63,583.15 L498.38,583.20 L499.13,583.25 L499.88,583.31 L500.64,583.38 L501.39,583.45 L502.14,583.53 L502.90,583.62 L503.65,583.71 L504.40,583.81 L505.16,583.91 L505.91,584.03 L506.66,584.15 L507.42,584.28 L508.17,584.41 L508.92,584.55 L509.68,584.71 L510.43,584.87 L511.18,585.03 L511.94,585.21 L512.69,585.40 L513.44,585.59 L514.19,585.80 L514.95,586.01 L515.70,586.23 L516.45,586.46 L517.21,586.70 L517.96,586.95 L518.71,587.21 L519.47,587.49 L520.22,587.77 L520.97,588.06 L521.73,588.36 L522.48,588.68 L523.23,589.00 L523.99,589.34 L524.74,589.68 L525.49,590.04 L526.25,590.41 L527.00,590.79 L527.75,591.19 L528.51,591.59 L529.26,592.01 L530.01,592.44 L530.76,592.89 L531.52,593.34 L532.27,593.81 L533.02,594.29 L533.78,594.79 L534.53,595.30 L535.28,595.82 L536.04,596.36 L536.79,596.91 L537.54,597.48 L538.30,598.06 L539.05,598.67 L539.80,599.29 L540.56,599.93 L541.31,600.58 L542.06,601.26 L542.82,601.96 L543.57,602.68 L544.32,603.42 L545.08,604.18 L545.83,604.96 L546.58,605.77 L547.33,606.60 L548.09,607.46 L548.84,608.34 L549.59,609.25 L550.35,610.18 L551.10,611.14 L551.85,612.13 L552.61,613.15 L553.36,614.20 L554.11,615.27 L554.87,616.38 L555.62,617.52 L556.37,618.68 L557.13,619.89 L557.88,621.12 L558.63,622.39 L559.39,623.69 L560.14,625.02 L560.89,626.39 L561.65,627.80 L562.40,629.24 L563.15,630.72 L563.90,632.22 L564.66,633.75 L565.41,635.32 L566.16,636.90 L566.92,638.51 L567.67,640.14 L568.42,641.79 L569.18,643.46 L569.93,645.14 L570.68,646.83 L571.44,648.54 L572.19,650.25 L572.94,651.97 L573.70,653.70 L574.45,655.43 L575.20,657.16 L575.96,658.89 L576.71,660.62 L577.46,662.34 L578.22,664.05 L578.97,665.76 L579.72,667.45 L580.47,669.14 L581.23,670.80 L581.98,672.46 L582.73,674.09 L583.49,675.70 L584.24,677.29 L584.99,678.85 L585.75,680.39 L586.50,681.89" fill="none" stroke="#0c365a" stroke-width="1.80" stroke-linecap="butt" stroke-linejoin="round"/>
<path d="M361.30,592.76 L362.05,592.88 L362.80,592.99 L363.56,593.10 L364.31,593.21 L365.06,593.31 L365.81,593.42 L366.57,593.51 L367.32,593.61 L368.07,593.70 L368.82,593.79 L369.57,593.87 L370.33,593.96 L371.08,594.04 L371.83,594.11 L372.58,594.19 L373.33,594.26 L374.09,594.33 L374.84,594.39 L375.59,594.46 L376.34,594.52 L377.10,594.58 L377.85,594.63 L378.60,594.68 L379.35,594.73 L380.10,594.78 L380.86,594.83 L381.61,594.87 L382.36,594.91 L383.11,594.95 L383.87,594.98 L384.62,595.02 L385.37,595.05 L386.12,595.08 L386.87,595.11 L387.63,595.13 L388.38,595.16 L389.13,595.18 L389.88,595.20 L390.63,595.22 L391.39,595.23 L392.14,595.25 L392.89,595.26 L393.64,595.27 L394.40,595.28 L395.15,595.29 L395.90,595.29 L396.65,595.30 L397.40,595.30 L398.16,595.30 L398.91,595.30 L399.66,595.30 L400.41,595.30 L401.17,595.30 L401.92,595.29 L402.67,595.28 L403.42,595.28 L404.17,595.27 L404.93,595.26 L405.68,595.25 L406.43,595.24 L407.18,595.22 L407.93,595.21 L408.69,595.19 L409.44,595.18 L410.19,595.16 L410.94,595.15 L411.70,595.13 L412.45,595.11 L413.20,595.09 L413.95,595.07 L414.70,595.05 L415.46,595.03 L416.21,595.01 L416.96,594.99 L417.71,594.97 L418.47,594.94 L419.22,594.92 L419.97,594.90 L420.72,594.88 L421.47,594.85 L422.23,594.83 L422.98,594.81 L423.73,594.78 L424.48,594.76 L425.23,594.74 L425.99,594.71 L426.74,594.69 L427.49,594.67 L428.24,594.64 L429.00,594.62 L429.75,594.60 L430.50,594.58 L431.25,594.55 L432.00,594.53 L432.76,594.51 L433.51,594.49 L434.26,594.47 L435.01,594.45 L435.77,594.43 L436.52,594.42 L437.27,594.40 L438.02,594.38 L438.77,594.37 L439.53,594.35 L440.28,594.34 L441.03,594.32 L441.78,594.31 L442.53,594.30 L443.29,594.29 L444.04,594.28 L444.79,594.27 L445.54,594.26 L446.30,594.26 L447.05,594.25 L447.80,594.25 L448.55,594.25 L449.30,594.25 L450.06,594.25 L450.81,594.25 L451.56,594.25 L452.31,594.26 L453.07,594.26 L453.82,594.27 L454.57,594.28 L455.32,594.29 L456.07,594.30 L456.83,594.32 L457.58,594.34 L458.33,594.35 L459.08,594.37 L459.83,594.40 L460.59,594.42 L461.34,594.45 L462.09,594.48 L462.84,594.51 L463.60,594.54 L464.35,594.57 L465.10,594.61 L465.85,594.65 L466.60,594.69 L467.36,594.73 L468.11,594.78 L468.86,594.83 L469.61,594.88 L470.37,594.93 L471.12,594.99 L471.87,595.05 L472.62,595.11 L473.37,595.17 L474.13,595.24 L474.88,595.31 L475.63,595.38 L476.38,595.45 L477.13,595.53 L477.89,595.61 L478.64,595.69 L479.39,595.78 L480.14,595.87 L480.90,595.96 L481.65,596.06 L482.40,596.16 L483.15,596.26 L483.90,596.37 L484.66,596.48 L485.41,596.59 L486.16,596.71 L486.91,596.83 L487.67,596.96 L488.42,597.09 L489.17,597.22 L489.92,597.37 L490.67,597.51 L491.43,597.66 L492.18,597.82 L492.93,597.98 L493.68,598.15 L494.43,598.32 L495.19,598.50 L495.94,598.68 L496.69,598.87 L497.44,599.07 L498.20,599.27 L498.95,599.48 L499.70,599.70 L500.45,599.92 L501.20,600.15 L501.96,600.39 L502.71,600.63 L503.46,600.89 L504.21,601.15 L504.97,601.41 L505.72,601.69 L506.47,601.97 L507.22,602.27 L507.97,602.57 L508.73,602.88 L509.48,603.20 L510.23,603.52 L510.98,603.86 L511.73,604.21 L512.49,604.57 L513.24,604.94 L513.99,605.33 L514.74,605.72 L515.50,606.13 L516.25,606.55 L517.00,606.98 L517.75,607.43 L518.50,607.89 L519.26,608.36 L520.01,608.85 L520.76,609.36 L521.51,609.88 L522.27,610.41 L523.02,610.97 L523.77,611.54 L524.52,612.12 L525.27,612.72 L526.03,613.35 L526.78,613.98 L527.53,614.64 L528.28,615.32 L529.03,616.01 L529.79,616.73 L530.54,617.46 L531.29,618.22 L532.04,619.00 L532.80,619.79 L533.55,620.61 L534.30,621.45 L535.05,622.32 L535.80,623.20 L536.56,624.11 L537.31,625.04 L538.06,626.00 L538.81,626.98 L539.57,627.98 L540.32,629.00 L541.07,630.05 L541.82,631.13 L542.57,632.22 L543.33,633.35 L544.08,634.49 L544.83,635.67 L545.58,636.86 L546.33,638.09 L547.09,639.34 L547.84,640.61 L548.59,641.91 L549.34,643.24 L550.10,644.60 L550.85,645.98 L551.60,647.39 L552.35,648.82 L553.10,650.29 L553.86,651.78 L554.61,653.30 L555.36,654.85 L556.11,656.42 L556.87,658.03 L557.62,659.66 L558.37,661.33 L559.12,663.02 L559.87,664.74 L560.63,666.49 L561.38,668.27 L562.13,670.08 L562.88,671.91 L563.63,673.78 L564.39,675.68 L565.14,677.61 L565.89,679.56 L566.64,681.55 L567.40,683.57 L568.15,685.61 L568.90,687.69 L569.65,689.80 L570.40,691.94 L571.16,694.11 L571.91,696.31 L572.66,698.54 L573.41,700.80 L574.17,703.09 L574.92,705.41 L575.67,707.77 L576.42,710.15 L577.17,712.57 L577.93,715.02 L578.68,717.50 L579.43,720.01 L580.18,722.56 L580.93,725.13 L581.69,727.74 L582.44,730.38 L583.19,733.05 L583.94,735.76 L584.70,738.50 L585.45,741.27 L586.20,744.07" fill="none" stroke="#7da2cf" stroke-width="1.80" stroke-linecap="butt" stroke-linejoin="round"/>
<path d="M361.30,596.32 L362.05,596.51 L362.81,596.69 L363.56,596.88 L364.31,597.06 L365.07,597.23 L365.82,597.40 L366.57,597.57 L367.33,597.73 L368.08,597.89 L368.83,598.04 L369.58,598.20 L370.34,598.34 L371.09,598.49 L371.84,598.63 L372.60,598.76 L373.35,598.89 L374.10,599.02 L374.86,599.15 L375.61,599.27 L376.36,599.39 L377.12,599.51 L377.87,599.62 L378.62,599.73 L379.38,599.83 L380.13,599.94 L380.88,600.04 L381.64,600.13 L382.39,600.23 L383.14,600.32 L383.90,600.41 L384.65,600.50 L385.40,600.58 L386.15,600.66 L386.91,600.74 L387.66,600.81 L388.41,600.89 L389.17,600.96 L389.92,601.03 L390.67,601.09 L391.43,601.16 L392.18,601.22 L392.93,601.28 L393.69,601.34 L394.44,601.39 L395.19,601.45 L395.95,601.50 L396.70,601.55 L397.45,601.60 L398.21,601.65 L398.96,601.69 L399.71,601.73 L400.47,601.78 L401.22,601.82 L401.97,601.86 L402.72,601.89 L403.48,601.93 L404.23,601.97 L404.98,602.00 L405.74,602.03 L406.49,602.07 L407.24,602.10 L408.00,602.13 L408.75,602.16 L409.50,602.18 L410.26,602.21 L411.01,602.24 L411.76,602.26 L412.52,602.29 L413.27,602.31 L414.02,602.34 L414.78,602.36 L415.53,602.38 L416.28,602.41 L417.04,602.43 L417.79,602.45 L418.54,602.47 L419.29,602.50 L420.05,602.52 L420.80,602.54 L421.55,602.56 L422.31,602.58 L423.06,602.61 L423.81,602.63 L424.57,602.65 L425.32,602.68 L426.07,602.70 L426.83,602.72 L427.58,602.75 L428.33,602.77 L429.09,602.80 L429.84,602.82 L430.59,602.85 L431.35,602.88 L432.10,602.91 L432.85,602.94 L433.61,602.97 L434.36,603.00 L435.11,603.03 L435.86,603.06 L436.62,603.10 L437.37,603.13 L438.12,603.17 L438.88,603.21 L439.63,603.25 L440.38,603.29 L441.14,603.33 L441.89,603.38 L442.64,603.42 L443.40,603.47 L444.15,603.52 L444.90,603.57 L445.66,603.62 L446.41,603.68 L447.16,603.73 L447.92,603.79 L448.67,603.85 L449.42,603.92 L450.17,603.98 L450.93,604.05 L451.68,604.12 L452.43,604.19 L453.19,604.26 L453.94,604.34 L454.69,604.42 L455.45,604.50 L456.20,604.59 L456.95,604.67 L457.71,604.76 L458.46,604.86 L459.21,604.95 L459.97,605.05 L460.72,605.15 L461.47,605.25 L462.23,605.36 L462.98,605.47 L463.73,605.59 L464.49,605.70 L465.24,605.82 L465.99,605.95 L466.74,606.07 L467.50,606.20 L468.25,606.34 L469.00,606.47 L469.76,606.61 L470.51,606.76 L471.26,606.91 L472.02,607.06 L472.77,607.22 L473.52,607.38 L474.28,607.54 L475.03,607.71 L475.78,607.88 L476.54,608.06 L477.29,608.24 L478.04,608.42 L478.80,608.61 L479.55,608.80 L480.30,609.00 L481.06,609.20 L481.81,609.41 L482.56,609.62 L483.31,609.83 L484.07,610.05 L484.82,610.27 L485.57,610.50 L486.33,610.73 L487.08,610.96 L487.83,611.20 L488.59,611.44 L489.34,611.69 L490.09,611.94 L490.85,612.19 L491.60,612.45 L492.35,612.71 L493.11,612.98 L493.86,613.25 L494.61,613.52 L495.37,613.79 L496.12,614.07 L496.87,614.36 L497.63,614.65 L498.38,614.94 L499.13,615.23 L499.88,615.53 L500.64,615.83 L501.39,616.13 L502.14,616.44 L502.90,616.75 L503.65,617.07 L504.40,617.39 L505.16,617.71 L505.91,618.03 L506.66,618.36 L507.42,618.69 L508.17,619.03 L508.92,619.37 L509.68,619.71 L510.43,620.06 L511.18,620.42 L511.94,620.78 L512.69,621.15 L513.44,621.52 L514.19,621.91 L514.95,622.30 L515.70,622.70 L516.45,623.11 L517.21,623.52 L517.96,623.95 L518.71,624.39 L519.47,624.84 L520.22,625.30 L520.97,625.77 L521.73,626.26 L522.48,626.75 L523.23,627.26 L523.99,627.79 L524.74,628.32 L525.49,628.88 L526.25,629.45 L527.00,630.03 L527.75,630.64 L528.51,631.26 L529.26,631.91 L530.01,632.58 L530.76,633.28 L531.52,634.00 L532.27,634.75 L533.02,635.53 L533.78,636.34 L534.53,637.19 L535.28,638.06 L536.04,638.97 L536.79,639.90 L537.54,640.87 L538.30,641.87 L539.05,642.90 L539.80,643.95 L540.56,645.04 L541.31,646.15 L542.06,647.29 L542.82,648.46 L543.57,649.65 L544.32,650.88 L545.08,652.12 L545.83,653.40 L546.58,654.69 L547.33,656.02 L548.09,657.36 L548.84,658.73 L549.59,660.12 L550.35,661.54 L551.10,662.97 L551.85,664.43 L552.61,665.91 L553.36,667.41 L554.11,668.93 L554.87,670.47 L555.62,672.03 L556.37,673.61 L557.13,675.21 L557.88,676.82 L558.63,678.45 L559.39,680.10 L560.14,681.77 L560.89,683.45 L561.65,685.14 L562.40,686.85 L563.15,688.56 L563.90,690.28 L564.66,692.01 L565.41,693.74 L566.16,695.48 L566.92,697.21 L567.67,698.94 L568.42,700.66 L569.18,702.38 L569.93,704.10 L570.68,705.80 L571.44,707.49 L572.19,709.16 L572.94,710.82 L573.70,712.46 L574.45,714.08 L575.20,715.68 L575.96,717.26 L576.71,718.81 L577.46,720.33 L578.22,721.82 L578.97,723.28 L579.72,724.71 L580.47,726.10 L581.23,727.45 L581.98,728.76 L582.73,730.03 L583.49,731.26 L584.24,732.44 L584.99,733.57 L585.75,734.66 L586.50,735.69" fill="none" stroke="#eccf6c" stroke-width="1.80" stroke-linecap="butt" stroke-linejoin="round"/>
<path d="M361.30,608.74 L362.05,608.78 L362.80,608.83 L363.56,608.89 L364.31,608.95 L365.06,609.02 L365.81,609.10 L366.57,609.18 L367.32,609.27 L368.07,609.37 L368.82,609.47 L369.57,609.58 L370.33,609.69 L371.08,609.81 L371.83,609.93 L372.58,610.06 L373.33,610.19 L374.09,610.32 L374.84,610.46 L375.59,610.61 L376.34,610.75 L377.10,610.90 L377.85,611.05 L378.60,611.20 L379.35,611.36 L380.10,611.52 L380.86,611.68 L381.61,611.84 L382.36,612.00 L383.11,612.17 L383.87,612.33 L384.62,612.50 L385.37,612.66 L386.12,612.83 L386.87,612.99 L387.63,613.16 L388.38,613.32 L389.13,613.49 L389.88,613.65 L390.63,613.81 L391.39,613.97 L392.14,614.12 L392.89,614.28 L393.64,614.43 L394.40,614.58 L395.15,614.73 L395.90,614.87 L396.65,615.01 L397.40,615.15 L398.16,615.28 L398.91,615.41 L399.66,615.53 L400.41,615.65 L401.17,615.76 L401.92,615.87 L402.67,615.97 L403.42,616.07 L404.17,616.16 L404.93,616.25 L405.68,616.33 L406.43,616.40 L407.18,616.47 L407.93,616.52 L408.69,616.58 L409.44,616.62 L410.19,616.65 L410.94,616.68 L411.70,616.70 L412.45,616.71 L413.20,616.72 L413.95,616.72 L414.70,616.71 L415.46,616.70 L416.21,616.68 L416.96,616.66 L417.71,616.64 L418.47,616.61 L419.22,616.58 L419.97,616.54 L420.72,616.50 L421.47,616.46 L422.23,616.42 L422.98,616.38 L423.73,616.34 L424.48,616.30 L425.23,616.25 L425.99,616.21 L426.74,616.17 L427.49,616.13 L428.24,616.09 L429.00,616.05 L429.75,616.02 L430.50,615.99 L431.25,615.97 L432.00,615.94 L432.76,615.93 L433.51,615.91 L434.26,615.90 L435.01,615.90 L435.77,615.91 L436.52,615.92 L437.27,615.94 L438.02,615.96 L438.77,615.99 L439.53,616.04 L440.28,616.09 L441.03,616.15 L441.78,616.21 L442.53,616.29 L443.29,616.38 L444.04,616.48 L444.79,616.59 L445.54,616.72 L446.30,616.85 L447.05,616.99 L447.80,617.14 L448.55,617.30 L449.30,617.48 L450.06,617.65 L450.81,617.84 L451.56,618.04 L452.31,618.24 L453.07,618.45 L453.82,618.66 L454.57,618.88 L455.32,619.11 L456.07,619.35 L456.83,619.58 L457.58,619.83 L458.33,620.08 L459.08,620.33 L459.83,620.58 L460.59,620.84 L461.34,621.11 L462.09,621.37 L462.84,621.64 L463.60,621.91 L464.35,622.18 L465.10,622.45 L465.85,622.72 L466.60,623.00 L467.36,623.27 L468.11,623.54 L468.86,623.82 L469.61,624.09 L470.37,624.36 L471.12,624.63 L471.87,624.90 L472.62,625.16 L473.37,625.42 L474.13,625.68 L474.88,625.94 L475.63,626.19 L476.38,626.44 L477.13,626.69 L477.89,626.94 L478.64,627.19 L479.39,627.44 L480.14,627.69 L480.90,627.93 L481.65,628.18 L482.40,628.43 L483.15,628.68 L483.90,628.93 L484.66,629.18 L485.41,629.43 L486.16,629.69 L486.91,629.95 L487.67,630.21 L488.42,630.47 L489.17,630.74 L489.92,631.01 L490.67,631.29 L491.43,631.57 L492.18,631.85 L492.93,632.14 L493.68,632.44 L494.43,632.74 L495.19,633.05 L495.94,633.36 L496.69,633.68 L497.44,634.01 L498.20,634.34 L498.95,634.68 L499.70,635.03 L500.45,635.39 L501.20,635.75 L501.96,636.13 L502.71,636.51 L503.46,636.90 L504.21,637.31 L504.97,637.72 L505.72,638.14 L506.47,638.58 L507.22,639.02 L507.97,639.48 L508.73,639.94 L509.48,640.42 L510.23,640.92 L510.98,641.42 L511.73,641.94 L512.49,642.47 L513.24,643.01 L513.99,643.57 L514.74,644.14 L515.50,644.73 L516.25,645.33 L517.00,645.94 L517.75,646.57 L518.50,647.22 L519.26,647.88 L520.01,648.56 L520.76,649.26 L521.51,649.97 L522.27,650.70 L523.02,651.45 L523.77,652.21 L524.52,652.99 L525.27,653.80 L526.03,654.62 L526.78,655.46 L527.53,656.32 L528.28,657.20 L529.03,658.09 L529.79,659.01 L530.54,659.95 L531.29,660.91 L532.04,661.89 L532.80,662.89 L533.55,663.91 L534.30,664.96 L535.05,666.02 L535.80,667.10 L536.56,668.21 L537.31,669.33 L538.06,670.48 L538.81,671.65 L539.57,672.84 L540.32,674.05 L541.07,675.28 L541.82,676.54 L542.57,677.82 L543.33,679.11 L544.08,680.43 L544.83,681.78 L545.58,683.14 L546.33,684.53 L547.09,685.93 L547.84,687.37 L548.59,688.82 L549.34,690.30 L550.10,691.79 L550.85,693.32 L551.60,694.86 L552.35,696.43 L553.10,698.02 L553.86,699.63 L554.61,701.27 L555.36,702.93 L556.11,704.61 L556.87,706.32 L557.62,708.05 L558.37,709.80 L559.12,711.58 L559.87,713.38 L560.63,715.21 L561.38,717.06 L562.13,718.93 L562.88,720.82 L563.63,722.73 L564.39,724.65 L565.14,726.59 L565.89,728.55 L566.64,730.52 L567.40,732.51 L568.15,734.50 L568.90,736.51 L569.65,738.52 L570.40,740.54 L571.16,742.57 L571.91,744.60 L572.66,746.63 L573.41,748.67 L574.17,750.70 L574.92,752.74 L575.67,754.78 L576.42,756.81 L577.17,758.83 L577.93,760.86 L578.68,762.87 L579.43,764.88 L580.18,766.87 L580.93,768.86 L581.69,770.83 L582.44,772.80 L583.19,774.74 L583.94,776.67 L584.70,778.58 L585.45,780.48 L586.20,782.35" fill="none" stroke="#c24d4e" stroke-width="1.80" stroke-linecap="butt" stroke-linejoin="round"/>
<line x1="549.20" y1="818.39" x2="549.20" y2="562.00" stroke="#000" stroke-width="2.3" stroke-dasharray="2.18 6.54"/>
</g>
<rect x="351.20" y="567.00" width="245.80" height="250.00" fill="none" stroke="#333333" stroke-width="2.1"/>
<line x1="347.60" y1="579.20" x2="350.20" y2="579.20" stroke="#4d4d4d" stroke-width="1.0"/>
<text x="345.60" y="582.80" font-size="10.00" font-weight="bold" fill="#4d4d4d" text-anchor="end" >60</text>
<line x1="347.60" y1="613.50" x2="350.20" y2="613.50" stroke="#4d4d4d" stroke-width="1.0"/>
<text x="345.60" y="617.10" font-size="10.00" font-weight="bold" fill="#4d4d4d" text-anchor="end" >55</text>
<line x1="347.60" y1="647.80" x2="350.20" y2="647.80" stroke="#4d4d4d" stroke-width="1.0"/>
<text x="345.60" y="651.40" font-size="10.00" font-weight="bold" fill="#4d4d4d" text-anchor="end" >50</text>
<line x1="347.60" y1="682.10" x2="350.20" y2="682.10" stroke="#4d4d4d" stroke-width="1.0"/>
<text x="345.60" y="685.70" font-size="10.00" font-weight="bold" fill="#4d4d4d" text-anchor="end" >45</text>
<line x1="347.60" y1="716.40" x2="350.20" y2="716.40" stroke="#4d4d4d" stroke-width="1.0"/>
<text x="345.60" y="720.00" font-size="10.00" font-weight="bold" fill="#4d4d4d" text-anchor="end" >40</text>
<line x1="347.60" y1="750.70" x2="350.20" y2="750.70" stroke="#4d4d4d" stroke-width="1.0"/>
<text x="345.60" y="754.30" font-size="10.00" font-weight="bold" fill="#4d4d4d" text-anchor="end" >35</text>
<line x1="347.60" y1="785.00" x2="350.20" y2="785.00" stroke="#4d4d4d" stroke-width="1.0"/>
<text x="345.60" y="788.60" font-size="10.00" font-weight="bold" fill="#4d4d4d" text-anchor="end" >30</text>
<line x1="361.30" y1="818.00" x2="361.30" y2="820.70" stroke="#4d4d4d" stroke-width="1.0"/>
<text x="361.30" y="829.90" font-size="10.00" font-weight="bold" fill="#4d4d4d" text-anchor="middle" >−10</text>
<line x1="398.88" y1="818.00" x2="398.88" y2="820.70" stroke="#4d4d4d" stroke-width="1.0"/>
<text x="398.88" y="829.90" font-size="10.00" font-weight="bold" fill="#4d4d4d" text-anchor="middle" >−8</text>
<line x1="436.46" y1="818.00" x2="436.46" y2="820.70" stroke="#4d4d4d" stroke-width="1.0"/>
<text x="436.46" y="829.90" font-size="10.00" font-weight="bold" fill="#4d4d4d" text-anchor="middle" >−6</text>
<line x1="474.04" y1="818.00" x2="474.04" y2="820.70" stroke="#4d4d4d" stroke-width="1.0"/>
<text x="474.04" y="829.90" font-size="10.00" font-weight="bold" fill="#4d4d4d" text-anchor="middle" >−4</text>
<line x1="511.62" y1="818.00" x2="511.62" y2="820.70" stroke="#4d4d4d" stroke-width="1.0"/>
<text x="511.62" y="829.90" font-size="10.00" font-weight="bold" fill="#4d4d4d" text-anchor="middle" >−2</text>
<line x1="549.20" y1="818.00" x2="549.20" y2="820.70" stroke="#4d4d4d" stroke-width="1.0"/>
<text x="549.20" y="829.90" font-size="10.00" font-weight="bold" fill="#4d4d4d" text-anchor="middle" >0</text>
<line x1="586.78" y1="818.00" x2="586.78" y2="820.70" stroke="#4d4d4d" stroke-width="1.0"/>
<text x="586.78" y="829.90" font-size="10.00" font-weight="bold" fill="#4d4d4d" text-anchor="middle" >+2</text>
<text x="0" y="0" font-size="10.2" font-weight="bold" fill="#000" text-anchor="middle" transform="translate(330.50,692.00) rotate(-90)">Noctural HRV (RMSSD)</text>
<text x="474.10" y="841.00" font-size="9.30" font-weight="bold" fill="#000" text-anchor="middle" >Exercise Ending Relative to Habitual Sleep Onset (Hours)</text>
<text x="612.20" y="664.00" font-size="10.20" font-weight="bold" fill="#000" text-anchor="start" >Exercise Strain</text>
<rect x="613.2" y="670.50" width="13" height="13" fill="#0c365a" fill-opacity="0.17"/>
<line x1="613.6" y1="677.00" x2="625.6" y2="677.00" stroke="#0c365a" stroke-width="1.9"/>
<text x="631.20" y="680.60" font-size="10.00" font-weight="normal" fill="#1a1a1a" text-anchor="start" >Light</text>
<rect x="613.2" y="685.32" width="13" height="13" fill="#7da2cf" fill-opacity="0.17"/>
<line x1="613.6" y1="691.82" x2="625.6" y2="691.82" stroke="#7da2cf" stroke-width="1.9"/>
<text x="631.20" y="695.42" font-size="10.00" font-weight="normal" fill="#1a1a1a" text-anchor="start" >Moderate</text>
<rect x="613.2" y="700.14" width="13" height="13" fill="#eccf6c" fill-opacity="0.17"/>
<line x1="613.6" y1="706.64" x2="625.6" y2="706.64" stroke="#eccf6c" stroke-width="1.9"/>
<text x="631.20" y="710.24" font-size="10.00" font-weight="normal" fill="#1a1a1a" text-anchor="start" >High</text>
<rect x="613.2" y="714.96" width="13" height="13" fill="#c24d4e" fill-opacity="0.17"/>
<line x1="613.6" y1="721.46" x2="625.6" y2="721.46" stroke="#c24d4e" stroke-width="1.9"/>
<text x="631.20" y="725.06" font-size="10.00" font-weight="normal" fill="#1a1a1a" text-anchor="start" >Maximal</text>
</svg>
</body></html>
